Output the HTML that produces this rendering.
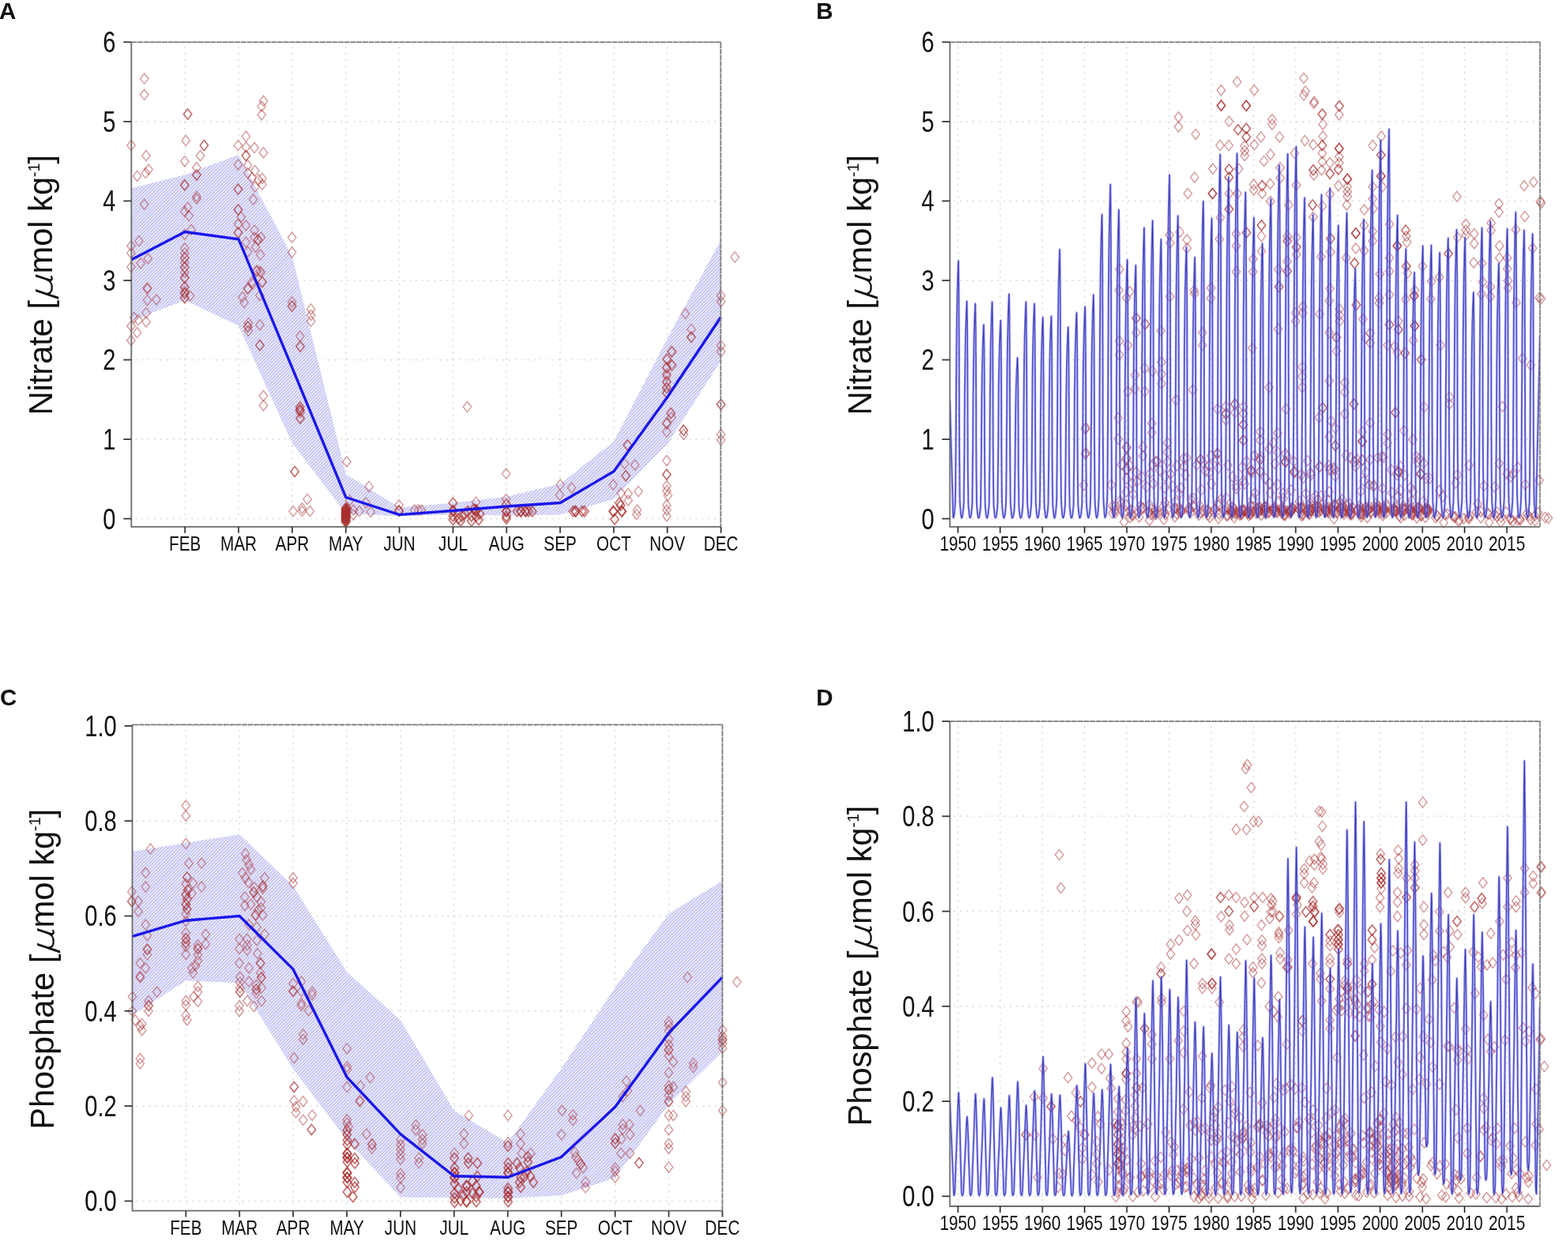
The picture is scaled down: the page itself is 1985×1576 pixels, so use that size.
<!DOCTYPE html>
<html lang="en"><head><meta charset="utf-8"><title>Nitrate and phosphate climatology and time series</title>
<style>
html,body{margin:0;padding:0;background:#fff}
svg{display:block}
text{font-family:"Liberation Sans", sans-serif;fill:#111}
.g{stroke:#dadada;stroke-width:2;stroke-linecap:round;stroke-dasharray:0.01 7.87;fill:none}
.t{stroke:#3a3a3a;stroke-width:1.8}
.th{fill:none;stroke:#7d7dff;stroke-width:3.1;stroke-linejoin:round;stroke-opacity:.55}
.ts{fill:none;stroke:#3a3ab4;stroke-width:1.25;stroke-linejoin:round;stroke-opacity:.95}
.d path{fill:none;stroke:#aa3030;stroke-opacity:.48;stroke-width:1.45}
</style></head><body>
<svg width="1985" height="1576" viewBox="0 0 1985 1576">
<defs>
<pattern id="hatch" width="3" height="3" patternUnits="userSpaceOnUse" patternTransform="rotate(-45)">
<rect width="3" height="3" fill="#ececfd"/><rect width="3" height="1.15" fill="#b6b6ee"/>
</pattern>
</defs>
<rect width="1985" height="1576" fill="#fff"/>

<line x1="234.2" y1="60.3" x2="234.2" y2="658.8" class="g"/>
<line x1="302.0" y1="60.3" x2="302.0" y2="658.8" class="g"/>
<line x1="369.9" y1="60.3" x2="369.9" y2="658.8" class="g"/>
<line x1="437.8" y1="60.3" x2="437.8" y2="658.8" class="g"/>
<line x1="505.6" y1="60.3" x2="505.6" y2="658.8" class="g"/>
<line x1="573.5" y1="60.3" x2="573.5" y2="658.8" class="g"/>
<line x1="641.3" y1="60.3" x2="641.3" y2="658.8" class="g"/>
<line x1="709.1" y1="60.3" x2="709.1" y2="658.8" class="g"/>
<line x1="777.0" y1="60.3" x2="777.0" y2="658.8" class="g"/>
<line x1="844.8" y1="60.3" x2="844.8" y2="658.8" class="g"/>
<line x1="172.3" y1="656.6" x2="910.4" y2="656.6" class="g"/>
<line x1="172.3" y1="556.1" x2="910.4" y2="556.1" class="g"/>
<line x1="172.3" y1="455.5" x2="910.4" y2="455.5" class="g"/>
<line x1="172.3" y1="355.0" x2="910.4" y2="355.0" class="g"/>
<line x1="172.3" y1="254.4" x2="910.4" y2="254.4" class="g"/>
<line x1="172.3" y1="153.9" x2="910.4" y2="153.9" class="g"/>
<line x1="172.3" y1="53.3" x2="910.4" y2="53.3" class="g"/>
<polygon points="166.3,238.3 234.2,221.2 302.0,196.1 369.9,324.8 437.8,600.3 505.6,642.5 573.5,636.5 641.3,628.8 709.1,612.4 777.0,559.1 844.8,428.4 912.7,303.7 912.7,456.5 844.8,562.1 777.0,632.0 709.1,651.6 641.3,652.6 573.5,651.6 505.6,653.6 437.8,650.1 369.9,561.1 302.0,412.3 234.2,380.1 166.3,406.2" fill="url(#hatch)"/>
<g class="d"><path d="M160.8 184.1l5.2 -6.6 5.2 6.6 -5.2 6.6z"/><path d="M160.8 311.2l5.2 -6.6 5.2 6.6 -5.2 6.6z"/><path d="M160.8 320.4l5.2 -6.6 5.2 6.6 -5.2 6.6z"/><path d="M160.8 337.9l5.2 -6.6 5.2 6.6 -5.2 6.6z"/><path d="M179.8 197.0l5.2 -6.6 5.2 6.6 -5.2 6.6z"/><path d="M168.4 222.9l5.2 -6.6 5.2 6.6 -5.2 6.6z"/><path d="M179.1 219.1l5.2 -6.6 5.2 6.6 -5.2 6.6z"/><path d="M182.9 214.5l5.2 -6.6 5.2 6.6 -5.2 6.6z"/><path d="M177.5 258.7l5.2 -6.6 5.2 6.6 -5.2 6.6z"/><path d="M170.7 305.1l5.2 -6.6 5.2 6.6 -5.2 6.6z"/><path d="M173.0 333.3l5.2 -6.6 5.2 6.6 -5.2 6.6z"/><path d="M182.1 327.2l5.2 -6.6 5.2 6.6 -5.2 6.6z"/><path d="M181.3 364.5l5.2 -6.6 5.2 6.6 -5.2 6.6z"/><path d="M230.1 178.0l5.2 -6.6 5.2 6.6 -5.2 6.6z"/><path d="M228.6 204.2l5.2 -6.6 5.2 6.6 -5.2 6.6z"/><path d="M228.6 234.3l5.2 -6.6 5.2 6.6 -5.2 6.6z"/><path d="M228.6 234.3l5.2 -6.6 5.2 6.6 -5.2 6.6z"/><path d="M243.8 212.2l5.2 -6.6 5.2 6.6 -5.2 6.6z"/><path d="M243.8 221.4l5.2 -6.6 5.2 6.6 -5.2 6.6z"/><path d="M243.8 221.4l5.2 -6.6 5.2 6.6 -5.2 6.6z"/><path d="M248.4 197.0l5.2 -6.6 5.2 6.6 -5.2 6.6z"/><path d="M253.2 184.1l5.2 -6.6 5.2 6.6 -5.2 6.6z"/><path d="M253.2 184.1l5.2 -6.6 5.2 6.6 -5.2 6.6z"/><path d="M243.8 248.8l5.2 -6.6 5.2 6.6 -5.2 6.6z"/><path d="M243.8 251.8l5.2 -6.6 5.2 6.6 -5.2 6.6z"/><path d="M232.4 262.5l5.2 -6.6 5.2 6.6 -5.2 6.6z"/><path d="M228.6 267.8l5.2 -6.6 5.2 6.6 -5.2 6.6z"/><path d="M233.9 273.1l5.2 -6.6 5.2 6.6 -5.2 6.6z"/><path d="M236.9 290.7l5.2 -6.6 5.2 6.6 -5.2 6.6z"/><path d="M228.6 296.8l5.2 -6.6 5.2 6.6 -5.2 6.6z"/><path d="M228.6 314.3l5.2 -6.6 5.2 6.6 -5.2 6.6z"/><path d="M228.6 320.4l5.2 -6.6 5.2 6.6 -5.2 6.6z"/><path d="M228.6 326.4l5.2 -6.6 5.2 6.6 -5.2 6.6z"/><path d="M228.6 326.4l5.2 -6.6 5.2 6.6 -5.2 6.6z"/><path d="M228.6 332.5l5.2 -6.6 5.2 6.6 -5.2 6.6z"/><path d="M228.6 338.6l5.2 -6.6 5.2 6.6 -5.2 6.6z"/><path d="M228.6 338.6l5.2 -6.6 5.2 6.6 -5.2 6.6z"/><path d="M228.6 344.7l5.2 -6.6 5.2 6.6 -5.2 6.6z"/><path d="M228.6 352.3l5.2 -6.6 5.2 6.6 -5.2 6.6z"/><path d="M228.6 363.0l5.2 -6.6 5.2 6.6 -5.2 6.6z"/><path d="M228.6 369.1l5.2 -6.6 5.2 6.6 -5.2 6.6z"/><path d="M296.3 184.1l5.2 -6.6 5.2 6.6 -5.2 6.6z"/><path d="M306.2 172.6l5.2 -6.6 5.2 6.6 -5.2 6.6z"/><path d="M306.2 186.3l5.2 -6.6 5.2 6.6 -5.2 6.6z"/><path d="M306.2 197.0l5.2 -6.6 5.2 6.6 -5.2 6.6z"/><path d="M306.2 197.0l5.2 -6.6 5.2 6.6 -5.2 6.6z"/><path d="M316.9 187.1l5.2 -6.6 5.2 6.6 -5.2 6.6z"/><path d="M328.3 193.2l5.2 -6.6 5.2 6.6 -5.2 6.6z"/><path d="M296.3 208.4l5.2 -6.6 5.2 6.6 -5.2 6.6z"/><path d="M308.5 209.2l5.2 -6.6 5.2 6.6 -5.2 6.6z"/><path d="M317.6 216.0l5.2 -6.6 5.2 6.6 -5.2 6.6z"/><path d="M308.5 219.1l5.2 -6.6 5.2 6.6 -5.2 6.6z"/><path d="M313.8 225.2l5.2 -6.6 5.2 6.6 -5.2 6.6z"/><path d="M317.6 236.6l5.2 -6.6 5.2 6.6 -5.2 6.6z"/><path d="M322.2 227.5l5.2 -6.6 5.2 6.6 -5.2 6.6z"/><path d="M326.8 225.9l5.2 -6.6 5.2 6.6 -5.2 6.6z"/><path d="M326.8 233.6l5.2 -6.6 5.2 6.6 -5.2 6.6z"/><path d="M296.3 239.6l5.2 -6.6 5.2 6.6 -5.2 6.6z"/><path d="M296.3 239.6l5.2 -6.6 5.2 6.6 -5.2 6.6z"/><path d="M315.4 252.6l5.2 -6.6 5.2 6.6 -5.2 6.6z"/><path d="M296.3 265.5l5.2 -6.6 5.2 6.6 -5.2 6.6z"/><path d="M296.3 265.5l5.2 -6.6 5.2 6.6 -5.2 6.6z"/><path d="M300.1 274.7l5.2 -6.6 5.2 6.6 -5.2 6.6z"/><path d="M296.3 283.8l5.2 -6.6 5.2 6.6 -5.2 6.6z"/><path d="M306.2 285.3l5.2 -6.6 5.2 6.6 -5.2 6.6z"/><path d="M296.3 294.5l5.2 -6.6 5.2 6.6 -5.2 6.6z"/><path d="M296.3 294.5l5.2 -6.6 5.2 6.6 -5.2 6.6z"/><path d="M316.9 291.4l5.2 -6.6 5.2 6.6 -5.2 6.6z"/><path d="M316.9 300.6l5.2 -6.6 5.2 6.6 -5.2 6.6z"/><path d="M321.4 303.6l5.2 -6.6 5.2 6.6 -5.2 6.6z"/><path d="M321.4 303.6l5.2 -6.6 5.2 6.6 -5.2 6.6z"/><path d="M325.3 300.6l5.2 -6.6 5.2 6.6 -5.2 6.6z"/><path d="M306.2 306.6l5.2 -6.6 5.2 6.6 -5.2 6.6z"/><path d="M318.4 312.7l5.2 -6.6 5.2 6.6 -5.2 6.6z"/><path d="M324.5 322.6l5.2 -6.6 5.2 6.6 -5.2 6.6z"/><path d="M308.5 318.8l5.2 -6.6 5.2 6.6 -5.2 6.6z"/><path d="M319.9 343.2l5.2 -6.6 5.2 6.6 -5.2 6.6z"/><path d="M325.3 344.7l5.2 -6.6 5.2 6.6 -5.2 6.6z"/><path d="M326.8 356.9l5.2 -6.6 5.2 6.6 -5.2 6.6z"/><path d="M308.5 365.3l5.2 -6.6 5.2 6.6 -5.2 6.6z"/><path d="M313.8 356.9l5.2 -6.6 5.2 6.6 -5.2 6.6z"/><path d="M364.4 300.6l5.2 -6.6 5.2 6.6 -5.2 6.6z"/><path d="M364.4 319.6l5.2 -6.6 5.2 6.6 -5.2 6.6z"/><path d="M177.5 99.6l5.2 -6.6 5.2 6.6 -5.2 6.6z"/><path d="M177.5 119.8l5.2 -6.6 5.2 6.6 -5.2 6.6z"/><path d="M328.3 127.8l5.2 -6.6 5.2 6.6 -5.2 6.6z"/><path d="M326.0 134.6l5.2 -6.6 5.2 6.6 -5.2 6.6z"/><path d="M326.0 145.3l5.2 -6.6 5.2 6.6 -5.2 6.6z"/><path d="M232.4 144.5l5.2 -6.6 5.2 6.6 -5.2 6.6z"/><path d="M232.4 144.5l5.2 -6.6 5.2 6.6 -5.2 6.6z"/><path d="M160.8 412.7l5.2 -6.6 5.2 6.6 -5.2 6.6z"/><path d="M164.6 402.0l5.2 -6.6 5.2 6.6 -5.2 6.6z"/><path d="M160.8 431.0l5.2 -6.6 5.2 6.6 -5.2 6.6z"/><path d="M181.3 365.5l5.2 -6.6 5.2 6.6 -5.2 6.6z"/><path d="M181.3 379.9l5.2 -6.6 5.2 6.6 -5.2 6.6z"/><path d="M192.8 379.2l5.2 -6.6 5.2 6.6 -5.2 6.6z"/><path d="M179.8 395.9l5.2 -6.6 5.2 6.6 -5.2 6.6z"/><path d="M169.9 405.1l5.2 -6.6 5.2 6.6 -5.2 6.6z"/><path d="M179.8 407.4l5.2 -6.6 5.2 6.6 -5.2 6.6z"/><path d="M168.4 421.1l5.2 -6.6 5.2 6.6 -5.2 6.6z"/><path d="M228.6 351.0l5.2 -6.6 5.2 6.6 -5.2 6.6z"/><path d="M228.6 364.0l5.2 -6.6 5.2 6.6 -5.2 6.6z"/><path d="M228.6 371.6l5.2 -6.6 5.2 6.6 -5.2 6.6z"/><path d="M228.6 371.6l5.2 -6.6 5.2 6.6 -5.2 6.6z"/><path d="M228.6 376.9l5.2 -6.6 5.2 6.6 -5.2 6.6z"/><path d="M228.6 376.9l5.2 -6.6 5.2 6.6 -5.2 6.6z"/><path d="M235.4 374.6l5.2 -6.6 5.2 6.6 -5.2 6.6z"/><path d="M308.5 365.5l5.2 -6.6 5.2 6.6 -5.2 6.6z"/><path d="M301.7 376.1l5.2 -6.6 5.2 6.6 -5.2 6.6z"/><path d="M303.9 383.0l5.2 -6.6 5.2 6.6 -5.2 6.6z"/><path d="M314.6 359.4l5.2 -6.6 5.2 6.6 -5.2 6.6z"/><path d="M309.3 408.9l5.2 -6.6 5.2 6.6 -5.2 6.6z"/><path d="M308.5 413.5l5.2 -6.6 5.2 6.6 -5.2 6.6z"/><path d="M308.5 413.5l5.2 -6.6 5.2 6.6 -5.2 6.6z"/><path d="M309.3 418.8l5.2 -6.6 5.2 6.6 -5.2 6.6z"/><path d="M323.7 411.2l5.2 -6.6 5.2 6.6 -5.2 6.6z"/><path d="M323.7 437.1l5.2 -6.6 5.2 6.6 -5.2 6.6z"/><path d="M323.7 437.1l5.2 -6.6 5.2 6.6 -5.2 6.6z"/><path d="M328.3 501.0l5.2 -6.6 5.2 6.6 -5.2 6.6z"/><path d="M328.3 513.2l5.2 -6.6 5.2 6.6 -5.2 6.6z"/><path d="M319.9 342.6l5.2 -6.6 5.2 6.6 -5.2 6.6z"/><path d="M323.7 343.4l5.2 -6.6 5.2 6.6 -5.2 6.6z"/><path d="M326.8 357.1l5.2 -6.6 5.2 6.6 -5.2 6.6z"/><path d="M323.7 373.9l5.2 -6.6 5.2 6.6 -5.2 6.6z"/><path d="M364.4 382.2l5.2 -6.6 5.2 6.6 -5.2 6.6z"/><path d="M364.4 387.6l5.2 -6.6 5.2 6.6 -5.2 6.6z"/><path d="M364.4 387.6l5.2 -6.6 5.2 6.6 -5.2 6.6z"/><path d="M374.7 425.6l5.2 -6.6 5.2 6.6 -5.2 6.6z"/><path d="M374.7 438.6l5.2 -6.6 5.2 6.6 -5.2 6.6z"/><path d="M388.5 391.4l5.2 -6.6 5.2 6.6 -5.2 6.6z"/><path d="M388.5 399.0l5.2 -6.6 5.2 6.6 -5.2 6.6z"/><path d="M388.5 406.6l5.2 -6.6 5.2 6.6 -5.2 6.6z"/><path d="M374.7 514.7l5.2 -6.6 5.2 6.6 -5.2 6.6z"/><path d="M374.7 519.3l5.2 -6.6 5.2 6.6 -5.2 6.6z"/><path d="M374.7 519.3l5.2 -6.6 5.2 6.6 -5.2 6.6z"/><path d="M374.7 529.2l5.2 -6.6 5.2 6.6 -5.2 6.6z"/><path d="M375.1 438.5l5.2 -6.6 5.2 6.6 -5.2 6.6z"/><path d="M374.3 516.1l5.2 -6.6 5.2 6.6 -5.2 6.6z"/><path d="M374.3 519.2l5.2 -6.6 5.2 6.6 -5.2 6.6z"/><path d="M375.1 522.2l5.2 -6.6 5.2 6.6 -5.2 6.6z"/><path d="M375.1 529.8l5.2 -6.6 5.2 6.6 -5.2 6.6z"/><path d="M367.9 596.9l5.2 -6.6 5.2 6.6 -5.2 6.6z"/><path d="M367.9 596.9l5.2 -6.6 5.2 6.6 -5.2 6.6z"/><path d="M365.9 647.1l5.2 -6.6 5.2 6.6 -5.2 6.6z"/><path d="M377.3 643.3l5.2 -6.6 5.2 6.6 -5.2 6.6z"/><path d="M377.3 647.1l5.2 -6.6 5.2 6.6 -5.2 6.6z"/><path d="M383.9 631.9l5.2 -6.6 5.2 6.6 -5.2 6.6z"/><path d="M387.2 647.1l5.2 -6.6 5.2 6.6 -5.2 6.6z"/><path d="M433.7 584.4l5.2 -6.6 5.2 6.6 -5.2 6.6z"/><path d="M432.6 642.5l5.2 -6.6 5.2 6.6 -5.2 6.6z"/><path d="M432.6 644.8l5.2 -6.6 5.2 6.6 -5.2 6.6z"/><path d="M432.6 644.8l5.2 -6.6 5.2 6.6 -5.2 6.6z"/><path d="M432.6 644.8l5.2 -6.6 5.2 6.6 -5.2 6.6z"/><path d="M432.6 644.8l5.2 -6.6 5.2 6.6 -5.2 6.6z"/><path d="M432.6 644.8l5.2 -6.6 5.2 6.6 -5.2 6.6z"/><path d="M432.6 647.1l5.2 -6.6 5.2 6.6 -5.2 6.6z"/><path d="M432.6 647.1l5.2 -6.6 5.2 6.6 -5.2 6.6z"/><path d="M432.6 647.1l5.2 -6.6 5.2 6.6 -5.2 6.6z"/><path d="M432.6 647.1l5.2 -6.6 5.2 6.6 -5.2 6.6z"/><path d="M432.6 647.1l5.2 -6.6 5.2 6.6 -5.2 6.6z"/><path d="M432.6 647.1l5.2 -6.6 5.2 6.6 -5.2 6.6z"/><path d="M432.6 649.4l5.2 -6.6 5.2 6.6 -5.2 6.6z"/><path d="M432.6 649.4l5.2 -6.6 5.2 6.6 -5.2 6.6z"/><path d="M432.6 649.4l5.2 -6.6 5.2 6.6 -5.2 6.6z"/><path d="M432.6 649.4l5.2 -6.6 5.2 6.6 -5.2 6.6z"/><path d="M432.6 649.4l5.2 -6.6 5.2 6.6 -5.2 6.6z"/><path d="M432.6 649.4l5.2 -6.6 5.2 6.6 -5.2 6.6z"/><path d="M432.6 651.7l5.2 -6.6 5.2 6.6 -5.2 6.6z"/><path d="M432.6 651.7l5.2 -6.6 5.2 6.6 -5.2 6.6z"/><path d="M432.6 651.7l5.2 -6.6 5.2 6.6 -5.2 6.6z"/><path d="M432.6 651.7l5.2 -6.6 5.2 6.6 -5.2 6.6z"/><path d="M432.6 651.7l5.2 -6.6 5.2 6.6 -5.2 6.6z"/><path d="M432.6 651.7l5.2 -6.6 5.2 6.6 -5.2 6.6z"/><path d="M432.6 654.0l5.2 -6.6 5.2 6.6 -5.2 6.6z"/><path d="M432.6 654.0l5.2 -6.6 5.2 6.6 -5.2 6.6z"/><path d="M432.6 654.0l5.2 -6.6 5.2 6.6 -5.2 6.6z"/><path d="M432.6 654.0l5.2 -6.6 5.2 6.6 -5.2 6.6z"/><path d="M432.6 654.0l5.2 -6.6 5.2 6.6 -5.2 6.6z"/><path d="M432.6 654.0l5.2 -6.6 5.2 6.6 -5.2 6.6z"/><path d="M432.6 656.2l5.2 -6.6 5.2 6.6 -5.2 6.6z"/><path d="M432.6 656.2l5.2 -6.6 5.2 6.6 -5.2 6.6z"/><path d="M432.6 656.2l5.2 -6.6 5.2 6.6 -5.2 6.6z"/><path d="M432.6 656.2l5.2 -6.6 5.2 6.6 -5.2 6.6z"/><path d="M432.6 656.2l5.2 -6.6 5.2 6.6 -5.2 6.6z"/><path d="M432.6 658.5l5.2 -6.6 5.2 6.6 -5.2 6.6z"/><path d="M432.6 658.5l5.2 -6.6 5.2 6.6 -5.2 6.6z"/><path d="M432.6 658.5l5.2 -6.6 5.2 6.6 -5.2 6.6z"/><path d="M432.6 658.5l5.2 -6.6 5.2 6.6 -5.2 6.6z"/><path d="M432.6 660.8l5.2 -6.6 5.2 6.6 -5.2 6.6z"/><path d="M432.6 660.8l5.2 -6.6 5.2 6.6 -5.2 6.6z"/><path d="M432.6 660.8l5.2 -6.6 5.2 6.6 -5.2 6.6z"/><path d="M434.4 644.1l5.2 -6.6 5.2 6.6 -5.2 6.6z"/><path d="M434.4 644.1l5.2 -6.6 5.2 6.6 -5.2 6.6z"/><path d="M437.5 633.4l5.2 -6.6 5.2 6.6 -5.2 6.6z"/><path d="M442.1 645.6l5.2 -6.6 5.2 6.6 -5.2 6.6z"/><path d="M442.1 651.7l5.2 -6.6 5.2 6.6 -5.2 6.6z"/><path d="M449.7 647.1l5.2 -6.6 5.2 6.6 -5.2 6.6z"/><path d="M458.0 636.4l5.2 -6.6 5.2 6.6 -5.2 6.6z"/><path d="M461.9 615.9l5.2 -6.6 5.2 6.6 -5.2 6.6z"/><path d="M464.1 647.9l5.2 -6.6 5.2 6.6 -5.2 6.6z"/><path d="M499.9 639.5l5.2 -6.6 5.2 6.6 -5.2 6.6z"/><path d="M499.9 646.3l5.2 -6.6 5.2 6.6 -5.2 6.6z"/><path d="M499.9 646.3l5.2 -6.6 5.2 6.6 -5.2 6.6z"/><path d="M499.9 647.1l5.2 -6.6 5.2 6.6 -5.2 6.6z"/><path d="M519.7 645.6l5.2 -6.6 5.2 6.6 -5.2 6.6z"/><path d="M524.3 645.6l5.2 -6.6 5.2 6.6 -5.2 6.6z"/><path d="M528.1 645.6l5.2 -6.6 5.2 6.6 -5.2 6.6z"/><path d="M586.3 515.1l5.2 -6.6 5.2 6.6 -5.2 6.6z"/><path d="M568.0 636.4l5.2 -6.6 5.2 6.6 -5.2 6.6z"/><path d="M568.0 646.3l5.2 -6.6 5.2 6.6 -5.2 6.6z"/><path d="M568.0 646.3l5.2 -6.6 5.2 6.6 -5.2 6.6z"/><path d="M568.0 653.2l5.2 -6.6 5.2 6.6 -5.2 6.6z"/><path d="M568.0 657.8l5.2 -6.6 5.2 6.6 -5.2 6.6z"/><path d="M574.6 656.2l5.2 -6.6 5.2 6.6 -5.2 6.6z"/><path d="M579.2 653.2l5.2 -6.6 5.2 6.6 -5.2 6.6z"/><path d="M583.0 650.2l5.2 -6.6 5.2 6.6 -5.2 6.6z"/><path d="M586.8 647.1l5.2 -6.6 5.2 6.6 -5.2 6.6z"/><path d="M591.3 653.2l5.2 -6.6 5.2 6.6 -5.2 6.6z"/><path d="M594.4 644.1l5.2 -6.6 5.2 6.6 -5.2 6.6z"/><path d="M597.4 635.7l5.2 -6.6 5.2 6.6 -5.2 6.6z"/><path d="M597.4 645.6l5.2 -6.6 5.2 6.6 -5.2 6.6z"/><path d="M597.4 645.6l5.2 -6.6 5.2 6.6 -5.2 6.6z"/><path d="M597.4 653.2l5.2 -6.6 5.2 6.6 -5.2 6.6z"/><path d="M600.5 657.8l5.2 -6.6 5.2 6.6 -5.2 6.6z"/><path d="M602.0 650.2l5.2 -6.6 5.2 6.6 -5.2 6.6z"/><path d="M591.3 659.3l5.2 -6.6 5.2 6.6 -5.2 6.6z"/><path d="M577.6 659.3l5.2 -6.6 5.2 6.6 -5.2 6.6z"/><path d="M635.5 599.6l5.2 -6.6 5.2 6.6 -5.2 6.6z"/><path d="M635.5 631.9l5.2 -6.6 5.2 6.6 -5.2 6.6z"/><path d="M635.5 638.0l5.2 -6.6 5.2 6.6 -5.2 6.6z"/><path d="M635.5 647.1l5.2 -6.6 5.2 6.6 -5.2 6.6z"/><path d="M635.5 647.1l5.2 -6.6 5.2 6.6 -5.2 6.6z"/><path d="M635.5 653.2l5.2 -6.6 5.2 6.6 -5.2 6.6z"/><path d="M635.5 656.2l5.2 -6.6 5.2 6.6 -5.2 6.6z"/><path d="M649.2 647.1l5.2 -6.6 5.2 6.6 -5.2 6.6z"/><path d="M653.8 647.1l5.2 -6.6 5.2 6.6 -5.2 6.6z"/><path d="M653.8 647.1l5.2 -6.6 5.2 6.6 -5.2 6.6z"/><path d="M659.9 647.1l5.2 -6.6 5.2 6.6 -5.2 6.6z"/><path d="M659.9 647.1l5.2 -6.6 5.2 6.6 -5.2 6.6z"/><path d="M663.7 647.1l5.2 -6.6 5.2 6.6 -5.2 6.6z"/><path d="M668.3 647.1l5.2 -6.6 5.2 6.6 -5.2 6.6z"/><path d="M704.0 613.6l5.2 -6.6 5.2 6.6 -5.2 6.6z"/><path d="M703.3 626.5l5.2 -6.6 5.2 6.6 -5.2 6.6z"/><path d="M718.5 617.4l5.2 -6.6 5.2 6.6 -5.2 6.6z"/><path d="M720.0 647.1l5.2 -6.6 5.2 6.6 -5.2 6.6z"/><path d="M723.1 647.1l5.2 -6.6 5.2 6.6 -5.2 6.6z"/><path d="M723.1 647.1l5.2 -6.6 5.2 6.6 -5.2 6.6z"/><path d="M731.4 647.1l5.2 -6.6 5.2 6.6 -5.2 6.6z"/><path d="M734.5 647.1l5.2 -6.6 5.2 6.6 -5.2 6.6z"/><path d="M771.0 613.6l5.2 -6.6 5.2 6.6 -5.2 6.6z"/><path d="M771.0 647.1l5.2 -6.6 5.2 6.6 -5.2 6.6z"/><path d="M771.0 647.1l5.2 -6.6 5.2 6.6 -5.2 6.6z"/><path d="M772.6 657.0l5.2 -6.6 5.2 6.6 -5.2 6.6z"/><path d="M778.7 636.4l5.2 -6.6 5.2 6.6 -5.2 6.6z"/><path d="M780.2 639.5l5.2 -6.6 5.2 6.6 -5.2 6.6z"/><path d="M781.7 647.1l5.2 -6.6 5.2 6.6 -5.2 6.6z"/><path d="M781.7 647.1l5.2 -6.6 5.2 6.6 -5.2 6.6z"/><path d="M780.9 624.3l5.2 -6.6 5.2 6.6 -5.2 6.6z"/><path d="M787.0 602.2l5.2 -6.6 5.2 6.6 -5.2 6.6z"/><path d="M787.0 602.2l5.2 -6.6 5.2 6.6 -5.2 6.6z"/><path d="M789.3 563.4l5.2 -6.6 5.2 6.6 -5.2 6.6z"/><path d="M789.3 563.4l5.2 -6.6 5.2 6.6 -5.2 6.6z"/><path d="M785.5 587.0l5.2 -6.6 5.2 6.6 -5.2 6.6z"/><path d="M790.1 625.0l5.2 -6.6 5.2 6.6 -5.2 6.6z"/><path d="M790.1 633.4l5.2 -6.6 5.2 6.6 -5.2 6.6z"/><path d="M798.5 588.5l5.2 -6.6 5.2 6.6 -5.2 6.6z"/><path d="M803.0 622.0l5.2 -6.6 5.2 6.6 -5.2 6.6z"/><path d="M801.5 645.6l5.2 -6.6 5.2 6.6 -5.2 6.6z"/><path d="M800.7 650.9l5.2 -6.6 5.2 6.6 -5.2 6.6z"/><path d="M838.8 454.5l5.2 -6.6 5.2 6.6 -5.2 6.6z"/><path d="M845.7 445.3l5.2 -6.6 5.2 6.6 -5.2 6.6z"/><path d="M845.7 462.8l5.2 -6.6 5.2 6.6 -5.2 6.6z"/><path d="M838.8 465.9l5.2 -6.6 5.2 6.6 -5.2 6.6z"/><path d="M838.8 475.8l5.2 -6.6 5.2 6.6 -5.2 6.6z"/><path d="M838.8 482.6l5.2 -6.6 5.2 6.6 -5.2 6.6z"/><path d="M838.8 490.3l5.2 -6.6 5.2 6.6 -5.2 6.6z"/><path d="M838.8 497.1l5.2 -6.6 5.2 6.6 -5.2 6.6z"/><path d="M844.1 523.0l5.2 -6.6 5.2 6.6 -5.2 6.6z"/><path d="M844.1 523.0l5.2 -6.6 5.2 6.6 -5.2 6.6z"/><path d="M844.9 528.3l5.2 -6.6 5.2 6.6 -5.2 6.6z"/><path d="M838.8 535.9l5.2 -6.6 5.2 6.6 -5.2 6.6z"/><path d="M838.8 535.9l5.2 -6.6 5.2 6.6 -5.2 6.6z"/><path d="M838.8 546.6l5.2 -6.6 5.2 6.6 -5.2 6.6z"/><path d="M838.8 583.1l5.2 -6.6 5.2 6.6 -5.2 6.6z"/><path d="M838.8 600.7l5.2 -6.6 5.2 6.6 -5.2 6.6z"/><path d="M838.8 600.7l5.2 -6.6 5.2 6.6 -5.2 6.6z"/><path d="M838.8 615.1l5.2 -6.6 5.2 6.6 -5.2 6.6z"/><path d="M838.8 621.2l5.2 -6.6 5.2 6.6 -5.2 6.6z"/><path d="M840.3 627.3l5.2 -6.6 5.2 6.6 -5.2 6.6z"/><path d="M838.8 639.5l5.2 -6.6 5.2 6.6 -5.2 6.6z"/><path d="M838.8 645.6l5.2 -6.6 5.2 6.6 -5.2 6.6z"/><path d="M838.8 653.2l5.2 -6.6 5.2 6.6 -5.2 6.6z"/><path d="M925.1 325.5l5.2 -6.6 5.2 6.6 -5.2 6.6z"/><path d="M907.5 374.2l5.2 -6.6 5.2 6.6 -5.2 6.6z"/><path d="M907.5 381.8l5.2 -6.6 5.2 6.6 -5.2 6.6z"/><path d="M907.5 437.4l5.2 -6.6 5.2 6.6 -5.2 6.6z"/><path d="M907.5 445.0l5.2 -6.6 5.2 6.6 -5.2 6.6z"/><path d="M862.3 397.1l5.2 -6.6 5.2 6.6 -5.2 6.6z"/><path d="M869.9 416.9l5.2 -6.6 5.2 6.6 -5.2 6.6z"/><path d="M869.9 426.8l5.2 -6.6 5.2 6.6 -5.2 6.6z"/><path d="M869.9 426.8l5.2 -6.6 5.2 6.6 -5.2 6.6z"/><path d="M844.8 445.0l5.2 -6.6 5.2 6.6 -5.2 6.6z"/><path d="M839.5 454.9l5.2 -6.6 5.2 6.6 -5.2 6.6z"/><path d="M844.8 461.8l5.2 -6.6 5.2 6.6 -5.2 6.6z"/><path d="M838.7 464.8l5.2 -6.6 5.2 6.6 -5.2 6.6z"/><path d="M838.7 473.2l5.2 -6.6 5.2 6.6 -5.2 6.6z"/><path d="M838.7 483.9l5.2 -6.6 5.2 6.6 -5.2 6.6z"/><path d="M838.7 491.5l5.2 -6.6 5.2 6.6 -5.2 6.6z"/><path d="M838.7 497.6l5.2 -6.6 5.2 6.6 -5.2 6.6z"/><path d="M907.5 512.0l5.2 -6.6 5.2 6.6 -5.2 6.6z"/><path d="M907.5 512.0l5.2 -6.6 5.2 6.6 -5.2 6.6z"/><path d="M907.5 550.1l5.2 -6.6 5.2 6.6 -5.2 6.6z"/><path d="M907.5 557.0l5.2 -6.6 5.2 6.6 -5.2 6.6z"/><path d="M860.2 544.8l5.2 -6.6 5.2 6.6 -5.2 6.6z"/><path d="M860.2 544.8l5.2 -6.6 5.2 6.6 -5.2 6.6z"/><path d="M860.2 550.1l5.2 -6.6 5.2 6.6 -5.2 6.6z"/><path d="M568.6 636.9l5.2 -6.6 5.2 6.6 -5.2 6.6z"/><path d="M568.6 646.8l5.2 -6.6 5.2 6.6 -5.2 6.6z"/><path d="M568.6 646.8l5.2 -6.6 5.2 6.6 -5.2 6.6z"/><path d="M568.6 653.7l5.2 -6.6 5.2 6.6 -5.2 6.6z"/><path d="M568.6 658.3l5.2 -6.6 5.2 6.6 -5.2 6.6z"/><path d="M575.2 656.7l5.2 -6.6 5.2 6.6 -5.2 6.6z"/><path d="M579.8 653.7l5.2 -6.6 5.2 6.6 -5.2 6.6z"/><path d="M583.6 650.7l5.2 -6.6 5.2 6.6 -5.2 6.6z"/><path d="M587.4 647.6l5.2 -6.6 5.2 6.6 -5.2 6.6z"/><path d="M591.9 653.7l5.2 -6.6 5.2 6.6 -5.2 6.6z"/><path d="M595.0 644.6l5.2 -6.6 5.2 6.6 -5.2 6.6z"/><path d="M598.0 646.1l5.2 -6.6 5.2 6.6 -5.2 6.6z"/><path d="M598.0 646.1l5.2 -6.6 5.2 6.6 -5.2 6.6z"/><path d="M598.0 653.7l5.2 -6.6 5.2 6.6 -5.2 6.6z"/><path d="M601.1 658.3l5.2 -6.6 5.2 6.6 -5.2 6.6z"/><path d="M602.6 650.7l5.2 -6.6 5.2 6.6 -5.2 6.6z"/><path d="M591.9 659.8l5.2 -6.6 5.2 6.6 -5.2 6.6z"/><path d="M578.2 659.8l5.2 -6.6 5.2 6.6 -5.2 6.6z"/><path d="M636.1 638.5l5.2 -6.6 5.2 6.6 -5.2 6.6z"/><path d="M636.1 647.6l5.2 -6.6 5.2 6.6 -5.2 6.6z"/><path d="M636.1 647.6l5.2 -6.6 5.2 6.6 -5.2 6.6z"/><path d="M636.1 653.7l5.2 -6.6 5.2 6.6 -5.2 6.6z"/><path d="M636.1 656.7l5.2 -6.6 5.2 6.6 -5.2 6.6z"/><path d="M649.8 647.6l5.2 -6.6 5.2 6.6 -5.2 6.6z"/><path d="M654.4 647.6l5.2 -6.6 5.2 6.6 -5.2 6.6z"/><path d="M654.4 647.6l5.2 -6.6 5.2 6.6 -5.2 6.6z"/><path d="M660.5 647.6l5.2 -6.6 5.2 6.6 -5.2 6.6z"/><path d="M660.5 647.6l5.2 -6.6 5.2 6.6 -5.2 6.6z"/><path d="M664.3 647.6l5.2 -6.6 5.2 6.6 -5.2 6.6z"/><path d="M668.9 647.6l5.2 -6.6 5.2 6.6 -5.2 6.6z"/><path d="M720.6 647.6l5.2 -6.6 5.2 6.6 -5.2 6.6z"/><path d="M723.7 647.6l5.2 -6.6 5.2 6.6 -5.2 6.6z"/><path d="M723.7 647.6l5.2 -6.6 5.2 6.6 -5.2 6.6z"/><path d="M732.0 647.6l5.2 -6.6 5.2 6.6 -5.2 6.6z"/><path d="M735.1 647.6l5.2 -6.6 5.2 6.6 -5.2 6.6z"/><path d="M771.6 647.6l5.2 -6.6 5.2 6.6 -5.2 6.6z"/><path d="M771.6 647.6l5.2 -6.6 5.2 6.6 -5.2 6.6z"/><path d="M773.2 657.5l5.2 -6.6 5.2 6.6 -5.2 6.6z"/><path d="M779.3 636.9l5.2 -6.6 5.2 6.6 -5.2 6.6z"/><path d="M780.8 640.0l5.2 -6.6 5.2 6.6 -5.2 6.6z"/><path d="M782.3 647.6l5.2 -6.6 5.2 6.6 -5.2 6.6z"/><path d="M782.3 647.6l5.2 -6.6 5.2 6.6 -5.2 6.6z"/></g>
<polyline points="166.3,328.8 234.2,293.6 302.0,302.7 369.9,465.6 437.8,629.5 505.6,651.6 573.5,646.5 641.3,641.0 709.1,636.5 777.0,596.8 844.8,502.8 912.7,401.2" fill="none" stroke="#1a16e8" stroke-width="3.4" stroke-linejoin="miter"/>
<path d="M166.3 53.3V666.8H912.4" fill="none" stroke="#6a6a6a" stroke-width="1.8"/>
<path d="M166.3 53.3H912.4V666.8" fill="none" stroke="#7a7a7a" stroke-width="1.8" stroke-dasharray="7 0.7"/>
<line x1="156.3" y1="656.6" x2="166.3" y2="656.6" class="t"/>
<text transform="translate(146.5,669.5) scale(0.78,1)" text-anchor="end" font-size="37.3">0</text>
<line x1="156.3" y1="556.1" x2="166.3" y2="556.1" class="t"/>
<text transform="translate(146.5,569.0) scale(0.78,1)" text-anchor="end" font-size="37.3">1</text>
<line x1="156.3" y1="455.5" x2="166.3" y2="455.5" class="t"/>
<text transform="translate(146.5,468.4) scale(0.78,1)" text-anchor="end" font-size="37.3">2</text>
<line x1="156.3" y1="355.0" x2="166.3" y2="355.0" class="t"/>
<text transform="translate(146.5,367.9) scale(0.78,1)" text-anchor="end" font-size="37.3">3</text>
<line x1="156.3" y1="254.4" x2="166.3" y2="254.4" class="t"/>
<text transform="translate(146.5,267.3) scale(0.78,1)" text-anchor="end" font-size="37.3">4</text>
<line x1="156.3" y1="153.9" x2="166.3" y2="153.9" class="t"/>
<text transform="translate(146.5,166.8) scale(0.78,1)" text-anchor="end" font-size="37.3">5</text>
<line x1="156.3" y1="53.3" x2="166.3" y2="53.3" class="t"/>
<text transform="translate(146.5,66.2) scale(0.78,1)" text-anchor="end" font-size="37.3">6</text>
<line x1="234.2" y1="666.8" x2="234.2" y2="674.8" class="t"/>
<text transform="translate(234.2,697.1) scale(0.83,1)" text-anchor="middle" font-size="25">FEB</text>
<line x1="302.0" y1="666.8" x2="302.0" y2="674.8" class="t"/>
<text transform="translate(302.0,697.1) scale(0.83,1)" text-anchor="middle" font-size="25">MAR</text>
<line x1="369.9" y1="666.8" x2="369.9" y2="674.8" class="t"/>
<text transform="translate(369.9,697.1) scale(0.83,1)" text-anchor="middle" font-size="25">APR</text>
<line x1="437.8" y1="666.8" x2="437.8" y2="674.8" class="t"/>
<text transform="translate(437.8,697.1) scale(0.83,1)" text-anchor="middle" font-size="25">MAY</text>
<line x1="505.6" y1="666.8" x2="505.6" y2="674.8" class="t"/>
<text transform="translate(505.6,697.1) scale(0.83,1)" text-anchor="middle" font-size="25">JUN</text>
<line x1="573.5" y1="666.8" x2="573.5" y2="674.8" class="t"/>
<text transform="translate(573.5,697.1) scale(0.83,1)" text-anchor="middle" font-size="25">JUL</text>
<line x1="641.3" y1="666.8" x2="641.3" y2="674.8" class="t"/>
<text transform="translate(641.3,697.1) scale(0.83,1)" text-anchor="middle" font-size="25">AUG</text>
<line x1="709.1" y1="666.8" x2="709.1" y2="674.8" class="t"/>
<text transform="translate(709.1,697.1) scale(0.83,1)" text-anchor="middle" font-size="25">SEP</text>
<line x1="777.0" y1="666.8" x2="777.0" y2="674.8" class="t"/>
<text transform="translate(777.0,697.1) scale(0.83,1)" text-anchor="middle" font-size="25">OCT</text>
<line x1="844.8" y1="666.8" x2="844.8" y2="674.8" class="t"/>
<text transform="translate(844.8,697.1) scale(0.83,1)" text-anchor="middle" font-size="25">NOV</text>
<line x1="912.7" y1="666.8" x2="912.7" y2="674.8" class="t"/>
<text transform="translate(912.7,697.1) scale(0.83,1)" text-anchor="middle" font-size="25">DEC</text>
<text transform="translate(66.2,525.5) rotate(-90)" font-size="41.6">Nitrate [<tspan dx="-1.3" textLength="32.6" lengthAdjust="spacingAndGlyphs" font-size="38" style="font-family:'DejaVu Sans Light','DejaVu Sans',sans-serif;font-style:italic;font-weight:200;stroke:#111;stroke-width:.55">μ</tspan><tspan dx="2.1">mol kg</tspan><tspan dy="-16.2" font-size="19.6">-1</tspan><tspan dy="16.2" dx="-1">]</tspan></text>
<text x="-1" y="24" font-size="29.5" font-weight="bold">A</text>
<line x1="235.3" y1="924.4" x2="235.3" y2="1524.6" class="g"/>
<line x1="303.2" y1="924.4" x2="303.2" y2="1524.6" class="g"/>
<line x1="371.1" y1="924.4" x2="371.1" y2="1524.6" class="g"/>
<line x1="439.1" y1="924.4" x2="439.1" y2="1524.6" class="g"/>
<line x1="507.0" y1="924.4" x2="507.0" y2="1524.6" class="g"/>
<line x1="574.9" y1="924.4" x2="574.9" y2="1524.6" class="g"/>
<line x1="642.8" y1="924.4" x2="642.8" y2="1524.6" class="g"/>
<line x1="710.7" y1="924.4" x2="710.7" y2="1524.6" class="g"/>
<line x1="778.7" y1="924.4" x2="778.7" y2="1524.6" class="g"/>
<line x1="846.6" y1="924.4" x2="846.6" y2="1524.6" class="g"/>
<line x1="173.5" y1="1520.4" x2="912.5" y2="1520.4" class="g"/>
<line x1="173.5" y1="1400.1" x2="912.5" y2="1400.1" class="g"/>
<line x1="173.5" y1="1279.8" x2="912.5" y2="1279.8" class="g"/>
<line x1="173.5" y1="1159.5" x2="912.5" y2="1159.5" class="g"/>
<line x1="173.5" y1="1039.2" x2="912.5" y2="1039.2" class="g"/>
<line x1="173.5" y1="918.9" x2="912.5" y2="918.9" class="g"/>
<polygon points="167.4,1077.7 235.3,1066.9 303.2,1056.3 371.1,1121.6 439.1,1230.5 507.0,1291.2 574.9,1406.1 642.8,1446.4 710.7,1352.6 778.7,1250.0 846.6,1156.5 914.5,1115.0 914.5,1330.9 846.6,1397.7 778.7,1491.1 710.7,1513.2 642.8,1517.0 574.9,1516.2 507.0,1515.6 439.1,1443.1 371.1,1353.2 303.2,1244.3 235.3,1241.3 167.4,1285.2" fill="url(#hatch)"/>
<g class="d"><path d="M185.2 1074.6l5.2 -6.6 5.2 6.6 -5.2 6.6z"/><path d="M230.1 1019.8l5.2 -6.6 5.2 6.6 -5.2 6.6z"/><path d="M230.1 1032.7l5.2 -6.6 5.2 6.6 -5.2 6.6z"/><path d="M230.1 1068.1l5.2 -6.6 5.2 6.6 -5.2 6.6z"/><path d="M233.9 1092.9l5.2 -6.6 5.2 6.6 -5.2 6.6z"/><path d="M249.9 1092.6l5.2 -6.6 5.2 6.6 -5.2 6.6z"/><path d="M179.1 1104.8l5.2 -6.6 5.2 6.6 -5.2 6.6z"/><path d="M179.1 1122.6l5.2 -6.6 5.2 6.6 -5.2 6.6z"/><path d="M249.9 1122.6l5.2 -6.6 5.2 6.6 -5.2 6.6z"/><path d="M239.2 1118.0l5.2 -6.6 5.2 6.6 -5.2 6.6z"/><path d="M161.6 1128.7l5.2 -6.6 5.2 6.6 -5.2 6.6z"/><path d="M161.6 1140.9l5.2 -6.6 5.2 6.6 -5.2 6.6z"/><path d="M161.6 1140.9l5.2 -6.6 5.2 6.6 -5.2 6.6z"/><path d="M169.9 1140.9l5.2 -6.6 5.2 6.6 -5.2 6.6z"/><path d="M169.9 1153.8l5.2 -6.6 5.2 6.6 -5.2 6.6z"/><path d="M179.1 1170.6l5.2 -6.6 5.2 6.6 -5.2 6.6z"/><path d="M181.3 1184.3l5.2 -6.6 5.2 6.6 -5.2 6.6z"/><path d="M181.3 1201.8l5.2 -6.6 5.2 6.6 -5.2 6.6z"/><path d="M181.3 1201.8l5.2 -6.6 5.2 6.6 -5.2 6.6z"/><path d="M181.3 1208.6l5.2 -6.6 5.2 6.6 -5.2 6.6z"/><path d="M172.2 1219.3l5.2 -6.6 5.2 6.6 -5.2 6.6z"/><path d="M179.1 1225.4l5.2 -6.6 5.2 6.6 -5.2 6.6z"/><path d="M172.2 1236.0l5.2 -6.6 5.2 6.6 -5.2 6.6z"/><path d="M231.6 1110.4l5.2 -6.6 5.2 6.6 -5.2 6.6z"/><path d="M231.6 1110.4l5.2 -6.6 5.2 6.6 -5.2 6.6z"/><path d="M230.1 1118.8l5.2 -6.6 5.2 6.6 -5.2 6.6z"/><path d="M232.4 1126.4l5.2 -6.6 5.2 6.6 -5.2 6.6z"/><path d="M232.4 1126.4l5.2 -6.6 5.2 6.6 -5.2 6.6z"/><path d="M230.1 1132.5l5.2 -6.6 5.2 6.6 -5.2 6.6z"/><path d="M230.1 1132.5l5.2 -6.6 5.2 6.6 -5.2 6.6z"/><path d="M231.6 1138.6l5.2 -6.6 5.2 6.6 -5.2 6.6z"/><path d="M231.6 1138.6l5.2 -6.6 5.2 6.6 -5.2 6.6z"/><path d="M230.1 1144.7l5.2 -6.6 5.2 6.6 -5.2 6.6z"/><path d="M230.1 1144.7l5.2 -6.6 5.2 6.6 -5.2 6.6z"/><path d="M231.6 1150.8l5.2 -6.6 5.2 6.6 -5.2 6.6z"/><path d="M231.6 1150.8l5.2 -6.6 5.2 6.6 -5.2 6.6z"/><path d="M230.1 1156.9l5.2 -6.6 5.2 6.6 -5.2 6.6z"/><path d="M230.1 1166.0l5.2 -6.6 5.2 6.6 -5.2 6.6z"/><path d="M230.1 1181.2l5.2 -6.6 5.2 6.6 -5.2 6.6z"/><path d="M230.1 1188.1l5.2 -6.6 5.2 6.6 -5.2 6.6z"/><path d="M230.1 1188.1l5.2 -6.6 5.2 6.6 -5.2 6.6z"/><path d="M230.1 1193.4l5.2 -6.6 5.2 6.6 -5.2 6.6z"/><path d="M230.1 1193.4l5.2 -6.6 5.2 6.6 -5.2 6.6z"/><path d="M230.1 1198.0l5.2 -6.6 5.2 6.6 -5.2 6.6z"/><path d="M230.1 1207.9l5.2 -6.6 5.2 6.6 -5.2 6.6z"/><path d="M237.7 1131.0l5.2 -6.6 5.2 6.6 -5.2 6.6z"/><path d="M245.3 1196.4l5.2 -6.6 5.2 6.6 -5.2 6.6z"/><path d="M245.3 1201.0l5.2 -6.6 5.2 6.6 -5.2 6.6z"/><path d="M245.3 1201.0l5.2 -6.6 5.2 6.6 -5.2 6.6z"/><path d="M245.3 1208.6l5.2 -6.6 5.2 6.6 -5.2 6.6z"/><path d="M245.3 1216.2l5.2 -6.6 5.2 6.6 -5.2 6.6z"/><path d="M242.3 1222.3l5.2 -6.6 5.2 6.6 -5.2 6.6z"/><path d="M237.7 1225.4l5.2 -6.6 5.2 6.6 -5.2 6.6z"/><path d="M239.2 1231.5l5.2 -6.6 5.2 6.6 -5.2 6.6z"/><path d="M255.2 1182.7l5.2 -6.6 5.2 6.6 -5.2 6.6z"/><path d="M255.2 1194.9l5.2 -6.6 5.2 6.6 -5.2 6.6z"/><path d="M305.5 1080.7l5.2 -6.6 5.2 6.6 -5.2 6.6z"/><path d="M307.0 1088.3l5.2 -6.6 5.2 6.6 -5.2 6.6z"/><path d="M310.0 1094.4l5.2 -6.6 5.2 6.6 -5.2 6.6z"/><path d="M312.3 1100.5l5.2 -6.6 5.2 6.6 -5.2 6.6z"/><path d="M301.7 1105.1l5.2 -6.6 5.2 6.6 -5.2 6.6z"/><path d="M305.5 1111.2l5.2 -6.6 5.2 6.6 -5.2 6.6z"/><path d="M309.3 1117.3l5.2 -6.6 5.2 6.6 -5.2 6.6z"/><path d="M316.9 1123.4l5.2 -6.6 5.2 6.6 -5.2 6.6z"/><path d="M316.1 1129.4l5.2 -6.6 5.2 6.6 -5.2 6.6z"/><path d="M316.1 1129.4l5.2 -6.6 5.2 6.6 -5.2 6.6z"/><path d="M319.9 1135.5l5.2 -6.6 5.2 6.6 -5.2 6.6z"/><path d="M329.8 1111.2l5.2 -6.6 5.2 6.6 -5.2 6.6z"/><path d="M327.5 1121.8l5.2 -6.6 5.2 6.6 -5.2 6.6z"/><path d="M327.5 1121.8l5.2 -6.6 5.2 6.6 -5.2 6.6z"/><path d="M327.5 1124.9l5.2 -6.6 5.2 6.6 -5.2 6.6z"/><path d="M304.7 1135.5l5.2 -6.6 5.2 6.6 -5.2 6.6z"/><path d="M304.7 1146.2l5.2 -6.6 5.2 6.6 -5.2 6.6z"/><path d="M312.3 1144.7l5.2 -6.6 5.2 6.6 -5.2 6.6z"/><path d="M325.3 1141.6l5.2 -6.6 5.2 6.6 -5.2 6.6z"/><path d="M325.3 1149.2l5.2 -6.6 5.2 6.6 -5.2 6.6z"/><path d="M318.4 1158.4l5.2 -6.6 5.2 6.6 -5.2 6.6z"/><path d="M318.4 1158.4l5.2 -6.6 5.2 6.6 -5.2 6.6z"/><path d="M327.5 1158.4l5.2 -6.6 5.2 6.6 -5.2 6.6z"/><path d="M321.4 1152.3l5.2 -6.6 5.2 6.6 -5.2 6.6z"/><path d="M310.0 1170.6l5.2 -6.6 5.2 6.6 -5.2 6.6z"/><path d="M319.9 1173.6l5.2 -6.6 5.2 6.6 -5.2 6.6z"/><path d="M329.8 1182.7l5.2 -6.6 5.2 6.6 -5.2 6.6z"/><path d="M297.8 1188.8l5.2 -6.6 5.2 6.6 -5.2 6.6z"/><path d="M307.7 1188.8l5.2 -6.6 5.2 6.6 -5.2 6.6z"/><path d="M307.7 1196.4l5.2 -6.6 5.2 6.6 -5.2 6.6z"/><path d="M297.8 1201.0l5.2 -6.6 5.2 6.6 -5.2 6.6z"/><path d="M307.7 1202.5l5.2 -6.6 5.2 6.6 -5.2 6.6z"/><path d="M319.9 1190.4l5.2 -6.6 5.2 6.6 -5.2 6.6z"/><path d="M320.7 1207.1l5.2 -6.6 5.2 6.6 -5.2 6.6z"/><path d="M297.8 1219.3l5.2 -6.6 5.2 6.6 -5.2 6.6z"/><path d="M324.5 1219.3l5.2 -6.6 5.2 6.6 -5.2 6.6z"/><path d="M324.5 1219.3l5.2 -6.6 5.2 6.6 -5.2 6.6z"/><path d="M310.0 1225.4l5.2 -6.6 5.2 6.6 -5.2 6.6z"/><path d="M324.5 1231.5l5.2 -6.6 5.2 6.6 -5.2 6.6z"/><path d="M298.6 1236.8l5.2 -6.6 5.2 6.6 -5.2 6.6z"/><path d="M326.0 1237.6l5.2 -6.6 5.2 6.6 -5.2 6.6z"/><path d="M365.9 1111.2l5.2 -6.6 5.2 6.6 -5.2 6.6z"/><path d="M365.9 1118.0l5.2 -6.6 5.2 6.6 -5.2 6.6z"/><path d="M172.2 1237.3l5.2 -6.6 5.2 6.6 -5.2 6.6z"/><path d="M193.5 1255.6l5.2 -6.6 5.2 6.6 -5.2 6.6z"/><path d="M162.3 1261.7l5.2 -6.6 5.2 6.6 -5.2 6.6z"/><path d="M182.9 1267.0l5.2 -6.6 5.2 6.6 -5.2 6.6z"/><path d="M182.9 1273.1l5.2 -6.6 5.2 6.6 -5.2 6.6z"/><path d="M182.9 1273.1l5.2 -6.6 5.2 6.6 -5.2 6.6z"/><path d="M182.9 1279.9l5.2 -6.6 5.2 6.6 -5.2 6.6z"/><path d="M162.3 1279.9l5.2 -6.6 5.2 6.6 -5.2 6.6z"/><path d="M166.1 1291.4l5.2 -6.6 5.2 6.6 -5.2 6.6z"/><path d="M174.5 1295.9l5.2 -6.6 5.2 6.6 -5.2 6.6z"/><path d="M172.2 1299.0l5.2 -6.6 5.2 6.6 -5.2 6.6z"/><path d="M174.5 1304.3l5.2 -6.6 5.2 6.6 -5.2 6.6z"/><path d="M172.2 1340.1l5.2 -6.6 5.2 6.6 -5.2 6.6z"/><path d="M172.2 1346.2l5.2 -6.6 5.2 6.6 -5.2 6.6z"/><path d="M245.3 1248.7l5.2 -6.6 5.2 6.6 -5.2 6.6z"/><path d="M245.3 1255.6l5.2 -6.6 5.2 6.6 -5.2 6.6z"/><path d="M240.0 1261.7l5.2 -6.6 5.2 6.6 -5.2 6.6z"/><path d="M230.1 1267.0l5.2 -6.6 5.2 6.6 -5.2 6.6z"/><path d="M230.1 1272.3l5.2 -6.6 5.2 6.6 -5.2 6.6z"/><path d="M245.3 1267.8l5.2 -6.6 5.2 6.6 -5.2 6.6z"/><path d="M230.1 1285.3l5.2 -6.6 5.2 6.6 -5.2 6.6z"/><path d="M231.6 1291.4l5.2 -6.6 5.2 6.6 -5.2 6.6z"/><path d="M325.3 1237.3l5.2 -6.6 5.2 6.6 -5.2 6.6z"/><path d="M298.6 1243.4l5.2 -6.6 5.2 6.6 -5.2 6.6z"/><path d="M298.6 1250.3l5.2 -6.6 5.2 6.6 -5.2 6.6z"/><path d="M298.6 1255.6l5.2 -6.6 5.2 6.6 -5.2 6.6z"/><path d="M298.6 1255.6l5.2 -6.6 5.2 6.6 -5.2 6.6z"/><path d="M310.0 1242.6l5.2 -6.6 5.2 6.6 -5.2 6.6z"/><path d="M319.2 1247.2l5.2 -6.6 5.2 6.6 -5.2 6.6z"/><path d="M319.2 1252.5l5.2 -6.6 5.2 6.6 -5.2 6.6z"/><path d="M319.2 1252.5l5.2 -6.6 5.2 6.6 -5.2 6.6z"/><path d="M319.2 1257.1l5.2 -6.6 5.2 6.6 -5.2 6.6z"/><path d="M326.0 1250.3l5.2 -6.6 5.2 6.6 -5.2 6.6z"/><path d="M326.0 1267.0l5.2 -6.6 5.2 6.6 -5.2 6.6z"/><path d="M307.7 1267.0l5.2 -6.6 5.2 6.6 -5.2 6.6z"/><path d="M297.8 1273.1l5.2 -6.6 5.2 6.6 -5.2 6.6z"/><path d="M297.8 1279.9l5.2 -6.6 5.2 6.6 -5.2 6.6z"/><path d="M316.1 1273.9l5.2 -6.6 5.2 6.6 -5.2 6.6z"/><path d="M365.9 1244.9l5.2 -6.6 5.2 6.6 -5.2 6.6z"/><path d="M365.9 1254.8l5.2 -6.6 5.2 6.6 -5.2 6.6z"/><path d="M365.9 1254.8l5.2 -6.6 5.2 6.6 -5.2 6.6z"/><path d="M376.3 1242.6l5.2 -6.6 5.2 6.6 -5.2 6.6z"/><path d="M376.3 1254.8l5.2 -6.6 5.2 6.6 -5.2 6.6z"/><path d="M390.0 1255.6l5.2 -6.6 5.2 6.6 -5.2 6.6z"/><path d="M390.0 1259.4l5.2 -6.6 5.2 6.6 -5.2 6.6z"/><path d="M376.3 1270.1l5.2 -6.6 5.2 6.6 -5.2 6.6z"/><path d="M376.3 1273.1l5.2 -6.6 5.2 6.6 -5.2 6.6z"/><path d="M385.4 1279.2l5.2 -6.6 5.2 6.6 -5.2 6.6z"/><path d="M378.6 1309.6l5.2 -6.6 5.2 6.6 -5.2 6.6z"/><path d="M378.6 1315.7l5.2 -6.6 5.2 6.6 -5.2 6.6z"/><path d="M367.1 1339.3l5.2 -6.6 5.2 6.6 -5.2 6.6z"/><path d="M367.1 1375.9l5.2 -6.6 5.2 6.6 -5.2 6.6z"/><path d="M367.1 1375.9l5.2 -6.6 5.2 6.6 -5.2 6.6z"/><path d="M367.1 1393.4l5.2 -6.6 5.2 6.6 -5.2 6.6z"/><path d="M378.6 1394.2l5.2 -6.6 5.2 6.6 -5.2 6.6z"/><path d="M369.4 1401.0l5.2 -6.6 5.2 6.6 -5.2 6.6z"/><path d="M369.4 1408.6l5.2 -6.6 5.2 6.6 -5.2 6.6z"/><path d="M390.0 1411.7l5.2 -6.6 5.2 6.6 -5.2 6.6z"/><path d="M378.6 1417.8l5.2 -6.6 5.2 6.6 -5.2 6.6z"/><path d="M389.2 1429.9l5.2 -6.6 5.2 6.6 -5.2 6.6z"/><path d="M389.2 1429.9l5.2 -6.6 5.2 6.6 -5.2 6.6z"/><path d="M434.1 1327.4l5.2 -6.6 5.2 6.6 -5.2 6.6z"/><path d="M434.1 1350.3l5.2 -6.6 5.2 6.6 -5.2 6.6z"/><path d="M434.1 1354.1l5.2 -6.6 5.2 6.6 -5.2 6.6z"/><path d="M434.1 1376.1l5.2 -6.6 5.2 6.6 -5.2 6.6z"/><path d="M451.2 1374.6l5.2 -6.6 5.2 6.6 -5.2 6.6z"/><path d="M463.4 1364.0l5.2 -6.6 5.2 6.6 -5.2 6.6z"/><path d="M450.4 1392.9l5.2 -6.6 5.2 6.6 -5.2 6.6z"/><path d="M450.4 1394.4l5.2 -6.6 5.2 6.6 -5.2 6.6z"/><path d="M434.1 1417.3l5.2 -6.6 5.2 6.6 -5.2 6.6z"/><path d="M434.1 1421.8l5.2 -6.6 5.2 6.6 -5.2 6.6z"/><path d="M436.0 1426.4l5.2 -6.6 5.2 6.6 -5.2 6.6z"/><path d="M434.1 1431.0l5.2 -6.6 5.2 6.6 -5.2 6.6z"/><path d="M434.1 1431.0l5.2 -6.6 5.2 6.6 -5.2 6.6z"/><path d="M434.1 1436.3l5.2 -6.6 5.2 6.6 -5.2 6.6z"/><path d="M434.1 1436.3l5.2 -6.6 5.2 6.6 -5.2 6.6z"/><path d="M434.1 1443.1l5.2 -6.6 5.2 6.6 -5.2 6.6z"/><path d="M434.1 1448.5l5.2 -6.6 5.2 6.6 -5.2 6.6z"/><path d="M443.6 1447.7l5.2 -6.6 5.2 6.6 -5.2 6.6z"/><path d="M434.1 1459.9l5.2 -6.6 5.2 6.6 -5.2 6.6z"/><path d="M434.1 1459.9l5.2 -6.6 5.2 6.6 -5.2 6.6z"/><path d="M434.1 1465.2l5.2 -6.6 5.2 6.6 -5.2 6.6z"/><path d="M434.1 1465.2l5.2 -6.6 5.2 6.6 -5.2 6.6z"/><path d="M434.1 1470.6l5.2 -6.6 5.2 6.6 -5.2 6.6z"/><path d="M443.6 1466.0l5.2 -6.6 5.2 6.6 -5.2 6.6z"/><path d="M443.6 1472.1l5.2 -6.6 5.2 6.6 -5.2 6.6z"/><path d="M434.1 1484.3l5.2 -6.6 5.2 6.6 -5.2 6.6z"/><path d="M434.1 1484.3l5.2 -6.6 5.2 6.6 -5.2 6.6z"/><path d="M434.1 1490.4l5.2 -6.6 5.2 6.6 -5.2 6.6z"/><path d="M434.1 1490.4l5.2 -6.6 5.2 6.6 -5.2 6.6z"/><path d="M434.1 1496.4l5.2 -6.6 5.2 6.6 -5.2 6.6z"/><path d="M443.6 1496.4l5.2 -6.6 5.2 6.6 -5.2 6.6z"/><path d="M443.6 1502.5l5.2 -6.6 5.2 6.6 -5.2 6.6z"/><path d="M434.1 1508.6l5.2 -6.6 5.2 6.6 -5.2 6.6z"/><path d="M441.3 1514.7l5.2 -6.6 5.2 6.6 -5.2 6.6z"/><path d="M458.8 1435.5l5.2 -6.6 5.2 6.6 -5.2 6.6z"/><path d="M465.7 1448.5l5.2 -6.6 5.2 6.6 -5.2 6.6z"/><path d="M465.7 1448.5l5.2 -6.6 5.2 6.6 -5.2 6.6z"/><path d="M465.7 1453.8l5.2 -6.6 5.2 6.6 -5.2 6.6z"/><path d="M501.9 1442.4l5.2 -6.6 5.2 6.6 -5.2 6.6z"/><path d="M501.9 1449.2l5.2 -6.6 5.2 6.6 -5.2 6.6z"/><path d="M501.9 1455.3l5.2 -6.6 5.2 6.6 -5.2 6.6z"/><path d="M501.9 1461.4l5.2 -6.6 5.2 6.6 -5.2 6.6z"/><path d="M501.9 1467.5l5.2 -6.6 5.2 6.6 -5.2 6.6z"/><path d="M501.9 1485.8l5.2 -6.6 5.2 6.6 -5.2 6.6z"/><path d="M501.9 1491.1l5.2 -6.6 5.2 6.6 -5.2 6.6z"/><path d="M501.9 1503.3l5.2 -6.6 5.2 6.6 -5.2 6.6z"/><path d="M521.2 1424.1l5.2 -6.6 5.2 6.6 -5.2 6.6z"/><path d="M521.2 1430.2l5.2 -6.6 5.2 6.6 -5.2 6.6z"/><path d="M529.6 1436.3l5.2 -6.6 5.2 6.6 -5.2 6.6z"/><path d="M529.6 1442.4l5.2 -6.6 5.2 6.6 -5.2 6.6z"/><path d="M529.6 1447.7l5.2 -6.6 5.2 6.6 -5.2 6.6z"/><path d="M525.1 1466.0l5.2 -6.6 5.2 6.6 -5.2 6.6z"/><path d="M525.1 1472.1l5.2 -6.6 5.2 6.6 -5.2 6.6z"/><path d="M588.3 1411.9l5.2 -6.6 5.2 6.6 -5.2 6.6z"/><path d="M582.2 1435.5l5.2 -6.6 5.2 6.6 -5.2 6.6z"/><path d="M582.2 1447.7l5.2 -6.6 5.2 6.6 -5.2 6.6z"/><path d="M570.0 1459.9l5.2 -6.6 5.2 6.6 -5.2 6.6z"/><path d="M570.0 1466.0l5.2 -6.6 5.2 6.6 -5.2 6.6z"/><path d="M570.0 1466.0l5.2 -6.6 5.2 6.6 -5.2 6.6z"/><path d="M570.0 1478.2l5.2 -6.6 5.2 6.6 -5.2 6.6z"/><path d="M570.0 1484.3l5.2 -6.6 5.2 6.6 -5.2 6.6z"/><path d="M570.0 1484.3l5.2 -6.6 5.2 6.6 -5.2 6.6z"/><path d="M570.0 1490.4l5.2 -6.6 5.2 6.6 -5.2 6.6z"/><path d="M570.0 1490.4l5.2 -6.6 5.2 6.6 -5.2 6.6z"/><path d="M587.5 1466.0l5.2 -6.6 5.2 6.6 -5.2 6.6z"/><path d="M587.5 1466.0l5.2 -6.6 5.2 6.6 -5.2 6.6z"/><path d="M587.5 1472.1l5.2 -6.6 5.2 6.6 -5.2 6.6z"/><path d="M598.9 1472.1l5.2 -6.6 5.2 6.6 -5.2 6.6z"/><path d="M598.9 1488.8l5.2 -6.6 5.2 6.6 -5.2 6.6z"/><path d="M570.0 1498.0l5.2 -6.6 5.2 6.6 -5.2 6.6z"/><path d="M574.5 1504.1l5.2 -6.6 5.2 6.6 -5.2 6.6z"/><path d="M570.0 1510.2l5.2 -6.6 5.2 6.6 -5.2 6.6z"/><path d="M570.0 1516.2l5.2 -6.6 5.2 6.6 -5.2 6.6z"/><path d="M570.0 1521.6l5.2 -6.6 5.2 6.6 -5.2 6.6z"/><path d="M585.2 1501.0l5.2 -6.6 5.2 6.6 -5.2 6.6z"/><path d="M585.2 1501.0l5.2 -6.6 5.2 6.6 -5.2 6.6z"/><path d="M585.2 1508.6l5.2 -6.6 5.2 6.6 -5.2 6.6z"/><path d="M585.2 1520.8l5.2 -6.6 5.2 6.6 -5.2 6.6z"/><path d="M585.2 1520.8l5.2 -6.6 5.2 6.6 -5.2 6.6z"/><path d="M580.6 1513.2l5.2 -6.6 5.2 6.6 -5.2 6.6z"/><path d="M592.8 1494.9l5.2 -6.6 5.2 6.6 -5.2 6.6z"/><path d="M597.4 1501.0l5.2 -6.6 5.2 6.6 -5.2 6.6z"/><path d="M601.2 1508.6l5.2 -6.6 5.2 6.6 -5.2 6.6z"/><path d="M601.2 1508.6l5.2 -6.6 5.2 6.6 -5.2 6.6z"/><path d="M597.4 1514.7l5.2 -6.6 5.2 6.6 -5.2 6.6z"/><path d="M597.4 1520.8l5.2 -6.6 5.2 6.6 -5.2 6.6z"/><path d="M592.8 1510.2l5.2 -6.6 5.2 6.6 -5.2 6.6z"/><path d="M577.6 1519.3l5.2 -6.6 5.2 6.6 -5.2 6.6z"/><path d="M637.8 1411.9l5.2 -6.6 5.2 6.6 -5.2 6.6z"/><path d="M637.8 1446.2l5.2 -6.6 5.2 6.6 -5.2 6.6z"/><path d="M637.8 1450.8l5.2 -6.6 5.2 6.6 -5.2 6.6z"/><path d="M637.8 1450.8l5.2 -6.6 5.2 6.6 -5.2 6.6z"/><path d="M637.8 1472.1l5.2 -6.6 5.2 6.6 -5.2 6.6z"/><path d="M637.8 1478.2l5.2 -6.6 5.2 6.6 -5.2 6.6z"/><path d="M637.8 1484.3l5.2 -6.6 5.2 6.6 -5.2 6.6z"/><path d="M637.8 1484.3l5.2 -6.6 5.2 6.6 -5.2 6.6z"/><path d="M637.8 1504.1l5.2 -6.6 5.2 6.6 -5.2 6.6z"/><path d="M637.8 1508.6l5.2 -6.6 5.2 6.6 -5.2 6.6z"/><path d="M637.8 1508.6l5.2 -6.6 5.2 6.6 -5.2 6.6z"/><path d="M637.8 1514.7l5.2 -6.6 5.2 6.6 -5.2 6.6z"/><path d="M637.8 1514.7l5.2 -6.6 5.2 6.6 -5.2 6.6z"/><path d="M637.8 1520.8l5.2 -6.6 5.2 6.6 -5.2 6.6z"/><path d="M653.8 1435.5l5.2 -6.6 5.2 6.6 -5.2 6.6z"/><path d="M653.8 1447.7l5.2 -6.6 5.2 6.6 -5.2 6.6z"/><path d="M655.3 1459.9l5.2 -6.6 5.2 6.6 -5.2 6.6z"/><path d="M649.2 1472.1l5.2 -6.6 5.2 6.6 -5.2 6.6z"/><path d="M652.3 1478.2l5.2 -6.6 5.2 6.6 -5.2 6.6z"/><path d="M653.8 1490.4l5.2 -6.6 5.2 6.6 -5.2 6.6z"/><path d="M653.8 1502.5l5.2 -6.6 5.2 6.6 -5.2 6.6z"/><path d="M662.9 1464.5l5.2 -6.6 5.2 6.6 -5.2 6.6z"/><path d="M662.9 1464.5l5.2 -6.6 5.2 6.6 -5.2 6.6z"/><path d="M662.9 1470.6l5.2 -6.6 5.2 6.6 -5.2 6.6z"/><path d="M666.7 1459.9l5.2 -6.6 5.2 6.6 -5.2 6.6z"/><path d="M661.4 1482.7l5.2 -6.6 5.2 6.6 -5.2 6.6z"/><path d="M658.4 1488.8l5.2 -6.6 5.2 6.6 -5.2 6.6z"/><path d="M666.0 1488.8l5.2 -6.6 5.2 6.6 -5.2 6.6z"/><path d="M669.8 1496.4l5.2 -6.6 5.2 6.6 -5.2 6.6z"/><path d="M652.3 1496.4l5.2 -6.6 5.2 6.6 -5.2 6.6z"/><path d="M706.3 1405.8l5.2 -6.6 5.2 6.6 -5.2 6.6z"/><path d="M720.0 1411.2l5.2 -6.6 5.2 6.6 -5.2 6.6z"/><path d="M720.0 1418.0l5.2 -6.6 5.2 6.6 -5.2 6.6z"/><path d="M705.6 1436.3l5.2 -6.6 5.2 6.6 -5.2 6.6z"/><path d="M722.3 1458.4l5.2 -6.6 5.2 6.6 -5.2 6.6z"/><path d="M723.8 1464.5l5.2 -6.6 5.2 6.6 -5.2 6.6z"/><path d="M726.9 1469.0l5.2 -6.6 5.2 6.6 -5.2 6.6z"/><path d="M729.9 1473.6l5.2 -6.6 5.2 6.6 -5.2 6.6z"/><path d="M729.9 1473.6l5.2 -6.6 5.2 6.6 -5.2 6.6z"/><path d="M733.0 1478.2l5.2 -6.6 5.2 6.6 -5.2 6.6z"/><path d="M724.6 1485.0l5.2 -6.6 5.2 6.6 -5.2 6.6z"/><path d="M736.0 1496.4l5.2 -6.6 5.2 6.6 -5.2 6.6z"/><path d="M736.0 1503.3l5.2 -6.6 5.2 6.6 -5.2 6.6z"/><path d="M787.8 1368.5l5.2 -6.6 5.2 6.6 -5.2 6.6z"/><path d="M789.3 1380.7l5.2 -6.6 5.2 6.6 -5.2 6.6z"/><path d="M783.2 1388.3l5.2 -6.6 5.2 6.6 -5.2 6.6z"/><path d="M805.3 1405.8l5.2 -6.6 5.2 6.6 -5.2 6.6z"/><path d="M783.2 1423.4l5.2 -6.6 5.2 6.6 -5.2 6.6z"/><path d="M791.6 1423.4l5.2 -6.6 5.2 6.6 -5.2 6.6z"/><path d="M783.2 1429.4l5.2 -6.6 5.2 6.6 -5.2 6.6z"/><path d="M792.4 1436.3l5.2 -6.6 5.2 6.6 -5.2 6.6z"/><path d="M773.6 1441.6l5.2 -6.6 5.2 6.6 -5.2 6.6z"/><path d="M773.6 1441.6l5.2 -6.6 5.2 6.6 -5.2 6.6z"/><path d="M773.6 1447.0l5.2 -6.6 5.2 6.6 -5.2 6.6z"/><path d="M773.6 1447.0l5.2 -6.6 5.2 6.6 -5.2 6.6z"/><path d="M781.7 1441.6l5.2 -6.6 5.2 6.6 -5.2 6.6z"/><path d="M780.9 1459.9l5.2 -6.6 5.2 6.6 -5.2 6.6z"/><path d="M792.4 1459.9l5.2 -6.6 5.2 6.6 -5.2 6.6z"/><path d="M773.6 1478.2l5.2 -6.6 5.2 6.6 -5.2 6.6z"/><path d="M773.6 1482.7l5.2 -6.6 5.2 6.6 -5.2 6.6z"/><path d="M773.6 1490.4l5.2 -6.6 5.2 6.6 -5.2 6.6z"/><path d="M803.8 1472.1l5.2 -6.6 5.2 6.6 -5.2 6.6z"/><path d="M803.8 1472.1l5.2 -6.6 5.2 6.6 -5.2 6.6z"/><path d="M841.4 1304.6l5.2 -6.6 5.2 6.6 -5.2 6.6z"/><path d="M841.4 1315.2l5.2 -6.6 5.2 6.6 -5.2 6.6z"/><path d="M841.4 1322.8l5.2 -6.6 5.2 6.6 -5.2 6.6z"/><path d="M841.4 1328.9l5.2 -6.6 5.2 6.6 -5.2 6.6z"/><path d="M841.4 1328.9l5.2 -6.6 5.2 6.6 -5.2 6.6z"/><path d="M841.4 1336.5l5.2 -6.6 5.2 6.6 -5.2 6.6z"/><path d="M847.2 1344.2l5.2 -6.6 5.2 6.6 -5.2 6.6z"/><path d="M841.4 1357.9l5.2 -6.6 5.2 6.6 -5.2 6.6z"/><path d="M841.4 1374.6l5.2 -6.6 5.2 6.6 -5.2 6.6z"/><path d="M841.4 1379.2l5.2 -6.6 5.2 6.6 -5.2 6.6z"/><path d="M841.4 1379.2l5.2 -6.6 5.2 6.6 -5.2 6.6z"/><path d="M847.2 1376.1l5.2 -6.6 5.2 6.6 -5.2 6.6z"/><path d="M841.4 1386.8l5.2 -6.6 5.2 6.6 -5.2 6.6z"/><path d="M841.4 1394.4l5.2 -6.6 5.2 6.6 -5.2 6.6z"/><path d="M841.4 1394.4l5.2 -6.6 5.2 6.6 -5.2 6.6z"/><path d="M841.4 1411.9l5.2 -6.6 5.2 6.6 -5.2 6.6z"/><path d="M847.2 1411.9l5.2 -6.6 5.2 6.6 -5.2 6.6z"/><path d="M841.4 1430.2l5.2 -6.6 5.2 6.6 -5.2 6.6z"/><path d="M841.4 1447.7l5.2 -6.6 5.2 6.6 -5.2 6.6z"/><path d="M841.4 1453.8l5.2 -6.6 5.2 6.6 -5.2 6.6z"/><path d="M841.4 1477.4l5.2 -6.6 5.2 6.6 -5.2 6.6z"/><path d="M865.1 1237.1l5.2 -6.6 5.2 6.6 -5.2 6.6z"/><path d="M927.8 1243.1l5.2 -6.6 5.2 6.6 -5.2 6.6z"/><path d="M841.4 1293.4l5.2 -6.6 5.2 6.6 -5.2 6.6z"/><path d="M841.4 1298.0l5.2 -6.6 5.2 6.6 -5.2 6.6z"/><path d="M909.5 1304.1l5.2 -6.6 5.2 6.6 -5.2 6.6z"/><path d="M909.5 1311.7l5.2 -6.6 5.2 6.6 -5.2 6.6z"/><path d="M909.5 1316.2l5.2 -6.6 5.2 6.6 -5.2 6.6z"/><path d="M909.5 1316.2l5.2 -6.6 5.2 6.6 -5.2 6.6z"/><path d="M909.5 1320.8l5.2 -6.6 5.2 6.6 -5.2 6.6z"/><path d="M909.5 1326.9l5.2 -6.6 5.2 6.6 -5.2 6.6z"/><path d="M909.5 1370.2l5.2 -6.6 5.2 6.6 -5.2 6.6z"/><path d="M909.5 1405.7l5.2 -6.6 5.2 6.6 -5.2 6.6z"/><path d="M872.5 1346.0l5.2 -6.6 5.2 6.6 -5.2 6.6z"/><path d="M872.5 1351.0l5.2 -6.6 5.2 6.6 -5.2 6.6z"/><path d="M863.1 1381.6l5.2 -6.6 5.2 6.6 -5.2 6.6z"/><path d="M863.1 1388.0l5.2 -6.6 5.2 6.6 -5.2 6.6z"/><path d="M863.1 1394.3l5.2 -6.6 5.2 6.6 -5.2 6.6z"/><path d="M434.6 1443.7l5.2 -6.6 5.2 6.6 -5.2 6.6z"/><path d="M434.6 1449.1l5.2 -6.6 5.2 6.6 -5.2 6.6z"/><path d="M444.1 1448.3l5.2 -6.6 5.2 6.6 -5.2 6.6z"/><path d="M434.6 1460.5l5.2 -6.6 5.2 6.6 -5.2 6.6z"/><path d="M434.6 1460.5l5.2 -6.6 5.2 6.6 -5.2 6.6z"/><path d="M434.6 1465.8l5.2 -6.6 5.2 6.6 -5.2 6.6z"/><path d="M434.6 1465.8l5.2 -6.6 5.2 6.6 -5.2 6.6z"/><path d="M434.6 1471.2l5.2 -6.6 5.2 6.6 -5.2 6.6z"/><path d="M444.1 1466.6l5.2 -6.6 5.2 6.6 -5.2 6.6z"/><path d="M444.1 1472.7l5.2 -6.6 5.2 6.6 -5.2 6.6z"/><path d="M434.6 1484.9l5.2 -6.6 5.2 6.6 -5.2 6.6z"/><path d="M434.6 1484.9l5.2 -6.6 5.2 6.6 -5.2 6.6z"/><path d="M434.6 1491.0l5.2 -6.6 5.2 6.6 -5.2 6.6z"/><path d="M434.6 1491.0l5.2 -6.6 5.2 6.6 -5.2 6.6z"/><path d="M434.6 1497.0l5.2 -6.6 5.2 6.6 -5.2 6.6z"/><path d="M444.1 1497.0l5.2 -6.6 5.2 6.6 -5.2 6.6z"/><path d="M444.1 1503.1l5.2 -6.6 5.2 6.6 -5.2 6.6z"/><path d="M434.6 1509.2l5.2 -6.6 5.2 6.6 -5.2 6.6z"/><path d="M441.8 1515.3l5.2 -6.6 5.2 6.6 -5.2 6.6z"/><path d="M570.5 1478.8l5.2 -6.6 5.2 6.6 -5.2 6.6z"/><path d="M570.5 1484.9l5.2 -6.6 5.2 6.6 -5.2 6.6z"/><path d="M570.5 1484.9l5.2 -6.6 5.2 6.6 -5.2 6.6z"/><path d="M570.5 1491.0l5.2 -6.6 5.2 6.6 -5.2 6.6z"/><path d="M570.5 1491.0l5.2 -6.6 5.2 6.6 -5.2 6.6z"/><path d="M588.0 1472.7l5.2 -6.6 5.2 6.6 -5.2 6.6z"/><path d="M599.4 1472.7l5.2 -6.6 5.2 6.6 -5.2 6.6z"/><path d="M599.4 1489.4l5.2 -6.6 5.2 6.6 -5.2 6.6z"/><path d="M570.5 1498.6l5.2 -6.6 5.2 6.6 -5.2 6.6z"/><path d="M575.0 1504.7l5.2 -6.6 5.2 6.6 -5.2 6.6z"/><path d="M570.5 1510.8l5.2 -6.6 5.2 6.6 -5.2 6.6z"/><path d="M570.5 1516.8l5.2 -6.6 5.2 6.6 -5.2 6.6z"/><path d="M570.5 1522.2l5.2 -6.6 5.2 6.6 -5.2 6.6z"/><path d="M585.7 1501.6l5.2 -6.6 5.2 6.6 -5.2 6.6z"/><path d="M585.7 1501.6l5.2 -6.6 5.2 6.6 -5.2 6.6z"/><path d="M585.7 1509.2l5.2 -6.6 5.2 6.6 -5.2 6.6z"/><path d="M585.7 1521.4l5.2 -6.6 5.2 6.6 -5.2 6.6z"/><path d="M585.7 1521.4l5.2 -6.6 5.2 6.6 -5.2 6.6z"/><path d="M581.1 1513.8l5.2 -6.6 5.2 6.6 -5.2 6.6z"/><path d="M593.3 1495.5l5.2 -6.6 5.2 6.6 -5.2 6.6z"/><path d="M597.9 1501.6l5.2 -6.6 5.2 6.6 -5.2 6.6z"/><path d="M601.7 1509.2l5.2 -6.6 5.2 6.6 -5.2 6.6z"/><path d="M601.7 1509.2l5.2 -6.6 5.2 6.6 -5.2 6.6z"/><path d="M597.9 1515.3l5.2 -6.6 5.2 6.6 -5.2 6.6z"/><path d="M597.9 1521.4l5.2 -6.6 5.2 6.6 -5.2 6.6z"/><path d="M593.3 1510.8l5.2 -6.6 5.2 6.6 -5.2 6.6z"/><path d="M578.1 1519.9l5.2 -6.6 5.2 6.6 -5.2 6.6z"/><path d="M638.3 1472.7l5.2 -6.6 5.2 6.6 -5.2 6.6z"/><path d="M638.3 1478.8l5.2 -6.6 5.2 6.6 -5.2 6.6z"/><path d="M638.3 1484.9l5.2 -6.6 5.2 6.6 -5.2 6.6z"/><path d="M638.3 1484.9l5.2 -6.6 5.2 6.6 -5.2 6.6z"/><path d="M638.3 1504.7l5.2 -6.6 5.2 6.6 -5.2 6.6z"/><path d="M638.3 1509.2l5.2 -6.6 5.2 6.6 -5.2 6.6z"/><path d="M638.3 1509.2l5.2 -6.6 5.2 6.6 -5.2 6.6z"/><path d="M638.3 1515.3l5.2 -6.6 5.2 6.6 -5.2 6.6z"/><path d="M638.3 1515.3l5.2 -6.6 5.2 6.6 -5.2 6.6z"/><path d="M638.3 1521.4l5.2 -6.6 5.2 6.6 -5.2 6.6z"/><path d="M649.7 1472.7l5.2 -6.6 5.2 6.6 -5.2 6.6z"/><path d="M652.8 1478.8l5.2 -6.6 5.2 6.6 -5.2 6.6z"/><path d="M654.3 1491.0l5.2 -6.6 5.2 6.6 -5.2 6.6z"/><path d="M654.3 1503.1l5.2 -6.6 5.2 6.6 -5.2 6.6z"/><path d="M663.4 1471.2l5.2 -6.6 5.2 6.6 -5.2 6.6z"/><path d="M661.9 1483.3l5.2 -6.6 5.2 6.6 -5.2 6.6z"/><path d="M658.9 1489.4l5.2 -6.6 5.2 6.6 -5.2 6.6z"/><path d="M666.5 1489.4l5.2 -6.6 5.2 6.6 -5.2 6.6z"/><path d="M670.3 1497.0l5.2 -6.6 5.2 6.6 -5.2 6.6z"/><path d="M652.8 1497.0l5.2 -6.6 5.2 6.6 -5.2 6.6z"/></g>
<polyline points="167.4,1185.4 235.3,1165.2 303.2,1159.6 371.1,1226.9 439.1,1363.4 507.0,1435.6 574.9,1488.8 642.8,1490.3 710.7,1464.5 778.7,1401.3 846.6,1307.5 914.5,1237.1" fill="none" stroke="#1a16e8" stroke-width="3.4" stroke-linejoin="miter"/>
<path d="M167.5 917.4V1532.6H914.5" fill="none" stroke="#6a6a6a" stroke-width="1.8"/>
<path d="M167.5 917.4H914.5V1532.6" fill="none" stroke="#7a7a7a" stroke-width="1.8" stroke-dasharray="7 0.7"/>
<line x1="157.5" y1="1520.4" x2="167.5" y2="1520.4" class="t"/>
<text transform="translate(147.7,1533.3) scale(0.78,1)" text-anchor="end" font-size="37.3">0.0</text>
<line x1="157.5" y1="1400.1" x2="167.5" y2="1400.1" class="t"/>
<text transform="translate(147.7,1413.0) scale(0.78,1)" text-anchor="end" font-size="37.3">0.2</text>
<line x1="157.5" y1="1279.8" x2="167.5" y2="1279.8" class="t"/>
<text transform="translate(147.7,1292.7) scale(0.78,1)" text-anchor="end" font-size="37.3">0.4</text>
<line x1="157.5" y1="1159.5" x2="167.5" y2="1159.5" class="t"/>
<text transform="translate(147.7,1172.4) scale(0.78,1)" text-anchor="end" font-size="37.3">0.6</text>
<line x1="157.5" y1="1039.2" x2="167.5" y2="1039.2" class="t"/>
<text transform="translate(147.7,1052.1) scale(0.78,1)" text-anchor="end" font-size="37.3">0.8</text>
<line x1="157.5" y1="918.9" x2="167.5" y2="918.9" class="t"/>
<text transform="translate(147.7,931.8) scale(0.78,1)" text-anchor="end" font-size="37.3">1.0</text>
<line x1="235.3" y1="1532.6" x2="235.3" y2="1540.6" class="t"/>
<text transform="translate(235.3,1562.9) scale(0.83,1)" text-anchor="middle" font-size="25">FEB</text>
<line x1="303.2" y1="1532.6" x2="303.2" y2="1540.6" class="t"/>
<text transform="translate(303.2,1562.9) scale(0.83,1)" text-anchor="middle" font-size="25">MAR</text>
<line x1="371.1" y1="1532.6" x2="371.1" y2="1540.6" class="t"/>
<text transform="translate(371.1,1562.9) scale(0.83,1)" text-anchor="middle" font-size="25">APR</text>
<line x1="439.1" y1="1532.6" x2="439.1" y2="1540.6" class="t"/>
<text transform="translate(439.1,1562.9) scale(0.83,1)" text-anchor="middle" font-size="25">MAY</text>
<line x1="507.0" y1="1532.6" x2="507.0" y2="1540.6" class="t"/>
<text transform="translate(507.0,1562.9) scale(0.83,1)" text-anchor="middle" font-size="25">JUN</text>
<line x1="574.9" y1="1532.6" x2="574.9" y2="1540.6" class="t"/>
<text transform="translate(574.9,1562.9) scale(0.83,1)" text-anchor="middle" font-size="25">JUL</text>
<line x1="642.8" y1="1532.6" x2="642.8" y2="1540.6" class="t"/>
<text transform="translate(642.8,1562.9) scale(0.83,1)" text-anchor="middle" font-size="25">AUG</text>
<line x1="710.7" y1="1532.6" x2="710.7" y2="1540.6" class="t"/>
<text transform="translate(710.7,1562.9) scale(0.83,1)" text-anchor="middle" font-size="25">SEP</text>
<line x1="778.7" y1="1532.6" x2="778.7" y2="1540.6" class="t"/>
<text transform="translate(778.7,1562.9) scale(0.83,1)" text-anchor="middle" font-size="25">OCT</text>
<line x1="846.6" y1="1532.6" x2="846.6" y2="1540.6" class="t"/>
<text transform="translate(846.6,1562.9) scale(0.83,1)" text-anchor="middle" font-size="25">NOV</text>
<line x1="914.5" y1="1532.6" x2="914.5" y2="1540.6" class="t"/>
<text transform="translate(914.5,1562.9) scale(0.83,1)" text-anchor="middle" font-size="25">DEC</text>
<text transform="translate(67.5,1429.8) rotate(-90)" font-size="41.6">Phosphate [<tspan dx="-1.3" textLength="32.6" lengthAdjust="spacingAndGlyphs" font-size="38" style="font-family:'DejaVu Sans Light','DejaVu Sans',sans-serif;font-style:italic;font-weight:200;stroke:#111;stroke-width:.55">μ</tspan><tspan dx="2.1">mol kg</tspan><tspan dy="-16.2" font-size="19.6">-1</tspan><tspan dy="16.2" dx="-1">]</tspan></text>
<text x="0" y="893" font-size="29.5" font-weight="bold">C</text>
<line x1="1212.7" y1="60.3" x2="1212.7" y2="658.8" class="g"/>
<line x1="1266.2" y1="60.3" x2="1266.2" y2="658.8" class="g"/>
<line x1="1319.6" y1="60.3" x2="1319.6" y2="658.8" class="g"/>
<line x1="1373.0" y1="60.3" x2="1373.0" y2="658.8" class="g"/>
<line x1="1426.5" y1="60.3" x2="1426.5" y2="658.8" class="g"/>
<line x1="1480.0" y1="60.3" x2="1480.0" y2="658.8" class="g"/>
<line x1="1533.4" y1="60.3" x2="1533.4" y2="658.8" class="g"/>
<line x1="1586.8" y1="60.3" x2="1586.8" y2="658.8" class="g"/>
<line x1="1640.3" y1="60.3" x2="1640.3" y2="658.8" class="g"/>
<line x1="1693.8" y1="60.3" x2="1693.8" y2="658.8" class="g"/>
<line x1="1747.2" y1="60.3" x2="1747.2" y2="658.8" class="g"/>
<line x1="1800.7" y1="60.3" x2="1800.7" y2="658.8" class="g"/>
<line x1="1854.1" y1="60.3" x2="1854.1" y2="658.8" class="g"/>
<line x1="1907.6" y1="60.3" x2="1907.6" y2="658.8" class="g"/>
<line x1="1208.5" y1="656.6" x2="1947.5" y2="656.6" class="g"/>
<line x1="1208.5" y1="556.1" x2="1947.5" y2="556.1" class="g"/>
<line x1="1208.5" y1="455.5" x2="1947.5" y2="455.5" class="g"/>
<line x1="1208.5" y1="355.0" x2="1947.5" y2="355.0" class="g"/>
<line x1="1208.5" y1="254.4" x2="1947.5" y2="254.4" class="g"/>
<line x1="1208.5" y1="153.9" x2="1947.5" y2="153.9" class="g"/>
<line x1="1208.5" y1="53.3" x2="1947.5" y2="53.3" class="g"/>
<clipPath id="cB"><rect x="1202.5" y="53.3" width="747.0" height="613.5"/></clipPath>
<g class="d"><path d="M1486.7 148.3l5.2 -6.6 5.2 6.6 -5.2 6.6z"/><path d="M1486.7 160.5l5.2 -6.6 5.2 6.6 -5.2 6.6z"/><path d="M1508.4 169.9l5.2 -6.6 5.2 6.6 -5.2 6.6z"/><path d="M1540.8 133.8l5.2 -6.6 5.2 6.6 -5.2 6.6z"/><path d="M1540.8 133.8l5.2 -6.6 5.2 6.6 -5.2 6.6z"/><path d="M1572.5 133.8l5.2 -6.6 5.2 6.6 -5.2 6.6z"/><path d="M1572.5 133.8l5.2 -6.6 5.2 6.6 -5.2 6.6z"/><path d="M1550.7 153.6l5.2 -6.6 5.2 6.6 -5.2 6.6z"/><path d="M1562.1 164.3l5.2 -6.6 5.2 6.6 -5.2 6.6z"/><path d="M1562.1 164.3l5.2 -6.6 5.2 6.6 -5.2 6.6z"/><path d="M1572.5 162.7l5.2 -6.6 5.2 6.6 -5.2 6.6z"/><path d="M1572.5 162.7l5.2 -6.6 5.2 6.6 -5.2 6.6z"/><path d="M1572.5 173.4l5.2 -6.6 5.2 6.6 -5.2 6.6z"/><path d="M1572.5 173.4l5.2 -6.6 5.2 6.6 -5.2 6.6z"/><path d="M1539.3 184.1l5.2 -6.6 5.2 6.6 -5.2 6.6z"/><path d="M1550.4 184.1l5.2 -6.6 5.2 6.6 -5.2 6.6z"/><path d="M1570.5 184.8l5.2 -6.6 5.2 6.6 -5.2 6.6z"/><path d="M1570.5 190.9l5.2 -6.6 5.2 6.6 -5.2 6.6z"/><path d="M1570.5 197.0l5.2 -6.6 5.2 6.6 -5.2 6.6z"/><path d="M1582.7 183.3l5.2 -6.6 5.2 6.6 -5.2 6.6z"/><path d="M1591.0 173.4l5.2 -6.6 5.2 6.6 -5.2 6.6z"/><path d="M1605.2 151.3l5.2 -6.6 5.2 6.6 -5.2 6.6z"/><path d="M1605.2 157.4l5.2 -6.6 5.2 6.6 -5.2 6.6z"/><path d="M1614.6 173.4l5.2 -6.6 5.2 6.6 -5.2 6.6z"/><path d="M1646.6 178.0l5.2 -6.6 5.2 6.6 -5.2 6.6z"/><path d="M1657.3 183.3l5.2 -6.6 5.2 6.6 -5.2 6.6z"/><path d="M1658.0 130.8l5.2 -6.6 5.2 6.6 -5.2 6.6z"/><path d="M1668.7 144.5l5.2 -6.6 5.2 6.6 -5.2 6.6z"/><path d="M1668.7 144.5l5.2 -6.6 5.2 6.6 -5.2 6.6z"/><path d="M1669.5 157.4l5.2 -6.6 5.2 6.6 -5.2 6.6z"/><path d="M1669.5 172.6l5.2 -6.6 5.2 6.6 -5.2 6.6z"/><path d="M1668.7 184.1l5.2 -6.6 5.2 6.6 -5.2 6.6z"/><path d="M1668.7 184.1l5.2 -6.6 5.2 6.6 -5.2 6.6z"/><path d="M1668.7 194.0l5.2 -6.6 5.2 6.6 -5.2 6.6z"/><path d="M1668.7 204.6l5.2 -6.6 5.2 6.6 -5.2 6.6z"/><path d="M1657.3 215.3l5.2 -6.6 5.2 6.6 -5.2 6.6z"/><path d="M1657.3 215.3l5.2 -6.6 5.2 6.6 -5.2 6.6z"/><path d="M1658.0 221.4l5.2 -6.6 5.2 6.6 -5.2 6.6z"/><path d="M1667.9 215.3l5.2 -6.6 5.2 6.6 -5.2 6.6z"/><path d="M1633.7 194.0l5.2 -6.6 5.2 6.6 -5.2 6.6z"/><path d="M1603.2 195.5l5.2 -6.6 5.2 6.6 -5.2 6.6z"/><path d="M1594.9 203.9l5.2 -6.6 5.2 6.6 -5.2 6.6z"/><path d="M1615.4 212.2l5.2 -6.6 5.2 6.6 -5.2 6.6z"/><path d="M1615.4 225.2l5.2 -6.6 5.2 6.6 -5.2 6.6z"/><path d="M1636.0 234.3l5.2 -6.6 5.2 6.6 -5.2 6.6z"/><path d="M1562.9 213.8l5.2 -6.6 5.2 6.6 -5.2 6.6z"/><path d="M1530.1 213.8l5.2 -6.6 5.2 6.6 -5.2 6.6z"/><path d="M1550.7 214.5l5.2 -6.6 5.2 6.6 -5.2 6.6z"/><path d="M1550.7 214.5l5.2 -6.6 5.2 6.6 -5.2 6.6z"/><path d="M1550.7 224.4l5.2 -6.6 5.2 6.6 -5.2 6.6z"/><path d="M1550.7 224.4l5.2 -6.6 5.2 6.6 -5.2 6.6z"/><path d="M1507.0 224.4l5.2 -6.6 5.2 6.6 -5.2 6.6z"/><path d="M1498.5 245.0l5.2 -6.6 5.2 6.6 -5.2 6.6z"/><path d="M1529.7 245.0l5.2 -6.6 5.2 6.6 -5.2 6.6z"/><path d="M1529.7 245.0l5.2 -6.6 5.2 6.6 -5.2 6.6z"/><path d="M1529.7 245.0l5.2 -6.6 5.2 6.6 -5.2 6.6z"/><path d="M1550.7 245.0l5.2 -6.6 5.2 6.6 -5.2 6.6z"/><path d="M1561.3 245.0l5.2 -6.6 5.2 6.6 -5.2 6.6z"/><path d="M1550.7 264.8l5.2 -6.6 5.2 6.6 -5.2 6.6z"/><path d="M1550.7 264.8l5.2 -6.6 5.2 6.6 -5.2 6.6z"/><path d="M1581.9 233.6l5.2 -6.6 5.2 6.6 -5.2 6.6z"/><path d="M1592.6 235.1l5.2 -6.6 5.2 6.6 -5.2 6.6z"/><path d="M1592.6 235.1l5.2 -6.6 5.2 6.6 -5.2 6.6z"/><path d="M1602.8 232.8l5.2 -6.6 5.2 6.6 -5.2 6.6z"/><path d="M1581.9 240.4l5.2 -6.6 5.2 6.6 -5.2 6.6z"/><path d="M1592.6 245.0l5.2 -6.6 5.2 6.6 -5.2 6.6z"/><path d="M1603.2 254.9l5.2 -6.6 5.2 6.6 -5.2 6.6z"/><path d="M1626.1 259.4l5.2 -6.6 5.2 6.6 -5.2 6.6z"/><path d="M1656.5 259.4l5.2 -6.6 5.2 6.6 -5.2 6.6z"/><path d="M1656.5 259.4l5.2 -6.6 5.2 6.6 -5.2 6.6z"/><path d="M1668.7 261.0l5.2 -6.6 5.2 6.6 -5.2 6.6z"/><path d="M1657.3 274.7l5.2 -6.6 5.2 6.6 -5.2 6.6z"/><path d="M1539.7 275.4l5.2 -6.6 5.2 6.6 -5.2 6.6z"/><path d="M1591.8 285.3l5.2 -6.6 5.2 6.6 -5.2 6.6z"/><path d="M1591.8 285.3l5.2 -6.6 5.2 6.6 -5.2 6.6z"/><path d="M1591.8 299.0l5.2 -6.6 5.2 6.6 -5.2 6.6z"/><path d="M1591.8 318.1l5.2 -6.6 5.2 6.6 -5.2 6.6z"/><path d="M1572.8 294.5l5.2 -6.6 5.2 6.6 -5.2 6.6z"/><path d="M1572.8 294.5l5.2 -6.6 5.2 6.6 -5.2 6.6z"/><path d="M1559.8 296.0l5.2 -6.6 5.2 6.6 -5.2 6.6z"/><path d="M1559.8 311.2l5.2 -6.6 5.2 6.6 -5.2 6.6z"/><path d="M1538.5 302.8l5.2 -6.6 5.2 6.6 -5.2 6.6z"/><path d="M1497.4 303.6l5.2 -6.6 5.2 6.6 -5.2 6.6z"/><path d="M1497.4 314.3l5.2 -6.6 5.2 6.6 -5.2 6.6z"/><path d="M1488.3 293.7l5.2 -6.6 5.2 6.6 -5.2 6.6z"/><path d="M1475.3 297.5l5.2 -6.6 5.2 6.6 -5.2 6.6z"/><path d="M1476.1 307.4l5.2 -6.6 5.2 6.6 -5.2 6.6z"/><path d="M1624.5 299.0l5.2 -6.6 5.2 6.6 -5.2 6.6z"/><path d="M1624.5 305.1l5.2 -6.6 5.2 6.6 -5.2 6.6z"/><path d="M1624.5 305.1l5.2 -6.6 5.2 6.6 -5.2 6.6z"/><path d="M1636.0 300.6l5.2 -6.6 5.2 6.6 -5.2 6.6z"/><path d="M1636.0 312.7l5.2 -6.6 5.2 6.6 -5.2 6.6z"/><path d="M1636.0 312.7l5.2 -6.6 5.2 6.6 -5.2 6.6z"/><path d="M1636.0 321.9l5.2 -6.6 5.2 6.6 -5.2 6.6z"/><path d="M1667.2 324.9l5.2 -6.6 5.2 6.6 -5.2 6.6z"/><path d="M1581.1 328.0l5.2 -6.6 5.2 6.6 -5.2 6.6z"/><path d="M1624.5 331.0l5.2 -6.6 5.2 6.6 -5.2 6.6z"/><path d="M1624.5 343.2l5.2 -6.6 5.2 6.6 -5.2 6.6z"/><path d="M1624.5 343.2l5.2 -6.6 5.2 6.6 -5.2 6.6z"/><path d="M1613.1 340.9l5.2 -6.6 5.2 6.6 -5.2 6.6z"/><path d="M1581.1 344.0l5.2 -6.6 5.2 6.6 -5.2 6.6z"/><path d="M1559.8 344.0l5.2 -6.6 5.2 6.6 -5.2 6.6z"/><path d="M1412.1 340.9l5.2 -6.6 5.2 6.6 -5.2 6.6z"/><path d="M1613.9 363.0l5.2 -6.6 5.2 6.6 -5.2 6.6z"/><path d="M1613.9 363.0l5.2 -6.6 5.2 6.6 -5.2 6.6z"/><path d="M1527.8 364.5l5.2 -6.6 5.2 6.6 -5.2 6.6z"/><path d="M1506.5 367.6l5.2 -6.6 5.2 6.6 -5.2 6.6z"/><path d="M1411.3 367.6l5.2 -6.6 5.2 6.6 -5.2 6.6z"/><path d="M1425.1 369.1l5.2 -6.6 5.2 6.6 -5.2 6.6z"/><path d="M1690.1 134.6l5.2 -6.6 5.2 6.6 -5.2 6.6z"/><path d="M1690.1 145.2l5.2 -6.6 5.2 6.6 -5.2 6.6z"/><path d="M1690.1 187.9l5.2 -6.6 5.2 6.6 -5.2 6.6z"/><path d="M1690.1 187.9l5.2 -6.6 5.2 6.6 -5.2 6.6z"/><path d="M1690.1 187.9l5.2 -6.6 5.2 6.6 -5.2 6.6z"/><path d="M1690.1 198.5l5.2 -6.6 5.2 6.6 -5.2 6.6z"/><path d="M1678.4 206.1l5.2 -6.6 5.2 6.6 -5.2 6.6z"/><path d="M1690.1 206.1l5.2 -6.6 5.2 6.6 -5.2 6.6z"/><path d="M1678.4 219.8l5.2 -6.6 5.2 6.6 -5.2 6.6z"/><path d="M1678.4 219.8l5.2 -6.6 5.2 6.6 -5.2 6.6z"/><path d="M1689.1 214.5l5.2 -6.6 5.2 6.6 -5.2 6.6z"/><path d="M1689.1 214.5l5.2 -6.6 5.2 6.6 -5.2 6.6z"/><path d="M1700.5 226.7l5.2 -6.6 5.2 6.6 -5.2 6.6z"/><path d="M1700.5 226.7l5.2 -6.6 5.2 6.6 -5.2 6.6z"/><path d="M1700.5 226.7l5.2 -6.6 5.2 6.6 -5.2 6.6z"/><path d="M1689.1 235.1l5.2 -6.6 5.2 6.6 -5.2 6.6z"/><path d="M1700.5 236.6l5.2 -6.6 5.2 6.6 -5.2 6.6z"/><path d="M1700.5 242.7l5.2 -6.6 5.2 6.6 -5.2 6.6z"/><path d="M1700.5 248.8l5.2 -6.6 5.2 6.6 -5.2 6.6z"/><path d="M1699.7 259.4l5.2 -6.6 5.2 6.6 -5.2 6.6z"/><path d="M1678.4 245.7l5.2 -6.6 5.2 6.6 -5.2 6.6z"/><path d="M1732.5 184.1l5.2 -6.6 5.2 6.6 -5.2 6.6z"/><path d="M1743.4 172.6l5.2 -6.6 5.2 6.6 -5.2 6.6z"/><path d="M1743.1 196.2l5.2 -6.6 5.2 6.6 -5.2 6.6z"/><path d="M1743.1 196.2l5.2 -6.6 5.2 6.6 -5.2 6.6z"/><path d="M1743.1 222.9l5.2 -6.6 5.2 6.6 -5.2 6.6z"/><path d="M1743.1 222.9l5.2 -6.6 5.2 6.6 -5.2 6.6z"/><path d="M1743.1 222.9l5.2 -6.6 5.2 6.6 -5.2 6.6z"/><path d="M1744.6 236.6l5.2 -6.6 5.2 6.6 -5.2 6.6z"/><path d="M1732.5 236.6l5.2 -6.6 5.2 6.6 -5.2 6.6z"/><path d="M1732.5 251.8l5.2 -6.6 5.2 6.6 -5.2 6.6z"/><path d="M1721.8 265.5l5.2 -6.6 5.2 6.6 -5.2 6.6z"/><path d="M1733.2 264.0l5.2 -6.6 5.2 6.6 -5.2 6.6z"/><path d="M1721.8 285.3l5.2 -6.6 5.2 6.6 -5.2 6.6z"/><path d="M1711.1 295.2l5.2 -6.6 5.2 6.6 -5.2 6.6z"/><path d="M1711.1 295.2l5.2 -6.6 5.2 6.6 -5.2 6.6z"/><path d="M1711.1 295.2l5.2 -6.6 5.2 6.6 -5.2 6.6z"/><path d="M1774.3 291.4l5.2 -6.6 5.2 6.6 -5.2 6.6z"/><path d="M1774.3 291.4l5.2 -6.6 5.2 6.6 -5.2 6.6z"/><path d="M1775.1 299.0l5.2 -6.6 5.2 6.6 -5.2 6.6z"/><path d="M1775.9 306.6l5.2 -6.6 5.2 6.6 -5.2 6.6z"/><path d="M1763.7 311.2l5.2 -6.6 5.2 6.6 -5.2 6.6z"/><path d="M1763.7 311.2l5.2 -6.6 5.2 6.6 -5.2 6.6z"/><path d="M1763.7 311.2l5.2 -6.6 5.2 6.6 -5.2 6.6z"/><path d="M1711.1 314.3l5.2 -6.6 5.2 6.6 -5.2 6.6z"/><path d="M1732.5 292.9l5.2 -6.6 5.2 6.6 -5.2 6.6z"/><path d="M1732.5 305.1l5.2 -6.6 5.2 6.6 -5.2 6.6z"/><path d="M1721.8 317.3l5.2 -6.6 5.2 6.6 -5.2 6.6z"/><path d="M1679.2 302.1l5.2 -6.6 5.2 6.6 -5.2 6.6z"/><path d="M1679.2 302.1l5.2 -6.6 5.2 6.6 -5.2 6.6z"/><path d="M1679.2 318.8l5.2 -6.6 5.2 6.6 -5.2 6.6z"/><path d="M1699.0 326.4l5.2 -6.6 5.2 6.6 -5.2 6.6z"/><path d="M1709.6 333.3l5.2 -6.6 5.2 6.6 -5.2 6.6z"/><path d="M1709.6 333.3l5.2 -6.6 5.2 6.6 -5.2 6.6z"/><path d="M1753.8 283.8l5.2 -6.6 5.2 6.6 -5.2 6.6z"/><path d="M1753.8 326.4l5.2 -6.6 5.2 6.6 -5.2 6.6z"/><path d="M1753.8 343.2l5.2 -6.6 5.2 6.6 -5.2 6.6z"/><path d="M1741.6 347.0l5.2 -6.6 5.2 6.6 -5.2 6.6z"/><path d="M1775.1 337.1l5.2 -6.6 5.2 6.6 -5.2 6.6z"/><path d="M1775.1 337.1l5.2 -6.6 5.2 6.6 -5.2 6.6z"/><path d="M1776.6 345.5l5.2 -6.6 5.2 6.6 -5.2 6.6z"/><path d="M1795.7 337.1l5.2 -6.6 5.2 6.6 -5.2 6.6z"/><path d="M1817.0 350.8l5.2 -6.6 5.2 6.6 -5.2 6.6z"/><path d="M1807.1 356.1l5.2 -6.6 5.2 6.6 -5.2 6.6z"/><path d="M1828.4 321.1l5.2 -6.6 5.2 6.6 -5.2 6.6z"/><path d="M1828.4 321.1l5.2 -6.6 5.2 6.6 -5.2 6.6z"/><path d="M1839.8 300.6l5.2 -6.6 5.2 6.6 -5.2 6.6z"/><path d="M1850.5 283.8l5.2 -6.6 5.2 6.6 -5.2 6.6z"/><path d="M1850.5 291.4l5.2 -6.6 5.2 6.6 -5.2 6.6z"/><path d="M1850.5 297.5l5.2 -6.6 5.2 6.6 -5.2 6.6z"/><path d="M1861.1 296.0l5.2 -6.6 5.2 6.6 -5.2 6.6z"/><path d="M1861.1 308.2l5.2 -6.6 5.2 6.6 -5.2 6.6z"/><path d="M1860.4 332.5l5.2 -6.6 5.2 6.6 -5.2 6.6z"/><path d="M1871.0 333.3l5.2 -6.6 5.2 6.6 -5.2 6.6z"/><path d="M1882.5 282.3l5.2 -6.6 5.2 6.6 -5.2 6.6z"/><path d="M1882.5 291.4l5.2 -6.6 5.2 6.6 -5.2 6.6z"/><path d="M1892.4 257.9l5.2 -6.6 5.2 6.6 -5.2 6.6z"/><path d="M1892.4 268.6l5.2 -6.6 5.2 6.6 -5.2 6.6z"/><path d="M1893.1 311.2l5.2 -6.6 5.2 6.6 -5.2 6.6z"/><path d="M1893.1 326.4l5.2 -6.6 5.2 6.6 -5.2 6.6z"/><path d="M1903.0 326.4l5.2 -6.6 5.2 6.6 -5.2 6.6z"/><path d="M1903.0 340.2l5.2 -6.6 5.2 6.6 -5.2 6.6z"/><path d="M1913.7 290.7l5.2 -6.6 5.2 6.6 -5.2 6.6z"/><path d="M1925.1 273.9l5.2 -6.6 5.2 6.6 -5.2 6.6z"/><path d="M1924.3 235.1l5.2 -6.6 5.2 6.6 -5.2 6.6z"/><path d="M1936.2 230.5l5.2 -6.6 5.2 6.6 -5.2 6.6z"/><path d="M1945.7 257.2l5.2 -6.6 5.2 6.6 -5.2 6.6z"/><path d="M1839.1 248.8l5.2 -6.6 5.2 6.6 -5.2 6.6z"/><path d="M1935.0 314.3l5.2 -6.6 5.2 6.6 -5.2 6.6z"/><path d="M1871.8 356.9l5.2 -6.6 5.2 6.6 -5.2 6.6z"/><path d="M1881.7 363.0l5.2 -6.6 5.2 6.6 -5.2 6.6z"/><path d="M1903.8 355.4l5.2 -6.6 5.2 6.6 -5.2 6.6z"/><path d="M1903.8 364.5l5.2 -6.6 5.2 6.6 -5.2 6.6z"/><path d="M1678.4 365.3l5.2 -6.6 5.2 6.6 -5.2 6.6z"/><path d="M1785.8 367.6l5.2 -6.6 5.2 6.6 -5.2 6.6z"/><path d="M1369.3 541.3l5.2 -6.6 5.2 6.6 -5.2 6.6z"/><path d="M1369.3 573.3l5.2 -6.6 5.2 6.6 -5.2 6.6z"/><path d="M1411.9 431.7l5.2 -6.6 5.2 6.6 -5.2 6.6z"/><path d="M1411.9 449.2l5.2 -6.6 5.2 6.6 -5.2 6.6z"/><path d="M1422.6 437.0l5.2 -6.6 5.2 6.6 -5.2 6.6z"/><path d="M1433.2 402.7l5.2 -6.6 5.2 6.6 -5.2 6.6z"/><path d="M1433.2 402.7l5.2 -6.6 5.2 6.6 -5.2 6.6z"/><path d="M1444.6 410.4l5.2 -6.6 5.2 6.6 -5.2 6.6z"/><path d="M1444.6 410.4l5.2 -6.6 5.2 6.6 -5.2 6.6z"/><path d="M1433.2 421.0l5.2 -6.6 5.2 6.6 -5.2 6.6z"/><path d="M1410.4 529.1l5.2 -6.6 5.2 6.6 -5.2 6.6z"/><path d="M1410.4 555.8l5.2 -6.6 5.2 6.6 -5.2 6.6z"/><path d="M1421.0 566.4l5.2 -6.6 5.2 6.6 -5.2 6.6z"/><path d="M1421.0 566.4l5.2 -6.6 5.2 6.6 -5.2 6.6z"/><path d="M1421.0 580.2l5.2 -6.6 5.2 6.6 -5.2 6.6z"/><path d="M1421.0 580.2l5.2 -6.6 5.2 6.6 -5.2 6.6z"/><path d="M1421.0 593.9l5.2 -6.6 5.2 6.6 -5.2 6.6z"/><path d="M1421.0 593.9l5.2 -6.6 5.2 6.6 -5.2 6.6z"/><path d="M1421.0 606.0l5.2 -6.6 5.2 6.6 -5.2 6.6z"/><path d="M1431.7 475.1l5.2 -6.6 5.2 6.6 -5.2 6.6z"/><path d="M1431.7 491.8l5.2 -6.6 5.2 6.6 -5.2 6.6z"/><path d="M1422.6 495.6l5.2 -6.6 5.2 6.6 -5.2 6.6z"/><path d="M1443.9 465.9l5.2 -6.6 5.2 6.6 -5.2 6.6z"/><path d="M1443.9 495.6l5.2 -6.6 5.2 6.6 -5.2 6.6z"/><path d="M1453.8 469.7l5.2 -6.6 5.2 6.6 -5.2 6.6z"/><path d="M1464.4 418.7l5.2 -6.6 5.2 6.6 -5.2 6.6z"/><path d="M1465.2 458.3l5.2 -6.6 5.2 6.6 -5.2 6.6z"/><path d="M1465.2 473.6l5.2 -6.6 5.2 6.6 -5.2 6.6z"/><path d="M1465.2 485.7l5.2 -6.6 5.2 6.6 -5.2 6.6z"/><path d="M1453.0 536.0l5.2 -6.6 5.2 6.6 -5.2 6.6z"/><path d="M1453.0 547.4l5.2 -6.6 5.2 6.6 -5.2 6.6z"/><path d="M1441.6 565.7l5.2 -6.6 5.2 6.6 -5.2 6.6z"/><path d="M1441.6 577.1l5.2 -6.6 5.2 6.6 -5.2 6.6z"/><path d="M1472.8 560.4l5.2 -6.6 5.2 6.6 -5.2 6.6z"/><path d="M1472.8 572.5l5.2 -6.6 5.2 6.6 -5.2 6.6z"/><path d="M1472.8 584.7l5.2 -6.6 5.2 6.6 -5.2 6.6z"/><path d="M1462.9 595.4l5.2 -6.6 5.2 6.6 -5.2 6.6z"/><path d="M1483.5 506.3l5.2 -6.6 5.2 6.6 -5.2 6.6z"/><path d="M1475.9 375.3l5.2 -6.6 5.2 6.6 -5.2 6.6z"/><path d="M1504.8 493.4l5.2 -6.6 5.2 6.6 -5.2 6.6z"/><path d="M1517.0 421.0l5.2 -6.6 5.2 6.6 -5.2 6.6z"/><path d="M1517.0 437.0l5.2 -6.6 5.2 6.6 -5.2 6.6z"/><path d="M1527.6 377.6l5.2 -6.6 5.2 6.6 -5.2 6.6z"/><path d="M1507.1 371.5l5.2 -6.6 5.2 6.6 -5.2 6.6z"/><path d="M1536.0 517.7l5.2 -6.6 5.2 6.6 -5.2 6.6z"/><path d="M1546.7 514.7l5.2 -6.6 5.2 6.6 -5.2 6.6z"/><path d="M1546.7 523.8l5.2 -6.6 5.2 6.6 -5.2 6.6z"/><path d="M1546.7 523.8l5.2 -6.6 5.2 6.6 -5.2 6.6z"/><path d="M1546.7 531.4l5.2 -6.6 5.2 6.6 -5.2 6.6z"/><path d="M1558.1 511.6l5.2 -6.6 5.2 6.6 -5.2 6.6z"/><path d="M1558.1 511.6l5.2 -6.6 5.2 6.6 -5.2 6.6z"/><path d="M1558.1 522.3l5.2 -6.6 5.2 6.6 -5.2 6.6z"/><path d="M1568.8 514.7l5.2 -6.6 5.2 6.6 -5.2 6.6z"/><path d="M1568.8 523.8l5.2 -6.6 5.2 6.6 -5.2 6.6z"/><path d="M1568.8 537.5l5.2 -6.6 5.2 6.6 -5.2 6.6z"/><path d="M1568.8 537.5l5.2 -6.6 5.2 6.6 -5.2 6.6z"/><path d="M1568.8 557.3l5.2 -6.6 5.2 6.6 -5.2 6.6z"/><path d="M1568.8 557.3l5.2 -6.6 5.2 6.6 -5.2 6.6z"/><path d="M1580.2 440.8l5.2 -6.6 5.2 6.6 -5.2 6.6z"/><path d="M1590.1 546.6l5.2 -6.6 5.2 6.6 -5.2 6.6z"/><path d="M1590.1 557.3l5.2 -6.6 5.2 6.6 -5.2 6.6z"/><path d="M1601.5 490.3l5.2 -6.6 5.2 6.6 -5.2 6.6z"/><path d="M1612.9 416.4l5.2 -6.6 5.2 6.6 -5.2 6.6z"/><path d="M1612.2 548.2l5.2 -6.6 5.2 6.6 -5.2 6.6z"/><path d="M1606.8 560.4l5.2 -6.6 5.2 6.6 -5.2 6.6z"/><path d="M1622.8 517.7l5.2 -6.6 5.2 6.6 -5.2 6.6z"/><path d="M1635.0 395.9l5.2 -6.6 5.2 6.6 -5.2 6.6z"/><path d="M1635.0 406.5l5.2 -6.6 5.2 6.6 -5.2 6.6z"/><path d="M1644.1 388.3l5.2 -6.6 5.2 6.6 -5.2 6.6z"/><path d="M1644.1 395.9l5.2 -6.6 5.2 6.6 -5.2 6.6z"/><path d="M1643.4 464.4l5.2 -6.6 5.2 6.6 -5.2 6.6z"/><path d="M1643.4 476.6l5.2 -6.6 5.2 6.6 -5.2 6.6z"/><path d="M1643.4 490.3l5.2 -6.6 5.2 6.6 -5.2 6.6z"/><path d="M1536.0 574.1l5.2 -6.6 5.2 6.6 -5.2 6.6z"/><path d="M1536.0 574.1l5.2 -6.6 5.2 6.6 -5.2 6.6z"/><path d="M1514.7 581.7l5.2 -6.6 5.2 6.6 -5.2 6.6z"/><path d="M1514.7 581.7l5.2 -6.6 5.2 6.6 -5.2 6.6z"/><path d="M1493.4 580.2l5.2 -6.6 5.2 6.6 -5.2 6.6z"/><path d="M1493.4 590.8l5.2 -6.6 5.2 6.6 -5.2 6.6z"/><path d="M1525.4 589.3l5.2 -6.6 5.2 6.6 -5.2 6.6z"/><path d="M1525.4 598.4l5.2 -6.6 5.2 6.6 -5.2 6.6z"/><path d="M1578.7 595.4l5.2 -6.6 5.2 6.6 -5.2 6.6z"/><path d="M1578.7 595.4l5.2 -6.6 5.2 6.6 -5.2 6.6z"/><path d="M1578.7 595.4l5.2 -6.6 5.2 6.6 -5.2 6.6z"/><path d="M1590.1 581.7l5.2 -6.6 5.2 6.6 -5.2 6.6z"/><path d="M1590.1 581.7l5.2 -6.6 5.2 6.6 -5.2 6.6z"/><path d="M1590.1 596.9l5.2 -6.6 5.2 6.6 -5.2 6.6z"/><path d="M1590.1 596.9l5.2 -6.6 5.2 6.6 -5.2 6.6z"/><path d="M1622.1 584.7l5.2 -6.6 5.2 6.6 -5.2 6.6z"/><path d="M1622.1 584.7l5.2 -6.6 5.2 6.6 -5.2 6.6z"/><path d="M1622.1 584.7l5.2 -6.6 5.2 6.6 -5.2 6.6z"/><path d="M1622.1 574.1l5.2 -6.6 5.2 6.6 -5.2 6.6z"/><path d="M1633.5 596.9l5.2 -6.6 5.2 6.6 -5.2 6.6z"/><path d="M1633.5 596.9l5.2 -6.6 5.2 6.6 -5.2 6.6z"/><path d="M1612.2 572.5l5.2 -6.6 5.2 6.6 -5.2 6.6z"/><path d="M1601.5 568.0l5.2 -6.6 5.2 6.6 -5.2 6.6z"/><path d="M1421.0 376.9l5.2 -6.6 5.2 6.6 -5.2 6.6z"/><path d="M1677.5 380.7l5.2 -6.6 5.2 6.6 -5.2 6.6z"/><path d="M1665.4 397.4l5.2 -6.6 5.2 6.6 -5.2 6.6z"/><path d="M1690.5 391.3l5.2 -6.6 5.2 6.6 -5.2 6.6z"/><path d="M1690.5 398.9l5.2 -6.6 5.2 6.6 -5.2 6.6z"/><path d="M1690.5 406.5l5.2 -6.6 5.2 6.6 -5.2 6.6z"/><path d="M1711.8 386.0l5.2 -6.6 5.2 6.6 -5.2 6.6z"/><path d="M1711.8 386.0l5.2 -6.6 5.2 6.6 -5.2 6.6z"/><path d="M1677.5 421.0l5.2 -6.6 5.2 6.6 -5.2 6.6z"/><path d="M1686.7 427.1l5.2 -6.6 5.2 6.6 -5.2 6.6z"/><path d="M1686.7 427.1l5.2 -6.6 5.2 6.6 -5.2 6.6z"/><path d="M1686.7 444.6l5.2 -6.6 5.2 6.6 -5.2 6.6z"/><path d="M1720.2 404.3l5.2 -6.6 5.2 6.6 -5.2 6.6z"/><path d="M1740.7 376.9l5.2 -6.6 5.2 6.6 -5.2 6.6z"/><path d="M1740.7 383.7l5.2 -6.6 5.2 6.6 -5.2 6.6z"/><path d="M1753.7 373.0l5.2 -6.6 5.2 6.6 -5.2 6.6z"/><path d="M1753.7 411.1l5.2 -6.6 5.2 6.6 -5.2 6.6z"/><path d="M1753.7 411.1l5.2 -6.6 5.2 6.6 -5.2 6.6z"/><path d="M1765.1 406.5l5.2 -6.6 5.2 6.6 -5.2 6.6z"/><path d="M1765.1 417.2l5.2 -6.6 5.2 6.6 -5.2 6.6z"/><path d="M1765.1 417.2l5.2 -6.6 5.2 6.6 -5.2 6.6z"/><path d="M1774.2 379.1l5.2 -6.6 5.2 6.6 -5.2 6.6z"/><path d="M1784.9 374.6l5.2 -6.6 5.2 6.6 -5.2 6.6z"/><path d="M1784.9 374.6l5.2 -6.6 5.2 6.6 -5.2 6.6z"/><path d="M1784.9 374.6l5.2 -6.6 5.2 6.6 -5.2 6.6z"/><path d="M1785.7 412.6l5.2 -6.6 5.2 6.6 -5.2 6.6z"/><path d="M1785.7 412.6l5.2 -6.6 5.2 6.6 -5.2 6.6z"/><path d="M1785.7 412.6l5.2 -6.6 5.2 6.6 -5.2 6.6z"/><path d="M1784.1 430.9l5.2 -6.6 5.2 6.6 -5.2 6.6z"/><path d="M1806.2 378.4l5.2 -6.6 5.2 6.6 -5.2 6.6z"/><path d="M1818.4 437.0l5.2 -6.6 5.2 6.6 -5.2 6.6z"/><path d="M1870.2 372.3l5.2 -6.6 5.2 6.6 -5.2 6.6z"/><path d="M1881.6 375.3l5.2 -6.6 5.2 6.6 -5.2 6.6z"/><path d="M1914.3 382.9l5.2 -6.6 5.2 6.6 -5.2 6.6z"/><path d="M1943.3 376.9l5.2 -6.6 5.2 6.6 -5.2 6.6z"/><path d="M1724.0 427.9l5.2 -6.6 5.2 6.6 -5.2 6.6z"/><path d="M1729.3 421.8l5.2 -6.6 5.2 6.6 -5.2 6.6z"/><path d="M1729.3 434.0l5.2 -6.6 5.2 6.6 -5.2 6.6z"/><path d="M1751.4 437.0l5.2 -6.6 5.2 6.6 -5.2 6.6z"/><path d="M1760.5 438.5l5.2 -6.6 5.2 6.6 -5.2 6.6z"/><path d="M1763.6 446.1l5.2 -6.6 5.2 6.6 -5.2 6.6z"/><path d="M1773.5 446.9l5.2 -6.6 5.2 6.6 -5.2 6.6z"/><path d="M1773.5 446.9l5.2 -6.6 5.2 6.6 -5.2 6.6z"/><path d="M1794.0 455.3l5.2 -6.6 5.2 6.6 -5.2 6.6z"/><path d="M1794.0 455.3l5.2 -6.6 5.2 6.6 -5.2 6.6z"/><path d="M1677.5 481.9l5.2 -6.6 5.2 6.6 -5.2 6.6z"/><path d="M1697.3 484.2l5.2 -6.6 5.2 6.6 -5.2 6.6z"/><path d="M1697.3 496.4l5.2 -6.6 5.2 6.6 -5.2 6.6z"/><path d="M1697.3 523.8l5.2 -6.6 5.2 6.6 -5.2 6.6z"/><path d="M1708.8 511.6l5.2 -6.6 5.2 6.6 -5.2 6.6z"/><path d="M1708.8 511.6l5.2 -6.6 5.2 6.6 -5.2 6.6z"/><path d="M1669.2 516.2l5.2 -6.6 5.2 6.6 -5.2 6.6z"/><path d="M1669.2 516.2l5.2 -6.6 5.2 6.6 -5.2 6.6z"/><path d="M1664.6 528.4l5.2 -6.6 5.2 6.6 -5.2 6.6z"/><path d="M1679.8 532.9l5.2 -6.6 5.2 6.6 -5.2 6.6z"/><path d="M1677.5 552.7l5.2 -6.6 5.2 6.6 -5.2 6.6z"/><path d="M1685.2 542.1l5.2 -6.6 5.2 6.6 -5.2 6.6z"/><path d="M1685.2 564.2l5.2 -6.6 5.2 6.6 -5.2 6.6z"/><path d="M1685.2 564.2l5.2 -6.6 5.2 6.6 -5.2 6.6z"/><path d="M1719.4 546.6l5.2 -6.6 5.2 6.6 -5.2 6.6z"/><path d="M1719.4 558.8l5.2 -6.6 5.2 6.6 -5.2 6.6z"/><path d="M1719.4 558.8l5.2 -6.6 5.2 6.6 -5.2 6.6z"/><path d="M1719.4 558.8l5.2 -6.6 5.2 6.6 -5.2 6.6z"/><path d="M1729.3 535.2l5.2 -6.6 5.2 6.6 -5.2 6.6z"/><path d="M1761.3 522.3l5.2 -6.6 5.2 6.6 -5.2 6.6z"/><path d="M1761.3 522.3l5.2 -6.6 5.2 6.6 -5.2 6.6z"/><path d="M1751.4 549.7l5.2 -6.6 5.2 6.6 -5.2 6.6z"/><path d="M1751.4 561.1l5.2 -6.6 5.2 6.6 -5.2 6.6z"/><path d="M1772.0 545.1l5.2 -6.6 5.2 6.6 -5.2 6.6z"/><path d="M1783.4 556.5l5.2 -6.6 5.2 6.6 -5.2 6.6z"/><path d="M1797.8 515.4l5.2 -6.6 5.2 6.6 -5.2 6.6z"/><path d="M1829.8 502.5l5.2 -6.6 5.2 6.6 -5.2 6.6z"/><path d="M1829.8 511.6l5.2 -6.6 5.2 6.6 -5.2 6.6z"/><path d="M1896.8 514.7l5.2 -6.6 5.2 6.6 -5.2 6.6z"/><path d="M1922.0 453.8l5.2 -6.6 5.2 6.6 -5.2 6.6z"/><path d="M1932.6 462.1l5.2 -6.6 5.2 6.6 -5.2 6.6z"/><path d="M1719.4 582.4l5.2 -6.6 5.2 6.6 -5.2 6.6z"/><path d="M1719.4 582.4l5.2 -6.6 5.2 6.6 -5.2 6.6z"/><path d="M1729.3 581.7l5.2 -6.6 5.2 6.6 -5.2 6.6z"/><path d="M1665.4 590.8l5.2 -6.6 5.2 6.6 -5.2 6.6z"/><path d="M1665.4 590.8l5.2 -6.6 5.2 6.6 -5.2 6.6z"/><path d="M1650.1 583.2l5.2 -6.6 5.2 6.6 -5.2 6.6z"/><path d="M1653.9 598.4l5.2 -6.6 5.2 6.6 -5.2 6.6z"/><path d="M1676.8 589.3l5.2 -6.6 5.2 6.6 -5.2 6.6z"/><path d="M1765.1 596.9l5.2 -6.6 5.2 6.6 -5.2 6.6z"/><path d="M1765.1 596.9l5.2 -6.6 5.2 6.6 -5.2 6.6z"/><path d="M1765.1 596.9l5.2 -6.6 5.2 6.6 -5.2 6.6z"/><path d="M1772.7 601.5l5.2 -6.6 5.2 6.6 -5.2 6.6z"/><path d="M1793.3 599.9l5.2 -6.6 5.2 6.6 -5.2 6.6z"/><path d="M1793.3 599.9l5.2 -6.6 5.2 6.6 -5.2 6.6z"/><path d="M1793.3 599.9l5.2 -6.6 5.2 6.6 -5.2 6.6z"/><path d="M1797.1 586.2l5.2 -6.6 5.2 6.6 -5.2 6.6z"/><path d="M1902.2 599.9l5.2 -6.6 5.2 6.6 -5.2 6.6z"/><path d="M1909.8 599.9l5.2 -6.6 5.2 6.6 -5.2 6.6z"/><path d="M1685.2 603.0l5.2 -6.6 5.2 6.6 -5.2 6.6z"/><path d="M1561.0 103.6l5.2 -6.6 5.2 6.6 -5.2 6.6z"/><path d="M1540.7 114.2l5.2 -6.6 5.2 6.6 -5.2 6.6z"/><path d="M1540.7 133.2l5.2 -6.6 5.2 6.6 -5.2 6.6z"/><path d="M1582.6 114.2l5.2 -6.6 5.2 6.6 -5.2 6.6z"/><path d="M1572.4 133.8l5.2 -6.6 5.2 6.6 -5.2 6.6z"/><path d="M1645.3 99.0l5.2 -6.6 5.2 6.6 -5.2 6.6z"/><path d="M1647.3 115.5l5.2 -6.6 5.2 6.6 -5.2 6.6z"/><path d="M1645.3 120.6l5.2 -6.6 5.2 6.6 -5.2 6.6z"/><path d="M1658.7 128.7l5.2 -6.6 5.2 6.6 -5.2 6.6z"/><path d="M1690.5 133.8l5.2 -6.6 5.2 6.6 -5.2 6.6z"/><path d="M1944.8 255.0l5.2 -6.6 5.2 6.6 -5.2 6.6z"/><path d="M1945.8 378.0l5.2 -6.6 5.2 6.6 -5.2 6.6z"/><path d="M1950.8 655.0l5.2 -6.6 5.2 6.6 -5.2 6.6z"/><path d="M1954.8 656.0l5.2 -6.6 5.2 6.6 -5.2 6.6z"/><path d="M1368.8 543.0l5.2 -6.6 5.2 6.6 -5.2 6.6z"/><path d="M1368.8 575.0l5.2 -6.6 5.2 6.6 -5.2 6.6z"/><path d="M1366.8 614.0l5.2 -6.6 5.2 6.6 -5.2 6.6z"/><path d="M1405.2 642.4l5.2 -6.6 5.2 6.6 -5.2 6.6z"/><path d="M1403.4 640.4l5.2 -6.6 5.2 6.6 -5.2 6.6z"/><path d="M1406.8 648.9l5.2 -6.6 5.2 6.6 -5.2 6.6z"/><path d="M1406.6 646.0l5.2 -6.6 5.2 6.6 -5.2 6.6z"/><path d="M1403.1 649.6l5.2 -6.6 5.2 6.6 -5.2 6.6z"/><path d="M1401.5 613.8l5.2 -6.6 5.2 6.6 -5.2 6.6z"/><path d="M1419.6 646.6l5.2 -6.6 5.2 6.6 -5.2 6.6z"/><path d="M1414.5 646.1l5.2 -6.6 5.2 6.6 -5.2 6.6z"/><path d="M1420.5 639.2l5.2 -6.6 5.2 6.6 -5.2 6.6z"/><path d="M1417.8 660.7l5.2 -6.6 5.2 6.6 -5.2 6.6z"/><path d="M1413.9 637.6l5.2 -6.6 5.2 6.6 -5.2 6.6z"/><path d="M1420.4 622.6l5.2 -6.6 5.2 6.6 -5.2 6.6z"/><path d="M1412.8 633.8l5.2 -6.6 5.2 6.6 -5.2 6.6z"/><path d="M1414.5 588.2l5.2 -6.6 5.2 6.6 -5.2 6.6z"/><path d="M1425.6 655.1l5.2 -6.6 5.2 6.6 -5.2 6.6z"/><path d="M1427.0 651.8l5.2 -6.6 5.2 6.6 -5.2 6.6z"/><path d="M1428.2 645.6l5.2 -6.6 5.2 6.6 -5.2 6.6z"/><path d="M1425.7 646.7l5.2 -6.6 5.2 6.6 -5.2 6.6z"/><path d="M1429.2 652.3l5.2 -6.6 5.2 6.6 -5.2 6.6z"/><path d="M1428.2 611.9l5.2 -6.6 5.2 6.6 -5.2 6.6z"/><path d="M1425.1 589.6l5.2 -6.6 5.2 6.6 -5.2 6.6z"/><path d="M1429.4 625.6l5.2 -6.6 5.2 6.6 -5.2 6.6z"/><path d="M1439.1 645.2l5.2 -6.6 5.2 6.6 -5.2 6.6z"/><path d="M1438.8 640.6l5.2 -6.6 5.2 6.6 -5.2 6.6z"/><path d="M1437.0 654.4l5.2 -6.6 5.2 6.6 -5.2 6.6z"/><path d="M1442.1 642.9l5.2 -6.6 5.2 6.6 -5.2 6.6z"/><path d="M1440.4 643.3l5.2 -6.6 5.2 6.6 -5.2 6.6z"/><path d="M1434.2 609.6l5.2 -6.6 5.2 6.6 -5.2 6.6z"/><path d="M1433.0 597.8l5.2 -6.6 5.2 6.6 -5.2 6.6z"/><path d="M1440.8 604.1l5.2 -6.6 5.2 6.6 -5.2 6.6z"/><path d="M1452.0 651.2l5.2 -6.6 5.2 6.6 -5.2 6.6z"/><path d="M1450.0 639.0l5.2 -6.6 5.2 6.6 -5.2 6.6z"/><path d="M1449.8 658.7l5.2 -6.6 5.2 6.6 -5.2 6.6z"/><path d="M1452.5 644.4l5.2 -6.6 5.2 6.6 -5.2 6.6z"/><path d="M1449.1 648.6l5.2 -6.6 5.2 6.6 -5.2 6.6z"/><path d="M1450.8 599.2l5.2 -6.6 5.2 6.6 -5.2 6.6z"/><path d="M1453.9 587.8l5.2 -6.6 5.2 6.6 -5.2 6.6z"/><path d="M1446.3 616.3l5.2 -6.6 5.2 6.6 -5.2 6.6z"/><path d="M1461.2 649.4l5.2 -6.6 5.2 6.6 -5.2 6.6z"/><path d="M1456.5 651.1l5.2 -6.6 5.2 6.6 -5.2 6.6z"/><path d="M1457.2 646.7l5.2 -6.6 5.2 6.6 -5.2 6.6z"/><path d="M1456.8 647.2l5.2 -6.6 5.2 6.6 -5.2 6.6z"/><path d="M1458.1 650.7l5.2 -6.6 5.2 6.6 -5.2 6.6z"/><path d="M1458.1 584.6l5.2 -6.6 5.2 6.6 -5.2 6.6z"/><path d="M1454.8 612.2l5.2 -6.6 5.2 6.6 -5.2 6.6z"/><path d="M1459.8 583.8l5.2 -6.6 5.2 6.6 -5.2 6.6z"/><path d="M1473.0 644.4l5.2 -6.6 5.2 6.6 -5.2 6.6z"/><path d="M1470.0 651.2l5.2 -6.6 5.2 6.6 -5.2 6.6z"/><path d="M1469.6 636.2l5.2 -6.6 5.2 6.6 -5.2 6.6z"/><path d="M1468.1 657.6l5.2 -6.6 5.2 6.6 -5.2 6.6z"/><path d="M1468.3 647.1l5.2 -6.6 5.2 6.6 -5.2 6.6z"/><path d="M1469.8 603.0l5.2 -6.6 5.2 6.6 -5.2 6.6z"/><path d="M1467.5 641.2l5.2 -6.6 5.2 6.6 -5.2 6.6z"/><path d="M1469.1 617.4l5.2 -6.6 5.2 6.6 -5.2 6.6z"/><path d="M1481.8 643.2l5.2 -6.6 5.2 6.6 -5.2 6.6z"/><path d="M1484.6 650.2l5.2 -6.6 5.2 6.6 -5.2 6.6z"/><path d="M1482.2 654.3l5.2 -6.6 5.2 6.6 -5.2 6.6z"/><path d="M1482.6 635.4l5.2 -6.6 5.2 6.6 -5.2 6.6z"/><path d="M1483.4 643.2l5.2 -6.6 5.2 6.6 -5.2 6.6z"/><path d="M1484.7 589.4l5.2 -6.6 5.2 6.6 -5.2 6.6z"/><path d="M1479.5 615.4l5.2 -6.6 5.2 6.6 -5.2 6.6z"/><path d="M1476.5 600.1l5.2 -6.6 5.2 6.6 -5.2 6.6z"/><path d="M1488.8 643.8l5.2 -6.6 5.2 6.6 -5.2 6.6z"/><path d="M1489.6 645.9l5.2 -6.6 5.2 6.6 -5.2 6.6z"/><path d="M1490.9 647.4l5.2 -6.6 5.2 6.6 -5.2 6.6z"/><path d="M1489.5 647.5l5.2 -6.6 5.2 6.6 -5.2 6.6z"/><path d="M1489.1 648.4l5.2 -6.6 5.2 6.6 -5.2 6.6z"/><path d="M1495.4 601.4l5.2 -6.6 5.2 6.6 -5.2 6.6z"/><path d="M1487.6 625.0l5.2 -6.6 5.2 6.6 -5.2 6.6z"/><path d="M1489.8 617.7l5.2 -6.6 5.2 6.6 -5.2 6.6z"/><path d="M1500.0 646.5l5.2 -6.6 5.2 6.6 -5.2 6.6z"/><path d="M1505.3 640.8l5.2 -6.6 5.2 6.6 -5.2 6.6z"/><path d="M1502.6 647.8l5.2 -6.6 5.2 6.6 -5.2 6.6z"/><path d="M1499.7 643.1l5.2 -6.6 5.2 6.6 -5.2 6.6z"/><path d="M1501.0 644.2l5.2 -6.6 5.2 6.6 -5.2 6.6z"/><path d="M1505.6 631.0l5.2 -6.6 5.2 6.6 -5.2 6.6z"/><path d="M1497.0 579.4l5.2 -6.6 5.2 6.6 -5.2 6.6z"/><path d="M1502.4 631.9l5.2 -6.6 5.2 6.6 -5.2 6.6z"/><path d="M1513.7 640.3l5.2 -6.6 5.2 6.6 -5.2 6.6z"/><path d="M1516.9 646.3l5.2 -6.6 5.2 6.6 -5.2 6.6z"/><path d="M1516.0 649.1l5.2 -6.6 5.2 6.6 -5.2 6.6z"/><path d="M1512.4 652.0l5.2 -6.6 5.2 6.6 -5.2 6.6z"/><path d="M1511.0 646.5l5.2 -6.6 5.2 6.6 -5.2 6.6z"/><path d="M1515.7 620.0l5.2 -6.6 5.2 6.6 -5.2 6.6z"/><path d="M1509.8 588.5l5.2 -6.6 5.2 6.6 -5.2 6.6z"/><path d="M1517.9 585.8l5.2 -6.6 5.2 6.6 -5.2 6.6z"/><path d="M1526.3 654.9l5.2 -6.6 5.2 6.6 -5.2 6.6z"/><path d="M1526.4 647.8l5.2 -6.6 5.2 6.6 -5.2 6.6z"/><path d="M1524.2 651.9l5.2 -6.6 5.2 6.6 -5.2 6.6z"/><path d="M1523.0 646.1l5.2 -6.6 5.2 6.6 -5.2 6.6z"/><path d="M1522.5 647.3l5.2 -6.6 5.2 6.6 -5.2 6.6z"/><path d="M1520.9 596.3l5.2 -6.6 5.2 6.6 -5.2 6.6z"/><path d="M1528.3 612.3l5.2 -6.6 5.2 6.6 -5.2 6.6z"/><path d="M1528.1 576.9l5.2 -6.6 5.2 6.6 -5.2 6.6z"/><path d="M1538.1 650.4l5.2 -6.6 5.2 6.6 -5.2 6.6z"/><path d="M1532.8 644.4l5.2 -6.6 5.2 6.6 -5.2 6.6z"/><path d="M1532.6 645.2l5.2 -6.6 5.2 6.6 -5.2 6.6z"/><path d="M1537.7 639.5l5.2 -6.6 5.2 6.6 -5.2 6.6z"/><path d="M1537.3 656.3l5.2 -6.6 5.2 6.6 -5.2 6.6z"/><path d="M1537.3 636.0l5.2 -6.6 5.2 6.6 -5.2 6.6z"/><path d="M1535.9 582.1l5.2 -6.6 5.2 6.6 -5.2 6.6z"/><path d="M1537.2 592.5l5.2 -6.6 5.2 6.6 -5.2 6.6z"/><path d="M1545.3 646.4l5.2 -6.6 5.2 6.6 -5.2 6.6z"/><path d="M1543.1 646.2l5.2 -6.6 5.2 6.6 -5.2 6.6z"/><path d="M1547.7 652.8l5.2 -6.6 5.2 6.6 -5.2 6.6z"/><path d="M1548.9 652.4l5.2 -6.6 5.2 6.6 -5.2 6.6z"/><path d="M1548.7 643.8l5.2 -6.6 5.2 6.6 -5.2 6.6z"/><path d="M1547.2 630.4l5.2 -6.6 5.2 6.6 -5.2 6.6z"/><path d="M1540.8 631.6l5.2 -6.6 5.2 6.6 -5.2 6.6z"/><path d="M1549.2 588.8l5.2 -6.6 5.2 6.6 -5.2 6.6z"/><path d="M1553.6 642.0l5.2 -6.6 5.2 6.6 -5.2 6.6z"/><path d="M1557.3 655.3l5.2 -6.6 5.2 6.6 -5.2 6.6z"/><path d="M1555.1 648.3l5.2 -6.6 5.2 6.6 -5.2 6.6z"/><path d="M1552.6 647.1l5.2 -6.6 5.2 6.6 -5.2 6.6z"/><path d="M1559.6 649.1l5.2 -6.6 5.2 6.6 -5.2 6.6z"/><path d="M1559.3 650.0l5.2 -6.6 5.2 6.6 -5.2 6.6z"/><path d="M1555.7 642.0l5.2 -6.6 5.2 6.6 -5.2 6.6z"/><path d="M1554.1 651.3l5.2 -6.6 5.2 6.6 -5.2 6.6z"/><path d="M1554.4 647.2l5.2 -6.6 5.2 6.6 -5.2 6.6z"/><path d="M1556.8 644.0l5.2 -6.6 5.2 6.6 -5.2 6.6z"/><path d="M1554.4 648.2l5.2 -6.6 5.2 6.6 -5.2 6.6z"/><path d="M1559.9 618.4l5.2 -6.6 5.2 6.6 -5.2 6.6z"/><path d="M1555.1 603.4l5.2 -6.6 5.2 6.6 -5.2 6.6z"/><path d="M1559.8 614.0l5.2 -6.6 5.2 6.6 -5.2 6.6z"/><path d="M1569.9 645.6l5.2 -6.6 5.2 6.6 -5.2 6.6z"/><path d="M1566.9 650.7l5.2 -6.6 5.2 6.6 -5.2 6.6z"/><path d="M1563.4 647.4l5.2 -6.6 5.2 6.6 -5.2 6.6z"/><path d="M1566.4 646.4l5.2 -6.6 5.2 6.6 -5.2 6.6z"/><path d="M1569.0 646.3l5.2 -6.6 5.2 6.6 -5.2 6.6z"/><path d="M1564.5 652.1l5.2 -6.6 5.2 6.6 -5.2 6.6z"/><path d="M1567.3 645.6l5.2 -6.6 5.2 6.6 -5.2 6.6z"/><path d="M1565.6 651.0l5.2 -6.6 5.2 6.6 -5.2 6.6z"/><path d="M1568.9 647.1l5.2 -6.6 5.2 6.6 -5.2 6.6z"/><path d="M1564.0 649.0l5.2 -6.6 5.2 6.6 -5.2 6.6z"/><path d="M1565.2 647.5l5.2 -6.6 5.2 6.6 -5.2 6.6z"/><path d="M1569.1 608.3l5.2 -6.6 5.2 6.6 -5.2 6.6z"/><path d="M1566.9 591.8l5.2 -6.6 5.2 6.6 -5.2 6.6z"/><path d="M1570.6 612.5l5.2 -6.6 5.2 6.6 -5.2 6.6z"/><path d="M1578.4 650.8l5.2 -6.6 5.2 6.6 -5.2 6.6z"/><path d="M1578.9 646.7l5.2 -6.6 5.2 6.6 -5.2 6.6z"/><path d="M1577.2 650.5l5.2 -6.6 5.2 6.6 -5.2 6.6z"/><path d="M1580.8 647.4l5.2 -6.6 5.2 6.6 -5.2 6.6z"/><path d="M1579.0 640.5l5.2 -6.6 5.2 6.6 -5.2 6.6z"/><path d="M1575.8 652.4l5.2 -6.6 5.2 6.6 -5.2 6.6z"/><path d="M1578.0 640.2l5.2 -6.6 5.2 6.6 -5.2 6.6z"/><path d="M1574.9 648.9l5.2 -6.6 5.2 6.6 -5.2 6.6z"/><path d="M1574.8 647.8l5.2 -6.6 5.2 6.6 -5.2 6.6z"/><path d="M1575.7 646.1l5.2 -6.6 5.2 6.6 -5.2 6.6z"/><path d="M1574.4 649.5l5.2 -6.6 5.2 6.6 -5.2 6.6z"/><path d="M1581.1 631.4l5.2 -6.6 5.2 6.6 -5.2 6.6z"/><path d="M1579.2 598.4l5.2 -6.6 5.2 6.6 -5.2 6.6z"/><path d="M1573.1 583.8l5.2 -6.6 5.2 6.6 -5.2 6.6z"/><path d="M1591.6 651.9l5.2 -6.6 5.2 6.6 -5.2 6.6z"/><path d="M1586.2 643.2l5.2 -6.6 5.2 6.6 -5.2 6.6z"/><path d="M1588.1 647.6l5.2 -6.6 5.2 6.6 -5.2 6.6z"/><path d="M1591.8 645.5l5.2 -6.6 5.2 6.6 -5.2 6.6z"/><path d="M1587.7 648.4l5.2 -6.6 5.2 6.6 -5.2 6.6z"/><path d="M1588.3 647.8l5.2 -6.6 5.2 6.6 -5.2 6.6z"/><path d="M1586.9 644.6l5.2 -6.6 5.2 6.6 -5.2 6.6z"/><path d="M1589.9 642.1l5.2 -6.6 5.2 6.6 -5.2 6.6z"/><path d="M1587.8 646.0l5.2 -6.6 5.2 6.6 -5.2 6.6z"/><path d="M1584.7 649.0l5.2 -6.6 5.2 6.6 -5.2 6.6z"/><path d="M1588.3 642.3l5.2 -6.6 5.2 6.6 -5.2 6.6z"/><path d="M1582.9 577.1l5.2 -6.6 5.2 6.6 -5.2 6.6z"/><path d="M1590.7 578.0l5.2 -6.6 5.2 6.6 -5.2 6.6z"/><path d="M1583.4 624.2l5.2 -6.6 5.2 6.6 -5.2 6.6z"/><path d="M1595.6 646.0l5.2 -6.6 5.2 6.6 -5.2 6.6z"/><path d="M1596.2 649.3l5.2 -6.6 5.2 6.6 -5.2 6.6z"/><path d="M1598.4 641.0l5.2 -6.6 5.2 6.6 -5.2 6.6z"/><path d="M1597.2 650.0l5.2 -6.6 5.2 6.6 -5.2 6.6z"/><path d="M1596.4 642.5l5.2 -6.6 5.2 6.6 -5.2 6.6z"/><path d="M1600.4 648.8l5.2 -6.6 5.2 6.6 -5.2 6.6z"/><path d="M1595.9 641.5l5.2 -6.6 5.2 6.6 -5.2 6.6z"/><path d="M1598.4 644.6l5.2 -6.6 5.2 6.6 -5.2 6.6z"/><path d="M1595.8 641.9l5.2 -6.6 5.2 6.6 -5.2 6.6z"/><path d="M1601.1 648.4l5.2 -6.6 5.2 6.6 -5.2 6.6z"/><path d="M1595.9 645.7l5.2 -6.6 5.2 6.6 -5.2 6.6z"/><path d="M1602.2 611.9l5.2 -6.6 5.2 6.6 -5.2 6.6z"/><path d="M1596.6 605.4l5.2 -6.6 5.2 6.6 -5.2 6.6z"/><path d="M1602.8 624.0l5.2 -6.6 5.2 6.6 -5.2 6.6z"/><path d="M1606.9 647.6l5.2 -6.6 5.2 6.6 -5.2 6.6z"/><path d="M1609.8 646.4l5.2 -6.6 5.2 6.6 -5.2 6.6z"/><path d="M1607.2 644.9l5.2 -6.6 5.2 6.6 -5.2 6.6z"/><path d="M1606.3 645.6l5.2 -6.6 5.2 6.6 -5.2 6.6z"/><path d="M1608.2 643.6l5.2 -6.6 5.2 6.6 -5.2 6.6z"/><path d="M1611.5 647.6l5.2 -6.6 5.2 6.6 -5.2 6.6z"/><path d="M1607.3 642.5l5.2 -6.6 5.2 6.6 -5.2 6.6z"/><path d="M1608.5 643.9l5.2 -6.6 5.2 6.6 -5.2 6.6z"/><path d="M1606.1 646.2l5.2 -6.6 5.2 6.6 -5.2 6.6z"/><path d="M1611.3 648.7l5.2 -6.6 5.2 6.6 -5.2 6.6z"/><path d="M1609.4 647.3l5.2 -6.6 5.2 6.6 -5.2 6.6z"/><path d="M1613.6 634.6l5.2 -6.6 5.2 6.6 -5.2 6.6z"/><path d="M1612.4 613.3l5.2 -6.6 5.2 6.6 -5.2 6.6z"/><path d="M1608.9 587.0l5.2 -6.6 5.2 6.6 -5.2 6.6z"/><path d="M1619.5 651.9l5.2 -6.6 5.2 6.6 -5.2 6.6z"/><path d="M1623.8 646.8l5.2 -6.6 5.2 6.6 -5.2 6.6z"/><path d="M1619.2 643.8l5.2 -6.6 5.2 6.6 -5.2 6.6z"/><path d="M1621.3 651.3l5.2 -6.6 5.2 6.6 -5.2 6.6z"/><path d="M1619.6 647.2l5.2 -6.6 5.2 6.6 -5.2 6.6z"/><path d="M1617.6 645.6l5.2 -6.6 5.2 6.6 -5.2 6.6z"/><path d="M1617.2 646.7l5.2 -6.6 5.2 6.6 -5.2 6.6z"/><path d="M1617.9 649.2l5.2 -6.6 5.2 6.6 -5.2 6.6z"/><path d="M1617.3 642.7l5.2 -6.6 5.2 6.6 -5.2 6.6z"/><path d="M1621.5 652.5l5.2 -6.6 5.2 6.6 -5.2 6.6z"/><path d="M1618.7 646.4l5.2 -6.6 5.2 6.6 -5.2 6.6z"/><path d="M1619.2 631.2l5.2 -6.6 5.2 6.6 -5.2 6.6z"/><path d="M1619.1 624.3l5.2 -6.6 5.2 6.6 -5.2 6.6z"/><path d="M1624.6 577.9l5.2 -6.6 5.2 6.6 -5.2 6.6z"/><path d="M1631.3 643.6l5.2 -6.6 5.2 6.6 -5.2 6.6z"/><path d="M1629.1 643.6l5.2 -6.6 5.2 6.6 -5.2 6.6z"/><path d="M1630.0 647.2l5.2 -6.6 5.2 6.6 -5.2 6.6z"/><path d="M1627.4 649.5l5.2 -6.6 5.2 6.6 -5.2 6.6z"/><path d="M1631.0 643.8l5.2 -6.6 5.2 6.6 -5.2 6.6z"/><path d="M1628.8 646.9l5.2 -6.6 5.2 6.6 -5.2 6.6z"/><path d="M1629.3 646.6l5.2 -6.6 5.2 6.6 -5.2 6.6z"/><path d="M1628.0 647.4l5.2 -6.6 5.2 6.6 -5.2 6.6z"/><path d="M1627.5 645.9l5.2 -6.6 5.2 6.6 -5.2 6.6z"/><path d="M1629.6 646.0l5.2 -6.6 5.2 6.6 -5.2 6.6z"/><path d="M1631.2 641.9l5.2 -6.6 5.2 6.6 -5.2 6.6z"/><path d="M1633.0 598.5l5.2 -6.6 5.2 6.6 -5.2 6.6z"/><path d="M1632.7 584.1l5.2 -6.6 5.2 6.6 -5.2 6.6z"/><path d="M1629.2 620.2l5.2 -6.6 5.2 6.6 -5.2 6.6z"/><path d="M1645.2 643.2l5.2 -6.6 5.2 6.6 -5.2 6.6z"/><path d="M1642.7 642.0l5.2 -6.6 5.2 6.6 -5.2 6.6z"/><path d="M1638.4 642.8l5.2 -6.6 5.2 6.6 -5.2 6.6z"/><path d="M1642.6 652.9l5.2 -6.6 5.2 6.6 -5.2 6.6z"/><path d="M1643.4 645.8l5.2 -6.6 5.2 6.6 -5.2 6.6z"/><path d="M1641.9 648.3l5.2 -6.6 5.2 6.6 -5.2 6.6z"/><path d="M1641.7 643.3l5.2 -6.6 5.2 6.6 -5.2 6.6z"/><path d="M1644.1 652.0l5.2 -6.6 5.2 6.6 -5.2 6.6z"/><path d="M1642.3 642.4l5.2 -6.6 5.2 6.6 -5.2 6.6z"/><path d="M1643.1 649.9l5.2 -6.6 5.2 6.6 -5.2 6.6z"/><path d="M1639.7 644.7l5.2 -6.6 5.2 6.6 -5.2 6.6z"/><path d="M1639.6 634.7l5.2 -6.6 5.2 6.6 -5.2 6.6z"/><path d="M1644.6 605.0l5.2 -6.6 5.2 6.6 -5.2 6.6z"/><path d="M1642.4 600.6l5.2 -6.6 5.2 6.6 -5.2 6.6z"/><path d="M1653.7 646.2l5.2 -6.6 5.2 6.6 -5.2 6.6z"/><path d="M1652.3 640.3l5.2 -6.6 5.2 6.6 -5.2 6.6z"/><path d="M1654.2 646.4l5.2 -6.6 5.2 6.6 -5.2 6.6z"/><path d="M1652.4 651.6l5.2 -6.6 5.2 6.6 -5.2 6.6z"/><path d="M1649.2 647.7l5.2 -6.6 5.2 6.6 -5.2 6.6z"/><path d="M1654.1 646.6l5.2 -6.6 5.2 6.6 -5.2 6.6z"/><path d="M1650.7 645.2l5.2 -6.6 5.2 6.6 -5.2 6.6z"/><path d="M1654.0 644.9l5.2 -6.6 5.2 6.6 -5.2 6.6z"/><path d="M1655.8 641.0l5.2 -6.6 5.2 6.6 -5.2 6.6z"/><path d="M1652.3 649.5l5.2 -6.6 5.2 6.6 -5.2 6.6z"/><path d="M1653.7 643.8l5.2 -6.6 5.2 6.6 -5.2 6.6z"/><path d="M1654.6 601.2l5.2 -6.6 5.2 6.6 -5.2 6.6z"/><path d="M1653.3 636.5l5.2 -6.6 5.2 6.6 -5.2 6.6z"/><path d="M1648.0 624.9l5.2 -6.6 5.2 6.6 -5.2 6.6z"/><path d="M1664.8 648.1l5.2 -6.6 5.2 6.6 -5.2 6.6z"/><path d="M1659.5 642.3l5.2 -6.6 5.2 6.6 -5.2 6.6z"/><path d="M1659.9 647.2l5.2 -6.6 5.2 6.6 -5.2 6.6z"/><path d="M1664.5 641.3l5.2 -6.6 5.2 6.6 -5.2 6.6z"/><path d="M1664.3 647.6l5.2 -6.6 5.2 6.6 -5.2 6.6z"/><path d="M1662.8 642.4l5.2 -6.6 5.2 6.6 -5.2 6.6z"/><path d="M1662.8 641.1l5.2 -6.6 5.2 6.6 -5.2 6.6z"/><path d="M1660.9 641.5l5.2 -6.6 5.2 6.6 -5.2 6.6z"/><path d="M1666.5 645.9l5.2 -6.6 5.2 6.6 -5.2 6.6z"/><path d="M1662.8 646.8l5.2 -6.6 5.2 6.6 -5.2 6.6z"/><path d="M1665.4 642.8l5.2 -6.6 5.2 6.6 -5.2 6.6z"/><path d="M1660.0 627.8l5.2 -6.6 5.2 6.6 -5.2 6.6z"/><path d="M1667.2 627.7l5.2 -6.6 5.2 6.6 -5.2 6.6z"/><path d="M1663.3 632.3l5.2 -6.6 5.2 6.6 -5.2 6.6z"/><path d="M1673.9 647.3l5.2 -6.6 5.2 6.6 -5.2 6.6z"/><path d="M1677.0 642.2l5.2 -6.6 5.2 6.6 -5.2 6.6z"/><path d="M1673.8 641.7l5.2 -6.6 5.2 6.6 -5.2 6.6z"/><path d="M1676.6 647.3l5.2 -6.6 5.2 6.6 -5.2 6.6z"/><path d="M1676.6 649.0l5.2 -6.6 5.2 6.6 -5.2 6.6z"/><path d="M1673.7 646.3l5.2 -6.6 5.2 6.6 -5.2 6.6z"/><path d="M1673.7 646.5l5.2 -6.6 5.2 6.6 -5.2 6.6z"/><path d="M1673.4 647.2l5.2 -6.6 5.2 6.6 -5.2 6.6z"/><path d="M1672.6 644.7l5.2 -6.6 5.2 6.6 -5.2 6.6z"/><path d="M1672.4 646.4l5.2 -6.6 5.2 6.6 -5.2 6.6z"/><path d="M1675.6 646.7l5.2 -6.6 5.2 6.6 -5.2 6.6z"/><path d="M1676.7 633.7l5.2 -6.6 5.2 6.6 -5.2 6.6z"/><path d="M1677.7 594.9l5.2 -6.6 5.2 6.6 -5.2 6.6z"/><path d="M1677.4 622.6l5.2 -6.6 5.2 6.6 -5.2 6.6z"/><path d="M1683.5 656.6l5.2 -6.6 5.2 6.6 -5.2 6.6z"/><path d="M1685.1 638.5l5.2 -6.6 5.2 6.6 -5.2 6.6z"/><path d="M1683.4 649.1l5.2 -6.6 5.2 6.6 -5.2 6.6z"/><path d="M1681.2 645.3l5.2 -6.6 5.2 6.6 -5.2 6.6z"/><path d="M1681.6 645.1l5.2 -6.6 5.2 6.6 -5.2 6.6z"/><path d="M1687.6 649.0l5.2 -6.6 5.2 6.6 -5.2 6.6z"/><path d="M1682.6 647.0l5.2 -6.6 5.2 6.6 -5.2 6.6z"/><path d="M1682.2 642.4l5.2 -6.6 5.2 6.6 -5.2 6.6z"/><path d="M1683.5 639.5l5.2 -6.6 5.2 6.6 -5.2 6.6z"/><path d="M1686.7 648.5l5.2 -6.6 5.2 6.6 -5.2 6.6z"/><path d="M1685.4 639.4l5.2 -6.6 5.2 6.6 -5.2 6.6z"/><path d="M1684.3 594.5l5.2 -6.6 5.2 6.6 -5.2 6.6z"/><path d="M1679.0 593.7l5.2 -6.6 5.2 6.6 -5.2 6.6z"/><path d="M1683.3 592.3l5.2 -6.6 5.2 6.6 -5.2 6.6z"/><path d="M1696.2 650.9l5.2 -6.6 5.2 6.6 -5.2 6.6z"/><path d="M1693.6 638.9l5.2 -6.6 5.2 6.6 -5.2 6.6z"/><path d="M1692.4 644.1l5.2 -6.6 5.2 6.6 -5.2 6.6z"/><path d="M1694.9 648.2l5.2 -6.6 5.2 6.6 -5.2 6.6z"/><path d="M1696.9 644.1l5.2 -6.6 5.2 6.6 -5.2 6.6z"/><path d="M1698.6 646.9l5.2 -6.6 5.2 6.6 -5.2 6.6z"/><path d="M1693.7 641.4l5.2 -6.6 5.2 6.6 -5.2 6.6z"/><path d="M1695.6 648.2l5.2 -6.6 5.2 6.6 -5.2 6.6z"/><path d="M1692.7 645.2l5.2 -6.6 5.2 6.6 -5.2 6.6z"/><path d="M1693.0 643.1l5.2 -6.6 5.2 6.6 -5.2 6.6z"/><path d="M1693.1 648.8l5.2 -6.6 5.2 6.6 -5.2 6.6z"/><path d="M1698.8 576.4l5.2 -6.6 5.2 6.6 -5.2 6.6z"/><path d="M1694.0 632.4l5.2 -6.6 5.2 6.6 -5.2 6.6z"/><path d="M1691.2 635.6l5.2 -6.6 5.2 6.6 -5.2 6.6z"/><path d="M1704.7 644.4l5.2 -6.6 5.2 6.6 -5.2 6.6z"/><path d="M1704.1 645.1l5.2 -6.6 5.2 6.6 -5.2 6.6z"/><path d="M1706.3 642.1l5.2 -6.6 5.2 6.6 -5.2 6.6z"/><path d="M1705.2 650.4l5.2 -6.6 5.2 6.6 -5.2 6.6z"/><path d="M1705.2 649.9l5.2 -6.6 5.2 6.6 -5.2 6.6z"/><path d="M1704.7 647.1l5.2 -6.6 5.2 6.6 -5.2 6.6z"/><path d="M1702.6 648.1l5.2 -6.6 5.2 6.6 -5.2 6.6z"/><path d="M1703.1 637.5l5.2 -6.6 5.2 6.6 -5.2 6.6z"/><path d="M1705.9 651.4l5.2 -6.6 5.2 6.6 -5.2 6.6z"/><path d="M1703.8 651.6l5.2 -6.6 5.2 6.6 -5.2 6.6z"/><path d="M1704.2 646.5l5.2 -6.6 5.2 6.6 -5.2 6.6z"/><path d="M1704.6 579.2l5.2 -6.6 5.2 6.6 -5.2 6.6z"/><path d="M1708.9 584.5l5.2 -6.6 5.2 6.6 -5.2 6.6z"/><path d="M1700.1 639.4l5.2 -6.6 5.2 6.6 -5.2 6.6z"/><path d="M1718.0 643.0l5.2 -6.6 5.2 6.6 -5.2 6.6z"/><path d="M1719.4 651.2l5.2 -6.6 5.2 6.6 -5.2 6.6z"/><path d="M1712.9 645.8l5.2 -6.6 5.2 6.6 -5.2 6.6z"/><path d="M1715.7 640.7l5.2 -6.6 5.2 6.6 -5.2 6.6z"/><path d="M1719.1 649.5l5.2 -6.6 5.2 6.6 -5.2 6.6z"/><path d="M1719.9 646.5l5.2 -6.6 5.2 6.6 -5.2 6.6z"/><path d="M1714.0 644.9l5.2 -6.6 5.2 6.6 -5.2 6.6z"/><path d="M1716.7 650.0l5.2 -6.6 5.2 6.6 -5.2 6.6z"/><path d="M1718.1 654.2l5.2 -6.6 5.2 6.6 -5.2 6.6z"/><path d="M1717.6 646.2l5.2 -6.6 5.2 6.6 -5.2 6.6z"/><path d="M1716.9 650.4l5.2 -6.6 5.2 6.6 -5.2 6.6z"/><path d="M1711.0 590.4l5.2 -6.6 5.2 6.6 -5.2 6.6z"/><path d="M1713.0 581.4l5.2 -6.6 5.2 6.6 -5.2 6.6z"/><path d="M1717.4 621.7l5.2 -6.6 5.2 6.6 -5.2 6.6z"/><path d="M1724.5 646.6l5.2 -6.6 5.2 6.6 -5.2 6.6z"/><path d="M1728.6 641.5l5.2 -6.6 5.2 6.6 -5.2 6.6z"/><path d="M1724.4 642.7l5.2 -6.6 5.2 6.6 -5.2 6.6z"/><path d="M1727.8 644.7l5.2 -6.6 5.2 6.6 -5.2 6.6z"/><path d="M1726.4 645.8l5.2 -6.6 5.2 6.6 -5.2 6.6z"/><path d="M1723.6 641.8l5.2 -6.6 5.2 6.6 -5.2 6.6z"/><path d="M1725.8 655.2l5.2 -6.6 5.2 6.6 -5.2 6.6z"/><path d="M1728.3 644.4l5.2 -6.6 5.2 6.6 -5.2 6.6z"/><path d="M1730.0 649.1l5.2 -6.6 5.2 6.6 -5.2 6.6z"/><path d="M1725.4 646.1l5.2 -6.6 5.2 6.6 -5.2 6.6z"/><path d="M1730.6 647.4l5.2 -6.6 5.2 6.6 -5.2 6.6z"/><path d="M1721.5 608.9l5.2 -6.6 5.2 6.6 -5.2 6.6z"/><path d="M1728.4 614.1l5.2 -6.6 5.2 6.6 -5.2 6.6z"/><path d="M1724.0 597.9l5.2 -6.6 5.2 6.6 -5.2 6.6z"/><path d="M1741.0 649.4l5.2 -6.6 5.2 6.6 -5.2 6.6z"/><path d="M1735.9 643.4l5.2 -6.6 5.2 6.6 -5.2 6.6z"/><path d="M1737.3 645.9l5.2 -6.6 5.2 6.6 -5.2 6.6z"/><path d="M1739.2 644.5l5.2 -6.6 5.2 6.6 -5.2 6.6z"/><path d="M1739.6 640.6l5.2 -6.6 5.2 6.6 -5.2 6.6z"/><path d="M1737.9 644.0l5.2 -6.6 5.2 6.6 -5.2 6.6z"/><path d="M1736.5 637.6l5.2 -6.6 5.2 6.6 -5.2 6.6z"/><path d="M1740.2 646.2l5.2 -6.6 5.2 6.6 -5.2 6.6z"/><path d="M1739.8 644.1l5.2 -6.6 5.2 6.6 -5.2 6.6z"/><path d="M1736.4 642.6l5.2 -6.6 5.2 6.6 -5.2 6.6z"/><path d="M1735.6 647.8l5.2 -6.6 5.2 6.6 -5.2 6.6z"/><path d="M1734.3 614.3l5.2 -6.6 5.2 6.6 -5.2 6.6z"/><path d="M1739.0 579.5l5.2 -6.6 5.2 6.6 -5.2 6.6z"/><path d="M1733.5 615.8l5.2 -6.6 5.2 6.6 -5.2 6.6z"/><path d="M1746.5 644.6l5.2 -6.6 5.2 6.6 -5.2 6.6z"/><path d="M1745.3 646.9l5.2 -6.6 5.2 6.6 -5.2 6.6z"/><path d="M1745.4 652.4l5.2 -6.6 5.2 6.6 -5.2 6.6z"/><path d="M1751.4 641.9l5.2 -6.6 5.2 6.6 -5.2 6.6z"/><path d="M1750.3 638.4l5.2 -6.6 5.2 6.6 -5.2 6.6z"/><path d="M1747.3 646.7l5.2 -6.6 5.2 6.6 -5.2 6.6z"/><path d="M1746.3 641.2l5.2 -6.6 5.2 6.6 -5.2 6.6z"/><path d="M1745.2 648.8l5.2 -6.6 5.2 6.6 -5.2 6.6z"/><path d="M1749.8 649.0l5.2 -6.6 5.2 6.6 -5.2 6.6z"/><path d="M1747.4 644.2l5.2 -6.6 5.2 6.6 -5.2 6.6z"/><path d="M1746.2 643.7l5.2 -6.6 5.2 6.6 -5.2 6.6z"/><path d="M1746.4 579.1l5.2 -6.6 5.2 6.6 -5.2 6.6z"/><path d="M1743.9 578.5l5.2 -6.6 5.2 6.6 -5.2 6.6z"/><path d="M1744.8 618.2l5.2 -6.6 5.2 6.6 -5.2 6.6z"/><path d="M1761.6 646.5l5.2 -6.6 5.2 6.6 -5.2 6.6z"/><path d="M1761.6 647.6l5.2 -6.6 5.2 6.6 -5.2 6.6z"/><path d="M1759.1 646.1l5.2 -6.6 5.2 6.6 -5.2 6.6z"/><path d="M1758.4 644.5l5.2 -6.6 5.2 6.6 -5.2 6.6z"/><path d="M1758.3 647.7l5.2 -6.6 5.2 6.6 -5.2 6.6z"/><path d="M1762.2 643.0l5.2 -6.6 5.2 6.6 -5.2 6.6z"/><path d="M1761.5 645.9l5.2 -6.6 5.2 6.6 -5.2 6.6z"/><path d="M1761.2 645.6l5.2 -6.6 5.2 6.6 -5.2 6.6z"/><path d="M1756.1 646.3l5.2 -6.6 5.2 6.6 -5.2 6.6z"/><path d="M1762.3 646.8l5.2 -6.6 5.2 6.6 -5.2 6.6z"/><path d="M1762.2 640.7l5.2 -6.6 5.2 6.6 -5.2 6.6z"/><path d="M1756.9 623.7l5.2 -6.6 5.2 6.6 -5.2 6.6z"/><path d="M1763.5 601.2l5.2 -6.6 5.2 6.6 -5.2 6.6z"/><path d="M1756.1 594.7l5.2 -6.6 5.2 6.6 -5.2 6.6z"/><path d="M1768.6 646.6l5.2 -6.6 5.2 6.6 -5.2 6.6z"/><path d="M1771.8 646.2l5.2 -6.6 5.2 6.6 -5.2 6.6z"/><path d="M1773.0 652.2l5.2 -6.6 5.2 6.6 -5.2 6.6z"/><path d="M1766.5 652.8l5.2 -6.6 5.2 6.6 -5.2 6.6z"/><path d="M1768.0 655.3l5.2 -6.6 5.2 6.6 -5.2 6.6z"/><path d="M1773.3 645.2l5.2 -6.6 5.2 6.6 -5.2 6.6z"/><path d="M1769.1 646.6l5.2 -6.6 5.2 6.6 -5.2 6.6z"/><path d="M1769.9 642.8l5.2 -6.6 5.2 6.6 -5.2 6.6z"/><path d="M1773.1 644.0l5.2 -6.6 5.2 6.6 -5.2 6.6z"/><path d="M1771.7 640.8l5.2 -6.6 5.2 6.6 -5.2 6.6z"/><path d="M1772.3 645.9l5.2 -6.6 5.2 6.6 -5.2 6.6z"/><path d="M1767.5 620.6l5.2 -6.6 5.2 6.6 -5.2 6.6z"/><path d="M1767.8 590.4l5.2 -6.6 5.2 6.6 -5.2 6.6z"/><path d="M1764.8 628.6l5.2 -6.6 5.2 6.6 -5.2 6.6z"/><path d="M1782.5 651.3l5.2 -6.6 5.2 6.6 -5.2 6.6z"/><path d="M1778.8 645.7l5.2 -6.6 5.2 6.6 -5.2 6.6z"/><path d="M1781.0 646.2l5.2 -6.6 5.2 6.6 -5.2 6.6z"/><path d="M1779.4 639.3l5.2 -6.6 5.2 6.6 -5.2 6.6z"/><path d="M1784.2 647.4l5.2 -6.6 5.2 6.6 -5.2 6.6z"/><path d="M1778.9 645.2l5.2 -6.6 5.2 6.6 -5.2 6.6z"/><path d="M1780.6 645.7l5.2 -6.6 5.2 6.6 -5.2 6.6z"/><path d="M1782.2 649.0l5.2 -6.6 5.2 6.6 -5.2 6.6z"/><path d="M1780.1 645.7l5.2 -6.6 5.2 6.6 -5.2 6.6z"/><path d="M1781.5 649.2l5.2 -6.6 5.2 6.6 -5.2 6.6z"/><path d="M1783.2 651.7l5.2 -6.6 5.2 6.6 -5.2 6.6z"/><path d="M1781.8 633.6l5.2 -6.6 5.2 6.6 -5.2 6.6z"/><path d="M1783.7 622.3l5.2 -6.6 5.2 6.6 -5.2 6.6z"/><path d="M1780.7 617.1l5.2 -6.6 5.2 6.6 -5.2 6.6z"/><path d="M1793.1 645.7l5.2 -6.6 5.2 6.6 -5.2 6.6z"/><path d="M1789.5 644.0l5.2 -6.6 5.2 6.6 -5.2 6.6z"/><path d="M1788.8 643.1l5.2 -6.6 5.2 6.6 -5.2 6.6z"/><path d="M1790.1 649.6l5.2 -6.6 5.2 6.6 -5.2 6.6z"/><path d="M1790.6 642.4l5.2 -6.6 5.2 6.6 -5.2 6.6z"/><path d="M1789.4 646.7l5.2 -6.6 5.2 6.6 -5.2 6.6z"/><path d="M1793.6 652.7l5.2 -6.6 5.2 6.6 -5.2 6.6z"/><path d="M1788.5 655.4l5.2 -6.6 5.2 6.6 -5.2 6.6z"/><path d="M1791.2 643.7l5.2 -6.6 5.2 6.6 -5.2 6.6z"/><path d="M1794.4 652.7l5.2 -6.6 5.2 6.6 -5.2 6.6z"/><path d="M1788.0 647.0l5.2 -6.6 5.2 6.6 -5.2 6.6z"/><path d="M1787.4 577.9l5.2 -6.6 5.2 6.6 -5.2 6.6z"/><path d="M1791.6 580.7l5.2 -6.6 5.2 6.6 -5.2 6.6z"/><path d="M1789.3 584.9l5.2 -6.6 5.2 6.6 -5.2 6.6z"/><path d="M1801.7 644.8l5.2 -6.6 5.2 6.6 -5.2 6.6z"/><path d="M1800.3 645.1l5.2 -6.6 5.2 6.6 -5.2 6.6z"/><path d="M1799.2 654.9l5.2 -6.6 5.2 6.6 -5.2 6.6z"/><path d="M1802.7 648.3l5.2 -6.6 5.2 6.6 -5.2 6.6z"/><path d="M1801.1 648.2l5.2 -6.6 5.2 6.6 -5.2 6.6z"/><path d="M1799.4 645.8l5.2 -6.6 5.2 6.6 -5.2 6.6z"/><path d="M1802.8 644.0l5.2 -6.6 5.2 6.6 -5.2 6.6z"/><path d="M1803.1 646.4l5.2 -6.6 5.2 6.6 -5.2 6.6z"/><path d="M1800.8 646.0l5.2 -6.6 5.2 6.6 -5.2 6.6z"/><path d="M1803.3 645.3l5.2 -6.6 5.2 6.6 -5.2 6.6z"/><path d="M1799.9 643.7l5.2 -6.6 5.2 6.6 -5.2 6.6z"/><path d="M1804.6 605.7l5.2 -6.6 5.2 6.6 -5.2 6.6z"/><path d="M1796.7 634.9l5.2 -6.6 5.2 6.6 -5.2 6.6z"/><path d="M1800.3 605.6l5.2 -6.6 5.2 6.6 -5.2 6.6z"/><path d="M1813.7 652.6l5.2 -6.6 5.2 6.6 -5.2 6.6z"/><path d="M1814.1 653.3l5.2 -6.6 5.2 6.6 -5.2 6.6z"/><path d="M1812.1 655.3l5.2 -6.6 5.2 6.6 -5.2 6.6z"/><path d="M1816.9 621.1l5.2 -6.6 5.2 6.6 -5.2 6.6z"/><path d="M1823.9 651.2l5.2 -6.6 5.2 6.6 -5.2 6.6z"/><path d="M1822.4 661.5l5.2 -6.6 5.2 6.6 -5.2 6.6z"/><path d="M1827.0 650.6l5.2 -6.6 5.2 6.6 -5.2 6.6z"/><path d="M1821.3 628.6l5.2 -6.6 5.2 6.6 -5.2 6.6z"/><path d="M1835.8 654.5l5.2 -6.6 5.2 6.6 -5.2 6.6z"/><path d="M1837.0 654.2l5.2 -6.6 5.2 6.6 -5.2 6.6z"/><path d="M1833.6 652.8l5.2 -6.6 5.2 6.6 -5.2 6.6z"/><path d="M1837.6 611.4l5.2 -6.6 5.2 6.6 -5.2 6.6z"/><path d="M1842.3 658.3l5.2 -6.6 5.2 6.6 -5.2 6.6z"/><path d="M1841.3 660.0l5.2 -6.6 5.2 6.6 -5.2 6.6z"/><path d="M1847.8 656.4l5.2 -6.6 5.2 6.6 -5.2 6.6z"/><path d="M1839.8 600.9l5.2 -6.6 5.2 6.6 -5.2 6.6z"/><path d="M1854.5 656.8l5.2 -6.6 5.2 6.6 -5.2 6.6z"/><path d="M1853.9 654.7l5.2 -6.6 5.2 6.6 -5.2 6.6z"/><path d="M1855.6 652.9l5.2 -6.6 5.2 6.6 -5.2 6.6z"/><path d="M1854.7 588.9l5.2 -6.6 5.2 6.6 -5.2 6.6z"/><path d="M1869.6 655.5l5.2 -6.6 5.2 6.6 -5.2 6.6z"/><path d="M1864.0 647.9l5.2 -6.6 5.2 6.6 -5.2 6.6z"/><path d="M1869.6 647.7l5.2 -6.6 5.2 6.6 -5.2 6.6z"/><path d="M1865.4 638.0l5.2 -6.6 5.2 6.6 -5.2 6.6z"/><path d="M1880.0 661.2l5.2 -6.6 5.2 6.6 -5.2 6.6z"/><path d="M1877.7 648.9l5.2 -6.6 5.2 6.6 -5.2 6.6z"/><path d="M1879.2 650.8l5.2 -6.6 5.2 6.6 -5.2 6.6z"/><path d="M1873.3 615.1l5.2 -6.6 5.2 6.6 -5.2 6.6z"/><path d="M1890.1 648.6l5.2 -6.6 5.2 6.6 -5.2 6.6z"/><path d="M1889.9 653.4l5.2 -6.6 5.2 6.6 -5.2 6.6z"/><path d="M1886.8 652.0l5.2 -6.6 5.2 6.6 -5.2 6.6z"/><path d="M1887.1 616.4l5.2 -6.6 5.2 6.6 -5.2 6.6z"/><path d="M1895.5 654.5l5.2 -6.6 5.2 6.6 -5.2 6.6z"/><path d="M1901.1 648.1l5.2 -6.6 5.2 6.6 -5.2 6.6z"/><path d="M1894.9 660.8l5.2 -6.6 5.2 6.6 -5.2 6.6z"/><path d="M1892.7 586.7l5.2 -6.6 5.2 6.6 -5.2 6.6z"/><path d="M1906.2 657.2l5.2 -6.6 5.2 6.6 -5.2 6.6z"/><path d="M1909.7 660.0l5.2 -6.6 5.2 6.6 -5.2 6.6z"/><path d="M1907.5 656.3l5.2 -6.6 5.2 6.6 -5.2 6.6z"/><path d="M1907.4 603.4l5.2 -6.6 5.2 6.6 -5.2 6.6z"/><path d="M1919.1 657.0l5.2 -6.6 5.2 6.6 -5.2 6.6z"/><path d="M1919.2 658.3l5.2 -6.6 5.2 6.6 -5.2 6.6z"/><path d="M1916.2 658.0l5.2 -6.6 5.2 6.6 -5.2 6.6z"/><path d="M1916.2 591.6l5.2 -6.6 5.2 6.6 -5.2 6.6z"/><path d="M1932.4 657.8l5.2 -6.6 5.2 6.6 -5.2 6.6z"/><path d="M1930.0 652.6l5.2 -6.6 5.2 6.6 -5.2 6.6z"/><path d="M1927.5 650.5l5.2 -6.6 5.2 6.6 -5.2 6.6z"/><path d="M1925.7 613.4l5.2 -6.6 5.2 6.6 -5.2 6.6z"/><path d="M1938.0 659.1l5.2 -6.6 5.2 6.6 -5.2 6.6z"/><path d="M1937.7 652.9l5.2 -6.6 5.2 6.6 -5.2 6.6z"/><path d="M1942.0 648.9l5.2 -6.6 5.2 6.6 -5.2 6.6z"/><path d="M1943.3 608.1l5.2 -6.6 5.2 6.6 -5.2 6.6z"/></g>
<defs><polyline id="sB" points="1202.5,505.8 1206.7,655.3 1207.1,654.9 1207.4,654.0 1207.7,652.7 1208.0,650.8 1208.3,647.9 1208.6,644.5 1208.9,641.8 1209.2,638.4 1209.4,632.6 1209.5,624.5 1209.7,610.7 1209.8,596.6 1209.9,582.4 1210.1,567.8 1210.2,550.6 1210.3,533.1 1210.4,512.5 1210.5,493.5 1210.6,474.1 1210.8,456.2 1210.9,441.3 1211.1,423.2 1211.3,408.2 1211.5,395.7 1211.7,383.1 1211.9,372.4 1212.2,363.0 1212.4,354.5 1212.6,346.9 1212.9,340.2 1213.0,336.0 1213.2,332.1 1213.3,330.4 1213.4,332.1 1213.4,336.0 1213.5,340.2 1213.5,346.7 1213.6,354.1 1213.7,363.0 1213.8,372.2 1213.9,383.3 1213.9,395.7 1214.0,408.6 1214.1,423.2 1214.2,441.3 1214.2,456.3 1214.2,474.6 1214.3,493.5 1214.3,514.2 1214.4,535.6 1214.4,550.6 1214.5,571.0 1214.6,584.6 1214.8,596.6 1214.9,611.3 1215.0,624.7 1215.1,632.6 1215.4,638.3 1215.6,641.7 1215.9,644.5 1216.1,647.8 1216.4,650.7 1216.6,652.7 1216.9,654.0 1217.1,654.9 1217.4,655.3 1217.4,655.5 1217.8,655.2 1218.1,654.4 1218.4,653.3 1218.7,651.7 1219.0,649.3 1219.3,646.4 1219.6,644.1 1219.8,641.2 1220.1,636.4 1220.2,629.5 1220.3,617.9 1220.5,606.0 1220.6,594.0 1220.7,581.7 1220.9,567.2 1221.0,552.4 1221.1,535.1 1221.2,519.0 1221.3,502.6 1221.5,487.5 1221.6,475.0 1221.8,459.6 1222.0,447.0 1222.2,436.4 1222.4,425.9 1222.6,416.8 1222.9,408.9 1223.1,401.7 1223.3,395.3 1223.6,389.7 1223.7,386.1 1223.8,382.8 1224.0,381.4 1224.0,382.8 1224.1,386.1 1224.2,389.7 1224.2,395.1 1224.3,401.4 1224.4,408.9 1224.5,416.6 1224.6,426.0 1224.6,436.4 1224.7,447.3 1224.8,459.7 1224.8,475.0 1224.9,487.6 1224.9,503.1 1225.0,519.0 1225.0,536.5 1225.1,554.5 1225.1,567.2 1225.2,584.4 1225.3,595.8 1225.4,606.0 1225.6,618.4 1225.7,629.7 1225.8,636.4 1226.1,641.2 1226.3,644.0 1226.6,646.4 1226.8,649.2 1227.1,651.6 1227.3,653.3 1227.6,654.4 1227.8,655.2 1228.1,655.5 1228.1,655.5 1228.4,655.2 1228.8,654.4 1229.1,653.3 1229.4,651.8 1229.7,649.3 1230.0,646.5 1230.3,644.3 1230.5,641.4 1230.8,636.6 1230.9,629.8 1231.0,618.3 1231.2,606.5 1231.3,594.7 1231.4,582.5 1231.6,568.1 1231.7,553.5 1231.8,536.4 1231.9,520.5 1232.0,504.3 1232.2,489.3 1232.3,477.0 1232.5,461.8 1232.7,449.3 1232.9,438.8 1233.1,428.4 1233.3,419.5 1233.6,411.6 1233.8,404.5 1234.0,398.1 1234.3,392.6 1234.4,389.1 1234.5,385.8 1234.7,384.4 1234.7,385.8 1234.8,389.1 1234.8,392.6 1234.9,398.0 1235.0,404.2 1235.1,411.6 1235.2,419.3 1235.3,428.6 1235.3,438.8 1235.4,449.6 1235.5,461.8 1235.5,477.0 1235.6,489.4 1235.6,504.8 1235.7,520.5 1235.7,537.8 1235.7,555.6 1235.8,568.1 1235.9,585.2 1236.0,596.5 1236.1,606.5 1236.3,618.8 1236.4,630.0 1236.5,636.6 1236.7,641.3 1237.0,644.1 1237.2,646.5 1237.5,649.3 1237.7,651.7 1238.0,653.3 1238.3,654.4 1238.5,655.2 1238.8,655.5 1238.8,655.6 1239.1,655.3 1239.5,654.6 1239.8,653.7 1240.1,652.2 1240.4,650.1 1240.7,647.5 1241.0,645.5 1241.2,642.9 1241.5,638.6 1241.6,632.4 1241.7,622.0 1241.8,611.4 1242.0,600.8 1242.1,589.8 1242.3,576.8 1242.4,563.6 1242.5,548.2 1242.6,533.8 1242.7,519.2 1242.8,505.7 1243.0,494.5 1243.2,480.9 1243.4,469.6 1243.6,460.2 1243.8,450.7 1244.0,442.7 1244.2,435.6 1244.5,429.2 1244.7,423.4 1244.9,418.4 1245.1,415.2 1245.2,412.3 1245.4,411.1 1245.4,412.3 1245.5,415.3 1245.5,418.4 1245.6,423.3 1245.7,428.9 1245.8,435.6 1245.9,442.5 1245.9,450.9 1246.0,460.2 1246.1,469.9 1246.2,480.9 1246.2,494.5 1246.3,505.8 1246.3,519.6 1246.4,533.8 1246.4,549.4 1246.4,565.5 1246.5,576.8 1246.6,592.2 1246.7,602.4 1246.8,611.4 1246.9,622.5 1247.1,632.6 1247.2,638.6 1247.4,642.8 1247.7,645.4 1247.9,647.5 1248.2,650.0 1248.4,652.2 1248.7,653.7 1249.0,654.6 1249.2,655.3 1249.5,655.6 1249.5,655.5 1249.8,655.2 1250.2,654.4 1250.5,653.3 1250.8,651.7 1251.1,649.3 1251.4,646.4 1251.7,644.1 1251.9,641.3 1252.2,636.4 1252.3,629.6 1252.4,618.0 1252.5,606.1 1252.7,594.2 1252.8,581.9 1253.0,567.4 1253.1,552.6 1253.2,535.4 1253.3,519.3 1253.4,503.0 1253.5,487.9 1253.7,475.4 1253.9,460.2 1254.0,447.5 1254.2,437.0 1254.5,426.5 1254.7,417.5 1254.9,409.5 1255.2,402.4 1255.4,395.9 1255.6,390.3 1255.8,386.8 1255.9,383.5 1256.1,382.1 1256.1,383.5 1256.2,386.8 1256.2,390.3 1256.3,395.8 1256.4,402.0 1256.5,409.5 1256.6,417.2 1256.6,426.6 1256.7,437.0 1256.8,447.9 1256.8,460.2 1256.9,475.4 1257.0,488.0 1257.0,503.5 1257.0,519.3 1257.1,536.8 1257.1,554.7 1257.2,567.4 1257.3,584.6 1257.4,596.0 1257.5,606.1 1257.6,618.5 1257.8,629.8 1257.9,636.4 1258.1,641.2 1258.4,644.0 1258.6,646.4 1258.9,649.2 1259.1,651.7 1259.4,653.3 1259.6,654.4 1259.9,655.2 1260.2,655.5 1260.2,655.6 1260.5,655.3 1260.9,654.6 1261.2,653.6 1261.5,652.1 1261.8,649.9 1262.1,647.3 1262.3,645.2 1262.6,642.6 1262.9,638.2 1263.0,631.9 1263.1,621.3 1263.2,610.4 1263.4,599.6 1263.5,588.3 1263.6,575.1 1263.8,561.6 1263.9,545.8 1264.0,531.2 1264.1,516.2 1264.2,502.4 1264.3,491.0 1264.5,477.1 1264.7,465.5 1264.9,455.9 1265.2,446.3 1265.4,438.0 1265.6,430.8 1265.9,424.3 1266.1,418.4 1266.3,413.3 1266.5,410.0 1266.6,407.0 1266.8,405.7 1266.8,407.0 1266.9,410.0 1266.9,413.3 1267.0,418.3 1267.1,424.0 1267.2,430.8 1267.2,437.8 1267.3,446.4 1267.4,455.9 1267.5,465.8 1267.5,477.1 1267.6,491.0 1267.6,502.5 1267.7,516.6 1267.7,531.2 1267.8,547.1 1267.8,563.5 1267.9,575.1 1268.0,590.8 1268.1,601.2 1268.2,610.4 1268.3,621.7 1268.4,632.1 1268.6,638.2 1268.8,642.5 1269.1,645.1 1269.3,647.3 1269.6,649.8 1269.8,652.1 1270.1,653.6 1270.3,654.6 1270.6,655.3 1270.9,655.6 1270.9,655.5 1271.2,655.1 1271.5,654.3 1271.9,653.2 1272.2,651.5 1272.5,649.0 1272.8,646.1 1273.0,643.7 1273.3,640.7 1273.5,635.7 1273.7,628.6 1273.8,616.6 1273.9,604.3 1274.1,591.9 1274.2,579.2 1274.3,564.2 1274.4,548.9 1274.6,531.0 1274.7,514.4 1274.8,497.5 1274.9,481.9 1275.0,468.9 1275.2,453.1 1275.4,440.0 1275.6,429.1 1275.9,418.2 1276.1,408.9 1276.3,400.7 1276.5,393.2 1276.8,386.6 1277.0,380.8 1277.2,377.1 1277.3,373.7 1277.4,372.2 1277.5,373.7 1277.5,377.1 1277.6,380.8 1277.7,386.4 1277.8,392.9 1277.9,400.7 1277.9,408.7 1278.0,418.4 1278.1,429.1 1278.2,440.4 1278.2,453.1 1278.3,468.9 1278.3,482.0 1278.4,498.0 1278.4,514.4 1278.5,532.5 1278.5,551.1 1278.6,564.2 1278.7,582.0 1278.8,593.8 1278.9,604.3 1279.0,617.1 1279.1,628.8 1279.3,635.7 1279.5,640.7 1279.8,643.6 1280.0,646.1 1280.3,648.9 1280.5,651.5 1280.8,653.2 1281.0,654.3 1281.3,655.1 1281.6,655.5 1281.6,655.8 1281.9,655.6 1282.2,655.0 1282.6,654.2 1282.9,653.0 1283.2,651.2 1283.5,649.1 1283.7,647.4 1284.0,645.2 1284.2,641.6 1284.4,636.5 1284.5,627.9 1284.6,619.1 1284.7,610.3 1284.9,601.2 1285.0,590.4 1285.1,579.5 1285.2,566.6 1285.4,554.7 1285.5,542.6 1285.6,531.4 1285.7,522.1 1285.9,510.8 1286.1,501.5 1286.3,493.6 1286.5,485.8 1286.8,479.1 1287.0,473.3 1287.2,467.9 1287.5,463.2 1287.7,459.0 1287.8,456.4 1288.0,453.9 1288.1,452.9 1288.2,453.9 1288.2,456.4 1288.3,459.0 1288.4,463.1 1288.5,467.7 1288.6,473.3 1288.6,479.0 1288.7,485.9 1288.8,493.6 1288.8,501.7 1288.9,510.8 1289.0,522.1 1289.0,531.5 1289.1,543.0 1289.1,554.7 1289.2,567.7 1289.2,581.0 1289.2,590.4 1289.4,603.1 1289.5,611.6 1289.6,619.1 1289.7,628.3 1289.8,636.7 1289.9,641.6 1290.2,645.2 1290.4,647.3 1290.7,649.1 1290.9,651.1 1291.2,652.9 1291.4,654.2 1291.7,655.0 1292.0,655.5 1292.2,655.8 1292.2,655.5 1292.6,655.2 1292.9,654.4 1293.3,653.3 1293.6,651.7 1293.9,649.3 1294.2,646.4 1294.4,644.1 1294.7,641.3 1294.9,636.4 1295.0,629.6 1295.2,618.0 1295.3,606.1 1295.4,594.2 1295.6,581.9 1295.7,567.4 1295.8,552.6 1295.9,535.4 1296.0,519.3 1296.2,503.0 1296.3,487.9 1296.4,475.4 1296.6,460.2 1296.8,447.5 1297.0,437.0 1297.2,426.5 1297.5,417.5 1297.7,409.5 1297.9,402.4 1298.2,395.9 1298.4,390.3 1298.5,386.8 1298.7,383.5 1298.8,382.1 1298.9,383.5 1298.9,386.8 1299.0,390.3 1299.1,395.8 1299.2,402.0 1299.2,409.5 1299.3,417.2 1299.4,426.6 1299.5,437.0 1299.5,447.9 1299.6,460.2 1299.7,475.4 1299.7,488.0 1299.8,503.5 1299.8,519.3 1299.8,536.8 1299.9,554.7 1299.9,567.4 1300.0,584.6 1300.2,596.0 1300.3,606.1 1300.4,618.5 1300.5,629.8 1300.6,636.4 1300.9,641.2 1301.1,644.0 1301.4,646.4 1301.6,649.2 1301.9,651.7 1302.1,653.3 1302.4,654.4 1302.7,655.2 1302.9,655.5 1302.9,655.5 1303.3,655.2 1303.6,654.4 1304.0,653.3 1304.3,651.8 1304.5,649.3 1304.8,646.5 1305.1,644.3 1305.4,641.4 1305.6,636.6 1305.7,629.8 1305.9,618.3 1306.0,606.5 1306.1,594.7 1306.3,582.5 1306.4,568.1 1306.5,553.5 1306.6,536.4 1306.7,520.5 1306.9,504.3 1307.0,489.3 1307.1,477.0 1307.3,461.8 1307.5,449.3 1307.7,438.8 1307.9,428.4 1308.2,419.5 1308.4,411.6 1308.6,404.5 1308.9,398.1 1309.1,392.6 1309.2,389.1 1309.4,385.8 1309.5,384.4 1309.6,385.8 1309.6,389.1 1309.7,392.6 1309.8,398.0 1309.8,404.2 1309.9,411.6 1310.0,419.3 1310.1,428.6 1310.2,438.8 1310.2,449.6 1310.3,461.8 1310.4,477.0 1310.4,489.4 1310.5,504.8 1310.5,520.5 1310.5,537.8 1310.6,555.6 1310.6,568.1 1310.7,585.2 1310.8,596.5 1311.0,606.5 1311.1,618.8 1311.2,630.0 1311.3,636.6 1311.6,641.3 1311.8,644.1 1312.1,646.5 1312.3,649.3 1312.6,651.7 1312.8,653.3 1313.1,654.4 1313.4,655.2 1313.6,655.5 1313.6,655.6 1314.0,655.3 1314.3,654.5 1314.6,653.5 1314.9,652.1 1315.2,649.8 1315.5,647.2 1315.8,645.0 1316.1,642.4 1316.3,637.9 1316.4,631.5 1316.6,620.8 1316.7,609.7 1316.8,598.7 1317.0,587.3 1317.1,573.8 1317.2,560.1 1317.3,544.1 1317.4,529.3 1317.5,514.1 1317.7,500.1 1317.8,488.5 1318.0,474.3 1318.2,462.6 1318.4,452.8 1318.6,443.1 1318.8,434.7 1319.1,427.4 1319.3,420.7 1319.5,414.8 1319.8,409.5 1319.9,406.3 1320.1,403.2 1320.2,401.9 1320.3,403.2 1320.3,406.3 1320.4,409.5 1320.4,414.6 1320.5,420.4 1320.6,427.4 1320.7,434.5 1320.8,443.2 1320.8,452.8 1320.9,462.9 1321.0,474.3 1321.1,488.5 1321.1,500.2 1321.1,514.5 1321.2,529.3 1321.2,545.4 1321.3,562.1 1321.3,573.8 1321.4,589.8 1321.5,600.3 1321.7,609.7 1321.8,621.2 1321.9,631.7 1322.0,637.9 1322.3,642.3 1322.5,644.9 1322.8,647.2 1323.0,649.7 1323.3,652.0 1323.5,653.5 1323.8,654.5 1324.0,655.3 1324.3,655.6 1324.3,655.6 1324.7,655.3 1325.0,654.5 1325.3,653.5 1325.6,652.0 1325.9,649.8 1326.2,647.1 1326.5,645.0 1326.7,642.3 1327.0,637.8 1327.1,631.4 1327.2,620.5 1327.4,609.5 1327.5,598.3 1327.6,586.9 1327.8,573.3 1327.9,559.6 1328.0,543.4 1328.1,528.5 1328.2,513.3 1328.4,499.2 1328.5,487.5 1328.7,473.2 1328.9,461.5 1329.1,451.6 1329.3,441.8 1329.5,433.4 1329.8,426.0 1330.0,419.3 1330.2,413.3 1330.5,408.1 1330.6,404.8 1330.7,401.7 1330.9,400.4 1330.9,401.7 1331.0,404.8 1331.1,408.1 1331.1,413.2 1331.2,419.0 1331.3,426.0 1331.4,433.2 1331.5,441.9 1331.5,451.6 1331.6,461.8 1331.7,473.3 1331.7,487.5 1331.8,499.3 1331.8,513.7 1331.9,528.5 1331.9,544.8 1332.0,561.5 1332.0,573.3 1332.1,589.4 1332.2,600.0 1332.3,609.5 1332.5,621.0 1332.6,631.6 1332.7,637.8 1333.0,642.2 1333.2,644.9 1333.5,647.1 1333.7,649.7 1334.0,652.0 1334.2,653.5 1334.5,654.5 1334.7,655.3 1335.0,655.6 1335.0,655.2 1335.3,654.8 1335.7,653.9 1336.0,652.5 1336.3,650.5 1336.6,647.5 1336.9,644.0 1337.2,641.1 1337.4,637.6 1337.7,631.6 1337.8,623.0 1337.9,608.6 1338.1,593.9 1338.2,579.1 1338.3,563.9 1338.5,545.9 1338.6,527.6 1338.7,506.1 1338.8,486.2 1338.9,465.9 1339.1,447.2 1339.2,431.7 1339.4,412.7 1339.6,397.1 1339.8,384.0 1340.0,370.9 1340.2,359.7 1340.5,349.9 1340.7,341.0 1340.9,333.0 1341.2,326.1 1341.3,321.6 1341.4,317.6 1341.6,315.8 1341.6,317.6 1341.7,321.7 1341.7,326.1 1341.8,332.9 1341.9,340.6 1342.0,349.9 1342.1,359.5 1342.2,371.1 1342.2,384.0 1342.3,397.5 1342.4,412.8 1342.4,431.7 1342.5,447.3 1342.5,466.5 1342.6,486.2 1342.6,507.9 1342.6,530.1 1342.7,545.9 1342.8,567.2 1342.9,581.3 1343.0,593.9 1343.2,609.3 1343.3,623.3 1343.4,631.6 1343.6,637.5 1343.9,641.0 1344.1,644.0 1344.4,647.4 1344.6,650.5 1344.9,652.5 1345.2,653.8 1345.4,654.8 1345.7,655.2 1345.7,655.6 1346.0,655.4 1346.4,654.6 1346.7,653.7 1347.0,652.3 1347.3,650.1 1347.6,647.6 1347.9,645.6 1348.1,643.1 1348.4,638.8 1348.5,632.7 1348.6,622.5 1348.7,612.0 1348.9,601.4 1349.0,590.6 1349.2,577.8 1349.3,564.8 1349.4,549.5 1349.5,535.3 1349.6,520.9 1349.7,507.6 1349.9,496.5 1350.1,483.0 1350.3,471.9 1350.5,462.6 1350.7,453.3 1350.9,445.3 1351.1,438.3 1351.4,432.0 1351.6,426.3 1351.8,421.3 1352.0,418.2 1352.1,415.3 1352.3,414.1 1352.3,415.3 1352.4,418.2 1352.4,421.3 1352.5,426.2 1352.6,431.7 1352.7,438.3 1352.8,445.1 1352.8,453.4 1352.9,462.6 1353.0,472.2 1353.1,483.1 1353.1,496.5 1353.2,507.7 1353.2,521.3 1353.3,535.3 1353.3,550.8 1353.3,566.6 1353.4,577.8 1353.5,593.0 1353.6,603.0 1353.7,612.0 1353.8,622.9 1354.0,632.9 1354.1,638.8 1354.3,643.0 1354.6,645.5 1354.8,647.6 1355.1,650.1 1355.3,652.2 1355.6,653.7 1355.9,654.6 1356.1,655.3 1356.4,655.6 1356.4,655.6 1356.7,655.3 1357.1,654.5 1357.4,653.5 1357.7,652.0 1358.0,649.6 1358.3,646.9 1358.6,644.8 1358.8,642.0 1359.1,637.4 1359.2,630.9 1359.3,619.9 1359.4,608.6 1359.6,597.3 1359.7,585.6 1359.9,571.8 1360.0,557.8 1360.1,541.4 1360.2,526.2 1360.3,510.7 1360.4,496.3 1360.6,484.5 1360.8,469.9 1360.9,458.0 1361.1,447.9 1361.4,437.9 1361.6,429.4 1361.8,421.9 1362.1,415.0 1362.3,408.9 1362.5,403.6 1362.7,400.2 1362.8,397.1 1363.0,395.8 1363.0,397.1 1363.1,400.2 1363.1,403.6 1363.2,408.8 1363.3,414.7 1363.4,421.9 1363.5,429.2 1363.5,438.1 1363.6,447.9 1363.7,458.3 1363.7,470.0 1363.8,484.5 1363.9,496.4 1363.9,511.1 1363.9,526.2 1364.0,542.8 1364.0,559.8 1364.1,571.8 1364.2,588.2 1364.3,599.0 1364.4,608.6 1364.5,620.4 1364.7,631.1 1364.8,637.4 1365.0,642.0 1365.3,644.7 1365.5,646.9 1365.8,649.6 1366.0,651.9 1366.3,653.5 1366.5,654.5 1366.8,655.3 1367.1,655.6 1367.1,655.5 1367.4,655.2 1367.8,654.4 1368.1,653.4 1368.4,651.8 1368.7,649.4 1369.0,646.7 1369.2,644.4 1369.5,641.6 1369.8,636.9 1369.9,630.2 1370.0,618.8 1370.1,607.2 1370.3,595.6 1370.4,583.6 1370.5,569.4 1370.7,555.0 1370.8,538.1 1370.9,522.4 1371.0,506.5 1371.1,491.7 1371.2,479.5 1371.4,464.5 1371.6,452.2 1371.8,441.9 1372.1,431.6 1372.3,422.8 1372.5,415.1 1372.8,408.1 1373.0,401.8 1373.2,396.3 1373.4,392.8 1373.5,389.6 1373.6,388.2 1373.7,389.6 1373.8,392.8 1373.8,396.3 1373.9,401.6 1374.0,407.7 1374.1,415.1 1374.1,422.6 1374.2,431.8 1374.3,441.9 1374.4,452.5 1374.4,464.6 1374.5,479.5 1374.5,491.8 1374.6,506.9 1374.6,522.4 1374.7,539.5 1374.7,557.0 1374.8,569.4 1374.9,586.2 1375.0,597.3 1375.1,607.2 1375.2,619.3 1375.3,630.4 1375.5,636.9 1375.7,641.6 1376.0,644.3 1376.2,646.7 1376.5,649.4 1376.7,651.8 1377.0,653.4 1377.2,654.4 1377.5,655.2 1377.8,655.5 1377.8,655.5 1378.1,655.1 1378.4,654.3 1378.8,653.2 1379.1,651.6 1379.4,649.0 1379.7,646.1 1379.9,643.7 1380.2,640.8 1380.4,635.8 1380.6,628.7 1380.7,616.7 1380.8,604.4 1381.0,592.1 1381.1,579.4 1381.2,564.4 1381.3,549.2 1381.5,531.4 1381.6,514.8 1381.7,498.0 1381.8,482.3 1381.9,469.5 1382.1,453.7 1382.3,440.7 1382.5,429.8 1382.8,418.9 1383.0,409.6 1383.2,401.4 1383.4,394.0 1383.7,387.4 1383.9,381.6 1384.1,377.9 1384.2,374.5 1384.3,373.0 1384.4,374.5 1384.4,377.9 1384.5,381.6 1384.6,387.2 1384.7,393.7 1384.8,401.4 1384.8,409.4 1384.9,419.0 1385.0,429.8 1385.1,441.0 1385.1,453.7 1385.2,469.5 1385.2,482.5 1385.3,498.4 1385.3,514.8 1385.4,532.9 1385.4,551.4 1385.5,564.4 1385.6,582.2 1385.7,594.0 1385.8,604.4 1385.9,617.2 1386.0,628.9 1386.2,635.8 1386.4,640.7 1386.7,643.6 1386.9,646.1 1387.2,648.9 1387.4,651.5 1387.7,653.2 1387.9,654.3 1388.2,655.1 1388.5,655.5 1388.5,655.1 1388.8,654.6 1389.1,653.5 1389.5,652.0 1389.8,649.8 1390.1,646.3 1390.4,642.4 1390.6,639.1 1390.9,635.1 1391.1,628.3 1391.3,618.7 1391.4,602.4 1391.5,585.8 1391.6,569.0 1391.8,551.8 1391.9,531.5 1392.0,510.8 1392.1,486.6 1392.3,464.1 1392.4,441.2 1392.5,420.0 1392.6,402.5 1392.8,381.1 1393.0,363.4 1393.2,348.6 1393.4,333.8 1393.7,321.2 1393.9,310.1 1394.1,300.0 1394.4,291.0 1394.6,283.1 1394.7,278.2 1394.9,273.6 1395.0,271.6 1395.1,273.6 1395.1,278.2 1395.2,283.1 1395.3,290.8 1395.4,299.6 1395.5,310.1 1395.5,320.9 1395.6,334.0 1395.7,348.6 1395.7,363.8 1395.8,381.1 1395.9,402.5 1395.9,420.2 1396.0,441.8 1396.0,464.1 1396.1,488.6 1396.1,513.7 1396.1,531.5 1396.3,555.6 1396.4,571.6 1396.5,585.8 1396.6,603.1 1396.7,619.0 1396.8,628.3 1397.1,635.0 1397.3,639.0 1397.6,642.4 1397.8,646.2 1398.1,649.7 1398.3,652.0 1398.6,653.5 1398.9,654.6 1399.1,655.1 1399.1,654.9 1399.5,654.4 1399.8,653.2 1400.2,651.5 1400.5,649.1 1400.8,645.3 1401.1,640.9 1401.3,637.4 1401.6,633.0 1401.8,625.5 1401.9,614.9 1402.1,597.0 1402.2,578.7 1402.3,560.4 1402.5,541.5 1402.6,519.1 1402.7,496.4 1402.8,469.7 1402.9,445.0 1403.1,419.9 1403.2,396.6 1403.3,377.3 1403.5,353.8 1403.7,334.4 1403.9,318.1 1404.1,301.9 1404.4,288.0 1404.6,275.8 1404.8,264.7 1405.1,254.8 1405.3,246.2 1405.4,240.7 1405.6,235.7 1405.7,233.5 1405.8,235.7 1405.8,240.7 1405.9,246.2 1406.0,254.6 1406.1,264.2 1406.1,275.8 1406.2,287.7 1406.3,302.1 1406.4,318.1 1406.4,334.9 1406.5,353.8 1406.6,377.3 1406.6,396.7 1406.7,420.6 1406.7,445.0 1406.7,471.9 1406.8,499.6 1406.8,519.1 1406.9,545.6 1407.1,563.2 1407.2,578.7 1407.3,597.8 1407.4,615.3 1407.5,625.5 1407.8,632.9 1408.0,637.2 1408.3,640.9 1408.5,645.2 1408.8,649.0 1409.0,651.5 1409.3,653.2 1409.6,654.4 1409.8,654.9 1409.8,655.0 1410.2,654.6 1410.5,653.4 1410.9,651.9 1411.2,649.6 1411.4,646.2 1411.7,642.1 1412.0,638.9 1412.3,634.8 1412.5,627.9 1412.6,618.1 1412.8,601.5 1412.9,584.6 1413.0,567.7 1413.2,550.2 1413.3,529.5 1413.4,508.5 1413.5,483.8 1413.6,461.0 1413.8,437.8 1413.9,416.2 1414.0,398.4 1414.2,376.7 1414.4,358.7 1414.6,343.7 1414.8,328.7 1415.1,315.9 1415.3,304.6 1415.5,294.3 1415.8,285.2 1416.0,277.2 1416.1,272.1 1416.3,267.5 1416.4,265.5 1416.5,267.5 1416.5,272.2 1416.6,277.2 1416.7,285.0 1416.7,293.9 1416.8,304.6 1416.9,315.5 1417.0,328.9 1417.1,343.7 1417.1,359.2 1417.2,376.7 1417.3,398.4 1417.3,416.4 1417.4,438.4 1417.4,461.0 1417.4,485.9 1417.5,511.5 1417.5,529.5 1417.6,554.0 1417.7,570.2 1417.9,584.6 1418.0,602.3 1418.1,618.4 1418.2,627.9 1418.5,634.7 1418.7,638.7 1419.0,642.1 1419.2,646.0 1419.5,649.6 1419.7,651.9 1420.0,653.4 1420.3,654.6 1420.5,655.0 1420.5,655.3 1420.9,654.9 1421.2,654.0 1421.5,652.7 1421.8,650.8 1422.1,647.9 1422.4,644.5 1422.7,641.7 1423.0,638.3 1423.2,632.5 1423.3,624.3 1423.5,610.5 1423.6,596.3 1423.7,582.1 1423.9,567.4 1424.0,550.1 1424.1,532.5 1424.2,511.8 1424.3,492.7 1424.4,473.2 1424.6,455.2 1424.7,440.3 1424.9,422.0 1425.1,407.0 1425.3,394.4 1425.5,381.8 1425.7,371.0 1426.0,361.6 1426.2,353.0 1426.4,345.3 1426.7,338.6 1426.8,334.4 1427.0,330.5 1427.1,328.8 1427.2,330.5 1427.2,334.4 1427.3,338.6 1427.3,345.2 1427.4,352.6 1427.5,361.6 1427.6,370.8 1427.7,382.0 1427.7,394.4 1427.8,407.4 1427.9,422.0 1428.0,440.3 1428.0,455.3 1428.0,473.7 1428.1,492.7 1428.1,513.5 1428.2,535.0 1428.2,550.1 1428.3,570.6 1428.4,584.2 1428.6,596.3 1428.7,611.1 1428.8,624.6 1428.9,632.5 1429.2,638.2 1429.4,641.6 1429.7,644.5 1429.9,647.8 1430.2,650.7 1430.4,652.7 1430.7,653.9 1430.9,654.9 1431.2,655.3 1431.2,655.3 1431.6,655.0 1431.9,654.0 1432.2,652.8 1432.5,650.9 1432.8,648.1 1433.1,644.7 1433.4,642.0 1433.6,638.7 1433.9,633.0 1434.0,625.0 1434.1,611.5 1434.3,597.6 1434.4,583.7 1434.5,569.3 1434.7,552.4 1434.8,535.1 1434.9,514.9 1435.0,496.2 1435.1,477.1 1435.3,459.5 1435.4,444.9 1435.6,427.1 1435.8,412.3 1436.0,400.0 1436.2,387.7 1436.4,377.2 1436.7,367.9 1436.9,359.5 1437.1,352.0 1437.4,345.5 1437.5,341.3 1437.6,337.5 1437.8,335.8 1437.8,337.5 1437.9,341.3 1438.0,345.5 1438.0,351.9 1438.1,359.2 1438.2,367.9 1438.3,376.9 1438.4,387.9 1438.4,400.0 1438.5,412.7 1438.6,427.1 1438.6,444.9 1438.7,459.6 1438.7,477.7 1438.8,496.2 1438.8,516.6 1438.9,537.6 1438.9,552.4 1439.0,572.4 1439.1,585.8 1439.2,597.6 1439.4,612.0 1439.5,625.3 1439.6,633.0 1439.9,638.6 1440.1,641.9 1440.4,644.7 1440.6,647.9 1440.9,650.8 1441.1,652.8 1441.4,654.0 1441.6,654.9 1441.9,655.3 1441.9,655.1 1442.2,654.7 1442.6,653.6 1442.9,652.2 1443.2,650.1 1443.5,646.8 1443.8,643.0 1444.1,639.9 1444.3,636.1 1444.6,629.5 1444.7,620.3 1444.8,604.8 1445.0,588.8 1445.1,572.9 1445.2,556.4 1445.4,536.9 1445.5,517.2 1445.6,494.0 1445.7,472.5 1445.8,450.6 1446.0,430.3 1446.1,413.6 1446.3,393.1 1446.5,376.2 1446.7,362.0 1446.9,347.9 1447.1,335.8 1447.4,325.2 1447.6,315.6 1447.8,307.0 1448.1,299.4 1448.2,294.7 1448.3,290.3 1448.5,288.4 1448.5,290.3 1448.6,294.7 1448.6,299.4 1448.7,306.8 1448.8,315.1 1448.9,325.2 1449.0,335.5 1449.1,348.1 1449.1,362.0 1449.2,376.6 1449.3,393.1 1449.3,413.6 1449.4,430.5 1449.4,451.2 1449.5,472.5 1449.5,495.9 1449.5,520.0 1449.6,536.9 1449.7,560.0 1449.8,575.3 1449.9,588.8 1450.1,605.4 1450.2,620.6 1450.3,629.5 1450.5,636.0 1450.8,639.7 1451.0,643.0 1451.3,646.7 1451.5,650.0 1451.8,652.2 1452.1,653.6 1452.3,654.7 1452.6,655.1 1452.6,655.1 1452.9,654.7 1453.3,653.6 1453.6,652.1 1453.9,649.9 1454.2,646.5 1454.5,642.6 1454.8,639.5 1455.0,635.5 1455.3,628.9 1455.4,619.4 1455.5,603.5 1455.6,587.2 1455.8,570.8 1455.9,553.9 1456.1,534.0 1456.2,513.7 1456.3,489.9 1456.4,467.9 1456.5,445.5 1456.6,424.7 1456.8,407.5 1457.0,386.5 1457.2,369.2 1457.4,354.7 1457.6,340.2 1457.8,327.9 1458.0,317.0 1458.3,307.1 1458.5,298.3 1458.7,290.6 1458.9,285.7 1459.0,281.2 1459.2,279.2 1459.2,281.2 1459.3,285.7 1459.3,290.6 1459.4,298.1 1459.5,306.7 1459.6,317.0 1459.7,327.6 1459.7,340.4 1459.8,354.7 1459.9,369.7 1460.0,386.6 1460.0,407.5 1460.1,424.8 1460.1,446.1 1460.2,467.9 1460.2,491.9 1460.2,516.6 1460.3,534.0 1460.4,557.6 1460.5,573.3 1460.6,587.2 1460.7,604.2 1460.9,619.7 1461.0,628.9 1461.2,635.4 1461.5,639.3 1461.7,642.6 1462.0,646.4 1462.2,649.8 1462.5,652.1 1462.8,653.5 1463.0,654.7 1463.3,655.1 1463.3,655.2 1463.6,654.8 1464.0,653.7 1464.3,652.4 1464.6,650.3 1464.9,647.2 1465.2,643.5 1465.5,640.6 1465.7,636.9 1466.0,630.6 1466.1,621.8 1466.2,606.8 1466.3,591.5 1466.5,576.2 1466.6,560.3 1466.8,541.6 1466.9,522.6 1467.0,500.4 1467.1,479.7 1467.2,458.7 1467.3,439.2 1467.5,423.1 1467.7,403.5 1467.8,387.2 1468.0,373.6 1468.3,360.0 1468.5,348.4 1468.7,338.2 1469.0,329.0 1469.2,320.7 1469.4,313.5 1469.6,308.9 1469.7,304.7 1469.9,302.9 1469.9,304.7 1470.0,308.9 1470.0,313.5 1470.1,320.5 1470.2,328.6 1470.3,338.2 1470.4,348.2 1470.4,360.2 1470.5,373.6 1470.6,387.6 1470.6,403.5 1470.7,423.1 1470.8,439.4 1470.8,459.3 1470.8,479.7 1470.9,502.2 1470.9,525.3 1471.0,541.6 1471.1,563.8 1471.2,578.5 1471.3,591.5 1471.4,607.4 1471.6,622.1 1471.7,630.6 1471.9,636.8 1472.2,640.4 1472.4,643.5 1472.7,647.1 1472.9,650.2 1473.2,652.4 1473.4,653.7 1473.7,654.8 1474.0,655.2 1474.0,654.9 1474.3,654.4 1474.7,653.1 1475.0,651.4 1475.3,648.9 1475.6,645.0 1475.9,640.5 1476.1,636.9 1476.4,632.3 1476.7,624.6 1476.8,613.7 1476.9,595.3 1477.0,576.5 1477.2,557.6 1477.3,538.2 1477.4,515.1 1477.6,491.8 1477.7,464.4 1477.8,439.0 1477.9,413.1 1478.0,389.1 1478.1,369.3 1478.3,345.1 1478.5,325.1 1478.7,308.4 1479.0,291.7 1479.2,277.4 1479.4,264.8 1479.7,253.5 1479.9,243.3 1480.1,234.4 1480.3,228.7 1480.4,223.6 1480.5,221.3 1480.6,223.6 1480.7,228.8 1480.7,234.4 1480.8,243.1 1480.9,253.0 1481.0,264.8 1481.0,277.0 1481.1,291.9 1481.2,308.4 1481.3,325.6 1481.3,345.1 1481.4,369.3 1481.4,389.3 1481.5,413.8 1481.5,439.0 1481.6,466.6 1481.6,495.1 1481.7,515.1 1481.8,542.4 1481.9,560.5 1482.0,576.5 1482.1,596.1 1482.2,614.1 1482.4,624.6 1482.6,632.2 1482.9,636.7 1483.1,640.5 1483.4,644.9 1483.6,648.8 1483.9,651.4 1484.1,653.1 1484.4,654.4 1484.7,654.9 1484.7,655.1 1485.0,654.6 1485.3,653.5 1485.7,652.0 1486.0,649.8 1486.3,646.4 1486.6,642.4 1486.8,639.2 1487.1,635.2 1487.3,628.4 1487.5,618.8 1487.6,602.6 1487.7,586.0 1487.9,569.4 1488.0,552.2 1488.1,532.0 1488.2,511.4 1488.4,487.2 1488.5,464.9 1488.6,442.0 1488.7,420.9 1488.8,403.5 1489.0,382.2 1489.2,364.5 1489.4,349.8 1489.7,335.1 1489.9,322.5 1490.1,311.5 1490.3,301.4 1490.6,292.4 1490.8,284.6 1491.0,279.6 1491.1,275.1 1491.2,273.1 1491.3,275.1 1491.3,279.7 1491.4,284.6 1491.5,292.3 1491.6,301.0 1491.7,311.5 1491.7,322.2 1491.8,335.3 1491.9,349.8 1492.0,365.0 1492.0,382.2 1492.1,403.5 1492.1,421.1 1492.2,442.7 1492.2,464.9 1492.3,489.2 1492.3,514.3 1492.4,532.0 1492.5,556.0 1492.6,571.9 1492.7,586.0 1492.8,603.3 1492.9,619.2 1493.1,628.4 1493.3,635.1 1493.6,639.0 1493.8,642.4 1494.1,646.3 1494.3,649.7 1494.6,652.0 1494.8,653.5 1495.1,654.6 1495.4,655.1 1495.4,655.2 1495.7,654.8 1496.0,653.8 1496.4,652.5 1496.7,650.5 1497.0,647.4 1497.3,643.9 1497.5,641.0 1497.8,637.4 1498.0,631.3 1498.2,622.7 1498.3,608.2 1498.4,593.3 1498.5,578.4 1498.7,563.0 1498.8,544.8 1498.9,526.4 1499.0,504.7 1499.2,484.7 1499.3,464.2 1499.4,445.3 1499.5,429.6 1499.7,410.5 1499.9,394.7 1500.1,381.5 1500.3,368.3 1500.6,357.0 1500.8,347.1 1501.0,338.1 1501.3,330.1 1501.5,323.0 1501.6,318.6 1501.8,314.5 1501.9,312.7 1502.0,314.5 1502.0,318.6 1502.1,323.0 1502.2,329.9 1502.3,337.7 1502.4,347.1 1502.4,356.7 1502.5,368.5 1502.6,381.5 1502.6,395.1 1502.7,410.5 1502.8,429.6 1502.8,445.4 1502.9,464.8 1502.9,484.7 1503.0,506.5 1503.0,529.0 1503.0,544.8 1503.2,566.4 1503.3,580.7 1503.4,593.3 1503.5,608.8 1503.6,623.0 1503.7,631.3 1504.0,637.3 1504.2,640.9 1504.5,643.9 1504.7,647.3 1505.0,650.4 1505.2,652.5 1505.5,653.8 1505.8,654.8 1506.0,655.2 1506.0,655.3 1506.4,654.9 1506.7,653.9 1507.1,652.6 1507.4,650.7 1507.7,647.8 1508.0,644.4 1508.2,641.6 1508.5,638.1 1508.7,632.3 1508.8,624.0 1509.0,610.0 1509.1,595.7 1509.2,581.4 1509.4,566.6 1509.5,549.1 1509.6,531.3 1509.7,510.5 1509.8,491.1 1510.0,471.5 1510.1,453.2 1510.2,438.2 1510.4,419.8 1510.6,404.6 1510.8,391.9 1511.0,379.2 1511.3,368.3 1511.5,358.8 1511.7,350.1 1512.0,342.4 1512.2,335.6 1512.3,331.3 1512.5,327.4 1512.6,325.7 1512.7,327.4 1512.7,331.4 1512.8,335.6 1512.9,342.2 1513.0,349.7 1513.0,358.8 1513.1,368.1 1513.2,379.4 1513.3,391.9 1513.3,405.0 1513.4,419.8 1513.5,438.2 1513.5,453.4 1513.6,472.0 1513.6,491.1 1513.6,512.2 1513.7,533.8 1513.7,549.1 1513.8,569.8 1514.0,583.5 1514.1,595.7 1514.2,610.6 1514.3,624.3 1514.4,632.3 1514.7,638.0 1514.9,641.5 1515.2,644.4 1515.4,647.7 1515.7,650.6 1515.9,652.6 1516.2,653.9 1516.5,654.9 1516.7,655.3 1516.7,655.0 1517.1,654.5 1517.4,653.4 1517.8,651.8 1518.1,649.5 1518.3,645.9 1518.6,641.7 1518.9,638.4 1519.2,634.2 1519.4,627.1 1519.5,617.0 1519.7,600.1 1519.8,582.7 1519.9,565.3 1520.1,547.3 1520.2,526.0 1520.3,504.5 1520.4,479.2 1520.5,455.8 1520.7,431.9 1520.8,409.7 1520.9,391.5 1521.1,369.1 1521.3,350.7 1521.5,335.2 1521.7,319.8 1522.0,306.7 1522.2,295.1 1522.4,284.6 1522.7,275.2 1522.9,267.0 1523.0,261.8 1523.2,257.0 1523.3,254.9 1523.4,257.0 1523.4,261.8 1523.5,267.0 1523.6,275.0 1523.6,284.1 1523.7,295.1 1523.8,306.3 1523.9,320.0 1524.0,335.2 1524.0,351.2 1524.1,369.2 1524.2,391.5 1524.2,409.9 1524.3,432.5 1524.3,455.8 1524.3,481.3 1524.4,507.5 1524.4,526.0 1524.5,551.2 1524.6,567.9 1524.8,582.7 1524.9,600.8 1525.0,617.4 1525.1,627.1 1525.4,634.1 1525.6,638.2 1525.9,641.7 1526.1,645.8 1526.4,649.4 1526.6,651.8 1526.9,653.4 1527.2,654.5 1527.4,655.0 1527.4,655.1 1527.8,654.6 1528.1,653.5 1528.4,652.0 1528.7,649.8 1529.0,646.5 1529.3,642.5 1529.6,639.3 1529.9,635.4 1530.1,628.6 1530.2,619.1 1530.4,603.1 1530.5,586.6 1530.6,570.1 1530.8,553.1 1530.9,533.0 1531.0,512.5 1531.1,488.6 1531.2,466.4 1531.3,443.8 1531.5,422.8 1531.6,405.5 1531.8,384.4 1532.0,366.9 1532.2,352.3 1532.4,337.7 1532.6,325.2 1532.9,314.3 1533.1,304.3 1533.3,295.4 1533.6,287.6 1533.7,282.7 1533.9,278.2 1534.0,276.2 1534.1,278.2 1534.1,282.7 1534.2,287.6 1534.2,295.2 1534.3,303.9 1534.4,314.3 1534.5,324.9 1534.6,337.9 1534.6,352.3 1534.7,367.4 1534.8,384.4 1534.9,405.5 1534.9,423.0 1534.9,444.4 1535.0,466.4 1535.0,490.6 1535.1,515.4 1535.1,533.0 1535.2,556.8 1535.3,572.6 1535.5,586.6 1535.6,603.7 1535.7,619.5 1535.8,628.6 1536.1,635.3 1536.3,639.2 1536.6,642.5 1536.8,646.3 1537.1,649.8 1537.3,652.0 1537.6,653.5 1537.8,654.6 1538.1,655.1 1538.1,654.8 1538.5,654.2 1538.8,652.9 1539.1,651.1 1539.4,648.4 1539.7,644.3 1540.0,639.5 1540.3,635.7 1540.5,630.9 1540.8,622.7 1540.9,611.2 1541.0,591.7 1541.2,571.8 1541.3,551.7 1541.4,531.1 1541.6,506.7 1541.7,482.0 1541.8,452.9 1541.9,426.0 1542.0,398.6 1542.2,373.2 1542.3,352.3 1542.5,326.6 1542.7,305.4 1542.9,287.7 1543.1,270.0 1543.3,254.9 1543.6,241.6 1543.8,229.5 1544.0,218.7 1544.3,209.3 1544.4,203.3 1544.5,197.9 1544.7,195.5 1544.7,197.9 1544.8,203.4 1544.9,209.3 1544.9,218.5 1545.0,229.0 1545.1,241.6 1545.2,254.5 1545.3,270.3 1545.3,287.7 1545.4,306.0 1545.5,326.6 1545.5,352.3 1545.6,373.4 1545.6,399.4 1545.7,426.0 1545.7,455.4 1545.8,485.5 1545.8,506.7 1545.9,535.6 1546.0,554.8 1546.1,571.8 1546.3,592.5 1546.4,611.6 1546.5,622.7 1546.8,630.7 1547.0,635.5 1547.3,639.5 1547.5,644.2 1547.8,648.3 1548.0,651.1 1548.3,652.9 1548.5,654.2 1548.8,654.8 1548.8,654.9 1549.1,654.4 1549.5,653.1 1549.8,651.4 1550.1,648.9 1550.4,645.1 1550.7,640.6 1551.0,637.0 1551.2,632.5 1551.5,624.8 1551.6,614.0 1551.7,595.7 1551.9,577.0 1552.0,558.3 1552.1,539.0 1552.3,516.1 1552.4,492.9 1552.5,465.6 1552.6,440.4 1552.7,414.7 1552.9,390.9 1553.0,371.2 1553.2,347.2 1553.4,327.3 1553.6,310.7 1553.8,294.1 1554.0,279.9 1554.3,267.5 1554.5,256.2 1554.7,246.0 1555.0,237.2 1555.1,231.6 1555.2,226.5 1555.4,224.2 1555.4,226.5 1555.5,231.6 1555.5,237.2 1555.6,245.8 1555.7,255.7 1555.8,267.5 1555.9,279.6 1556.0,294.3 1556.0,310.7 1556.1,327.8 1556.2,347.2 1556.2,371.2 1556.3,391.1 1556.3,415.4 1556.4,440.4 1556.4,467.9 1556.4,496.2 1556.5,516.1 1556.6,543.1 1556.7,561.1 1556.8,577.0 1557.0,596.5 1557.1,614.4 1557.2,624.8 1557.4,632.4 1557.7,636.8 1557.9,640.6 1558.2,644.9 1558.4,648.8 1558.7,651.4 1559.0,653.1 1559.2,654.4 1559.5,654.9 1559.5,654.7 1559.8,654.2 1560.2,652.9 1560.5,651.0 1560.8,648.4 1561.1,644.3 1561.4,639.5 1561.7,635.6 1561.9,630.8 1562.2,622.6 1562.3,611.0 1562.4,591.5 1562.5,571.5 1562.7,551.4 1562.8,530.7 1563.0,506.3 1563.1,481.4 1563.2,452.3 1563.3,425.3 1563.4,397.8 1563.5,372.4 1563.7,351.3 1563.9,325.6 1564.1,304.3 1564.3,286.6 1564.5,268.8 1564.7,253.7 1564.9,240.3 1565.2,228.2 1565.4,217.4 1565.6,207.9 1565.8,202.0 1565.9,196.5 1566.1,194.1 1566.1,196.5 1566.2,202.0 1566.2,207.9 1566.3,217.2 1566.4,227.7 1566.5,240.3 1566.6,253.3 1566.6,269.1 1566.7,286.6 1566.8,304.9 1566.9,325.6 1566.9,351.3 1567.0,372.5 1567.0,398.6 1567.1,425.3 1567.1,454.7 1567.1,485.0 1567.2,506.3 1567.3,535.2 1567.4,554.4 1567.5,571.5 1567.6,592.3 1567.8,611.4 1567.9,622.6 1568.1,630.7 1568.4,635.4 1568.6,639.5 1568.9,644.1 1569.1,648.3 1569.4,651.0 1569.7,652.9 1569.9,654.2 1570.2,654.7 1570.2,654.9 1570.5,654.5 1570.9,653.3 1571.2,651.6 1571.5,649.3 1571.8,645.6 1572.1,641.3 1572.4,637.9 1572.6,633.5 1572.9,626.2 1573.0,615.9 1573.1,598.4 1573.2,580.6 1573.4,562.6 1573.5,544.2 1573.7,522.3 1573.8,500.1 1573.9,474.1 1574.0,450.0 1574.1,425.4 1574.2,402.7 1574.4,383.9 1574.6,360.9 1574.7,341.9 1574.9,326.1 1575.2,310.2 1575.4,296.7 1575.6,284.8 1575.9,274.0 1576.1,264.3 1576.3,255.8 1576.5,250.5 1576.6,245.6 1576.8,243.4 1576.8,245.6 1576.9,250.5 1576.9,255.8 1577.0,264.1 1577.1,273.5 1577.2,284.8 1577.3,296.3 1577.3,310.4 1577.4,326.1 1577.5,342.4 1577.5,361.0 1577.6,383.9 1577.7,402.9 1577.7,426.1 1577.7,450.0 1577.8,476.3 1577.8,503.3 1577.9,522.3 1578.0,548.2 1578.1,565.4 1578.2,580.6 1578.3,599.2 1578.5,616.3 1578.6,626.2 1578.8,633.4 1579.1,637.7 1579.3,641.3 1579.6,645.5 1579.8,649.2 1580.1,651.6 1580.3,653.3 1580.6,654.5 1580.9,654.9 1580.9,655.1 1581.2,654.6 1581.6,653.5 1581.9,652.0 1582.2,649.8 1582.5,646.4 1582.8,642.5 1583.0,639.3 1583.3,635.3 1583.6,628.6 1583.7,619.1 1583.8,603.0 1583.9,586.5 1584.1,569.9 1584.2,552.9 1584.3,532.7 1584.5,512.3 1584.6,488.3 1584.7,466.1 1584.8,443.4 1584.9,422.4 1585.0,405.1 1585.2,383.9 1585.4,366.4 1585.6,351.7 1585.9,337.1 1586.1,324.6 1586.3,313.6 1586.6,303.7 1586.8,294.7 1587.0,286.9 1587.2,282.0 1587.3,277.5 1587.4,275.5 1587.5,277.5 1587.6,282.0 1587.6,286.9 1587.7,294.6 1587.8,303.2 1587.9,313.6 1587.9,324.3 1588.0,337.3 1588.1,351.7 1588.2,366.8 1588.2,383.9 1588.3,405.1 1588.3,422.6 1588.4,444.0 1588.4,466.1 1588.5,490.3 1588.5,515.2 1588.6,532.7 1588.7,556.6 1588.8,572.4 1588.9,586.5 1589.0,603.6 1589.1,619.4 1589.3,628.6 1589.5,635.2 1589.8,639.2 1590.0,642.5 1590.3,646.3 1590.5,649.7 1590.8,652.0 1591.0,653.5 1591.3,654.6 1591.6,655.1 1591.6,655.2 1591.9,654.8 1592.2,653.8 1592.6,652.4 1592.9,650.4 1593.2,647.3 1593.5,643.7 1593.7,640.8 1594.0,637.2 1594.2,631.0 1594.4,622.3 1594.5,607.6 1594.6,592.5 1594.8,577.4 1594.9,561.8 1595.0,543.4 1595.1,524.7 1595.3,502.7 1595.4,482.4 1595.5,461.7 1595.6,442.5 1595.7,426.7 1595.9,407.3 1596.1,391.3 1596.3,377.9 1596.6,364.5 1596.8,353.1 1597.0,343.0 1597.2,333.9 1597.5,325.8 1597.7,318.6 1597.9,314.1 1598.0,310.0 1598.1,308.2 1598.2,310.0 1598.2,314.2 1598.3,318.6 1598.4,325.6 1598.5,333.5 1598.6,343.0 1598.6,352.8 1598.7,364.7 1598.8,377.9 1598.9,391.7 1598.9,407.3 1599.0,426.7 1599.0,442.6 1599.1,462.2 1599.1,482.4 1599.2,504.6 1599.2,527.3 1599.3,543.4 1599.4,565.2 1599.5,579.7 1599.6,592.5 1599.7,608.2 1599.8,622.6 1600.0,631.0 1600.2,637.1 1600.5,640.7 1600.7,643.7 1601.0,647.2 1601.2,650.3 1601.5,652.4 1601.7,653.8 1602.0,654.8 1602.3,655.2 1602.3,655.0 1602.6,654.5 1602.9,653.3 1603.3,651.7 1603.6,649.4 1603.9,645.8 1604.2,641.6 1604.4,638.2 1604.7,634.0 1604.9,626.8 1605.1,616.7 1605.2,599.6 1605.3,582.1 1605.4,564.5 1605.6,546.4 1605.7,525.0 1605.8,503.3 1605.9,477.8 1606.1,454.2 1606.2,430.1 1606.3,407.8 1606.4,389.4 1606.6,366.9 1606.8,348.3 1607.0,332.7 1607.2,317.2 1607.5,303.9 1607.7,292.3 1607.9,281.7 1608.2,272.2 1608.4,263.9 1608.5,258.7 1608.7,253.9 1608.8,251.8 1608.9,253.9 1608.9,258.7 1609.0,263.9 1609.1,272.0 1609.2,281.2 1609.3,292.3 1609.3,303.6 1609.4,317.4 1609.5,332.7 1609.5,348.8 1609.6,366.9 1609.7,389.4 1609.7,408.0 1609.8,430.8 1609.8,454.2 1609.9,479.9 1609.9,506.4 1609.9,525.0 1610.1,550.4 1610.2,567.2 1610.3,582.1 1610.4,600.4 1610.5,617.1 1610.6,626.8 1610.9,633.9 1611.1,638.1 1611.4,641.6 1611.6,645.7 1611.9,649.3 1612.1,651.7 1612.4,653.3 1612.7,654.5 1612.9,655.0 1612.9,654.8 1613.3,654.3 1613.6,653.0 1614.0,651.2 1614.3,648.6 1614.6,644.7 1614.9,640.0 1615.1,636.3 1615.4,631.6 1615.6,623.7 1615.7,612.5 1615.9,593.6 1616.0,574.3 1616.1,554.9 1616.3,534.8 1616.4,511.2 1616.5,487.1 1616.6,459.0 1616.7,432.9 1616.9,406.3 1617.0,381.6 1617.1,361.3 1617.3,336.4 1617.5,315.8 1617.7,298.6 1617.9,281.5 1618.2,266.8 1618.4,253.9 1618.6,242.2 1618.9,231.7 1619.1,222.6 1619.2,216.8 1619.4,211.5 1619.5,209.2 1619.6,211.5 1619.6,216.8 1619.7,222.6 1619.8,231.5 1619.9,241.7 1619.9,253.9 1620.0,266.4 1620.1,281.7 1620.2,298.6 1620.2,316.4 1620.3,336.4 1620.4,361.3 1620.4,381.8 1620.5,407.0 1620.5,432.9 1620.5,461.3 1620.6,490.6 1620.6,511.2 1620.7,539.2 1620.9,557.8 1621.0,574.3 1621.1,594.4 1621.2,612.9 1621.3,623.7 1621.6,631.5 1621.8,636.1 1622.1,640.0 1622.3,644.5 1622.6,648.5 1622.8,651.2 1623.1,653.0 1623.4,654.3 1623.6,654.8 1623.6,654.8 1624.0,654.2 1624.3,652.9 1624.7,651.1 1625.0,648.4 1625.2,644.3 1625.5,639.5 1625.8,635.6 1626.1,630.8 1626.3,622.6 1626.4,611.1 1626.6,591.6 1626.7,571.6 1626.8,551.6 1627.0,530.9 1627.1,506.5 1627.2,481.7 1627.3,452.6 1627.4,425.6 1627.6,398.2 1627.7,372.7 1627.8,351.7 1628.0,326.0 1628.2,304.8 1628.4,287.1 1628.6,269.3 1628.9,254.2 1629.1,240.9 1629.3,228.8 1629.6,218.0 1629.8,208.5 1629.9,202.6 1630.1,197.1 1630.2,194.7 1630.3,197.1 1630.3,202.6 1630.4,208.5 1630.5,217.7 1630.5,228.2 1630.6,240.9 1630.7,253.8 1630.8,269.6 1630.9,287.1 1630.9,305.4 1631.0,326.1 1631.1,351.7 1631.1,372.9 1631.2,398.9 1631.2,425.6 1631.2,455.0 1631.3,485.2 1631.3,506.5 1631.4,535.4 1631.5,554.6 1631.7,571.6 1631.8,592.4 1631.9,611.5 1632.0,622.6 1632.3,630.7 1632.5,635.5 1632.8,639.5 1633.0,644.1 1633.3,648.3 1633.5,651.1 1633.8,652.9 1634.1,654.2 1634.3,654.8 1634.3,654.7 1634.7,654.2 1635.0,652.8 1635.3,650.9 1635.6,648.2 1635.9,644.0 1636.2,639.2 1636.5,635.2 1636.8,630.3 1637.0,622.0 1637.1,610.2 1637.3,590.3 1637.4,569.9 1637.5,549.5 1637.7,528.4 1637.8,503.5 1637.9,478.2 1638.0,448.5 1638.1,421.1 1638.2,393.0 1638.4,367.1 1638.5,345.7 1638.7,319.5 1638.9,297.8 1639.1,279.7 1639.3,261.6 1639.5,246.2 1639.8,232.6 1640.0,220.3 1640.2,209.3 1640.5,199.7 1640.6,193.6 1640.8,188.0 1640.9,185.5 1641.0,188.0 1641.0,193.6 1641.1,199.7 1641.1,209.1 1641.2,219.8 1641.3,232.6 1641.4,245.8 1641.5,261.9 1641.5,279.7 1641.6,298.4 1641.7,319.5 1641.8,345.7 1641.8,367.3 1641.8,393.8 1641.9,421.1 1641.9,451.0 1642.0,481.8 1642.0,503.5 1642.1,533.0 1642.2,552.6 1642.4,569.9 1642.5,591.1 1642.6,610.6 1642.7,622.0 1643.0,630.2 1643.2,635.0 1643.5,639.2 1643.7,643.9 1644.0,648.1 1644.2,650.9 1644.5,652.8 1644.7,654.2 1645.0,654.7 1645.0,655.0 1645.4,654.5 1645.7,653.3 1646.0,651.7 1646.3,649.4 1646.6,645.8 1646.9,641.6 1647.2,638.2 1647.4,633.9 1647.7,626.7 1647.8,616.6 1647.9,599.4 1648.1,581.9 1648.2,564.2 1648.3,546.1 1648.5,524.6 1648.6,502.8 1648.7,477.2 1648.8,453.5 1648.9,429.3 1649.1,407.0 1649.2,388.5 1649.4,365.9 1649.6,347.2 1649.8,331.6 1650.0,316.0 1650.2,302.7 1650.5,291.0 1650.7,280.4 1650.9,270.9 1651.2,262.6 1651.3,257.3 1651.4,252.5 1651.6,250.4 1651.6,252.5 1651.7,257.3 1651.8,262.6 1651.8,270.7 1651.9,279.9 1652.0,291.0 1652.1,302.4 1652.2,316.3 1652.2,331.6 1652.3,347.7 1652.4,365.9 1652.4,388.5 1652.5,407.1 1652.5,430.0 1652.6,453.5 1652.6,479.3 1652.7,505.9 1652.7,524.6 1652.8,550.0 1652.9,566.9 1653.0,581.9 1653.2,600.2 1653.3,616.9 1653.4,626.7 1653.7,633.8 1653.9,638.0 1654.2,641.6 1654.4,645.6 1654.7,649.3 1654.9,651.7 1655.2,653.3 1655.4,654.5 1655.7,655.0 1655.7,655.1 1656.0,654.6 1656.4,653.5 1656.7,652.0 1657.0,649.8 1657.3,646.3 1657.6,642.4 1657.9,639.1 1658.1,635.1 1658.4,628.3 1658.5,618.7 1658.6,602.4 1658.8,585.8 1658.9,569.0 1659.0,551.8 1659.2,531.5 1659.3,510.8 1659.4,486.6 1659.5,464.1 1659.6,441.2 1659.8,420.0 1659.9,402.5 1660.1,381.1 1660.3,363.4 1660.5,348.6 1660.7,333.8 1660.9,321.2 1661.2,310.1 1661.4,300.0 1661.6,291.0 1661.9,283.1 1662.0,278.2 1662.1,273.6 1662.3,271.6 1662.3,273.6 1662.4,278.2 1662.4,283.1 1662.5,290.8 1662.6,299.6 1662.7,310.1 1662.8,320.9 1662.9,334.0 1662.9,348.6 1663.0,363.8 1663.1,381.1 1663.1,402.5 1663.2,420.2 1663.2,441.8 1663.3,464.1 1663.3,488.6 1663.3,513.7 1663.4,531.5 1663.5,555.6 1663.6,571.6 1663.7,585.8 1663.9,603.1 1664.0,619.0 1664.1,628.3 1664.3,635.0 1664.6,639.0 1664.8,642.4 1665.1,646.2 1665.3,649.7 1665.6,652.0 1665.9,653.5 1666.1,654.6 1666.4,655.1 1666.4,655.0 1666.7,654.5 1667.1,653.3 1667.4,651.7 1667.7,649.3 1668.0,645.7 1668.3,641.4 1668.6,638.0 1668.8,633.7 1669.1,626.4 1669.2,616.2 1669.3,598.9 1669.4,581.1 1669.6,563.3 1669.7,545.0 1669.9,523.3 1670.0,501.2 1670.1,475.4 1670.2,451.5 1670.3,427.1 1670.4,404.5 1670.6,385.8 1670.8,363.0 1671.0,344.2 1671.2,328.4 1671.4,312.6 1671.6,299.2 1671.8,287.4 1672.1,276.7 1672.3,267.1 1672.5,258.7 1672.7,253.4 1672.8,248.5 1673.0,246.4 1673.0,248.5 1673.1,253.4 1673.1,258.7 1673.2,266.8 1673.3,276.2 1673.4,287.4 1673.5,298.9 1673.5,312.9 1673.6,328.4 1673.7,344.7 1673.8,363.0 1673.8,385.8 1673.9,404.7 1673.9,427.7 1674.0,451.5 1674.0,477.6 1674.0,504.4 1674.1,523.3 1674.2,548.9 1674.3,566.0 1674.4,581.1 1674.5,599.6 1674.7,616.5 1674.8,626.4 1675.0,633.6 1675.3,637.8 1675.5,641.4 1675.8,645.5 1676.0,649.2 1676.3,651.7 1676.6,653.3 1676.8,654.5 1677.1,655.0 1677.1,654.9 1677.4,654.4 1677.8,653.2 1678.1,651.6 1678.4,649.2 1678.7,645.4 1679.0,641.1 1679.3,637.6 1679.5,633.2 1679.8,625.8 1679.9,615.4 1680.0,597.7 1680.1,579.6 1680.3,561.4 1680.4,542.7 1680.6,520.6 1680.7,498.1 1680.8,471.8 1680.9,447.4 1681.0,422.5 1681.1,399.4 1681.3,380.4 1681.5,357.1 1681.6,337.9 1681.8,321.8 1682.1,305.7 1682.3,292.0 1682.5,280.0 1682.8,269.0 1683.0,259.2 1683.2,250.7 1683.4,245.2 1683.5,240.3 1683.7,238.1 1683.7,240.3 1683.8,245.3 1683.8,250.7 1683.9,259.0 1684.0,268.5 1684.1,280.0 1684.2,291.7 1684.2,306.0 1684.3,321.8 1684.4,338.4 1684.4,357.1 1684.5,380.4 1684.6,399.6 1684.6,423.1 1684.6,447.4 1684.7,474.0 1684.7,501.3 1684.8,520.6 1684.9,546.8 1685.0,564.2 1685.1,579.6 1685.2,598.5 1685.4,615.7 1685.5,625.8 1685.7,633.1 1686.0,637.4 1686.2,641.1 1686.5,645.3 1686.7,649.1 1687.0,651.6 1687.2,653.2 1687.5,654.4 1687.8,654.9 1687.8,655.1 1688.1,654.7 1688.5,653.6 1688.8,652.1 1689.1,650.0 1689.4,646.7 1689.7,642.9 1689.9,639.8 1690.2,635.9 1690.5,629.3 1690.6,620.0 1690.7,604.3 1690.8,588.3 1691.0,572.2 1691.1,555.6 1691.2,536.0 1691.4,516.0 1691.5,492.6 1691.6,471.0 1691.7,448.9 1691.8,428.5 1691.9,411.6 1692.1,390.9 1692.3,373.9 1692.5,359.6 1692.8,345.4 1693.0,333.2 1693.2,322.5 1693.5,312.8 1693.7,304.1 1693.9,296.5 1694.1,291.7 1694.2,287.3 1694.3,285.4 1694.4,287.3 1694.5,291.7 1694.5,296.5 1694.6,303.9 1694.7,312.3 1694.8,322.5 1694.8,332.9 1694.9,345.6 1695.0,359.6 1695.1,374.3 1695.1,391.0 1695.2,411.6 1695.2,428.6 1695.3,449.5 1695.3,471.0 1695.4,494.6 1695.4,518.8 1695.5,536.0 1695.6,559.2 1695.7,574.6 1695.8,588.3 1695.9,605.0 1696.0,620.3 1696.2,629.3 1696.4,635.8 1696.7,639.6 1696.9,642.9 1697.2,646.6 1697.4,649.9 1697.7,652.1 1697.9,653.6 1698.2,654.7 1698.5,655.1 1698.5,655.1 1698.8,654.6 1699.1,653.5 1699.5,652.0 1699.8,649.7 1700.1,646.3 1700.4,642.3 1700.6,639.0 1700.9,635.0 1701.1,628.1 1701.3,618.5 1701.4,602.1 1701.5,585.3 1701.7,568.5 1701.8,551.2 1701.9,530.7 1702.0,509.9 1702.2,485.5 1702.3,462.9 1702.4,439.9 1702.5,418.6 1702.6,401.0 1702.8,379.4 1703.0,361.6 1703.2,346.7 1703.5,331.9 1703.7,319.2 1703.9,308.0 1704.1,297.9 1704.4,288.8 1704.6,280.9 1704.8,275.9 1704.9,271.3 1705.0,269.3 1705.1,271.3 1705.1,275.9 1705.2,280.9 1705.3,288.6 1705.4,297.4 1705.5,308.0 1705.5,318.9 1705.6,332.1 1705.7,346.7 1705.8,362.1 1705.8,379.4 1705.9,401.0 1705.9,418.7 1706.0,440.5 1706.0,462.9 1706.1,487.6 1706.1,512.9 1706.2,530.7 1706.3,555.0 1706.4,571.1 1706.5,585.3 1706.6,602.8 1706.7,618.8 1706.9,628.1 1707.1,634.9 1707.4,638.9 1707.6,642.3 1707.9,646.2 1708.1,649.6 1708.4,652.0 1708.6,653.5 1708.9,654.6 1709.2,655.1 1709.2,655.3 1709.5,655.0 1709.8,654.1 1710.2,652.8 1710.5,651.0 1710.8,648.2 1711.1,644.9 1711.3,642.2 1711.6,638.9 1711.8,633.3 1712.0,625.4 1712.1,612.1 1712.2,598.4 1712.3,584.6 1712.5,570.5 1712.6,553.8 1712.7,536.8 1712.8,516.8 1713.0,498.4 1713.1,479.6 1713.2,462.1 1713.3,447.8 1713.5,430.1 1713.7,415.6 1713.9,403.5 1714.1,391.3 1714.4,380.9 1714.6,371.8 1714.8,363.5 1715.1,356.1 1715.3,349.7 1715.4,345.6 1715.6,341.8 1715.7,340.2 1715.8,341.8 1715.8,345.6 1715.9,349.7 1716.0,356.0 1716.1,363.2 1716.2,371.8 1716.2,380.7 1716.3,391.5 1716.4,403.5 1716.4,416.0 1716.5,430.2 1716.6,447.8 1716.6,462.3 1716.7,480.1 1716.7,498.4 1716.8,518.5 1716.8,539.2 1716.8,553.8 1717.0,573.6 1717.1,586.7 1717.2,598.4 1717.3,612.6 1717.4,625.7 1717.5,633.3 1717.8,638.9 1718.0,642.1 1718.3,644.9 1718.5,648.1 1718.8,650.9 1719.0,652.8 1719.3,654.0 1719.6,655.0 1719.8,655.3 1719.8,655.1 1720.2,654.7 1720.5,653.5 1720.9,652.1 1721.2,649.9 1721.5,646.5 1721.8,642.6 1722.0,639.4 1722.3,635.5 1722.5,628.8 1722.6,619.3 1722.8,603.3 1722.9,586.9 1723.0,570.4 1723.2,553.5 1723.3,533.5 1723.4,513.1 1723.5,489.3 1723.6,467.2 1723.8,444.6 1723.9,423.8 1724.0,406.5 1724.2,385.5 1724.4,368.1 1724.6,353.5 1724.8,338.9 1725.1,326.5 1725.3,315.6 1725.5,305.7 1725.8,296.8 1726.0,289.1 1726.1,284.2 1726.3,279.7 1726.4,277.7 1726.5,279.7 1726.5,284.2 1726.6,289.1 1726.7,296.7 1726.8,305.3 1726.8,315.6 1726.9,326.2 1727.0,339.2 1727.1,353.5 1727.1,368.5 1727.2,385.5 1727.3,406.5 1727.3,423.9 1727.4,445.2 1727.4,467.2 1727.4,491.3 1727.5,516.0 1727.5,533.5 1727.6,557.2 1727.8,572.9 1727.9,586.9 1728.0,604.0 1728.1,619.6 1728.2,628.8 1728.5,635.4 1728.7,639.3 1729.0,642.6 1729.2,646.4 1729.5,649.8 1729.7,652.1 1730.0,653.5 1730.3,654.6 1730.5,655.1 1730.5,654.8 1730.9,654.3 1731.2,653.0 1731.6,651.3 1731.9,648.8 1732.1,644.8 1732.4,640.3 1732.7,636.6 1733.0,632.0 1733.2,624.2 1733.3,613.1 1733.5,594.5 1733.6,575.4 1733.7,556.2 1733.9,536.5 1734.0,513.2 1734.1,489.5 1734.2,461.7 1734.3,435.9 1734.5,409.7 1734.6,385.4 1734.7,365.3 1734.9,340.8 1735.1,320.5 1735.3,303.5 1735.5,286.6 1735.8,272.1 1736.0,259.4 1736.2,247.9 1736.5,237.5 1736.7,228.5 1736.8,222.8 1737.0,217.6 1737.1,215.3 1737.2,217.6 1737.2,222.8 1737.3,228.5 1737.4,237.3 1737.4,247.4 1737.5,259.4 1737.6,271.8 1737.7,286.9 1737.8,303.5 1737.8,321.0 1737.9,340.8 1738.0,365.3 1738.0,385.6 1738.1,410.4 1738.1,435.9 1738.1,464.0 1738.2,492.8 1738.2,513.2 1738.3,540.8 1738.4,559.1 1738.6,575.4 1738.7,595.3 1738.8,613.5 1738.9,624.2 1739.2,631.9 1739.4,636.4 1739.7,640.3 1739.9,644.7 1740.2,648.7 1740.4,651.3 1740.7,653.0 1741.0,654.3 1741.2,654.8 1741.2,654.7 1741.6,654.1 1741.9,652.7 1742.2,650.8 1742.5,648.1 1742.8,643.8 1743.1,638.9 1743.4,634.9 1743.7,629.8 1743.9,621.4 1744.0,609.4 1744.2,589.1 1744.3,568.4 1744.4,547.6 1744.6,526.1 1744.7,500.8 1744.8,475.0 1744.9,444.9 1745.0,416.9 1745.1,388.4 1745.3,362.0 1745.4,340.2 1745.6,313.5 1745.8,291.5 1746.0,273.1 1746.2,254.6 1746.4,238.9 1746.7,225.1 1746.9,212.6 1747.1,201.4 1747.4,191.6 1747.5,185.4 1747.7,179.7 1747.8,177.2 1747.9,179.7 1747.9,185.4 1748.0,191.6 1748.0,201.1 1748.1,212.0 1748.2,225.1 1748.3,238.6 1748.4,254.9 1748.4,273.1 1748.5,292.1 1748.6,313.5 1748.7,340.2 1748.7,362.2 1748.7,389.1 1748.8,416.9 1748.8,447.4 1748.9,478.7 1748.9,500.8 1749.0,530.8 1749.1,550.7 1749.3,568.4 1749.4,590.0 1749.5,609.8 1749.6,621.4 1749.9,629.7 1750.1,634.7 1750.4,638.9 1750.6,643.7 1750.9,648.0 1751.1,650.8 1751.4,652.7 1751.6,654.1 1751.9,654.7 1751.9,654.6 1752.3,654.1 1752.6,652.6 1752.9,650.7 1753.2,647.8 1753.5,643.5 1753.8,638.4 1754.1,634.2 1754.3,629.1 1754.6,620.4 1754.7,608.0 1754.8,587.2 1755.0,565.9 1755.1,544.5 1755.2,522.4 1755.4,496.3 1755.5,469.9 1755.6,438.8 1755.7,410.1 1755.8,380.7 1756.0,353.6 1756.1,331.2 1756.3,303.7 1756.5,281.1 1756.7,262.1 1756.9,243.2 1757.1,227.0 1757.4,212.8 1757.6,199.9 1757.8,188.4 1758.1,178.3 1758.2,171.9 1758.3,166.1 1758.5,163.5 1758.5,166.1 1758.6,171.9 1758.7,178.3 1758.7,188.1 1758.8,199.3 1758.9,212.8 1759.0,226.6 1759.1,243.5 1759.1,262.1 1759.2,281.7 1759.3,303.7 1759.3,331.2 1759.4,353.8 1759.4,381.5 1759.5,410.1 1759.5,441.4 1759.6,473.6 1759.6,496.3 1759.7,527.2 1759.8,547.7 1759.9,565.9 1760.1,588.1 1760.2,608.4 1760.3,620.4 1760.6,629.0 1760.8,634.0 1761.1,638.4 1761.3,643.3 1761.6,647.7 1761.8,650.7 1762.1,652.6 1762.3,654.1 1762.6,654.6 1762.6,655.1 1762.9,654.6 1763.3,653.5 1763.6,652.0 1763.9,649.8 1764.2,646.4 1764.5,642.4 1764.8,639.2 1765.0,635.2 1765.3,628.4 1765.4,618.8 1765.5,602.5 1765.7,585.9 1765.8,569.2 1765.9,552.1 1766.1,531.7 1766.2,511.1 1766.3,486.9 1766.4,464.5 1766.5,441.6 1766.7,420.5 1766.8,403.0 1767.0,381.6 1767.2,364.0 1767.4,349.2 1767.6,334.5 1767.8,321.9 1768.1,310.8 1768.3,300.8 1768.5,291.8 1768.8,283.9 1768.9,279.0 1769.0,274.4 1769.2,272.4 1769.2,274.4 1769.3,279.0 1769.3,283.9 1769.4,291.6 1769.5,300.3 1769.6,310.8 1769.7,321.6 1769.8,334.7 1769.8,349.2 1769.9,364.5 1770.0,381.7 1770.0,403.0 1770.1,420.6 1770.1,442.3 1770.2,464.5 1770.2,488.9 1770.2,514.0 1770.3,531.7 1770.4,555.8 1770.5,571.7 1770.6,585.9 1770.8,603.2 1770.9,619.1 1771.0,628.4 1771.2,635.1 1771.5,639.0 1771.7,642.4 1772.0,646.2 1772.2,649.7 1772.5,652.0 1772.8,653.5 1773.0,654.6 1773.3,655.1 1773.3,655.2 1773.6,654.8 1774.0,653.8 1774.3,652.5 1774.6,650.5 1774.9,647.5 1775.2,644.0 1775.5,641.1 1775.7,637.5 1776.0,631.5 1776.1,623.0 1776.2,608.5 1776.3,593.8 1776.5,578.9 1776.6,563.7 1776.8,545.6 1776.9,527.2 1777.0,505.7 1777.1,485.8 1777.2,465.5 1777.3,446.7 1777.5,431.2 1777.7,412.2 1777.9,396.5 1778.1,383.3 1778.3,370.2 1778.5,359.0 1778.7,349.2 1779.0,340.3 1779.2,332.3 1779.4,325.3 1779.6,320.9 1779.7,316.8 1779.9,315.0 1779.9,316.8 1780.0,320.9 1780.0,325.3 1780.1,332.1 1780.2,339.9 1780.3,349.2 1780.4,358.8 1780.4,370.4 1780.5,383.3 1780.6,396.9 1780.7,412.2 1780.7,431.2 1780.8,446.8 1780.8,466.0 1780.9,485.8 1780.9,507.5 1780.9,529.8 1781.0,545.6 1781.1,567.0 1781.2,581.2 1781.3,593.8 1781.4,609.1 1781.6,623.2 1781.7,631.5 1781.9,637.4 1782.2,641.0 1782.4,644.0 1782.7,647.4 1782.9,650.5 1783.2,652.5 1783.5,653.8 1783.7,654.8 1784.0,655.2 1784.0,655.4 1784.3,655.0 1784.7,654.1 1785.0,652.9 1785.3,651.1 1785.6,648.3 1785.9,645.1 1786.2,642.5 1786.4,639.2 1786.7,633.7 1786.8,625.9 1786.9,612.7 1787.0,599.2 1787.2,585.7 1787.3,571.7 1787.5,555.2 1787.6,538.5 1787.7,518.8 1787.8,500.6 1787.9,482.1 1788.0,464.9 1788.2,450.7 1788.4,433.4 1788.5,419.1 1788.7,407.1 1789.0,395.1 1789.2,384.9 1789.4,375.9 1789.7,367.7 1789.9,360.4 1790.1,354.1 1790.3,350.0 1790.4,346.3 1790.6,344.7 1790.6,346.3 1790.7,350.0 1790.7,354.1 1790.8,360.3 1790.9,367.4 1791.0,375.9 1791.1,384.6 1791.1,395.3 1791.2,407.1 1791.3,419.4 1791.3,433.4 1791.4,450.7 1791.5,465.0 1791.5,482.6 1791.5,500.6 1791.6,520.5 1791.6,540.9 1791.7,555.2 1791.8,574.8 1791.9,587.7 1792.0,599.2 1792.1,613.3 1792.3,626.1 1792.4,633.7 1792.6,639.1 1792.9,642.3 1793.1,645.1 1793.4,648.2 1793.6,651.0 1793.9,652.9 1794.1,654.1 1794.4,655.0 1794.7,655.4 1794.7,655.2 1795.0,654.8 1795.4,653.8 1795.7,652.5 1796.0,650.5 1796.3,647.4 1796.6,643.8 1796.8,640.9 1797.1,637.3 1797.4,631.2 1797.5,622.6 1797.6,608.0 1797.7,593.0 1797.9,578.1 1798.0,562.6 1798.1,544.3 1798.3,525.8 1798.4,504.1 1798.5,483.9 1798.6,463.4 1798.7,444.3 1798.8,428.6 1799.0,409.4 1799.2,393.6 1799.4,380.3 1799.7,367.0 1799.9,355.7 1800.1,345.7 1800.4,336.7 1800.6,328.6 1800.8,321.6 1801.0,317.1 1801.1,313.0 1801.2,311.2 1801.3,313.0 1801.4,317.1 1801.4,321.6 1801.5,328.5 1801.6,336.3 1801.7,345.7 1801.7,355.4 1801.8,367.2 1801.9,380.3 1802.0,394.0 1802.0,409.4 1802.1,428.6 1802.1,444.5 1802.2,463.9 1802.2,483.9 1802.3,505.9 1802.3,528.4 1802.4,544.3 1802.5,566.0 1802.6,580.3 1802.7,593.0 1802.8,608.6 1802.9,622.9 1803.1,631.2 1803.3,637.2 1803.6,640.8 1803.8,643.8 1804.1,647.3 1804.3,650.4 1804.6,652.5 1804.8,653.8 1805.1,654.8 1805.4,655.2 1805.4,655.2 1805.7,654.8 1806.0,653.8 1806.4,652.4 1806.7,650.4 1807.0,647.4 1807.3,643.8 1807.5,640.9 1807.8,637.3 1808.0,631.2 1808.2,622.5 1808.3,607.9 1808.4,592.9 1808.6,577.9 1808.7,562.4 1808.8,544.1 1808.9,525.5 1809.1,503.7 1809.2,483.5 1809.3,462.9 1809.4,443.9 1809.5,428.1 1809.7,408.8 1809.9,392.9 1810.1,379.6 1810.4,366.3 1810.6,355.0 1810.8,345.0 1811.0,336.0 1811.3,327.9 1811.5,320.8 1811.7,316.3 1811.8,312.2 1811.9,310.4 1812.0,312.2 1812.0,316.3 1812.1,320.8 1812.2,327.7 1812.3,335.6 1812.4,345.0 1812.4,354.7 1812.5,366.5 1812.6,379.6 1812.7,393.4 1812.7,408.9 1812.8,428.1 1812.8,444.0 1812.9,463.5 1812.9,483.5 1813.0,505.5 1813.0,528.1 1813.1,544.1 1813.2,565.8 1813.3,580.1 1813.4,592.9 1813.5,608.5 1813.6,622.8 1813.8,631.2 1814.0,637.2 1814.3,640.8 1814.5,643.8 1814.8,647.3 1815.0,650.4 1815.3,652.4 1815.5,653.8 1815.8,654.8 1816.1,655.2 1816.1,655.3 1816.4,654.9 1816.7,653.9 1817.1,652.6 1817.4,650.6 1817.7,647.6 1818.0,644.1 1818.2,641.3 1818.5,637.8 1818.7,631.8 1818.9,623.4 1819.0,609.2 1819.1,594.6 1819.2,580.0 1819.4,564.9 1819.5,547.1 1819.6,529.0 1819.7,507.7 1819.9,488.1 1820.0,468.0 1820.1,449.5 1820.2,434.2 1820.4,415.4 1820.6,399.9 1820.8,387.0 1821.0,374.0 1821.3,363.0 1821.5,353.3 1821.7,344.4 1822.0,336.6 1822.2,329.7 1822.3,325.3 1822.5,321.3 1822.6,319.6 1822.7,321.3 1822.7,325.3 1822.8,329.7 1822.9,336.4 1823.0,344.1 1823.1,353.3 1823.1,362.7 1823.2,374.2 1823.3,387.0 1823.3,400.3 1823.4,415.4 1823.5,434.2 1823.5,449.6 1823.6,468.6 1823.6,488.1 1823.7,509.5 1823.7,531.5 1823.7,547.1 1823.9,568.2 1824.0,582.2 1824.1,594.6 1824.2,609.8 1824.3,623.7 1824.4,631.8 1824.7,637.7 1824.9,641.2 1825.2,644.1 1825.4,647.5 1825.7,650.5 1825.9,652.6 1826.2,653.9 1826.5,654.9 1826.7,655.3 1826.7,655.2 1827.1,654.8 1827.4,653.7 1827.8,652.3 1828.1,650.3 1828.4,647.1 1828.7,643.5 1828.9,640.5 1829.2,636.8 1829.4,630.5 1829.5,621.6 1829.7,606.6 1829.8,591.2 1829.9,575.8 1830.1,559.9 1830.2,541.1 1830.3,522.1 1830.4,499.7 1830.5,479.0 1830.7,457.8 1830.8,438.3 1830.9,422.1 1831.1,402.4 1831.3,386.1 1831.5,372.4 1831.7,358.8 1832.0,347.1 1832.2,336.9 1832.4,327.6 1832.7,319.3 1832.9,312.0 1833.0,307.4 1833.2,303.2 1833.3,301.4 1833.4,303.2 1833.4,307.4 1833.5,312.0 1833.6,319.1 1833.7,327.2 1833.7,336.9 1833.8,346.8 1833.9,359.0 1834.0,372.4 1834.0,386.5 1834.1,402.4 1834.2,422.1 1834.2,438.4 1834.3,458.4 1834.3,479.0 1834.3,501.6 1834.4,524.8 1834.4,541.1 1834.5,563.4 1834.7,578.1 1834.8,591.2 1834.9,607.2 1835.0,621.9 1835.1,630.5 1835.4,636.7 1835.6,640.3 1835.9,643.5 1836.1,647.0 1836.4,650.2 1836.6,652.3 1836.9,653.7 1837.2,654.8 1837.4,655.2 1837.4,655.1 1837.8,654.7 1838.1,653.7 1838.5,652.2 1838.8,650.1 1839.0,646.8 1839.3,643.1 1839.6,640.0 1839.9,636.2 1840.1,629.7 1840.2,620.6 1840.4,605.1 1840.5,589.3 1840.6,573.4 1840.8,557.0 1840.9,537.6 1841.0,518.0 1841.1,495.0 1841.2,473.6 1841.4,451.8 1841.5,431.7 1841.6,415.0 1841.8,394.7 1842.0,377.9 1842.2,363.8 1842.4,349.7 1842.7,337.7 1842.9,327.2 1843.1,317.6 1843.4,309.1 1843.6,301.6 1843.7,296.8 1843.9,292.5 1844.0,290.6 1844.1,292.5 1844.1,296.9 1844.2,301.6 1844.3,308.9 1844.3,317.2 1844.4,327.2 1844.5,337.5 1844.6,350.0 1844.7,363.8 1844.7,378.3 1844.8,394.7 1844.9,415.0 1844.9,431.8 1845.0,452.4 1845.0,473.6 1845.0,496.9 1845.1,520.8 1845.1,537.6 1845.2,560.6 1845.3,575.8 1845.5,589.3 1845.6,605.7 1845.7,620.9 1845.8,629.7 1846.1,636.1 1846.3,639.8 1846.6,643.1 1846.8,646.7 1847.1,650.0 1847.3,652.2 1847.6,653.6 1847.9,654.7 1848.1,655.1 1848.1,655.2 1848.5,654.8 1848.8,653.7 1849.1,652.3 1849.4,650.3 1849.7,647.1 1850.0,643.4 1850.3,640.4 1850.6,636.7 1850.8,630.4 1850.9,621.5 1851.1,606.5 1851.2,591.1 1851.3,575.6 1851.5,559.7 1851.6,540.9 1851.7,521.8 1851.8,499.3 1851.9,478.6 1852.0,457.4 1852.2,437.8 1852.3,421.6 1852.5,401.8 1852.7,385.4 1852.9,371.8 1853.1,358.1 1853.3,346.4 1853.6,336.2 1853.8,326.8 1854.0,318.5 1854.3,311.2 1854.4,306.6 1854.6,302.4 1854.7,300.6 1854.8,302.4 1854.8,306.6 1854.9,311.2 1854.9,318.3 1855.0,326.4 1855.1,336.2 1855.2,346.1 1855.3,358.3 1855.3,371.8 1855.4,385.9 1855.5,401.8 1855.6,421.6 1855.6,437.9 1855.6,458.0 1855.7,478.6 1855.7,501.2 1855.8,524.5 1855.8,540.9 1855.9,563.2 1856.0,578.0 1856.2,591.1 1856.3,607.1 1856.4,621.8 1856.5,630.4 1856.8,636.6 1857.0,640.3 1857.3,643.4 1857.5,647.0 1857.8,650.2 1858.0,652.3 1858.3,653.7 1858.5,654.8 1858.8,655.2 1858.8,655.5 1859.2,655.1 1859.5,654.3 1859.8,653.2 1860.1,651.5 1860.4,649.0 1860.7,646.0 1861.0,643.6 1861.2,640.6 1861.5,635.5 1861.6,628.4 1861.7,616.3 1861.9,603.9 1862.0,591.4 1862.1,578.6 1862.3,563.5 1862.4,548.1 1862.5,530.0 1862.6,513.3 1862.7,496.3 1862.9,480.5 1863.0,467.5 1863.2,451.5 1863.4,438.4 1863.6,427.3 1863.8,416.3 1864.0,407.0 1864.3,398.7 1864.5,391.2 1864.7,384.5 1865.0,378.6 1865.1,374.9 1865.2,371.5 1865.4,370.0 1865.4,371.5 1865.5,374.9 1865.6,378.6 1865.6,384.3 1865.7,390.9 1865.8,398.7 1865.9,406.7 1866.0,416.5 1866.0,427.3 1866.1,438.7 1866.2,451.5 1866.2,467.5 1866.3,480.6 1866.3,496.7 1866.4,513.3 1866.4,531.5 1866.5,550.3 1866.5,563.5 1866.6,581.4 1866.7,593.3 1866.8,603.9 1867.0,616.8 1867.1,628.6 1867.2,635.5 1867.5,640.5 1867.7,643.5 1868.0,646.0 1868.2,648.9 1868.5,651.4 1868.7,653.2 1869.0,654.3 1869.2,655.1 1869.5,655.5 1869.5,655.1 1869.8,654.7 1870.2,653.6 1870.5,652.2 1870.8,650.1 1871.1,646.8 1871.4,643.0 1871.7,639.9 1871.9,636.1 1872.2,629.5 1872.3,620.3 1872.4,604.8 1872.6,588.8 1872.7,572.9 1872.8,556.4 1873.0,536.9 1873.1,517.2 1873.2,494.0 1873.3,472.5 1873.4,450.6 1873.6,430.3 1873.7,413.6 1873.9,393.1 1874.1,376.2 1874.3,362.0 1874.5,347.9 1874.7,335.8 1875.0,325.2 1875.2,315.6 1875.4,307.0 1875.7,299.4 1875.8,294.7 1875.9,290.3 1876.1,288.4 1876.1,290.3 1876.2,294.7 1876.2,299.4 1876.3,306.8 1876.4,315.1 1876.5,325.2 1876.6,335.5 1876.7,348.1 1876.7,362.0 1876.8,376.6 1876.9,393.1 1876.9,413.6 1877.0,430.5 1877.0,451.2 1877.1,472.5 1877.1,495.9 1877.1,520.0 1877.2,536.9 1877.3,560.0 1877.4,575.3 1877.5,588.8 1877.7,605.4 1877.8,620.6 1877.9,629.5 1878.1,636.0 1878.4,639.7 1878.6,643.0 1878.9,646.7 1879.1,650.0 1879.4,652.2 1879.7,653.6 1879.9,654.7 1880.2,655.1 1880.2,655.1 1880.5,654.7 1880.9,653.6 1881.2,652.1 1881.5,649.9 1881.8,646.6 1882.1,642.7 1882.4,639.5 1882.6,635.6 1882.9,628.9 1883.0,619.5 1883.1,603.6 1883.2,587.3 1883.4,570.9 1883.5,554.1 1883.7,534.2 1883.8,514.0 1883.9,490.2 1884.0,468.3 1884.1,445.9 1884.2,425.1 1884.4,408.0 1884.6,387.0 1884.8,369.7 1885.0,355.3 1885.2,340.8 1885.4,328.5 1885.6,317.6 1885.9,307.8 1886.1,298.9 1886.3,291.2 1886.5,286.4 1886.6,281.9 1886.8,279.9 1886.8,281.9 1886.9,286.4 1886.9,291.2 1887.0,298.8 1887.1,307.3 1887.2,317.6 1887.3,328.2 1887.3,341.0 1887.4,355.3 1887.5,370.2 1887.6,387.1 1887.6,408.0 1887.7,425.3 1887.7,446.5 1887.8,468.3 1887.8,492.2 1887.8,516.8 1887.9,534.2 1888.0,557.8 1888.1,573.4 1888.2,587.3 1888.3,604.3 1888.5,619.8 1888.6,628.9 1888.8,635.5 1889.1,639.4 1889.3,642.7 1889.6,646.4 1889.8,649.8 1890.1,652.1 1890.4,653.6 1890.6,654.7 1890.9,655.1 1890.9,655.3 1891.2,654.9 1891.6,654.0 1891.9,652.7 1892.2,650.9 1892.5,648.0 1892.8,644.6 1893.1,641.9 1893.3,638.6 1893.6,632.8 1893.7,624.8 1893.8,611.1 1893.9,597.1 1894.1,583.1 1894.2,568.6 1894.4,551.5 1894.5,534.2 1894.6,513.8 1894.7,495.0 1894.8,475.7 1894.9,457.9 1895.1,443.2 1895.3,425.3 1895.4,410.4 1895.6,398.0 1895.9,385.6 1896.1,375.0 1896.3,365.7 1896.6,357.2 1896.8,349.6 1897.0,343.0 1897.2,338.8 1897.3,335.0 1897.5,333.3 1897.5,335.0 1897.6,338.9 1897.6,343.0 1897.7,349.5 1897.8,356.8 1897.9,365.7 1898.0,374.7 1898.0,385.8 1898.1,398.0 1898.2,410.8 1898.2,425.3 1898.3,443.2 1898.4,458.1 1898.4,476.3 1898.4,495.0 1898.5,515.5 1898.5,536.6 1898.6,551.5 1898.7,571.8 1898.8,585.2 1898.9,597.1 1899.0,611.7 1899.2,625.0 1899.3,632.8 1899.5,638.5 1899.8,641.8 1900.0,644.6 1900.3,647.9 1900.5,650.8 1900.8,652.7 1901.0,654.0 1901.3,654.9 1901.6,655.3 1901.6,655.1 1901.9,654.7 1902.3,653.6 1902.6,652.2 1902.9,650.1 1903.2,646.8 1903.5,643.0 1903.7,640.0 1904.0,636.1 1904.3,629.6 1904.4,620.5 1904.5,605.0 1904.6,589.1 1904.8,573.2 1904.9,556.8 1905.0,537.4 1905.2,517.7 1905.3,494.6 1905.4,473.2 1905.5,451.4 1905.6,431.2 1905.7,414.6 1905.9,394.2 1906.1,377.3 1906.3,363.2 1906.6,349.1 1906.8,337.1 1907.0,326.6 1907.3,317.0 1907.5,308.4 1907.7,300.9 1907.9,296.1 1908.0,291.8 1908.2,289.9 1908.2,291.8 1908.3,296.2 1908.3,300.9 1908.4,308.2 1908.5,316.5 1908.6,326.6 1908.6,336.8 1908.7,349.4 1908.8,363.2 1908.9,377.8 1908.9,394.2 1909.0,414.6 1909.0,431.4 1909.1,452.0 1909.1,473.2 1909.2,496.6 1909.2,520.5 1909.3,537.4 1909.4,560.4 1909.5,575.6 1909.6,589.1 1909.7,605.6 1909.8,620.8 1910.0,629.6 1910.2,636.0 1910.5,639.8 1910.7,643.0 1911.0,646.7 1911.2,650.0 1911.5,652.2 1911.7,653.6 1912.0,654.7 1912.3,655.1 1912.3,655.0 1912.6,654.6 1912.9,653.5 1913.3,651.9 1913.6,649.7 1913.9,646.3 1914.2,642.2 1914.4,639.0 1914.7,634.9 1914.9,628.1 1915.1,618.4 1915.2,602.0 1915.3,585.2 1915.5,568.4 1915.6,551.0 1915.7,530.5 1915.8,509.7 1916.0,485.2 1916.1,462.6 1916.2,439.5 1916.3,418.1 1916.4,400.5 1916.6,378.9 1916.8,361.1 1917.0,346.2 1917.3,331.3 1917.5,318.6 1917.7,307.4 1917.9,297.2 1918.2,288.2 1918.4,280.2 1918.6,275.2 1918.7,270.6 1918.8,268.6 1918.9,270.6 1918.9,275.2 1919.0,280.2 1919.1,288.0 1919.2,296.8 1919.3,307.4 1919.3,318.3 1919.4,331.5 1919.5,346.2 1919.6,361.6 1919.6,378.9 1919.7,400.5 1919.7,418.3 1919.8,440.1 1919.8,462.6 1919.9,487.3 1919.9,512.6 1920.0,530.5 1920.1,554.8 1920.2,570.9 1920.3,585.2 1920.4,602.7 1920.5,618.7 1920.7,628.1 1920.9,634.8 1921.2,638.8 1921.4,642.2 1921.7,646.1 1921.9,649.6 1922.2,651.9 1922.4,653.5 1922.7,654.6 1923.0,655.0 1923.0,655.1 1923.3,654.7 1923.6,653.7 1924.0,652.2 1924.3,650.1 1924.6,646.9 1924.9,643.1 1925.1,640.0 1925.4,636.2 1925.6,629.8 1925.8,620.6 1925.9,605.2 1926.0,589.4 1926.1,573.6 1926.3,557.2 1926.4,537.9 1926.5,518.3 1926.6,495.3 1926.8,474.0 1926.9,452.3 1927.0,432.2 1927.1,415.6 1927.3,395.2 1927.5,378.5 1927.7,364.4 1927.9,350.4 1928.2,338.5 1928.4,327.9 1928.6,318.4 1928.9,309.8 1929.1,302.4 1929.2,297.6 1929.4,293.3 1929.5,291.4 1929.6,293.3 1929.6,297.7 1929.7,302.4 1929.8,309.6 1929.9,317.9 1930.0,327.9 1930.0,338.2 1930.1,350.6 1930.2,364.4 1930.2,378.9 1930.3,395.3 1930.4,415.6 1930.4,432.3 1930.5,452.9 1930.5,474.0 1930.6,497.2 1930.6,521.1 1930.6,537.9 1930.8,560.8 1930.9,575.9 1931.0,589.4 1931.1,605.9 1931.2,620.9 1931.3,629.8 1931.6,636.1 1931.8,639.9 1932.1,643.1 1932.3,646.7 1932.6,650.0 1932.8,652.2 1933.1,653.6 1933.4,654.7 1933.6,655.1 1933.6,655.2 1934.0,654.7 1934.3,653.7 1934.7,652.3 1935.0,650.2 1935.3,647.0 1935.6,643.3 1935.8,640.2 1936.1,636.5 1936.3,630.1 1936.4,621.1 1936.6,605.8 1936.7,590.3 1936.8,574.6 1937.0,558.5 1937.1,539.4 1937.2,520.0 1937.3,497.4 1937.4,476.3 1937.6,454.9 1937.7,435.0 1937.8,418.6 1938.0,398.6 1938.2,382.0 1938.4,368.1 1938.6,354.3 1938.9,342.5 1939.1,332.1 1939.3,322.7 1939.6,314.2 1939.8,306.8 1939.9,302.2 1940.1,297.9 1940.2,296.0 1940.3,297.9 1940.3,302.2 1940.4,306.8 1940.5,314.0 1940.6,322.2 1940.6,332.1 1940.7,342.2 1940.8,354.5 1940.9,368.1 1940.9,382.4 1941.0,398.6 1941.1,418.6 1941.1,435.2 1941.2,455.4 1941.2,476.3 1941.2,499.2 1941.3,522.8 1941.3,539.4 1941.4,562.0 1941.6,577.0 1941.7,590.3 1941.8,606.5 1941.9,621.4 1942.0,630.1 1942.3,636.4 1942.5,640.1 1942.8,643.3 1943.0,646.9 1943.3,650.1 1943.5,652.3 1943.8,653.7 1944.1,654.7 1944.3,655.2 1949.5,425.3"/></defs>
<g clip-path="url(#cB)"><use href="#sB" class="th"/><use href="#sB" class="ts"/></g>
<path d="M1202.5 53.3V666.8H1949.5" fill="none" stroke="#6a6a6a" stroke-width="1.8"/>
<path d="M1202.5 53.3H1949.5V666.8" fill="none" stroke="#7a7a7a" stroke-width="1.8" stroke-dasharray="7 0.7"/>
<line x1="1192.5" y1="656.6" x2="1202.5" y2="656.6" class="t"/>
<text transform="translate(1182.7,669.5) scale(0.78,1)" text-anchor="end" font-size="37.3">0</text>
<line x1="1192.5" y1="556.1" x2="1202.5" y2="556.1" class="t"/>
<text transform="translate(1182.7,569.0) scale(0.78,1)" text-anchor="end" font-size="37.3">1</text>
<line x1="1192.5" y1="455.5" x2="1202.5" y2="455.5" class="t"/>
<text transform="translate(1182.7,468.4) scale(0.78,1)" text-anchor="end" font-size="37.3">2</text>
<line x1="1192.5" y1="355.0" x2="1202.5" y2="355.0" class="t"/>
<text transform="translate(1182.7,367.9) scale(0.78,1)" text-anchor="end" font-size="37.3">3</text>
<line x1="1192.5" y1="254.4" x2="1202.5" y2="254.4" class="t"/>
<text transform="translate(1182.7,267.3) scale(0.78,1)" text-anchor="end" font-size="37.3">4</text>
<line x1="1192.5" y1="153.9" x2="1202.5" y2="153.9" class="t"/>
<text transform="translate(1182.7,166.8) scale(0.78,1)" text-anchor="end" font-size="37.3">5</text>
<line x1="1192.5" y1="53.3" x2="1202.5" y2="53.3" class="t"/>
<text transform="translate(1182.7,66.2) scale(0.78,1)" text-anchor="end" font-size="37.3">6</text>
<line x1="1212.7" y1="666.8" x2="1212.7" y2="674.8" class="t"/>
<text transform="translate(1212.7,697.1) scale(0.83,1)" text-anchor="middle" font-size="25">1950</text>
<line x1="1266.2" y1="666.8" x2="1266.2" y2="674.8" class="t"/>
<text transform="translate(1266.2,697.1) scale(0.83,1)" text-anchor="middle" font-size="25">1955</text>
<line x1="1319.6" y1="666.8" x2="1319.6" y2="674.8" class="t"/>
<text transform="translate(1319.6,697.1) scale(0.83,1)" text-anchor="middle" font-size="25">1960</text>
<line x1="1373.0" y1="666.8" x2="1373.0" y2="674.8" class="t"/>
<text transform="translate(1373.0,697.1) scale(0.83,1)" text-anchor="middle" font-size="25">1965</text>
<line x1="1426.5" y1="666.8" x2="1426.5" y2="674.8" class="t"/>
<text transform="translate(1426.5,697.1) scale(0.83,1)" text-anchor="middle" font-size="25">1970</text>
<line x1="1480.0" y1="666.8" x2="1480.0" y2="674.8" class="t"/>
<text transform="translate(1480.0,697.1) scale(0.83,1)" text-anchor="middle" font-size="25">1975</text>
<line x1="1533.4" y1="666.8" x2="1533.4" y2="674.8" class="t"/>
<text transform="translate(1533.4,697.1) scale(0.83,1)" text-anchor="middle" font-size="25">1980</text>
<line x1="1586.8" y1="666.8" x2="1586.8" y2="674.8" class="t"/>
<text transform="translate(1586.8,697.1) scale(0.83,1)" text-anchor="middle" font-size="25">1985</text>
<line x1="1640.3" y1="666.8" x2="1640.3" y2="674.8" class="t"/>
<text transform="translate(1640.3,697.1) scale(0.83,1)" text-anchor="middle" font-size="25">1990</text>
<line x1="1693.8" y1="666.8" x2="1693.8" y2="674.8" class="t"/>
<text transform="translate(1693.8,697.1) scale(0.83,1)" text-anchor="middle" font-size="25">1995</text>
<line x1="1747.2" y1="666.8" x2="1747.2" y2="674.8" class="t"/>
<text transform="translate(1747.2,697.1) scale(0.83,1)" text-anchor="middle" font-size="25">2000</text>
<line x1="1800.7" y1="666.8" x2="1800.7" y2="674.8" class="t"/>
<text transform="translate(1800.7,697.1) scale(0.83,1)" text-anchor="middle" font-size="25">2005</text>
<line x1="1854.1" y1="666.8" x2="1854.1" y2="674.8" class="t"/>
<text transform="translate(1854.1,697.1) scale(0.83,1)" text-anchor="middle" font-size="25">2010</text>
<line x1="1907.6" y1="666.8" x2="1907.6" y2="674.8" class="t"/>
<text transform="translate(1907.6,697.1) scale(0.83,1)" text-anchor="middle" font-size="25">2015</text>
<text transform="translate(1102.8,525.5) rotate(-90)" font-size="41.6">Nitrate [<tspan dx="-1.3" textLength="32.6" lengthAdjust="spacingAndGlyphs" font-size="38" style="font-family:'DejaVu Sans Light','DejaVu Sans',sans-serif;font-style:italic;font-weight:200;stroke:#111;stroke-width:.55">μ</tspan><tspan dx="2.1">mol kg</tspan><tspan dy="-16.2" font-size="19.6">-1</tspan><tspan dy="16.2" dx="-1">]</tspan></text>
<text x="1033.3" y="24" font-size="29.5" font-weight="bold">B</text>
<line x1="1212.7" y1="920.1" x2="1212.7" y2="1519.0" class="g"/>
<line x1="1266.2" y1="920.1" x2="1266.2" y2="1519.0" class="g"/>
<line x1="1319.6" y1="920.1" x2="1319.6" y2="1519.0" class="g"/>
<line x1="1373.0" y1="920.1" x2="1373.0" y2="1519.0" class="g"/>
<line x1="1426.5" y1="920.1" x2="1426.5" y2="1519.0" class="g"/>
<line x1="1480.0" y1="920.1" x2="1480.0" y2="1519.0" class="g"/>
<line x1="1533.4" y1="920.1" x2="1533.4" y2="1519.0" class="g"/>
<line x1="1586.8" y1="920.1" x2="1586.8" y2="1519.0" class="g"/>
<line x1="1640.3" y1="920.1" x2="1640.3" y2="1519.0" class="g"/>
<line x1="1693.8" y1="920.1" x2="1693.8" y2="1519.0" class="g"/>
<line x1="1747.2" y1="920.1" x2="1747.2" y2="1519.0" class="g"/>
<line x1="1800.7" y1="920.1" x2="1800.7" y2="1519.0" class="g"/>
<line x1="1854.1" y1="920.1" x2="1854.1" y2="1519.0" class="g"/>
<line x1="1907.6" y1="920.1" x2="1907.6" y2="1519.0" class="g"/>
<line x1="1208.5" y1="1514.3" x2="1947.5" y2="1514.3" class="g"/>
<line x1="1208.5" y1="1394.1" x2="1947.5" y2="1394.1" class="g"/>
<line x1="1208.5" y1="1273.8" x2="1947.5" y2="1273.8" class="g"/>
<line x1="1208.5" y1="1153.6" x2="1947.5" y2="1153.6" class="g"/>
<line x1="1208.5" y1="1033.3" x2="1947.5" y2="1033.3" class="g"/>
<line x1="1208.5" y1="913.1" x2="1947.5" y2="913.1" class="g"/>
<clipPath id="cD"><rect x="1202.5" y="913.1" width="747.0" height="613.9"/></clipPath>
<g class="d"><path d="M1315.4 1352.7l5.2 -6.6 5.2 6.6 -5.2 6.6z"/><path d="M1346.7 1364.1l5.2 -6.6 5.2 6.6 -5.2 6.6z"/><path d="M1377.1 1345.8l5.2 -6.6 5.2 6.6 -5.2 6.6z"/><path d="M1389.3 1334.4l5.2 -6.6 5.2 6.6 -5.2 6.6z"/><path d="M1398.4 1334.4l5.2 -6.6 5.2 6.6 -5.2 6.6z"/><path d="M1389.3 1352.7l5.2 -6.6 5.2 6.6 -5.2 6.6z"/><path d="M1377.1 1376.3l5.2 -6.6 5.2 6.6 -5.2 6.6z"/><path d="M1400.0 1364.9l5.2 -6.6 5.2 6.6 -5.2 6.6z"/><path d="M1356.6 1383.1l5.2 -6.6 5.2 6.6 -5.2 6.6z"/><path d="M1362.6 1394.6l5.2 -6.6 5.2 6.6 -5.2 6.6z"/><path d="M1362.6 1394.6l5.2 -6.6 5.2 6.6 -5.2 6.6z"/><path d="M1304.0 1388.5l5.2 -6.6 5.2 6.6 -5.2 6.6z"/><path d="M1315.4 1390.0l5.2 -6.6 5.2 6.6 -5.2 6.6z"/><path d="M1325.3 1400.7l5.2 -6.6 5.2 6.6 -5.2 6.6z"/><path d="M1325.3 1400.7l5.2 -6.6 5.2 6.6 -5.2 6.6z"/><path d="M1351.2 1412.8l5.2 -6.6 5.2 6.6 -5.2 6.6z"/><path d="M1357.3 1418.2l5.2 -6.6 5.2 6.6 -5.2 6.6z"/><path d="M1384.7 1413.6l5.2 -6.6 5.2 6.6 -5.2 6.6z"/><path d="M1387.8 1422.7l5.2 -6.6 5.2 6.6 -5.2 6.6z"/><path d="M1361.9 1427.3l5.2 -6.6 5.2 6.6 -5.2 6.6z"/><path d="M1368.0 1436.4l5.2 -6.6 5.2 6.6 -5.2 6.6z"/><path d="M1368.0 1436.4l5.2 -6.6 5.2 6.6 -5.2 6.6z"/><path d="M1293.4 1436.4l5.2 -6.6 5.2 6.6 -5.2 6.6z"/><path d="M1293.4 1436.4l5.2 -6.6 5.2 6.6 -5.2 6.6z"/><path d="M1304.8 1436.4l5.2 -6.6 5.2 6.6 -5.2 6.6z"/><path d="M1327.6 1441.8l5.2 -6.6 5.2 6.6 -5.2 6.6z"/><path d="M1342.8 1442.5l5.2 -6.6 5.2 6.6 -5.2 6.6z"/><path d="M1342.8 1456.2l5.2 -6.6 5.2 6.6 -5.2 6.6z"/><path d="M1364.9 1453.2l5.2 -6.6 5.2 6.6 -5.2 6.6z"/><path d="M1364.9 1466.9l5.2 -6.6 5.2 6.6 -5.2 6.6z"/><path d="M1383.2 1445.6l5.2 -6.6 5.2 6.6 -5.2 6.6z"/><path d="M1383.2 1460.8l5.2 -6.6 5.2 6.6 -5.2 6.6z"/><path d="M1383.2 1473.0l5.2 -6.6 5.2 6.6 -5.2 6.6z"/><path d="M1420.5 1280.4l5.2 -6.6 5.2 6.6 -5.2 6.6z"/><path d="M1420.5 1292.5l5.2 -6.6 5.2 6.6 -5.2 6.6z"/><path d="M1422.8 1299.4l5.2 -6.6 5.2 6.6 -5.2 6.6z"/><path d="M1433.5 1268.2l5.2 -6.6 5.2 6.6 -5.2 6.6z"/><path d="M1420.5 1320.7l5.2 -6.6 5.2 6.6 -5.2 6.6z"/><path d="M1420.5 1331.4l5.2 -6.6 5.2 6.6 -5.2 6.6z"/><path d="M1420.5 1340.5l5.2 -6.6 5.2 6.6 -5.2 6.6z"/><path d="M1420.5 1358.8l5.2 -6.6 5.2 6.6 -5.2 6.6z"/><path d="M1420.5 1358.8l5.2 -6.6 5.2 6.6 -5.2 6.6z"/><path d="M1420.5 1358.8l5.2 -6.6 5.2 6.6 -5.2 6.6z"/><path d="M1420.5 1366.4l5.2 -6.6 5.2 6.6 -5.2 6.6z"/><path d="M1433.5 1340.5l5.2 -6.6 5.2 6.6 -5.2 6.6z"/><path d="M1433.5 1358.8l5.2 -6.6 5.2 6.6 -5.2 6.6z"/><path d="M1433.5 1377.1l5.2 -6.6 5.2 6.6 -5.2 6.6z"/><path d="M1433.5 1377.1l5.2 -6.6 5.2 6.6 -5.2 6.6z"/><path d="M1441.1 1377.1l5.2 -6.6 5.2 6.6 -5.2 6.6z"/><path d="M1409.9 1390.8l5.2 -6.6 5.2 6.6 -5.2 6.6z"/><path d="M1409.9 1407.5l5.2 -6.6 5.2 6.6 -5.2 6.6z"/><path d="M1409.9 1424.3l5.2 -6.6 5.2 6.6 -5.2 6.6z"/><path d="M1409.9 1424.3l5.2 -6.6 5.2 6.6 -5.2 6.6z"/><path d="M1409.9 1424.3l5.2 -6.6 5.2 6.6 -5.2 6.6z"/><path d="M1409.9 1436.4l5.2 -6.6 5.2 6.6 -5.2 6.6z"/><path d="M1409.9 1436.4l5.2 -6.6 5.2 6.6 -5.2 6.6z"/><path d="M1409.9 1448.6l5.2 -6.6 5.2 6.6 -5.2 6.6z"/><path d="M1409.9 1448.6l5.2 -6.6 5.2 6.6 -5.2 6.6z"/><path d="M1409.9 1448.6l5.2 -6.6 5.2 6.6 -5.2 6.6z"/><path d="M1409.9 1460.8l5.2 -6.6 5.2 6.6 -5.2 6.6z"/><path d="M1409.9 1460.8l5.2 -6.6 5.2 6.6 -5.2 6.6z"/><path d="M1409.9 1460.8l5.2 -6.6 5.2 6.6 -5.2 6.6z"/><path d="M1409.9 1473.0l5.2 -6.6 5.2 6.6 -5.2 6.6z"/><path d="M1409.9 1473.0l5.2 -6.6 5.2 6.6 -5.2 6.6z"/><path d="M1409.9 1473.0l5.2 -6.6 5.2 6.6 -5.2 6.6z"/><path d="M1419.7 1406.0l5.2 -6.6 5.2 6.6 -5.2 6.6z"/><path d="M1419.7 1392.3l5.2 -6.6 5.2 6.6 -5.2 6.6z"/><path d="M1401.5 1377.8l5.2 -6.6 5.2 6.6 -5.2 6.6z"/><path d="M1431.9 1386.2l5.2 -6.6 5.2 6.6 -5.2 6.6z"/><path d="M1431.9 1399.9l5.2 -6.6 5.2 6.6 -5.2 6.6z"/><path d="M1431.9 1415.1l5.2 -6.6 5.2 6.6 -5.2 6.6z"/><path d="M1421.3 1468.4l5.2 -6.6 5.2 6.6 -5.2 6.6z"/><path d="M1439.5 1473.0l5.2 -6.6 5.2 6.6 -5.2 6.6z"/><path d="M1487.3 1136.9l5.2 -6.6 5.2 6.6 -5.2 6.6z"/><path d="M1498.0 1133.0l5.2 -6.6 5.2 6.6 -5.2 6.6z"/><path d="M1497.2 1153.6l5.2 -6.6 5.2 6.6 -5.2 6.6z"/><path d="M1507.9 1165.8l5.2 -6.6 5.2 6.6 -5.2 6.6z"/><path d="M1507.9 1170.4l5.2 -6.6 5.2 6.6 -5.2 6.6z"/><path d="M1498.0 1178.0l5.2 -6.6 5.2 6.6 -5.2 6.6z"/><path d="M1508.7 1183.3l5.2 -6.6 5.2 6.6 -5.2 6.6z"/><path d="M1487.3 1190.2l5.2 -6.6 5.2 6.6 -5.2 6.6z"/><path d="M1476.7 1195.5l5.2 -6.6 5.2 6.6 -5.2 6.6z"/><path d="M1476.7 1207.7l5.2 -6.6 5.2 6.6 -5.2 6.6z"/><path d="M1464.5 1224.4l5.2 -6.6 5.2 6.6 -5.2 6.6z"/><path d="M1464.5 1232.8l5.2 -6.6 5.2 6.6 -5.2 6.6z"/><path d="M1464.5 1232.8l5.2 -6.6 5.2 6.6 -5.2 6.6z"/><path d="M1506.4 1219.8l5.2 -6.6 5.2 6.6 -5.2 6.6z"/><path d="M1528.5 1207.7l5.2 -6.6 5.2 6.6 -5.2 6.6z"/><path d="M1528.5 1207.7l5.2 -6.6 5.2 6.6 -5.2 6.6z"/><path d="M1528.5 1207.7l5.2 -6.6 5.2 6.6 -5.2 6.6z"/><path d="M1517.0 1245.0l5.2 -6.6 5.2 6.6 -5.2 6.6z"/><path d="M1517.0 1251.1l5.2 -6.6 5.2 6.6 -5.2 6.6z"/><path d="M1529.2 1245.0l5.2 -6.6 5.2 6.6 -5.2 6.6z"/><path d="M1529.2 1245.0l5.2 -6.6 5.2 6.6 -5.2 6.6z"/><path d="M1529.2 1245.0l5.2 -6.6 5.2 6.6 -5.2 6.6z"/><path d="M1529.2 1251.1l5.2 -6.6 5.2 6.6 -5.2 6.6z"/><path d="M1435.6 1268.6l5.2 -6.6 5.2 6.6 -5.2 6.6z"/><path d="M1465.3 1264.0l5.2 -6.6 5.2 6.6 -5.2 6.6z"/><path d="M1465.3 1268.6l5.2 -6.6 5.2 6.6 -5.2 6.6z"/><path d="M1493.4 1280.0l5.2 -6.6 5.2 6.6 -5.2 6.6z"/><path d="M1443.9 1302.1l5.2 -6.6 5.2 6.6 -5.2 6.6z"/><path d="M1443.9 1302.1l5.2 -6.6 5.2 6.6 -5.2 6.6z"/><path d="M1453.1 1309.7l5.2 -6.6 5.2 6.6 -5.2 6.6z"/><path d="M1453.1 1321.9l5.2 -6.6 5.2 6.6 -5.2 6.6z"/><path d="M1453.1 1340.2l5.2 -6.6 5.2 6.6 -5.2 6.6z"/><path d="M1475.9 1340.2l5.2 -6.6 5.2 6.6 -5.2 6.6z"/><path d="M1486.6 1317.3l5.2 -6.6 5.2 6.6 -5.2 6.6z"/><path d="M1493.4 1305.1l5.2 -6.6 5.2 6.6 -5.2 6.6z"/><path d="M1493.4 1332.5l5.2 -6.6 5.2 6.6 -5.2 6.6z"/><path d="M1517.0 1337.1l5.2 -6.6 5.2 6.6 -5.2 6.6z"/><path d="M1539.9 1136.1l5.2 -6.6 5.2 6.6 -5.2 6.6z"/><path d="M1539.9 1136.1l5.2 -6.6 5.2 6.6 -5.2 6.6z"/><path d="M1550.5 1133.0l5.2 -6.6 5.2 6.6 -5.2 6.6z"/><path d="M1559.7 1136.1l5.2 -6.6 5.2 6.6 -5.2 6.6z"/><path d="M1550.5 1153.6l5.2 -6.6 5.2 6.6 -5.2 6.6z"/><path d="M1550.5 1153.6l5.2 -6.6 5.2 6.6 -5.2 6.6z"/><path d="M1540.6 1160.5l5.2 -6.6 5.2 6.6 -5.2 6.6z"/><path d="M1570.3 1142.2l5.2 -6.6 5.2 6.6 -5.2 6.6z"/><path d="M1570.3 1159.7l5.2 -6.6 5.2 6.6 -5.2 6.6z"/><path d="M1582.5 1136.1l5.2 -6.6 5.2 6.6 -5.2 6.6z"/><path d="M1582.5 1147.5l5.2 -6.6 5.2 6.6 -5.2 6.6z"/><path d="M1582.5 1147.5l5.2 -6.6 5.2 6.6 -5.2 6.6z"/><path d="M1593.2 1136.1l5.2 -6.6 5.2 6.6 -5.2 6.6z"/><path d="M1603.8 1137.6l5.2 -6.6 5.2 6.6 -5.2 6.6z"/><path d="M1604.6 1145.2l5.2 -6.6 5.2 6.6 -5.2 6.6z"/><path d="M1603.8 1154.4l5.2 -6.6 5.2 6.6 -5.2 6.6z"/><path d="M1602.3 1162.7l5.2 -6.6 5.2 6.6 -5.2 6.6z"/><path d="M1614.5 1159.7l5.2 -6.6 5.2 6.6 -5.2 6.6z"/><path d="M1591.7 1171.1l5.2 -6.6 5.2 6.6 -5.2 6.6z"/><path d="M1551.3 1171.1l5.2 -6.6 5.2 6.6 -5.2 6.6z"/><path d="M1551.3 1177.2l5.2 -6.6 5.2 6.6 -5.2 6.6z"/><path d="M1573.4 1189.4l5.2 -6.6 5.2 6.6 -5.2 6.6z"/><path d="M1592.4 1190.2l5.2 -6.6 5.2 6.6 -5.2 6.6z"/><path d="M1592.4 1197.0l5.2 -6.6 5.2 6.6 -5.2 6.6z"/><path d="M1559.7 1201.6l5.2 -6.6 5.2 6.6 -5.2 6.6z"/><path d="M1550.5 1213.8l5.2 -6.6 5.2 6.6 -5.2 6.6z"/><path d="M1559.7 1219.8l5.2 -6.6 5.2 6.6 -5.2 6.6z"/><path d="M1581.0 1224.4l5.2 -6.6 5.2 6.6 -5.2 6.6z"/><path d="M1581.0 1231.3l5.2 -6.6 5.2 6.6 -5.2 6.6z"/><path d="M1592.4 1213.8l5.2 -6.6 5.2 6.6 -5.2 6.6z"/><path d="M1592.4 1219.8l5.2 -6.6 5.2 6.6 -5.2 6.6z"/><path d="M1591.7 1244.2l5.2 -6.6 5.2 6.6 -5.2 6.6z"/><path d="M1613.7 1180.3l5.2 -6.6 5.2 6.6 -5.2 6.6z"/><path d="M1613.7 1187.1l5.2 -6.6 5.2 6.6 -5.2 6.6z"/><path d="M1615.3 1206.1l5.2 -6.6 5.2 6.6 -5.2 6.6z"/><path d="M1615.3 1213.8l5.2 -6.6 5.2 6.6 -5.2 6.6z"/><path d="M1625.2 1215.3l5.2 -6.6 5.2 6.6 -5.2 6.6z"/><path d="M1625.2 1224.4l5.2 -6.6 5.2 6.6 -5.2 6.6z"/><path d="M1625.2 1224.4l5.2 -6.6 5.2 6.6 -5.2 6.6z"/><path d="M1613.0 1261.7l5.2 -6.6 5.2 6.6 -5.2 6.6z"/><path d="M1601.6 1273.9l5.2 -6.6 5.2 6.6 -5.2 6.6z"/><path d="M1607.6 1280.8l5.2 -6.6 5.2 6.6 -5.2 6.6z"/><path d="M1612.2 1286.9l5.2 -6.6 5.2 6.6 -5.2 6.6z"/><path d="M1538.4 1268.6l5.2 -6.6 5.2 6.6 -5.2 6.6z"/><path d="M1568.8 1303.6l5.2 -6.6 5.2 6.6 -5.2 6.6z"/><path d="M1568.8 1312.7l5.2 -6.6 5.2 6.6 -5.2 6.6z"/><path d="M1568.8 1324.9l5.2 -6.6 5.2 6.6 -5.2 6.6z"/><path d="M1587.1 1323.4l5.2 -6.6 5.2 6.6 -5.2 6.6z"/><path d="M1623.6 1321.9l5.2 -6.6 5.2 6.6 -5.2 6.6z"/><path d="M1635.8 1137.6l5.2 -6.6 5.2 6.6 -5.2 6.6z"/><path d="M1635.8 1137.6l5.2 -6.6 5.2 6.6 -5.2 6.6z"/><path d="M1637.3 1145.2l5.2 -6.6 5.2 6.6 -5.2 6.6z"/><path d="M1648.0 1154.4l5.2 -6.6 5.2 6.6 -5.2 6.6z"/><path d="M1657.1 1140.7l5.2 -6.6 5.2 6.6 -5.2 6.6z"/><path d="M1657.1 1146.8l5.2 -6.6 5.2 6.6 -5.2 6.6z"/><path d="M1658.7 1154.4l5.2 -6.6 5.2 6.6 -5.2 6.6z"/><path d="M1658.7 1154.4l5.2 -6.6 5.2 6.6 -5.2 6.6z"/><path d="M1657.1 1166.5l5.2 -6.6 5.2 6.6 -5.2 6.6z"/><path d="M1657.1 1166.5l5.2 -6.6 5.2 6.6 -5.2 6.6z"/><path d="M1690.6 1149.8l5.2 -6.6 5.2 6.6 -5.2 6.6z"/><path d="M1690.6 1155.1l5.2 -6.6 5.2 6.6 -5.2 6.6z"/><path d="M1678.5 1183.3l5.2 -6.6 5.2 6.6 -5.2 6.6z"/><path d="M1678.5 1190.9l5.2 -6.6 5.2 6.6 -5.2 6.6z"/><path d="M1678.5 1197.0l5.2 -6.6 5.2 6.6 -5.2 6.6z"/><path d="M1689.1 1177.2l5.2 -6.6 5.2 6.6 -5.2 6.6z"/><path d="M1689.1 1183.3l5.2 -6.6 5.2 6.6 -5.2 6.6z"/><path d="M1689.1 1183.3l5.2 -6.6 5.2 6.6 -5.2 6.6z"/><path d="M1689.1 1189.4l5.2 -6.6 5.2 6.6 -5.2 6.6z"/><path d="M1689.1 1189.4l5.2 -6.6 5.2 6.6 -5.2 6.6z"/><path d="M1689.1 1189.4l5.2 -6.6 5.2 6.6 -5.2 6.6z"/><path d="M1689.1 1195.5l5.2 -6.6 5.2 6.6 -5.2 6.6z"/><path d="M1689.1 1195.5l5.2 -6.6 5.2 6.6 -5.2 6.6z"/><path d="M1689.1 1195.5l5.2 -6.6 5.2 6.6 -5.2 6.6z"/><path d="M1689.1 1201.6l5.2 -6.6 5.2 6.6 -5.2 6.6z"/><path d="M1689.1 1201.6l5.2 -6.6 5.2 6.6 -5.2 6.6z"/><path d="M1678.5 1213.8l5.2 -6.6 5.2 6.6 -5.2 6.6z"/><path d="M1678.5 1219.8l5.2 -6.6 5.2 6.6 -5.2 6.6z"/><path d="M1656.4 1219.8l5.2 -6.6 5.2 6.6 -5.2 6.6z"/><path d="M1666.3 1232.0l5.2 -6.6 5.2 6.6 -5.2 6.6z"/><path d="M1666.3 1239.6l5.2 -6.6 5.2 6.6 -5.2 6.6z"/><path d="M1678.5 1239.6l5.2 -6.6 5.2 6.6 -5.2 6.6z"/><path d="M1678.5 1239.6l5.2 -6.6 5.2 6.6 -5.2 6.6z"/><path d="M1678.5 1251.8l5.2 -6.6 5.2 6.6 -5.2 6.6z"/><path d="M1700.5 1215.3l5.2 -6.6 5.2 6.6 -5.2 6.6z"/><path d="M1700.5 1219.8l5.2 -6.6 5.2 6.6 -5.2 6.6z"/><path d="M1700.5 1219.8l5.2 -6.6 5.2 6.6 -5.2 6.6z"/><path d="M1700.5 1251.8l5.2 -6.6 5.2 6.6 -5.2 6.6z"/><path d="M1700.5 1251.8l5.2 -6.6 5.2 6.6 -5.2 6.6z"/><path d="M1700.5 1259.4l5.2 -6.6 5.2 6.6 -5.2 6.6z"/><path d="M1721.9 1219.8l5.2 -6.6 5.2 6.6 -5.2 6.6z"/><path d="M1721.9 1229.0l5.2 -6.6 5.2 6.6 -5.2 6.6z"/><path d="M1731.8 1177.2l5.2 -6.6 5.2 6.6 -5.2 6.6z"/><path d="M1731.8 1189.4l5.2 -6.6 5.2 6.6 -5.2 6.6z"/><path d="M1731.8 1189.4l5.2 -6.6 5.2 6.6 -5.2 6.6z"/><path d="M1731.8 1215.3l5.2 -6.6 5.2 6.6 -5.2 6.6z"/><path d="M1731.8 1245.7l5.2 -6.6 5.2 6.6 -5.2 6.6z"/><path d="M1731.8 1245.7l5.2 -6.6 5.2 6.6 -5.2 6.6z"/><path d="M1710.4 1267.1l5.2 -6.6 5.2 6.6 -5.2 6.6z"/><path d="M1710.4 1282.3l5.2 -6.6 5.2 6.6 -5.2 6.6z"/><path d="M1710.4 1311.2l5.2 -6.6 5.2 6.6 -5.2 6.6z"/><path d="M1710.4 1311.2l5.2 -6.6 5.2 6.6 -5.2 6.6z"/><path d="M1643.4 1292.2l5.2 -6.6 5.2 6.6 -5.2 6.6z"/><path d="M1643.4 1292.2l5.2 -6.6 5.2 6.6 -5.2 6.6z"/><path d="M1643.4 1305.1l5.2 -6.6 5.2 6.6 -5.2 6.6z"/><path d="M1678.5 1291.4l5.2 -6.6 5.2 6.6 -5.2 6.6z"/><path d="M1678.5 1302.1l5.2 -6.6 5.2 6.6 -5.2 6.6z"/><path d="M1667.8 1267.1l5.2 -6.6 5.2 6.6 -5.2 6.6z"/><path d="M1623.6 1224.4l5.2 -6.6 5.2 6.6 -5.2 6.6z"/><path d="M1687.6 1338.6l5.2 -6.6 5.2 6.6 -5.2 6.6z"/><path d="M1721.1 1335.6l5.2 -6.6 5.2 6.6 -5.2 6.6z"/><path d="M1668.0 1027.7l5.2 -6.6 5.2 6.6 -5.2 6.6z"/><path d="M1668.8 1045.9l5.2 -6.6 5.2 6.6 -5.2 6.6z"/><path d="M1667.2 1069.5l5.2 -6.6 5.2 6.6 -5.2 6.6z"/><path d="M1658.9 1087.8l5.2 -6.6 5.2 6.6 -5.2 6.6z"/><path d="M1668.0 1087.1l5.2 -6.6 5.2 6.6 -5.2 6.6z"/><path d="M1669.5 1093.9l5.2 -6.6 5.2 6.6 -5.2 6.6z"/><path d="M1669.5 1100.0l5.2 -6.6 5.2 6.6 -5.2 6.6z"/><path d="M1645.9 1100.0l5.2 -6.6 5.2 6.6 -5.2 6.6z"/><path d="M1645.9 1106.1l5.2 -6.6 5.2 6.6 -5.2 6.6z"/><path d="M1645.9 1117.5l5.2 -6.6 5.2 6.6 -5.2 6.6z"/><path d="M1658.1 1117.5l5.2 -6.6 5.2 6.6 -5.2 6.6z"/><path d="M1655.8 1123.6l5.2 -6.6 5.2 6.6 -5.2 6.6z"/><path d="M1656.6 1141.9l5.2 -6.6 5.2 6.6 -5.2 6.6z"/><path d="M1656.6 1148.0l5.2 -6.6 5.2 6.6 -5.2 6.6z"/><path d="M1659.6 1154.1l5.2 -6.6 5.2 6.6 -5.2 6.6z"/><path d="M1648.2 1154.1l5.2 -6.6 5.2 6.6 -5.2 6.6z"/><path d="M1657.3 1166.2l5.2 -6.6 5.2 6.6 -5.2 6.6z"/><path d="M1657.3 1166.2l5.2 -6.6 5.2 6.6 -5.2 6.6z"/><path d="M1636.0 1135.8l5.2 -6.6 5.2 6.6 -5.2 6.6z"/><path d="M1636.0 1135.8l5.2 -6.6 5.2 6.6 -5.2 6.6z"/><path d="M1636.0 1157.1l5.2 -6.6 5.2 6.6 -5.2 6.6z"/><path d="M1614.7 1160.2l5.2 -6.6 5.2 6.6 -5.2 6.6z"/><path d="M1606.3 1140.4l5.2 -6.6 5.2 6.6 -5.2 6.6z"/><path d="M1606.3 1154.1l5.2 -6.6 5.2 6.6 -5.2 6.6z"/><path d="M1690.1 1151.0l5.2 -6.6 5.2 6.6 -5.2 6.6z"/><path d="M1690.1 1151.0l5.2 -6.6 5.2 6.6 -5.2 6.6z"/><path d="M1688.6 1176.9l5.2 -6.6 5.2 6.6 -5.2 6.6z"/><path d="M1688.6 1176.9l5.2 -6.6 5.2 6.6 -5.2 6.6z"/><path d="M1678.7 1183.0l5.2 -6.6 5.2 6.6 -5.2 6.6z"/><path d="M1613.9 1183.0l5.2 -6.6 5.2 6.6 -5.2 6.6z"/><path d="M1626.1 1177.7l5.2 -6.6 5.2 6.6 -5.2 6.6z"/><path d="M1742.6 1081.0l5.2 -6.6 5.2 6.6 -5.2 6.6z"/><path d="M1742.6 1087.8l5.2 -6.6 5.2 6.6 -5.2 6.6z"/><path d="M1742.6 1087.8l5.2 -6.6 5.2 6.6 -5.2 6.6z"/><path d="M1743.4 1105.3l5.2 -6.6 5.2 6.6 -5.2 6.6z"/><path d="M1743.4 1105.3l5.2 -6.6 5.2 6.6 -5.2 6.6z"/><path d="M1743.4 1111.4l5.2 -6.6 5.2 6.6 -5.2 6.6z"/><path d="M1743.4 1111.4l5.2 -6.6 5.2 6.6 -5.2 6.6z"/><path d="M1743.4 1111.4l5.2 -6.6 5.2 6.6 -5.2 6.6z"/><path d="M1743.4 1117.5l5.2 -6.6 5.2 6.6 -5.2 6.6z"/><path d="M1743.4 1117.5l5.2 -6.6 5.2 6.6 -5.2 6.6z"/><path d="M1743.4 1117.5l5.2 -6.6 5.2 6.6 -5.2 6.6z"/><path d="M1743.4 1125.1l5.2 -6.6 5.2 6.6 -5.2 6.6z"/><path d="M1741.9 1136.5l5.2 -6.6 5.2 6.6 -5.2 6.6z"/><path d="M1741.9 1148.0l5.2 -6.6 5.2 6.6 -5.2 6.6z"/><path d="M1732.0 1177.7l5.2 -6.6 5.2 6.6 -5.2 6.6z"/><path d="M1764.7 1076.4l5.2 -6.6 5.2 6.6 -5.2 6.6z"/><path d="M1765.5 1087.1l5.2 -6.6 5.2 6.6 -5.2 6.6z"/><path d="M1765.5 1099.2l5.2 -6.6 5.2 6.6 -5.2 6.6z"/><path d="M1764.7 1105.3l5.2 -6.6 5.2 6.6 -5.2 6.6z"/><path d="M1763.9 1129.7l5.2 -6.6 5.2 6.6 -5.2 6.6z"/><path d="M1763.9 1141.9l5.2 -6.6 5.2 6.6 -5.2 6.6z"/><path d="M1763.9 1160.2l5.2 -6.6 5.2 6.6 -5.2 6.6z"/><path d="M1775.4 1111.4l5.2 -6.6 5.2 6.6 -5.2 6.6z"/><path d="M1775.4 1135.8l5.2 -6.6 5.2 6.6 -5.2 6.6z"/><path d="M1775.4 1135.8l5.2 -6.6 5.2 6.6 -5.2 6.6z"/><path d="M1786.0 1094.7l5.2 -6.6 5.2 6.6 -5.2 6.6z"/><path d="M1786.0 1102.3l5.2 -6.6 5.2 6.6 -5.2 6.6z"/><path d="M1786.0 1111.4l5.2 -6.6 5.2 6.6 -5.2 6.6z"/><path d="M1786.0 1123.6l5.2 -6.6 5.2 6.6 -5.2 6.6z"/><path d="M1786.0 1123.6l5.2 -6.6 5.2 6.6 -5.2 6.6z"/><path d="M1795.9 1015.5l5.2 -6.6 5.2 6.6 -5.2 6.6z"/><path d="M1795.9 1063.5l5.2 -6.6 5.2 6.6 -5.2 6.6z"/><path d="M1797.4 1148.0l5.2 -6.6 5.2 6.6 -5.2 6.6z"/><path d="M1797.4 1170.8l5.2 -6.6 5.2 6.6 -5.2 6.6z"/><path d="M1797.4 1183.0l5.2 -6.6 5.2 6.6 -5.2 6.6z"/><path d="M1817.2 1154.1l5.2 -6.6 5.2 6.6 -5.2 6.6z"/><path d="M1817.2 1178.4l5.2 -6.6 5.2 6.6 -5.2 6.6z"/><path d="M1827.9 1129.7l5.2 -6.6 5.2 6.6 -5.2 6.6z"/><path d="M1830.2 1178.4l5.2 -6.6 5.2 6.6 -5.2 6.6z"/><path d="M1839.3 1166.2l5.2 -6.6 5.2 6.6 -5.2 6.6z"/><path d="M1839.3 1166.2l5.2 -6.6 5.2 6.6 -5.2 6.6z"/><path d="M1840.1 1183.0l5.2 -6.6 5.2 6.6 -5.2 6.6z"/><path d="M1850.0 1129.7l5.2 -6.6 5.2 6.6 -5.2 6.6z"/><path d="M1850.0 1136.5l5.2 -6.6 5.2 6.6 -5.2 6.6z"/><path d="M1861.4 1148.0l5.2 -6.6 5.2 6.6 -5.2 6.6z"/><path d="M1861.4 1148.0l5.2 -6.6 5.2 6.6 -5.2 6.6z"/><path d="M1870.5 1137.3l5.2 -6.6 5.2 6.6 -5.2 6.6z"/><path d="M1870.5 1137.3l5.2 -6.6 5.2 6.6 -5.2 6.6z"/><path d="M1872.1 1117.5l5.2 -6.6 5.2 6.6 -5.2 6.6z"/><path d="M1871.3 1143.4l5.2 -6.6 5.2 6.6 -5.2 6.6z"/><path d="M1882.0 1181.5l5.2 -6.6 5.2 6.6 -5.2 6.6z"/><path d="M1893.4 1166.2l5.2 -6.6 5.2 6.6 -5.2 6.6z"/><path d="M1903.3 1111.4l5.2 -6.6 5.2 6.6 -5.2 6.6z"/><path d="M1903.3 1148.0l5.2 -6.6 5.2 6.6 -5.2 6.6z"/><path d="M1945.6 1096.7l5.2 -6.6 5.2 6.6 -5.2 6.6z"/><path d="M1935.7 1109.1l5.2 -6.6 5.2 6.6 -5.2 6.6z"/><path d="M1935.7 1118.2l5.2 -6.6 5.2 6.6 -5.2 6.6z"/><path d="M1946.4 1129.7l5.2 -6.6 5.2 6.6 -5.2 6.6z"/><path d="M1924.9 1099.2l5.2 -6.6 5.2 6.6 -5.2 6.6z"/><path d="M1924.9 1129.7l5.2 -6.6 5.2 6.6 -5.2 6.6z"/><path d="M1914.2 1140.4l5.2 -6.6 5.2 6.6 -5.2 6.6z"/><path d="M1914.2 1147.9l5.2 -6.6 5.2 6.6 -5.2 6.6z"/><path d="M1335.8 1082.0l5.2 -6.6 5.2 6.6 -5.2 6.6z"/><path d="M1337.8 1124.0l5.2 -6.6 5.2 6.6 -5.2 6.6z"/><path d="M1573.8 968.0l5.2 -6.6 5.2 6.6 -5.2 6.6z"/><path d="M1571.8 973.0l5.2 -6.6 5.2 6.6 -5.2 6.6z"/><path d="M1578.8 997.0l5.2 -6.6 5.2 6.6 -5.2 6.6z"/><path d="M1569.8 1021.0l5.2 -6.6 5.2 6.6 -5.2 6.6z"/><path d="M1559.8 1050.0l5.2 -6.6 5.2 6.6 -5.2 6.6z"/><path d="M1572.8 1050.0l5.2 -6.6 5.2 6.6 -5.2 6.6z"/><path d="M1581.8 1040.0l5.2 -6.6 5.2 6.6 -5.2 6.6z"/><path d="M1587.8 1040.0l5.2 -6.6 5.2 6.6 -5.2 6.6z"/><path d="M1664.8 1027.0l5.2 -6.6 5.2 6.6 -5.2 6.6z"/><path d="M1664.8 1065.0l5.2 -6.6 5.2 6.6 -5.2 6.6z"/><path d="M1666.8 1085.0l5.2 -6.6 5.2 6.6 -5.2 6.6z"/><path d="M1652.8 1090.0l5.2 -6.6 5.2 6.6 -5.2 6.6z"/><path d="M1658.8 1095.0l5.2 -6.6 5.2 6.6 -5.2 6.6z"/><path d="M1949.8 1350.0l5.2 -6.6 5.2 6.6 -5.2 6.6z"/><path d="M1952.8 1475.0l5.2 -6.6 5.2 6.6 -5.2 6.6z"/><path d="M1945.8 1098.0l5.2 -6.6 5.2 6.6 -5.2 6.6z"/><path d="M1945.8 1130.0l5.2 -6.6 5.2 6.6 -5.2 6.6z"/><path d="M1308.3 1490.6l5.2 -6.6 5.2 6.6 -5.2 6.6z"/><path d="M1335.9 1485.5l5.2 -6.6 5.2 6.6 -5.2 6.6z"/><path d="M1334.1 1502.9l5.2 -6.6 5.2 6.6 -5.2 6.6z"/><path d="M1340.1 1486.6l5.2 -6.6 5.2 6.6 -5.2 6.6z"/><path d="M1376.8 1486.9l5.2 -6.6 5.2 6.6 -5.2 6.6z"/><path d="M1385.3 1496.1l5.2 -6.6 5.2 6.6 -5.2 6.6z"/><path d="M1398.4 1481.0l5.2 -6.6 5.2 6.6 -5.2 6.6z"/><path d="M1411.1 1503.6l5.2 -6.6 5.2 6.6 -5.2 6.6z"/><path d="M1418.3 1503.7l5.2 -6.6 5.2 6.6 -5.2 6.6z"/><path d="M1425.7 1490.2l5.2 -6.6 5.2 6.6 -5.2 6.6z"/><path d="M1423.5 1491.6l5.2 -6.6 5.2 6.6 -5.2 6.6z"/><path d="M1435.4 1508.9l5.2 -6.6 5.2 6.6 -5.2 6.6z"/><path d="M1442.2 1507.4l5.2 -6.6 5.2 6.6 -5.2 6.6z"/><path d="M1449.2 1489.5l5.2 -6.6 5.2 6.6 -5.2 6.6z"/><path d="M1450.1 1483.9l5.2 -6.6 5.2 6.6 -5.2 6.6z"/><path d="M1458.8 1488.2l5.2 -6.6 5.2 6.6 -5.2 6.6z"/><path d="M1464.8 1498.4l5.2 -6.6 5.2 6.6 -5.2 6.6z"/><path d="M1483.1 1499.2l5.2 -6.6 5.2 6.6 -5.2 6.6z"/><path d="M1478.6 1481.8l5.2 -6.6 5.2 6.6 -5.2 6.6z"/><path d="M1485.1 1481.4l5.2 -6.6 5.2 6.6 -5.2 6.6z"/><path d="M1476.9 1487.7l5.2 -6.6 5.2 6.6 -5.2 6.6z"/><path d="M1486.7 1497.1l5.2 -6.6 5.2 6.6 -5.2 6.6z"/><path d="M1494.8 1502.8l5.2 -6.6 5.2 6.6 -5.2 6.6z"/><path d="M1492.8 1404.2l5.2 -6.6 5.2 6.6 -5.2 6.6z"/><path d="M1497.8 1478.6l5.2 -6.6 5.2 6.6 -5.2 6.6z"/><path d="M1500.1 1481.5l5.2 -6.6 5.2 6.6 -5.2 6.6z"/><path d="M1497.0 1483.7l5.2 -6.6 5.2 6.6 -5.2 6.6z"/><path d="M1500.7 1382.2l5.2 -6.6 5.2 6.6 -5.2 6.6z"/><path d="M1507.0 1421.5l5.2 -6.6 5.2 6.6 -5.2 6.6z"/><path d="M1497.1 1502.0l5.2 -6.6 5.2 6.6 -5.2 6.6z"/><path d="M1501.4 1424.6l5.2 -6.6 5.2 6.6 -5.2 6.6z"/><path d="M1511.1 1420.5l5.2 -6.6 5.2 6.6 -5.2 6.6z"/><path d="M1509.7 1498.5l5.2 -6.6 5.2 6.6 -5.2 6.6z"/><path d="M1516.2 1429.9l5.2 -6.6 5.2 6.6 -5.2 6.6z"/><path d="M1515.6 1513.5l5.2 -6.6 5.2 6.6 -5.2 6.6z"/><path d="M1512.7 1465.9l5.2 -6.6 5.2 6.6 -5.2 6.6z"/><path d="M1515.9 1512.5l5.2 -6.6 5.2 6.6 -5.2 6.6z"/><path d="M1516.3 1389.7l5.2 -6.6 5.2 6.6 -5.2 6.6z"/><path d="M1528.2 1464.5l5.2 -6.6 5.2 6.6 -5.2 6.6z"/><path d="M1520.4 1427.4l5.2 -6.6 5.2 6.6 -5.2 6.6z"/><path d="M1519.3 1500.2l5.2 -6.6 5.2 6.6 -5.2 6.6z"/><path d="M1526.5 1377.1l5.2 -6.6 5.2 6.6 -5.2 6.6z"/><path d="M1524.8 1510.3l5.2 -6.6 5.2 6.6 -5.2 6.6z"/><path d="M1527.6 1434.7l5.2 -6.6 5.2 6.6 -5.2 6.6z"/><path d="M1527.6 1373.7l5.2 -6.6 5.2 6.6 -5.2 6.6z"/><path d="M1531.0 1414.3l5.2 -6.6 5.2 6.6 -5.2 6.6z"/><path d="M1532.9 1473.6l5.2 -6.6 5.2 6.6 -5.2 6.6z"/><path d="M1533.7 1503.3l5.2 -6.6 5.2 6.6 -5.2 6.6z"/><path d="M1536.9 1401.6l5.2 -6.6 5.2 6.6 -5.2 6.6z"/><path d="M1532.5 1407.8l5.2 -6.6 5.2 6.6 -5.2 6.6z"/><path d="M1535.9 1484.7l5.2 -6.6 5.2 6.6 -5.2 6.6z"/><path d="M1533.5 1424.6l5.2 -6.6 5.2 6.6 -5.2 6.6z"/><path d="M1545.7 1380.0l5.2 -6.6 5.2 6.6 -5.2 6.6z"/><path d="M1544.4 1472.8l5.2 -6.6 5.2 6.6 -5.2 6.6z"/><path d="M1541.5 1496.4l5.2 -6.6 5.2 6.6 -5.2 6.6z"/><path d="M1541.1 1462.6l5.2 -6.6 5.2 6.6 -5.2 6.6z"/><path d="M1542.1 1497.9l5.2 -6.6 5.2 6.6 -5.2 6.6z"/><path d="M1543.0 1470.7l5.2 -6.6 5.2 6.6 -5.2 6.6z"/><path d="M1549.9 1421.6l5.2 -6.6 5.2 6.6 -5.2 6.6z"/><path d="M1551.3 1496.6l5.2 -6.6 5.2 6.6 -5.2 6.6z"/><path d="M1554.3 1375.7l5.2 -6.6 5.2 6.6 -5.2 6.6z"/><path d="M1558.0 1440.6l5.2 -6.6 5.2 6.6 -5.2 6.6z"/><path d="M1551.3 1393.4l5.2 -6.6 5.2 6.6 -5.2 6.6z"/><path d="M1554.3 1485.3l5.2 -6.6 5.2 6.6 -5.2 6.6z"/><path d="M1557.6 1409.5l5.2 -6.6 5.2 6.6 -5.2 6.6z"/><path d="M1556.9 1403.5l5.2 -6.6 5.2 6.6 -5.2 6.6z"/><path d="M1562.4 1443.7l5.2 -6.6 5.2 6.6 -5.2 6.6z"/><path d="M1568.8 1439.3l5.2 -6.6 5.2 6.6 -5.2 6.6z"/><path d="M1567.0 1440.9l5.2 -6.6 5.2 6.6 -5.2 6.6z"/><path d="M1568.1 1435.2l5.2 -6.6 5.2 6.6 -5.2 6.6z"/><path d="M1564.2 1414.7l5.2 -6.6 5.2 6.6 -5.2 6.6z"/><path d="M1572.6 1448.9l5.2 -6.6 5.2 6.6 -5.2 6.6z"/><path d="M1578.3 1478.6l5.2 -6.6 5.2 6.6 -5.2 6.6z"/><path d="M1576.1 1506.3l5.2 -6.6 5.2 6.6 -5.2 6.6z"/><path d="M1578.8 1482.4l5.2 -6.6 5.2 6.6 -5.2 6.6z"/><path d="M1578.6 1446.5l5.2 -6.6 5.2 6.6 -5.2 6.6z"/><path d="M1576.8 1507.6l5.2 -6.6 5.2 6.6 -5.2 6.6z"/><path d="M1577.4 1382.9l5.2 -6.6 5.2 6.6 -5.2 6.6z"/><path d="M1590.6 1423.8l5.2 -6.6 5.2 6.6 -5.2 6.6z"/><path d="M1583.3 1504.6l5.2 -6.6 5.2 6.6 -5.2 6.6z"/><path d="M1588.0 1425.0l5.2 -6.6 5.2 6.6 -5.2 6.6z"/><path d="M1589.1 1423.3l5.2 -6.6 5.2 6.6 -5.2 6.6z"/><path d="M1586.6 1477.7l5.2 -6.6 5.2 6.6 -5.2 6.6z"/><path d="M1589.6 1464.0l5.2 -6.6 5.2 6.6 -5.2 6.6z"/><path d="M1592.8 1396.2l5.2 -6.6 5.2 6.6 -5.2 6.6z"/><path d="M1593.5 1493.8l5.2 -6.6 5.2 6.6 -5.2 6.6z"/><path d="M1597.2 1513.1l5.2 -6.6 5.2 6.6 -5.2 6.6z"/><path d="M1600.4 1438.5l5.2 -6.6 5.2 6.6 -5.2 6.6z"/><path d="M1595.8 1473.1l5.2 -6.6 5.2 6.6 -5.2 6.6z"/><path d="M1598.6 1434.3l5.2 -6.6 5.2 6.6 -5.2 6.6z"/><path d="M1601.5 1459.5l5.2 -6.6 5.2 6.6 -5.2 6.6z"/><path d="M1601.2 1427.1l5.2 -6.6 5.2 6.6 -5.2 6.6z"/><path d="M1610.4 1438.5l5.2 -6.6 5.2 6.6 -5.2 6.6z"/><path d="M1609.6 1417.0l5.2 -6.6 5.2 6.6 -5.2 6.6z"/><path d="M1610.5 1372.0l5.2 -6.6 5.2 6.6 -5.2 6.6z"/><path d="M1608.6 1477.6l5.2 -6.6 5.2 6.6 -5.2 6.6z"/><path d="M1609.5 1440.8l5.2 -6.6 5.2 6.6 -5.2 6.6z"/><path d="M1612.7 1510.0l5.2 -6.6 5.2 6.6 -5.2 6.6z"/><path d="M1607.7 1389.2l5.2 -6.6 5.2 6.6 -5.2 6.6z"/><path d="M1618.9 1379.7l5.2 -6.6 5.2 6.6 -5.2 6.6z"/><path d="M1617.3 1464.7l5.2 -6.6 5.2 6.6 -5.2 6.6z"/><path d="M1617.5 1493.0l5.2 -6.6 5.2 6.6 -5.2 6.6z"/><path d="M1621.4 1432.7l5.2 -6.6 5.2 6.6 -5.2 6.6z"/><path d="M1624.2 1504.4l5.2 -6.6 5.2 6.6 -5.2 6.6z"/><path d="M1623.2 1377.6l5.2 -6.6 5.2 6.6 -5.2 6.6z"/><path d="M1615.8 1428.5l5.2 -6.6 5.2 6.6 -5.2 6.6z"/><path d="M1632.0 1456.6l5.2 -6.6 5.2 6.6 -5.2 6.6z"/><path d="M1626.1 1456.6l5.2 -6.6 5.2 6.6 -5.2 6.6z"/><path d="M1628.7 1373.1l5.2 -6.6 5.2 6.6 -5.2 6.6z"/><path d="M1634.7 1485.0l5.2 -6.6 5.2 6.6 -5.2 6.6z"/><path d="M1634.5 1378.1l5.2 -6.6 5.2 6.6 -5.2 6.6z"/><path d="M1642.8 1376.9l5.2 -6.6 5.2 6.6 -5.2 6.6z"/><path d="M1644.7 1489.6l5.2 -6.6 5.2 6.6 -5.2 6.6z"/><path d="M1643.6 1500.1l5.2 -6.6 5.2 6.6 -5.2 6.6z"/><path d="M1645.1 1469.8l5.2 -6.6 5.2 6.6 -5.2 6.6z"/><path d="M1637.2 1426.8l5.2 -6.6 5.2 6.6 -5.2 6.6z"/><path d="M1636.3 1427.5l5.2 -6.6 5.2 6.6 -5.2 6.6z"/><path d="M1651.7 1416.6l5.2 -6.6 5.2 6.6 -5.2 6.6z"/><path d="M1655.6 1433.4l5.2 -6.6 5.2 6.6 -5.2 6.6z"/><path d="M1650.4 1511.2l5.2 -6.6 5.2 6.6 -5.2 6.6z"/><path d="M1656.7 1512.3l5.2 -6.6 5.2 6.6 -5.2 6.6z"/><path d="M1646.7 1395.3l5.2 -6.6 5.2 6.6 -5.2 6.6z"/><path d="M1667.0 1504.0l5.2 -6.6 5.2 6.6 -5.2 6.6z"/><path d="M1667.6 1447.4l5.2 -6.6 5.2 6.6 -5.2 6.6z"/><path d="M1657.4 1405.3l5.2 -6.6 5.2 6.6 -5.2 6.6z"/><path d="M1660.7 1450.5l5.2 -6.6 5.2 6.6 -5.2 6.6z"/><path d="M1662.2 1455.1l5.2 -6.6 5.2 6.6 -5.2 6.6z"/><path d="M1665.3 1510.3l5.2 -6.6 5.2 6.6 -5.2 6.6z"/><path d="M1673.7 1463.2l5.2 -6.6 5.2 6.6 -5.2 6.6z"/><path d="M1676.6 1443.8l5.2 -6.6 5.2 6.6 -5.2 6.6z"/><path d="M1673.2 1415.6l5.2 -6.6 5.2 6.6 -5.2 6.6z"/><path d="M1674.8 1456.6l5.2 -6.6 5.2 6.6 -5.2 6.6z"/><path d="M1671.2 1472.1l5.2 -6.6 5.2 6.6 -5.2 6.6z"/><path d="M1674.0 1377.6l5.2 -6.6 5.2 6.6 -5.2 6.6z"/><path d="M1684.3 1468.1l5.2 -6.6 5.2 6.6 -5.2 6.6z"/><path d="M1680.5 1408.2l5.2 -6.6 5.2 6.6 -5.2 6.6z"/><path d="M1685.0 1405.0l5.2 -6.6 5.2 6.6 -5.2 6.6z"/><path d="M1685.9 1460.5l5.2 -6.6 5.2 6.6 -5.2 6.6z"/><path d="M1696.4 1496.0l5.2 -6.6 5.2 6.6 -5.2 6.6z"/><path d="M1697.3 1510.5l5.2 -6.6 5.2 6.6 -5.2 6.6z"/><path d="M1691.1 1447.8l5.2 -6.6 5.2 6.6 -5.2 6.6z"/><path d="M1696.2 1443.9l5.2 -6.6 5.2 6.6 -5.2 6.6z"/><path d="M1697.9 1416.3l5.2 -6.6 5.2 6.6 -5.2 6.6z"/><path d="M1691.9 1508.0l5.2 -6.6 5.2 6.6 -5.2 6.6z"/><path d="M1700.4 1443.8l5.2 -6.6 5.2 6.6 -5.2 6.6z"/><path d="M1700.3 1440.0l5.2 -6.6 5.2 6.6 -5.2 6.6z"/><path d="M1709.7 1496.6l5.2 -6.6 5.2 6.6 -5.2 6.6z"/><path d="M1700.0 1455.6l5.2 -6.6 5.2 6.6 -5.2 6.6z"/><path d="M1710.3 1492.8l5.2 -6.6 5.2 6.6 -5.2 6.6z"/><path d="M1714.9 1489.2l5.2 -6.6 5.2 6.6 -5.2 6.6z"/><path d="M1712.2 1495.7l5.2 -6.6 5.2 6.6 -5.2 6.6z"/><path d="M1710.6 1493.1l5.2 -6.6 5.2 6.6 -5.2 6.6z"/><path d="M1720.9 1446.8l5.2 -6.6 5.2 6.6 -5.2 6.6z"/><path d="M1710.7 1472.1l5.2 -6.6 5.2 6.6 -5.2 6.6z"/><path d="M1718.4 1487.0l5.2 -6.6 5.2 6.6 -5.2 6.6z"/><path d="M1721.8 1389.9l5.2 -6.6 5.2 6.6 -5.2 6.6z"/><path d="M1730.4 1499.6l5.2 -6.6 5.2 6.6 -5.2 6.6z"/><path d="M1727.9 1434.0l5.2 -6.6 5.2 6.6 -5.2 6.6z"/><path d="M1731.2 1382.4l5.2 -6.6 5.2 6.6 -5.2 6.6z"/><path d="M1721.3 1485.3l5.2 -6.6 5.2 6.6 -5.2 6.6z"/><path d="M1728.2 1500.4l5.2 -6.6 5.2 6.6 -5.2 6.6z"/><path d="M1735.2 1485.4l5.2 -6.6 5.2 6.6 -5.2 6.6z"/><path d="M1741.1 1418.0l5.2 -6.6 5.2 6.6 -5.2 6.6z"/><path d="M1738.1 1447.2l5.2 -6.6 5.2 6.6 -5.2 6.6z"/><path d="M1739.1 1451.1l5.2 -6.6 5.2 6.6 -5.2 6.6z"/><path d="M1738.8 1441.4l5.2 -6.6 5.2 6.6 -5.2 6.6z"/><path d="M1736.0 1349.6l5.2 -6.6 5.2 6.6 -5.2 6.6z"/><path d="M1740.3 1277.9l5.2 -6.6 5.2 6.6 -5.2 6.6z"/><path d="M1735.0 1199.4l5.2 -6.6 5.2 6.6 -5.2 6.6z"/><path d="M1742.3 1299.0l5.2 -6.6 5.2 6.6 -5.2 6.6z"/><path d="M1751.4 1513.2l5.2 -6.6 5.2 6.6 -5.2 6.6z"/><path d="M1749.1 1369.4l5.2 -6.6 5.2 6.6 -5.2 6.6z"/><path d="M1749.0 1460.4l5.2 -6.6 5.2 6.6 -5.2 6.6z"/><path d="M1746.6 1409.4l5.2 -6.6 5.2 6.6 -5.2 6.6z"/><path d="M1752.2 1464.9l5.2 -6.6 5.2 6.6 -5.2 6.6z"/><path d="M1742.6 1417.1l5.2 -6.6 5.2 6.6 -5.2 6.6z"/><path d="M1747.1 1280.9l5.2 -6.6 5.2 6.6 -5.2 6.6z"/><path d="M1751.3 1327.6l5.2 -6.6 5.2 6.6 -5.2 6.6z"/><path d="M1743.1 1319.2l5.2 -6.6 5.2 6.6 -5.2 6.6z"/><path d="M1762.0 1414.6l5.2 -6.6 5.2 6.6 -5.2 6.6z"/><path d="M1756.2 1373.6l5.2 -6.6 5.2 6.6 -5.2 6.6z"/><path d="M1760.6 1453.8l5.2 -6.6 5.2 6.6 -5.2 6.6z"/><path d="M1754.2 1455.6l5.2 -6.6 5.2 6.6 -5.2 6.6z"/><path d="M1761.3 1473.5l5.2 -6.6 5.2 6.6 -5.2 6.6z"/><path d="M1759.8 1433.2l5.2 -6.6 5.2 6.6 -5.2 6.6z"/><path d="M1755.5 1229.5l5.2 -6.6 5.2 6.6 -5.2 6.6z"/><path d="M1761.3 1312.7l5.2 -6.6 5.2 6.6 -5.2 6.6z"/><path d="M1758.2 1203.6l5.2 -6.6 5.2 6.6 -5.2 6.6z"/><path d="M1772.6 1473.7l5.2 -6.6 5.2 6.6 -5.2 6.6z"/><path d="M1770.2 1360.0l5.2 -6.6 5.2 6.6 -5.2 6.6z"/><path d="M1769.6 1500.8l5.2 -6.6 5.2 6.6 -5.2 6.6z"/><path d="M1770.3 1454.1l5.2 -6.6 5.2 6.6 -5.2 6.6z"/><path d="M1771.5 1434.3l5.2 -6.6 5.2 6.6 -5.2 6.6z"/><path d="M1770.0 1496.8l5.2 -6.6 5.2 6.6 -5.2 6.6z"/><path d="M1764.5 1344.6l5.2 -6.6 5.2 6.6 -5.2 6.6z"/><path d="M1768.0 1206.4l5.2 -6.6 5.2 6.6 -5.2 6.6z"/><path d="M1770.7 1312.0l5.2 -6.6 5.2 6.6 -5.2 6.6z"/><path d="M1776.3 1469.5l5.2 -6.6 5.2 6.6 -5.2 6.6z"/><path d="M1778.4 1452.2l5.2 -6.6 5.2 6.6 -5.2 6.6z"/><path d="M1785.3 1429.5l5.2 -6.6 5.2 6.6 -5.2 6.6z"/><path d="M1780.7 1464.4l5.2 -6.6 5.2 6.6 -5.2 6.6z"/><path d="M1783.0 1379.0l5.2 -6.6 5.2 6.6 -5.2 6.6z"/><path d="M1783.4 1470.0l5.2 -6.6 5.2 6.6 -5.2 6.6z"/><path d="M1775.1 1221.2l5.2 -6.6 5.2 6.6 -5.2 6.6z"/><path d="M1776.6 1203.0l5.2 -6.6 5.2 6.6 -5.2 6.6z"/><path d="M1775.2 1276.4l5.2 -6.6 5.2 6.6 -5.2 6.6z"/><path d="M1794.7 1496.7l5.2 -6.6 5.2 6.6 -5.2 6.6z"/><path d="M1795.5 1503.1l5.2 -6.6 5.2 6.6 -5.2 6.6z"/><path d="M1791.8 1366.3l5.2 -6.6 5.2 6.6 -5.2 6.6z"/><path d="M1788.1 1277.5l5.2 -6.6 5.2 6.6 -5.2 6.6z"/><path d="M1792.2 1338.2l5.2 -6.6 5.2 6.6 -5.2 6.6z"/><path d="M1792.5 1250.9l5.2 -6.6 5.2 6.6 -5.2 6.6z"/><path d="M1800.8 1372.5l5.2 -6.6 5.2 6.6 -5.2 6.6z"/><path d="M1806.4 1475.6l5.2 -6.6 5.2 6.6 -5.2 6.6z"/><path d="M1796.5 1492.5l5.2 -6.6 5.2 6.6 -5.2 6.6z"/><path d="M1805.7 1319.8l5.2 -6.6 5.2 6.6 -5.2 6.6z"/><path d="M1796.6 1311.9l5.2 -6.6 5.2 6.6 -5.2 6.6z"/><path d="M1803.6 1290.2l5.2 -6.6 5.2 6.6 -5.2 6.6z"/><path d="M1817.3 1372.6l5.2 -6.6 5.2 6.6 -5.2 6.6z"/><path d="M1808.3 1350.5l5.2 -6.6 5.2 6.6 -5.2 6.6z"/><path d="M1814.0 1485.9l5.2 -6.6 5.2 6.6 -5.2 6.6z"/><path d="M1807.9 1240.2l5.2 -6.6 5.2 6.6 -5.2 6.6z"/><path d="M1809.5 1209.2l5.2 -6.6 5.2 6.6 -5.2 6.6z"/><path d="M1811.9 1216.1l5.2 -6.6 5.2 6.6 -5.2 6.6z"/><path d="M1820.0 1512.9l5.2 -6.6 5.2 6.6 -5.2 6.6z"/><path d="M1824.7 1473.5l5.2 -6.6 5.2 6.6 -5.2 6.6z"/><path d="M1817.8 1475.8l5.2 -6.6 5.2 6.6 -5.2 6.6z"/><path d="M1827.4 1324.3l5.2 -6.6 5.2 6.6 -5.2 6.6z"/><path d="M1826.9 1211.7l5.2 -6.6 5.2 6.6 -5.2 6.6z"/><path d="M1822.2 1205.0l5.2 -6.6 5.2 6.6 -5.2 6.6z"/><path d="M1838.0 1404.7l5.2 -6.6 5.2 6.6 -5.2 6.6z"/><path d="M1833.0 1501.1l5.2 -6.6 5.2 6.6 -5.2 6.6z"/><path d="M1836.9 1487.0l5.2 -6.6 5.2 6.6 -5.2 6.6z"/><path d="M1830.5 1198.8l5.2 -6.6 5.2 6.6 -5.2 6.6z"/><path d="M1835.7 1275.8l5.2 -6.6 5.2 6.6 -5.2 6.6z"/><path d="M1829.7 1325.0l5.2 -6.6 5.2 6.6 -5.2 6.6z"/><path d="M1841.7 1487.9l5.2 -6.6 5.2 6.6 -5.2 6.6z"/><path d="M1840.5 1440.2l5.2 -6.6 5.2 6.6 -5.2 6.6z"/><path d="M1840.6 1507.5l5.2 -6.6 5.2 6.6 -5.2 6.6z"/><path d="M1842.2 1330.0l5.2 -6.6 5.2 6.6 -5.2 6.6z"/><path d="M1840.0 1341.7l5.2 -6.6 5.2 6.6 -5.2 6.6z"/><path d="M1839.4 1328.7l5.2 -6.6 5.2 6.6 -5.2 6.6z"/><path d="M1856.6 1510.2l5.2 -6.6 5.2 6.6 -5.2 6.6z"/><path d="M1852.3 1459.9l5.2 -6.6 5.2 6.6 -5.2 6.6z"/><path d="M1853.4 1340.3l5.2 -6.6 5.2 6.6 -5.2 6.6z"/><path d="M1859.4 1205.1l5.2 -6.6 5.2 6.6 -5.2 6.6z"/><path d="M1852.6 1328.9l5.2 -6.6 5.2 6.6 -5.2 6.6z"/><path d="M1850.1 1302.6l5.2 -6.6 5.2 6.6 -5.2 6.6z"/><path d="M1863.3 1511.5l5.2 -6.6 5.2 6.6 -5.2 6.6z"/><path d="M1868.8 1464.1l5.2 -6.6 5.2 6.6 -5.2 6.6z"/><path d="M1869.1 1463.6l5.2 -6.6 5.2 6.6 -5.2 6.6z"/><path d="M1862.2 1257.5l5.2 -6.6 5.2 6.6 -5.2 6.6z"/><path d="M1869.9 1223.8l5.2 -6.6 5.2 6.6 -5.2 6.6z"/><path d="M1866.3 1211.4l5.2 -6.6 5.2 6.6 -5.2 6.6z"/><path d="M1872.8 1390.2l5.2 -6.6 5.2 6.6 -5.2 6.6z"/><path d="M1873.0 1403.0l5.2 -6.6 5.2 6.6 -5.2 6.6z"/><path d="M1876.2 1427.5l5.2 -6.6 5.2 6.6 -5.2 6.6z"/><path d="M1873.1 1284.9l5.2 -6.6 5.2 6.6 -5.2 6.6z"/><path d="M1878.4 1315.8l5.2 -6.6 5.2 6.6 -5.2 6.6z"/><path d="M1877.1 1221.4l5.2 -6.6 5.2 6.6 -5.2 6.6z"/><path d="M1882.3 1443.1l5.2 -6.6 5.2 6.6 -5.2 6.6z"/><path d="M1889.3 1448.0l5.2 -6.6 5.2 6.6 -5.2 6.6z"/><path d="M1890.6 1428.3l5.2 -6.6 5.2 6.6 -5.2 6.6z"/><path d="M1881.7 1331.1l5.2 -6.6 5.2 6.6 -5.2 6.6z"/><path d="M1886.7 1325.2l5.2 -6.6 5.2 6.6 -5.2 6.6z"/><path d="M1884.4 1218.8l5.2 -6.6 5.2 6.6 -5.2 6.6z"/><path d="M1901.2 1511.6l5.2 -6.6 5.2 6.6 -5.2 6.6z"/><path d="M1894.0 1470.5l5.2 -6.6 5.2 6.6 -5.2 6.6z"/><path d="M1897.8 1469.1l5.2 -6.6 5.2 6.6 -5.2 6.6z"/><path d="M1897.8 1208.7l5.2 -6.6 5.2 6.6 -5.2 6.6z"/><path d="M1899.9 1316.6l5.2 -6.6 5.2 6.6 -5.2 6.6z"/><path d="M1901.5 1239.8l5.2 -6.6 5.2 6.6 -5.2 6.6z"/><path d="M1910.6 1466.0l5.2 -6.6 5.2 6.6 -5.2 6.6z"/><path d="M1912.3 1428.0l5.2 -6.6 5.2 6.6 -5.2 6.6z"/><path d="M1908.4 1485.4l5.2 -6.6 5.2 6.6 -5.2 6.6z"/><path d="M1908.7 1193.2l5.2 -6.6 5.2 6.6 -5.2 6.6z"/><path d="M1913.3 1224.7l5.2 -6.6 5.2 6.6 -5.2 6.6z"/><path d="M1904.9 1205.9l5.2 -6.6 5.2 6.6 -5.2 6.6z"/><path d="M1916.3 1509.1l5.2 -6.6 5.2 6.6 -5.2 6.6z"/><path d="M1914.7 1480.3l5.2 -6.6 5.2 6.6 -5.2 6.6z"/><path d="M1913.8 1504.0l5.2 -6.6 5.2 6.6 -5.2 6.6z"/><path d="M1921.2 1205.9l5.2 -6.6 5.2 6.6 -5.2 6.6z"/><path d="M1922.9 1301.2l5.2 -6.6 5.2 6.6 -5.2 6.6z"/><path d="M1914.1 1209.1l5.2 -6.6 5.2 6.6 -5.2 6.6z"/><path d="M1929.6 1496.6l5.2 -6.6 5.2 6.6 -5.2 6.6z"/><path d="M1927.3 1490.6l5.2 -6.6 5.2 6.6 -5.2 6.6z"/><path d="M1930.7 1488.6l5.2 -6.6 5.2 6.6 -5.2 6.6z"/><path d="M1930.5 1305.7l5.2 -6.6 5.2 6.6 -5.2 6.6z"/><path d="M1926.1 1318.0l5.2 -6.6 5.2 6.6 -5.2 6.6z"/><path d="M1934.4 1250.3l5.2 -6.6 5.2 6.6 -5.2 6.6z"/><path d="M1939.5 1422.7l5.2 -6.6 5.2 6.6 -5.2 6.6z"/><path d="M1939.2 1378.8l5.2 -6.6 5.2 6.6 -5.2 6.6z"/><path d="M1938.6 1449.8l5.2 -6.6 5.2 6.6 -5.2 6.6z"/><path d="M1938.6 1257.5l5.2 -6.6 5.2 6.6 -5.2 6.6z"/><path d="M1945.5 1314.7l5.2 -6.6 5.2 6.6 -5.2 6.6z"/><path d="M1944.8 1316.3l5.2 -6.6 5.2 6.6 -5.2 6.6z"/><path d="M1409.6 1509.1l5.2 -6.6 5.2 6.6 -5.2 6.6z"/><path d="M1406.1 1422.2l5.2 -6.6 5.2 6.6 -5.2 6.6z"/><path d="M1410.5 1490.3l5.2 -6.6 5.2 6.6 -5.2 6.6z"/><path d="M1407.4 1515.1l5.2 -6.6 5.2 6.6 -5.2 6.6z"/><path d="M1416.9 1507.6l5.2 -6.6 5.2 6.6 -5.2 6.6z"/><path d="M1415.8 1465.7l5.2 -6.6 5.2 6.6 -5.2 6.6z"/><path d="M1411.4 1500.9l5.2 -6.6 5.2 6.6 -5.2 6.6z"/><path d="M1430.2 1424.2l5.2 -6.6 5.2 6.6 -5.2 6.6z"/><path d="M1428.7 1436.5l5.2 -6.6 5.2 6.6 -5.2 6.6z"/><path d="M1431.4 1429.2l5.2 -6.6 5.2 6.6 -5.2 6.6z"/><path d="M1428.8 1514.6l5.2 -6.6 5.2 6.6 -5.2 6.6z"/><path d="M1439.8 1488.0l5.2 -6.6 5.2 6.6 -5.2 6.6z"/><path d="M1438.4 1425.4l5.2 -6.6 5.2 6.6 -5.2 6.6z"/><path d="M1439.2 1490.2l5.2 -6.6 5.2 6.6 -5.2 6.6z"/><path d="M1447.9 1422.8l5.2 -6.6 5.2 6.6 -5.2 6.6z"/><path d="M1446.4 1484.9l5.2 -6.6 5.2 6.6 -5.2 6.6z"/><path d="M1450.2 1502.7l5.2 -6.6 5.2 6.6 -5.2 6.6z"/><path d="M1464.2 1464.9l5.2 -6.6 5.2 6.6 -5.2 6.6z"/><path d="M1456.8 1469.4l5.2 -6.6 5.2 6.6 -5.2 6.6z"/><path d="M1459.7 1500.0l5.2 -6.6 5.2 6.6 -5.2 6.6z"/><path d="M1457.1 1514.8l5.2 -6.6 5.2 6.6 -5.2 6.6z"/><path d="M1469.0 1486.6l5.2 -6.6 5.2 6.6 -5.2 6.6z"/><path d="M1467.3 1505.8l5.2 -6.6 5.2 6.6 -5.2 6.6z"/><path d="M1470.5 1433.5l5.2 -6.6 5.2 6.6 -5.2 6.6z"/><path d="M1481.4 1451.7l5.2 -6.6 5.2 6.6 -5.2 6.6z"/><path d="M1477.5 1446.0l5.2 -6.6 5.2 6.6 -5.2 6.6z"/><path d="M1480.3 1461.6l5.2 -6.6 5.2 6.6 -5.2 6.6z"/><path d="M1491.1 1484.4l5.2 -6.6 5.2 6.6 -5.2 6.6z"/><path d="M1488.6 1493.0l5.2 -6.6 5.2 6.6 -5.2 6.6z"/><path d="M1491.5 1477.4l5.2 -6.6 5.2 6.6 -5.2 6.6z"/><path d="M1496.9 1480.4l5.2 -6.6 5.2 6.6 -5.2 6.6z"/><path d="M1505.9 1491.4l5.2 -6.6 5.2 6.6 -5.2 6.6z"/><path d="M1502.7 1467.0l5.2 -6.6 5.2 6.6 -5.2 6.6z"/><path d="M1506.3 1514.8l5.2 -6.6 5.2 6.6 -5.2 6.6z"/><path d="M1515.7 1499.0l5.2 -6.6 5.2 6.6 -5.2 6.6z"/><path d="M1508.1 1430.5l5.2 -6.6 5.2 6.6 -5.2 6.6z"/><path d="M1512.1 1508.3l5.2 -6.6 5.2 6.6 -5.2 6.6z"/><path d="M1512.8 1517.0l5.2 -6.6 5.2 6.6 -5.2 6.6z"/><path d="M1519.3 1492.6l5.2 -6.6 5.2 6.6 -5.2 6.6z"/><path d="M1528.4 1443.2l5.2 -6.6 5.2 6.6 -5.2 6.6z"/><path d="M1519.8 1481.9l5.2 -6.6 5.2 6.6 -5.2 6.6z"/><path d="M1525.3 1516.4l5.2 -6.6 5.2 6.6 -5.2 6.6z"/><path d="M1537.9 1435.3l5.2 -6.6 5.2 6.6 -5.2 6.6z"/><path d="M1534.3 1443.2l5.2 -6.6 5.2 6.6 -5.2 6.6z"/><path d="M1536.7 1441.2l5.2 -6.6 5.2 6.6 -5.2 6.6z"/><path d="M1536.8 1516.8l5.2 -6.6 5.2 6.6 -5.2 6.6z"/><path d="M1549.3 1502.1l5.2 -6.6 5.2 6.6 -5.2 6.6z"/><path d="M1548.8 1513.9l5.2 -6.6 5.2 6.6 -5.2 6.6z"/><path d="M1547.7 1457.9l5.2 -6.6 5.2 6.6 -5.2 6.6z"/><path d="M1548.8 1516.2l5.2 -6.6 5.2 6.6 -5.2 6.6z"/><path d="M1554.6 1438.9l5.2 -6.6 5.2 6.6 -5.2 6.6z"/><path d="M1559.5 1455.9l5.2 -6.6 5.2 6.6 -5.2 6.6z"/><path d="M1554.2 1470.8l5.2 -6.6 5.2 6.6 -5.2 6.6z"/><path d="M1557.7 1514.8l5.2 -6.6 5.2 6.6 -5.2 6.6z"/><path d="M1565.0 1460.9l5.2 -6.6 5.2 6.6 -5.2 6.6z"/><path d="M1565.0 1483.3l5.2 -6.6 5.2 6.6 -5.2 6.6z"/><path d="M1569.3 1432.6l5.2 -6.6 5.2 6.6 -5.2 6.6z"/><path d="M1566.3 1514.2l5.2 -6.6 5.2 6.6 -5.2 6.6z"/><path d="M1574.8 1500.4l5.2 -6.6 5.2 6.6 -5.2 6.6z"/><path d="M1577.7 1458.4l5.2 -6.6 5.2 6.6 -5.2 6.6z"/><path d="M1572.5 1425.8l5.2 -6.6 5.2 6.6 -5.2 6.6z"/><path d="M1580.0 1517.5l5.2 -6.6 5.2 6.6 -5.2 6.6z"/><path d="M1592.5 1494.6l5.2 -6.6 5.2 6.6 -5.2 6.6z"/><path d="M1586.8 1426.7l5.2 -6.6 5.2 6.6 -5.2 6.6z"/><path d="M1582.4 1509.7l5.2 -6.6 5.2 6.6 -5.2 6.6z"/><path d="M1598.3 1425.8l5.2 -6.6 5.2 6.6 -5.2 6.6z"/><path d="M1601.2 1462.5l5.2 -6.6 5.2 6.6 -5.2 6.6z"/><path d="M1603.6 1464.5l5.2 -6.6 5.2 6.6 -5.2 6.6z"/><path d="M1611.0 1476.8l5.2 -6.6 5.2 6.6 -5.2 6.6z"/><path d="M1607.5 1457.1l5.2 -6.6 5.2 6.6 -5.2 6.6z"/><path d="M1607.4 1423.1l5.2 -6.6 5.2 6.6 -5.2 6.6z"/><path d="M1619.9 1504.8l5.2 -6.6 5.2 6.6 -5.2 6.6z"/><path d="M1618.3 1475.7l5.2 -6.6 5.2 6.6 -5.2 6.6z"/><path d="M1620.3 1459.1l5.2 -6.6 5.2 6.6 -5.2 6.6z"/><path d="M1635.3 1467.5l5.2 -6.6 5.2 6.6 -5.2 6.6z"/><path d="M1629.7 1454.2l5.2 -6.6 5.2 6.6 -5.2 6.6z"/><path d="M1635.7 1481.3l5.2 -6.6 5.2 6.6 -5.2 6.6z"/><path d="M1644.4 1497.9l5.2 -6.6 5.2 6.6 -5.2 6.6z"/><path d="M1639.1 1420.2l5.2 -6.6 5.2 6.6 -5.2 6.6z"/><path d="M1644.5 1465.0l5.2 -6.6 5.2 6.6 -5.2 6.6z"/><path d="M1644.5 1516.7l5.2 -6.6 5.2 6.6 -5.2 6.6z"/><path d="M1655.2 1419.0l5.2 -6.6 5.2 6.6 -5.2 6.6z"/><path d="M1655.9 1473.8l5.2 -6.6 5.2 6.6 -5.2 6.6z"/><path d="M1648.1 1486.4l5.2 -6.6 5.2 6.6 -5.2 6.6z"/><path d="M1662.5 1496.2l5.2 -6.6 5.2 6.6 -5.2 6.6z"/><path d="M1659.0 1453.7l5.2 -6.6 5.2 6.6 -5.2 6.6z"/><path d="M1663.5 1480.3l5.2 -6.6 5.2 6.6 -5.2 6.6z"/><path d="M1674.6 1510.2l5.2 -6.6 5.2 6.6 -5.2 6.6z"/><path d="M1672.2 1438.5l5.2 -6.6 5.2 6.6 -5.2 6.6z"/><path d="M1671.0 1447.9l5.2 -6.6 5.2 6.6 -5.2 6.6z"/><path d="M1672.2 1517.5l5.2 -6.6 5.2 6.6 -5.2 6.6z"/><path d="M1684.7 1450.0l5.2 -6.6 5.2 6.6 -5.2 6.6z"/><path d="M1680.6 1466.4l5.2 -6.6 5.2 6.6 -5.2 6.6z"/><path d="M1684.4 1488.7l5.2 -6.6 5.2 6.6 -5.2 6.6z"/><path d="M1694.8 1418.4l5.2 -6.6 5.2 6.6 -5.2 6.6z"/><path d="M1695.3 1474.8l5.2 -6.6 5.2 6.6 -5.2 6.6z"/><path d="M1690.4 1499.2l5.2 -6.6 5.2 6.6 -5.2 6.6z"/><path d="M1701.0 1504.7l5.2 -6.6 5.2 6.6 -5.2 6.6z"/><path d="M1701.7 1464.0l5.2 -6.6 5.2 6.6 -5.2 6.6z"/><path d="M1708.6 1455.3l5.2 -6.6 5.2 6.6 -5.2 6.6z"/><path d="M1711.2 1513.1l5.2 -6.6 5.2 6.6 -5.2 6.6z"/><path d="M1718.8 1483.2l5.2 -6.6 5.2 6.6 -5.2 6.6z"/><path d="M1718.2 1480.3l5.2 -6.6 5.2 6.6 -5.2 6.6z"/><path d="M1714.7 1513.8l5.2 -6.6 5.2 6.6 -5.2 6.6z"/><path d="M1730.9 1458.3l5.2 -6.6 5.2 6.6 -5.2 6.6z"/><path d="M1724.9 1471.0l5.2 -6.6 5.2 6.6 -5.2 6.6z"/><path d="M1725.3 1509.0l5.2 -6.6 5.2 6.6 -5.2 6.6z"/><path d="M1738.1 1422.0l5.2 -6.6 5.2 6.6 -5.2 6.6z"/><path d="M1736.6 1454.6l5.2 -6.6 5.2 6.6 -5.2 6.6z"/><path d="M1734.6 1510.1l5.2 -6.6 5.2 6.6 -5.2 6.6z"/><path d="M1751.7 1484.0l5.2 -6.6 5.2 6.6 -5.2 6.6z"/><path d="M1752.2 1435.8l5.2 -6.6 5.2 6.6 -5.2 6.6z"/><path d="M1745.8 1456.3l5.2 -6.6 5.2 6.6 -5.2 6.6z"/><path d="M1758.6 1422.9l5.2 -6.6 5.2 6.6 -5.2 6.6z"/><path d="M1755.9 1476.8l5.2 -6.6 5.2 6.6 -5.2 6.6z"/><path d="M1761.0 1493.0l5.2 -6.6 5.2 6.6 -5.2 6.6z"/><path d="M1762.0 1515.7l5.2 -6.6 5.2 6.6 -5.2 6.6z"/><path d="M1772.5 1490.9l5.2 -6.6 5.2 6.6 -5.2 6.6z"/><path d="M1765.8 1479.8l5.2 -6.6 5.2 6.6 -5.2 6.6z"/><path d="M1766.0 1420.8l5.2 -6.6 5.2 6.6 -5.2 6.6z"/><path d="M1770.3 1513.9l5.2 -6.6 5.2 6.6 -5.2 6.6z"/><path d="M1780.4 1477.2l5.2 -6.6 5.2 6.6 -5.2 6.6z"/><path d="M1779.0 1508.0l5.2 -6.6 5.2 6.6 -5.2 6.6z"/><path d="M1776.0 1434.9l5.2 -6.6 5.2 6.6 -5.2 6.6z"/><path d="M1778.6 1514.3l5.2 -6.6 5.2 6.6 -5.2 6.6z"/><path d="M1788.4 1491.5l5.2 -6.6 5.2 6.6 -5.2 6.6z"/><path d="M1792.5 1515.0l5.2 -6.6 5.2 6.6 -5.2 6.6z"/><path d="M1797.7 1446.4l5.2 -6.6 5.2 6.6 -5.2 6.6z"/><path d="M1800.2 1517.5l5.2 -6.6 5.2 6.6 -5.2 6.6z"/><path d="M1808.1 1471.7l5.2 -6.6 5.2 6.6 -5.2 6.6z"/><path d="M1826.0 1499.0l5.2 -6.6 5.2 6.6 -5.2 6.6z"/><path d="M1825.0 1515.2l5.2 -6.6 5.2 6.6 -5.2 6.6z"/><path d="M1838.4 1494.3l5.2 -6.6 5.2 6.6 -5.2 6.6z"/><path d="M1844.2 1492.4l5.2 -6.6 5.2 6.6 -5.2 6.6z"/><path d="M1841.9 1516.8l5.2 -6.6 5.2 6.6 -5.2 6.6z"/><path d="M1852.3 1427.8l5.2 -6.6 5.2 6.6 -5.2 6.6z"/><path d="M1864.1 1490.6l5.2 -6.6 5.2 6.6 -5.2 6.6z"/><path d="M1873.2 1430.4l5.2 -6.6 5.2 6.6 -5.2 6.6z"/><path d="M1876.9 1516.0l5.2 -6.6 5.2 6.6 -5.2 6.6z"/><path d="M1884.5 1440.1l5.2 -6.6 5.2 6.6 -5.2 6.6z"/><path d="M1888.6 1516.1l5.2 -6.6 5.2 6.6 -5.2 6.6z"/><path d="M1895.6 1476.8l5.2 -6.6 5.2 6.6 -5.2 6.6z"/><path d="M1895.7 1517.6l5.2 -6.6 5.2 6.6 -5.2 6.6z"/><path d="M1906.4 1450.5l5.2 -6.6 5.2 6.6 -5.2 6.6z"/><path d="M1909.3 1515.1l5.2 -6.6 5.2 6.6 -5.2 6.6z"/><path d="M1919.0 1485.7l5.2 -6.6 5.2 6.6 -5.2 6.6z"/><path d="M1918.1 1514.4l5.2 -6.6 5.2 6.6 -5.2 6.6z"/><path d="M1925.7 1445.4l5.2 -6.6 5.2 6.6 -5.2 6.6z"/><path d="M1929.5 1517.8l5.2 -6.6 5.2 6.6 -5.2 6.6z"/><path d="M1943.3 1429.4l5.2 -6.6 5.2 6.6 -5.2 6.6z"/><path d="M1674.3 1439.4l5.2 -6.6 5.2 6.6 -5.2 6.6z"/><path d="M1663.1 1464.8l5.2 -6.6 5.2 6.6 -5.2 6.6z"/><path d="M1732.8 1444.1l5.2 -6.6 5.2 6.6 -5.2 6.6z"/><path d="M1705.2 1463.5l5.2 -6.6 5.2 6.6 -5.2 6.6z"/><path d="M1736.7 1437.7l5.2 -6.6 5.2 6.6 -5.2 6.6z"/><path d="M1752.9 1444.2l5.2 -6.6 5.2 6.6 -5.2 6.6z"/><path d="M1729.0 1433.4l5.2 -6.6 5.2 6.6 -5.2 6.6z"/><path d="M1672.5 1479.5l5.2 -6.6 5.2 6.6 -5.2 6.6z"/><path d="M1740.5 1466.9l5.2 -6.6 5.2 6.6 -5.2 6.6z"/><path d="M1664.2 1424.5l5.2 -6.6 5.2 6.6 -5.2 6.6z"/><path d="M1677.6 1434.5l5.2 -6.6 5.2 6.6 -5.2 6.6z"/><path d="M1693.1 1446.0l5.2 -6.6 5.2 6.6 -5.2 6.6z"/><path d="M1664.1 1441.6l5.2 -6.6 5.2 6.6 -5.2 6.6z"/><path d="M1730.0 1433.3l5.2 -6.6 5.2 6.6 -5.2 6.6z"/><path d="M1752.1 1457.9l5.2 -6.6 5.2 6.6 -5.2 6.6z"/><path d="M1738.6 1438.0l5.2 -6.6 5.2 6.6 -5.2 6.6z"/><path d="M1707.6 1465.1l5.2 -6.6 5.2 6.6 -5.2 6.6z"/><path d="M1698.2 1422.1l5.2 -6.6 5.2 6.6 -5.2 6.6z"/><path d="M1751.6 1470.9l5.2 -6.6 5.2 6.6 -5.2 6.6z"/><path d="M1691.3 1424.7l5.2 -6.6 5.2 6.6 -5.2 6.6z"/><path d="M1753.8 1460.3l5.2 -6.6 5.2 6.6 -5.2 6.6z"/><path d="M1665.0 1437.4l5.2 -6.6 5.2 6.6 -5.2 6.6z"/><path d="M1672.0 1471.9l5.2 -6.6 5.2 6.6 -5.2 6.6z"/><path d="M1682.9 1479.6l5.2 -6.6 5.2 6.6 -5.2 6.6z"/><path d="M1742.2 1427.4l5.2 -6.6 5.2 6.6 -5.2 6.6z"/><path d="M1736.2 1446.8l5.2 -6.6 5.2 6.6 -5.2 6.6z"/><path d="M1742.0 1474.2l5.2 -6.6 5.2 6.6 -5.2 6.6z"/><path d="M1690.7 1427.7l5.2 -6.6 5.2 6.6 -5.2 6.6z"/><path d="M1763.9 1448.7l5.2 -6.6 5.2 6.6 -5.2 6.6z"/><path d="M1762.1 1465.6l5.2 -6.6 5.2 6.6 -5.2 6.6z"/><path d="M1741.0 1474.3l5.2 -6.6 5.2 6.6 -5.2 6.6z"/><path d="M1728.9 1450.5l5.2 -6.6 5.2 6.6 -5.2 6.6z"/><path d="M1665.8 1466.0l5.2 -6.6 5.2 6.6 -5.2 6.6z"/><path d="M1706.9 1454.2l5.2 -6.6 5.2 6.6 -5.2 6.6z"/><path d="M1761.9 1430.0l5.2 -6.6 5.2 6.6 -5.2 6.6z"/><path d="M1743.6 1424.8l5.2 -6.6 5.2 6.6 -5.2 6.6z"/><path d="M1737.1 1472.8l5.2 -6.6 5.2 6.6 -5.2 6.6z"/><path d="M1688.5 1456.4l5.2 -6.6 5.2 6.6 -5.2 6.6z"/><path d="M1766.4 1462.2l5.2 -6.6 5.2 6.6 -5.2 6.6z"/><path d="M1719.6 1437.7l5.2 -6.6 5.2 6.6 -5.2 6.6z"/><path d="M1666.3 1444.5l5.2 -6.6 5.2 6.6 -5.2 6.6z"/><path d="M1705.1 1434.7l5.2 -6.6 5.2 6.6 -5.2 6.6z"/><path d="M1694.0 1430.6l5.2 -6.6 5.2 6.6 -5.2 6.6z"/><path d="M1737.6 1464.2l5.2 -6.6 5.2 6.6 -5.2 6.6z"/><path d="M1686.0 1437.2l5.2 -6.6 5.2 6.6 -5.2 6.6z"/><path d="M1752.4 1487.1l5.2 -6.6 5.2 6.6 -5.2 6.6z"/><path d="M1762.1 1484.7l5.2 -6.6 5.2 6.6 -5.2 6.6z"/><path d="M1754.6 1505.8l5.2 -6.6 5.2 6.6 -5.2 6.6z"/><path d="M1761.8 1497.0l5.2 -6.6 5.2 6.6 -5.2 6.6z"/><path d="M1753.2 1502.3l5.2 -6.6 5.2 6.6 -5.2 6.6z"/><path d="M1749.7 1483.5l5.2 -6.6 5.2 6.6 -5.2 6.6z"/><path d="M1761.4 1499.7l5.2 -6.6 5.2 6.6 -5.2 6.6z"/><path d="M1753.3 1482.2l5.2 -6.6 5.2 6.6 -5.2 6.6z"/><path d="M1758.8 1471.1l5.2 -6.6 5.2 6.6 -5.2 6.6z"/><path d="M1760.9 1492.9l5.2 -6.6 5.2 6.6 -5.2 6.6z"/><path d="M1755.6 1492.7l5.2 -6.6 5.2 6.6 -5.2 6.6z"/><path d="M1761.6 1490.7l5.2 -6.6 5.2 6.6 -5.2 6.6z"/><path d="M1760.3 1501.2l5.2 -6.6 5.2 6.6 -5.2 6.6z"/><path d="M1755.5 1489.4l5.2 -6.6 5.2 6.6 -5.2 6.6z"/><path d="M1755.3 1497.0l5.2 -6.6 5.2 6.6 -5.2 6.6z"/><path d="M1755.8 1492.1l5.2 -6.6 5.2 6.6 -5.2 6.6z"/><path d="M1758.5 1488.6l5.2 -6.6 5.2 6.6 -5.2 6.6z"/><path d="M1766.1 1487.3l5.2 -6.6 5.2 6.6 -5.2 6.6z"/><path d="M1689.0 1275.9l5.2 -6.6 5.2 6.6 -5.2 6.6z"/><path d="M1733.8 1268.2l5.2 -6.6 5.2 6.6 -5.2 6.6z"/><path d="M1690.2 1264.4l5.2 -6.6 5.2 6.6 -5.2 6.6z"/><path d="M1706.5 1249.5l5.2 -6.6 5.2 6.6 -5.2 6.6z"/><path d="M1712.0 1240.4l5.2 -6.6 5.2 6.6 -5.2 6.6z"/><path d="M1730.8 1272.2l5.2 -6.6 5.2 6.6 -5.2 6.6z"/><path d="M1716.2 1286.8l5.2 -6.6 5.2 6.6 -5.2 6.6z"/><path d="M1717.4 1252.6l5.2 -6.6 5.2 6.6 -5.2 6.6z"/><path d="M1697.1 1246.9l5.2 -6.6 5.2 6.6 -5.2 6.6z"/><path d="M1686.2 1278.7l5.2 -6.6 5.2 6.6 -5.2 6.6z"/><path d="M1726.8 1254.8l5.2 -6.6 5.2 6.6 -5.2 6.6z"/><path d="M1694.1 1271.9l5.2 -6.6 5.2 6.6 -5.2 6.6z"/><path d="M1727.1 1286.3l5.2 -6.6 5.2 6.6 -5.2 6.6z"/><path d="M1693.2 1279.2l5.2 -6.6 5.2 6.6 -5.2 6.6z"/><path d="M1726.3 1277.1l5.2 -6.6 5.2 6.6 -5.2 6.6z"/><path d="M1701.1 1249.2l5.2 -6.6 5.2 6.6 -5.2 6.6z"/><path d="M1726.1 1256.0l5.2 -6.6 5.2 6.6 -5.2 6.6z"/><path d="M1703.2 1267.6l5.2 -6.6 5.2 6.6 -5.2 6.6z"/><path d="M1703.3 1281.6l5.2 -6.6 5.2 6.6 -5.2 6.6z"/><path d="M1696.8 1242.1l5.2 -6.6 5.2 6.6 -5.2 6.6z"/><path d="M1713.1 1271.4l5.2 -6.6 5.2 6.6 -5.2 6.6z"/><path d="M1725.8 1275.3l5.2 -6.6 5.2 6.6 -5.2 6.6z"/><path d="M1730.1 1287.2l5.2 -6.6 5.2 6.6 -5.2 6.6z"/><path d="M1709.5 1265.0l5.2 -6.6 5.2 6.6 -5.2 6.6z"/><path d="M1692.7 1255.0l5.2 -6.6 5.2 6.6 -5.2 6.6z"/><path d="M1413.1 1475.0l5.2 -6.6 5.2 6.6 -5.2 6.6z"/><path d="M1413.4 1433.1l5.2 -6.6 5.2 6.6 -5.2 6.6z"/><path d="M1408.8 1427.2l5.2 -6.6 5.2 6.6 -5.2 6.6z"/><path d="M1415.6 1423.2l5.2 -6.6 5.2 6.6 -5.2 6.6z"/><path d="M1412.6 1477.8l5.2 -6.6 5.2 6.6 -5.2 6.6z"/><path d="M1414.3 1420.2l5.2 -6.6 5.2 6.6 -5.2 6.6z"/><path d="M1415.9 1483.0l5.2 -6.6 5.2 6.6 -5.2 6.6z"/><path d="M1410.5 1454.0l5.2 -6.6 5.2 6.6 -5.2 6.6z"/><path d="M1413.2 1461.2l5.2 -6.6 5.2 6.6 -5.2 6.6z"/><path d="M1416.7 1453.7l5.2 -6.6 5.2 6.6 -5.2 6.6z"/><path d="M1412.7 1473.3l5.2 -6.6 5.2 6.6 -5.2 6.6z"/><path d="M1415.6 1486.1l5.2 -6.6 5.2 6.6 -5.2 6.6z"/><path d="M1414.8 1443.7l5.2 -6.6 5.2 6.6 -5.2 6.6z"/><path d="M1413.1 1455.5l5.2 -6.6 5.2 6.6 -5.2 6.6z"/></g>
<defs><polyline id="sD" points="1202.5,1394.1 1207.5,1513.0 1207.8,1512.8 1208.0,1512.3 1208.3,1511.7 1208.4,1510.9 1208.6,1509.5 1208.8,1507.7 1209.0,1502.9 1209.3,1495.6 1209.5,1488.1 1209.8,1481.1 1210.0,1474.0 1210.3,1467.1 1210.5,1461.0 1210.8,1455.1 1211.0,1448.8 1211.3,1440.4 1211.6,1431.3 1211.9,1422.6 1212.2,1414.3 1212.5,1406.3 1212.7,1399.0 1212.9,1394.6 1213.1,1390.5 1213.3,1387.2 1213.4,1385.4 1213.5,1383.9 1213.6,1383.2 1213.7,1384.1 1213.8,1386.2 1213.9,1388.5 1214.1,1392.6 1214.3,1397.6 1214.5,1402.9 1214.7,1409.7 1214.9,1417.1 1215.1,1425.2 1215.3,1432.7 1215.5,1440.8 1215.6,1448.8 1215.8,1456.5 1216.0,1464.1 1216.2,1471.0 1216.3,1476.8 1216.5,1482.1 1216.7,1488.1 1216.8,1495.1 1217.0,1502.9 1217.1,1507.7 1217.3,1509.6 1217.4,1510.9 1217.6,1511.7 1217.8,1512.4 1218.0,1512.8 1218.2,1513.0 1218.2,1513.3 1218.4,1513.2 1218.7,1512.8 1218.9,1512.3 1219.1,1511.7 1219.3,1510.6 1219.5,1509.3 1219.7,1505.6 1220.0,1499.9 1220.2,1494.2 1220.5,1488.8 1220.7,1483.3 1221.0,1478.0 1221.2,1473.3 1221.5,1468.8 1221.7,1463.9 1222.0,1457.5 1222.3,1450.5 1222.6,1443.8 1222.9,1437.5 1223.1,1431.3 1223.4,1425.7 1223.6,1422.3 1223.8,1419.2 1224.0,1416.6 1224.1,1415.3 1224.2,1414.1 1224.3,1413.6 1224.4,1414.3 1224.5,1415.9 1224.6,1417.6 1224.8,1420.8 1225.0,1424.6 1225.1,1428.7 1225.4,1433.9 1225.6,1439.6 1225.8,1445.8 1226.0,1451.6 1226.1,1457.8 1226.3,1463.9 1226.5,1469.9 1226.7,1475.7 1226.9,1481.1 1227.0,1485.5 1227.2,1489.6 1227.4,1494.2 1227.5,1499.5 1227.7,1505.5 1227.8,1509.3 1228.0,1510.7 1228.1,1511.7 1228.2,1512.3 1228.5,1512.8 1228.7,1513.2 1228.9,1513.3 1228.9,1513.0 1229.1,1512.8 1229.4,1512.4 1229.6,1511.7 1229.8,1510.9 1230.0,1509.6 1230.2,1507.8 1230.4,1503.0 1230.7,1495.8 1230.9,1488.4 1231.2,1481.5 1231.4,1474.4 1231.7,1467.6 1231.9,1461.6 1232.2,1455.7 1232.4,1449.5 1232.7,1441.2 1233.0,1432.2 1233.3,1423.6 1233.6,1415.4 1233.8,1407.5 1234.1,1400.2 1234.3,1395.9 1234.5,1391.8 1234.7,1388.6 1234.8,1386.8 1234.9,1385.3 1235.0,1384.7 1235.1,1385.6 1235.2,1387.6 1235.3,1389.9 1235.5,1393.9 1235.7,1398.8 1235.8,1404.1 1236.0,1410.8 1236.3,1418.2 1236.5,1426.2 1236.7,1433.6 1236.8,1441.6 1237.0,1449.5 1237.2,1457.1 1237.4,1464.7 1237.5,1471.5 1237.7,1477.2 1237.9,1482.5 1238.1,1488.4 1238.2,1495.3 1238.4,1503.0 1238.5,1507.8 1238.7,1509.7 1238.8,1511.0 1238.9,1511.7 1239.1,1512.4 1239.4,1512.8 1239.6,1513.0 1239.6,1513.1 1239.8,1512.9 1240.1,1512.5 1240.3,1511.8 1240.5,1511.1 1240.7,1509.8 1240.9,1508.1 1241.1,1503.6 1241.4,1496.7 1241.6,1489.6 1241.9,1483.0 1242.1,1476.3 1242.4,1469.8 1242.6,1464.1 1242.9,1458.5 1243.1,1452.6 1243.4,1444.6 1243.7,1436.1 1244.0,1427.9 1244.2,1420.1 1244.5,1412.6 1244.8,1405.6 1245.0,1401.5 1245.2,1397.6 1245.3,1394.5 1245.5,1392.9 1245.6,1391.4 1245.7,1390.8 1245.8,1391.6 1245.9,1393.6 1246.0,1395.8 1246.2,1399.6 1246.3,1404.3 1246.5,1409.3 1246.7,1415.7 1247.0,1422.7 1247.2,1430.3 1247.3,1437.4 1247.5,1445.1 1247.7,1452.6 1247.9,1459.9 1248.1,1467.0 1248.2,1473.5 1248.4,1479.0 1248.6,1484.0 1248.8,1489.6 1248.9,1496.2 1249.1,1503.5 1249.2,1508.1 1249.3,1509.9 1249.5,1511.1 1249.6,1511.8 1249.8,1512.5 1250.1,1512.9 1250.3,1513.1 1250.3,1512.8 1250.5,1512.6 1250.8,1512.1 1251.0,1511.3 1251.2,1510.4 1251.4,1508.8 1251.5,1506.8 1251.8,1501.3 1252.0,1492.8 1252.3,1484.3 1252.5,1476.3 1252.8,1468.1 1253.0,1460.2 1253.3,1453.2 1253.5,1446.5 1253.8,1439.2 1254.1,1429.6 1254.4,1419.2 1254.6,1409.2 1254.9,1399.7 1255.2,1390.6 1255.5,1382.1 1255.7,1377.1 1255.9,1372.4 1256.0,1368.6 1256.1,1366.6 1256.3,1364.9 1256.4,1364.1 1256.5,1365.1 1256.6,1367.5 1256.7,1370.1 1256.9,1374.8 1257.0,1380.5 1257.2,1386.6 1257.4,1394.4 1257.6,1403.0 1257.9,1412.2 1258.0,1420.8 1258.2,1430.1 1258.4,1439.2 1258.6,1448.1 1258.7,1456.8 1258.9,1464.7 1259.1,1471.4 1259.3,1477.4 1259.5,1484.3 1259.6,1492.3 1259.7,1501.2 1259.9,1506.8 1260.0,1508.9 1260.2,1510.4 1260.3,1511.3 1260.5,1512.1 1260.7,1512.6 1261.0,1512.8 1261.0,1513.2 1261.2,1513.0 1261.5,1512.6 1261.7,1512.1 1261.9,1511.4 1262.1,1510.2 1262.2,1508.7 1262.5,1504.6 1262.7,1498.3 1263.0,1491.9 1263.2,1485.9 1263.5,1479.8 1263.7,1473.9 1264.0,1468.7 1264.2,1463.6 1264.5,1458.2 1264.8,1451.1 1265.1,1443.3 1265.3,1435.8 1265.6,1428.8 1265.9,1421.9 1266.2,1415.6 1266.4,1411.9 1266.6,1408.4 1266.7,1405.5 1266.8,1404.0 1266.9,1402.7 1267.0,1402.2 1267.2,1402.9 1267.3,1404.7 1267.4,1406.7 1267.5,1410.2 1267.7,1414.4 1267.9,1419.0 1268.1,1424.8 1268.3,1431.2 1268.5,1438.1 1268.7,1444.5 1268.9,1451.4 1269.1,1458.2 1269.3,1464.9 1269.4,1471.4 1269.6,1477.3 1269.8,1482.2 1270.0,1486.8 1270.2,1491.9 1270.3,1497.9 1270.4,1504.5 1270.6,1508.7 1270.7,1510.3 1270.9,1511.4 1271.0,1512.1 1271.2,1512.6 1271.4,1513.0 1271.6,1513.2 1271.6,1513.0 1271.9,1512.9 1272.1,1512.4 1272.4,1511.8 1272.6,1511.0 1272.8,1509.7 1272.9,1507.9 1273.2,1503.2 1273.4,1496.1 1273.7,1488.8 1273.9,1482.0 1274.2,1475.1 1274.4,1468.4 1274.7,1462.5 1274.9,1456.7 1275.2,1450.6 1275.5,1442.4 1275.7,1433.6 1276.0,1425.1 1276.3,1417.1 1276.6,1409.3 1276.9,1402.2 1277.1,1397.9 1277.2,1393.9 1277.4,1390.7 1277.5,1389.0 1277.6,1387.5 1277.7,1386.9 1277.8,1387.8 1278.0,1389.8 1278.1,1392.0 1278.2,1396.0 1278.4,1400.8 1278.6,1406.0 1278.8,1412.6 1279.0,1419.9 1279.2,1427.7 1279.4,1435.0 1279.6,1442.9 1279.8,1450.6 1279.9,1458.1 1280.1,1465.5 1280.3,1472.3 1280.5,1477.9 1280.7,1483.0 1280.8,1488.8 1281.0,1495.6 1281.1,1503.2 1281.3,1507.9 1281.4,1509.8 1281.6,1511.0 1281.7,1511.8 1281.9,1512.4 1282.1,1512.9 1282.3,1513.0 1282.3,1512.9 1282.6,1512.7 1282.8,1512.1 1283.1,1511.4 1283.3,1510.5 1283.4,1509.0 1283.6,1507.1 1283.9,1501.7 1284.1,1493.6 1284.4,1485.3 1284.6,1477.6 1284.9,1469.7 1285.1,1462.1 1285.4,1455.3 1285.6,1448.8 1285.9,1441.9 1286.1,1432.6 1286.4,1422.6 1286.7,1412.9 1287.0,1403.8 1287.3,1394.9 1287.6,1386.8 1287.8,1382.0 1287.9,1377.4 1288.1,1373.8 1288.2,1371.8 1288.3,1370.1 1288.4,1369.4 1288.5,1370.4 1288.6,1372.7 1288.8,1375.2 1288.9,1379.8 1289.1,1385.2 1289.3,1391.1 1289.5,1398.7 1289.7,1406.9 1289.9,1415.8 1290.1,1424.1 1290.3,1433.0 1290.5,1441.9 1290.6,1450.4 1290.8,1458.8 1291.0,1466.5 1291.2,1472.9 1291.4,1478.7 1291.5,1485.3 1291.7,1493.1 1291.8,1501.7 1292.0,1507.1 1292.1,1509.1 1292.2,1510.6 1292.4,1511.4 1292.6,1512.1 1292.8,1512.7 1293.0,1512.9 1293.0,1513.1 1293.3,1513.0 1293.5,1512.6 1293.8,1512.0 1294.0,1511.3 1294.1,1510.1 1294.3,1508.5 1294.6,1504.3 1294.8,1497.8 1295.1,1491.3 1295.3,1485.1 1295.6,1478.8 1295.8,1472.8 1296.1,1467.4 1296.3,1462.3 1296.6,1456.7 1296.8,1449.3 1297.1,1441.4 1297.4,1433.7 1297.7,1426.4 1298.0,1419.4 1298.3,1412.9 1298.4,1409.1 1298.6,1405.5 1298.8,1402.6 1298.9,1401.0 1299.0,1399.7 1299.1,1399.1 1299.2,1399.9 1299.3,1401.7 1299.4,1403.7 1299.6,1407.3 1299.8,1411.7 1300.0,1416.4 1300.2,1422.4 1300.4,1428.9 1300.6,1436.0 1300.8,1442.6 1301.0,1449.7 1301.2,1456.7 1301.3,1463.5 1301.5,1470.2 1301.7,1476.3 1301.9,1481.4 1302.0,1486.0 1302.2,1491.3 1302.4,1497.4 1302.5,1504.3 1302.6,1508.5 1302.8,1510.2 1302.9,1511.3 1303.1,1512.0 1303.3,1512.6 1303.5,1513.0 1303.7,1513.1 1303.7,1513.0 1304.0,1512.8 1304.2,1512.3 1304.5,1511.6 1304.6,1510.8 1304.8,1509.4 1305.0,1507.6 1305.2,1502.7 1305.5,1495.2 1305.7,1487.6 1306.0,1480.5 1306.2,1473.2 1306.5,1466.3 1306.7,1460.0 1307.0,1454.0 1307.2,1447.6 1307.5,1439.0 1307.8,1429.8 1308.1,1420.9 1308.4,1412.5 1308.7,1404.3 1309.0,1396.8 1309.1,1392.4 1309.3,1388.2 1309.5,1384.8 1309.6,1383.1 1309.7,1381.5 1309.8,1380.8 1309.9,1381.7 1310.0,1383.8 1310.1,1386.2 1310.3,1390.4 1310.5,1395.4 1310.7,1400.9 1310.9,1407.8 1311.1,1415.3 1311.3,1423.5 1311.5,1431.2 1311.7,1439.5 1311.8,1447.6 1312.0,1455.5 1312.2,1463.2 1312.4,1470.3 1312.6,1476.1 1312.7,1481.5 1312.9,1487.6 1313.1,1494.7 1313.2,1502.7 1313.3,1507.6 1313.5,1509.5 1313.6,1510.9 1313.8,1511.6 1314.0,1512.3 1314.2,1512.8 1314.4,1513.0 1314.4,1512.5 1314.7,1512.3 1314.9,1511.7 1315.2,1510.8 1315.3,1509.7 1315.5,1507.9 1315.7,1505.5 1315.9,1498.9 1316.2,1489.0 1316.4,1478.9 1316.7,1469.5 1316.9,1459.9 1317.2,1450.7 1317.4,1442.4 1317.7,1434.4 1317.9,1425.9 1318.2,1414.6 1318.5,1402.4 1318.8,1390.6 1319.1,1379.4 1319.4,1368.7 1319.6,1358.8 1319.8,1352.9 1320.0,1347.3 1320.2,1342.8 1320.3,1340.5 1320.4,1338.4 1320.5,1337.5 1320.6,1338.7 1320.7,1341.5 1320.8,1344.6 1321.0,1350.2 1321.2,1356.9 1321.4,1364.1 1321.6,1373.2 1321.8,1383.3 1322.0,1394.1 1322.2,1404.2 1322.4,1415.2 1322.5,1425.9 1322.7,1436.4 1322.9,1446.6 1323.1,1456.0 1323.2,1463.8 1323.4,1470.9 1323.6,1478.9 1323.7,1488.4 1323.9,1498.9 1324.0,1505.5 1324.2,1508.0 1324.3,1509.7 1324.5,1510.8 1324.7,1511.7 1324.9,1512.3 1325.1,1512.5 1325.1,1513.0 1325.3,1512.8 1325.6,1512.4 1325.8,1511.7 1326.0,1510.9 1326.2,1509.6 1326.4,1507.8 1326.6,1503.0 1326.9,1495.8 1327.1,1488.4 1327.4,1481.5 1327.6,1474.4 1327.9,1467.6 1328.1,1461.6 1328.4,1455.7 1328.6,1449.5 1328.9,1441.2 1329.2,1432.2 1329.5,1423.6 1329.8,1415.4 1330.0,1407.5 1330.3,1400.2 1330.5,1395.9 1330.7,1391.8 1330.9,1388.6 1331.0,1386.8 1331.1,1385.3 1331.2,1384.7 1331.3,1385.6 1331.4,1387.6 1331.5,1389.9 1331.7,1393.9 1331.9,1398.8 1332.0,1404.1 1332.3,1410.8 1332.5,1418.2 1332.7,1426.2 1332.9,1433.6 1333.0,1441.6 1333.2,1449.5 1333.4,1457.1 1333.6,1464.7 1333.8,1471.5 1333.9,1477.2 1334.1,1482.5 1334.3,1488.4 1334.4,1495.3 1334.6,1503.0 1334.7,1507.8 1334.9,1509.7 1335.0,1511.0 1335.1,1511.7 1335.4,1512.4 1335.6,1512.8 1335.8,1513.0 1335.8,1513.0 1336.0,1512.8 1336.3,1512.4 1336.5,1511.7 1336.7,1510.9 1336.9,1509.6 1337.1,1507.9 1337.3,1503.2 1337.6,1496.0 1337.8,1488.7 1338.1,1481.9 1338.3,1474.9 1338.6,1468.2 1338.8,1462.2 1339.1,1456.4 1339.3,1450.3 1339.6,1442.1 1339.9,1433.2 1340.2,1424.7 1340.5,1416.6 1340.7,1408.8 1341.0,1401.6 1341.2,1397.3 1341.4,1393.3 1341.6,1390.1 1341.7,1388.4 1341.8,1386.9 1341.9,1386.2 1342.0,1387.1 1342.1,1389.1 1342.2,1391.4 1342.4,1395.4 1342.6,1400.2 1342.7,1405.5 1342.9,1412.1 1343.2,1419.4 1343.4,1427.2 1343.6,1434.6 1343.7,1442.5 1343.9,1450.3 1344.1,1457.8 1344.3,1465.3 1344.4,1472.0 1344.6,1477.7 1344.8,1482.8 1345.0,1488.7 1345.1,1495.5 1345.3,1503.1 1345.4,1507.9 1345.6,1509.7 1345.7,1511.0 1345.8,1511.7 1346.0,1512.4 1346.3,1512.8 1346.5,1513.0 1346.5,1513.5 1346.7,1513.4 1347.0,1513.1 1347.2,1512.7 1347.4,1512.1 1347.6,1511.3 1347.8,1510.2 1348.0,1507.1 1348.3,1502.5 1348.5,1497.8 1348.8,1493.4 1349.0,1488.9 1349.3,1484.6 1349.5,1480.8 1349.8,1477.1 1350.0,1473.1 1350.3,1467.8 1350.6,1462.1 1350.9,1456.6 1351.1,1451.5 1351.4,1446.4 1351.7,1441.8 1351.9,1439.1 1352.1,1436.5 1352.2,1434.4 1352.4,1433.3 1352.5,1432.3 1352.6,1431.9 1352.7,1432.5 1352.8,1433.8 1352.9,1435.2 1353.1,1437.8 1353.2,1440.9 1353.4,1444.3 1353.6,1448.6 1353.9,1453.2 1354.1,1458.3 1354.2,1463.0 1354.4,1468.1 1354.6,1473.1 1354.8,1478.0 1355.0,1482.8 1355.1,1487.1 1355.3,1490.8 1355.5,1494.1 1355.7,1497.8 1355.8,1502.2 1356.0,1507.1 1356.1,1510.2 1356.2,1511.4 1356.4,1512.2 1356.5,1512.7 1356.7,1513.1 1357.0,1513.4 1357.2,1513.5 1357.2,1512.9 1357.4,1512.7 1357.7,1512.2 1357.9,1511.5 1358.1,1510.6 1358.3,1509.2 1358.4,1507.3 1358.7,1502.1 1358.9,1494.3 1359.2,1486.2 1359.4,1478.7 1359.7,1471.1 1359.9,1463.8 1360.2,1457.2 1360.4,1450.9 1360.7,1444.1 1361.0,1435.1 1361.3,1425.4 1361.5,1416.1 1361.8,1407.2 1362.1,1398.7 1362.4,1390.8 1362.6,1386.1 1362.8,1381.7 1362.9,1378.2 1363.0,1376.3 1363.2,1374.7 1363.3,1374.0 1363.4,1374.9 1363.5,1377.1 1363.6,1379.6 1363.8,1384.0 1363.9,1389.3 1364.1,1395.0 1364.3,1402.3 1364.5,1410.3 1364.8,1418.9 1364.9,1426.9 1365.1,1435.6 1365.3,1444.1 1365.5,1452.4 1365.6,1460.6 1365.8,1468.0 1366.0,1474.2 1366.2,1479.8 1366.4,1486.2 1366.5,1493.7 1366.6,1502.1 1366.8,1507.3 1366.9,1509.3 1367.1,1510.7 1367.2,1511.5 1367.4,1512.2 1367.6,1512.7 1367.9,1512.9 1367.9,1512.6 1368.1,1512.4 1368.4,1511.8 1368.6,1510.9 1368.8,1509.9 1369.0,1508.2 1369.1,1505.9 1369.4,1499.7 1369.6,1490.3 1369.9,1480.8 1370.1,1471.8 1370.4,1462.7 1370.6,1453.9 1370.9,1446.0 1371.1,1438.5 1371.4,1430.4 1371.7,1419.7 1372.0,1408.1 1372.2,1396.9 1372.5,1386.3 1372.8,1376.1 1373.1,1366.7 1373.3,1361.1 1373.5,1355.8 1373.6,1351.6 1373.7,1349.4 1373.8,1347.4 1373.9,1346.6 1374.1,1347.7 1374.2,1350.3 1374.3,1353.3 1374.4,1358.5 1374.6,1364.9 1374.8,1371.7 1375.0,1380.4 1375.2,1389.9 1375.4,1400.2 1375.6,1409.8 1375.8,1420.2 1376.0,1430.4 1376.2,1440.3 1376.3,1450.1 1376.5,1458.9 1376.7,1466.3 1376.9,1473.1 1377.1,1480.8 1377.2,1489.7 1377.3,1499.7 1377.5,1505.9 1377.6,1508.3 1377.8,1510.0 1377.9,1510.9 1378.1,1511.8 1378.3,1512.4 1378.5,1512.6 1378.5,1513.0 1378.8,1512.8 1379.0,1512.4 1379.3,1511.7 1379.5,1510.9 1379.7,1509.6 1379.8,1507.8 1380.1,1503.0 1380.3,1495.7 1380.6,1488.2 1380.8,1481.2 1381.1,1474.1 1381.3,1467.3 1381.6,1461.2 1381.8,1455.4 1382.1,1449.1 1382.4,1440.7 1382.6,1431.7 1382.9,1423.0 1383.2,1414.8 1383.5,1406.8 1383.8,1399.5 1384.0,1395.1 1384.1,1391.1 1384.3,1387.8 1384.4,1386.0 1384.5,1384.5 1384.6,1383.8 1384.7,1384.7 1384.9,1386.8 1385.0,1389.1 1385.1,1393.2 1385.3,1398.1 1385.5,1403.4 1385.7,1410.2 1385.9,1417.6 1386.1,1425.6 1386.3,1433.1 1386.5,1441.1 1386.7,1449.1 1386.8,1456.8 1387.0,1464.3 1387.2,1471.2 1387.4,1477.0 1387.6,1482.2 1387.7,1488.2 1387.9,1495.2 1388.0,1502.9 1388.2,1507.8 1388.3,1509.6 1388.5,1510.9 1388.6,1511.7 1388.8,1512.4 1389.0,1512.8 1389.2,1513.0 1389.2,1513.0 1389.5,1512.8 1389.7,1512.3 1390.0,1511.6 1390.2,1510.8 1390.3,1509.4 1390.5,1507.6 1390.8,1502.6 1391.0,1495.0 1391.3,1487.3 1391.5,1480.1 1391.8,1472.7 1392.0,1465.7 1392.3,1459.4 1392.5,1453.3 1392.8,1446.8 1393.0,1438.2 1393.3,1428.8 1393.6,1419.8 1393.9,1411.3 1394.2,1403.1 1394.5,1395.5 1394.7,1391.0 1394.8,1386.8 1395.0,1383.4 1395.1,1381.6 1395.2,1380.0 1395.3,1379.3 1395.4,1380.2 1395.5,1382.4 1395.7,1384.7 1395.8,1389.0 1396.0,1394.1 1396.2,1399.6 1396.4,1406.6 1396.6,1414.2 1396.8,1422.5 1397.0,1430.3 1397.2,1438.6 1397.4,1446.8 1397.5,1454.8 1397.7,1462.6 1397.9,1469.8 1398.1,1475.7 1398.3,1481.1 1398.4,1487.3 1398.6,1494.5 1398.7,1502.5 1398.9,1507.6 1399.0,1509.5 1399.1,1510.8 1399.3,1511.6 1399.5,1512.3 1399.7,1512.8 1399.9,1513.0 1399.9,1512.6 1400.2,1512.4 1400.4,1511.8 1400.7,1511.0 1400.9,1509.9 1401.0,1508.2 1401.2,1506.0 1401.5,1499.8 1401.7,1490.4 1402.0,1480.9 1402.2,1472.0 1402.5,1462.9 1402.7,1454.2 1403.0,1446.4 1403.2,1438.9 1403.5,1430.8 1403.7,1420.1 1404.0,1408.6 1404.3,1397.4 1404.6,1386.9 1404.9,1376.8 1405.2,1367.4 1405.3,1361.8 1405.5,1356.6 1405.7,1352.4 1405.8,1350.1 1405.9,1348.2 1406.0,1347.3 1406.1,1348.5 1406.2,1351.1 1406.3,1354.0 1406.5,1359.3 1406.7,1365.6 1406.9,1372.4 1407.1,1381.0 1407.3,1390.5 1407.5,1400.8 1407.7,1410.3 1407.9,1420.7 1408.1,1430.8 1408.2,1440.7 1408.4,1450.4 1408.6,1459.2 1408.8,1466.6 1408.9,1473.3 1409.1,1480.9 1409.3,1489.8 1409.4,1499.8 1409.5,1506.0 1409.7,1508.3 1409.8,1510.0 1410.0,1511.0 1410.2,1511.8 1410.4,1512.4 1410.6,1512.6 1410.6,1512.9 1410.9,1512.7 1411.1,1512.2 1411.4,1511.5 1411.5,1510.7 1411.7,1509.2 1411.9,1507.4 1412.1,1502.2 1412.4,1494.5 1412.6,1486.5 1412.9,1479.1 1413.1,1471.5 1413.4,1464.3 1413.6,1457.8 1413.9,1451.6 1414.1,1444.9 1414.4,1436.0 1414.7,1426.4 1415.0,1417.1 1415.3,1408.3 1415.6,1399.9 1415.9,1392.1 1416.0,1387.5 1416.2,1383.1 1416.4,1379.6 1416.5,1377.7 1416.6,1376.1 1416.7,1375.4 1416.8,1376.4 1416.9,1378.5 1417.0,1381.0 1417.2,1385.3 1417.4,1390.6 1417.6,1396.3 1417.8,1403.5 1418.0,1411.3 1418.2,1419.9 1418.4,1427.8 1418.6,1436.4 1418.7,1444.9 1418.9,1453.1 1419.1,1461.1 1419.3,1468.5 1419.5,1474.6 1419.6,1480.2 1419.8,1486.5 1420.0,1494.0 1420.1,1502.2 1420.2,1507.4 1420.4,1509.3 1420.5,1510.7 1420.7,1511.5 1420.9,1512.2 1421.1,1512.7 1421.3,1512.9 1421.3,1512.4 1421.6,1512.2 1421.8,1511.5 1422.1,1510.5 1422.2,1509.4 1422.4,1507.5 1422.6,1504.9 1422.8,1498.0 1423.1,1487.5 1423.3,1476.8 1423.6,1466.8 1423.8,1456.6 1424.1,1446.8 1424.3,1438.0 1424.6,1429.6 1424.8,1420.5 1425.1,1408.5 1425.4,1395.5 1425.7,1383.0 1426.0,1371.2 1426.3,1359.8 1426.5,1349.2 1426.7,1343.0 1426.9,1337.1 1427.1,1332.4 1427.2,1329.8 1427.3,1327.7 1427.4,1326.7 1427.5,1328.0 1427.6,1330.9 1427.7,1334.2 1427.9,1340.1 1428.1,1347.2 1428.3,1354.9 1428.5,1364.6 1428.7,1375.2 1428.9,1386.7 1429.1,1397.5 1429.3,1409.1 1429.4,1420.5 1429.6,1431.6 1429.8,1442.5 1430.0,1452.4 1430.1,1460.7 1430.3,1468.2 1430.5,1476.8 1430.6,1486.8 1430.8,1498.0 1430.9,1504.9 1431.1,1507.6 1431.2,1509.5 1431.4,1510.5 1431.6,1511.5 1431.8,1512.2 1432.0,1512.4 1432.0,1511.8 1432.2,1511.5 1432.5,1510.6 1432.7,1509.3 1432.9,1507.7 1433.1,1505.2 1433.3,1501.8 1433.5,1492.5 1433.8,1478.5 1434.0,1464.2 1434.3,1450.8 1434.5,1437.1 1434.8,1424.0 1435.0,1412.3 1435.3,1401.0 1435.5,1388.9 1435.8,1372.9 1436.1,1355.6 1436.4,1338.8 1436.7,1323.0 1436.9,1307.8 1437.2,1293.7 1437.4,1285.3 1437.6,1277.5 1437.8,1271.1 1437.9,1267.8 1438.0,1264.8 1438.1,1263.6 1438.2,1265.3 1438.3,1269.2 1438.4,1273.6 1438.6,1281.5 1438.8,1291.0 1438.9,1301.2 1439.2,1314.2 1439.4,1328.4 1439.6,1343.8 1439.8,1358.2 1439.9,1373.7 1440.1,1388.9 1440.3,1403.8 1440.5,1418.3 1440.7,1431.6 1440.8,1442.6 1441.0,1452.7 1441.2,1464.2 1441.3,1477.6 1441.5,1492.5 1441.6,1501.8 1441.8,1505.4 1441.9,1507.8 1442.0,1509.3 1442.3,1510.6 1442.5,1511.5 1442.7,1511.8 1442.7,1512.0 1442.9,1511.7 1443.2,1510.8 1443.4,1509.7 1443.6,1508.2 1443.8,1505.9 1444.0,1502.7 1444.2,1494.2 1444.5,1481.2 1444.7,1468.0 1445.0,1455.7 1445.2,1443.0 1445.5,1431.0 1445.7,1420.1 1446.0,1409.7 1446.2,1398.6 1446.5,1383.7 1446.8,1367.7 1447.1,1352.3 1447.4,1337.7 1447.6,1323.6 1447.9,1310.6 1448.1,1302.9 1448.3,1295.6 1448.5,1289.8 1448.6,1286.7 1448.7,1284.0 1448.8,1282.8 1448.9,1284.4 1449.0,1288.0 1449.1,1292.1 1449.3,1299.4 1449.5,1308.1 1449.6,1317.6 1449.8,1329.6 1450.1,1342.7 1450.3,1356.9 1450.5,1370.2 1450.6,1384.5 1450.8,1398.6 1451.0,1412.2 1451.2,1425.7 1451.3,1437.9 1451.5,1448.1 1451.7,1457.4 1451.9,1468.0 1452.0,1480.4 1452.2,1494.1 1452.3,1502.7 1452.5,1506.0 1452.6,1508.3 1452.7,1509.7 1452.9,1510.9 1453.2,1511.7 1453.4,1512.0 1453.4,1511.6 1453.6,1511.2 1453.9,1510.2 1454.1,1508.8 1454.3,1507.2 1454.5,1504.4 1454.7,1500.7 1454.9,1490.6 1455.2,1475.3 1455.4,1459.7 1455.7,1445.1 1455.9,1430.3 1456.2,1416.0 1456.4,1403.2 1456.7,1391.0 1456.9,1377.8 1457.2,1360.3 1457.5,1341.5 1457.8,1323.2 1458.0,1306.0 1458.3,1289.4 1458.6,1274.1 1458.8,1265.0 1459.0,1256.4 1459.1,1249.5 1459.3,1245.9 1459.4,1242.7 1459.5,1241.4 1459.6,1243.2 1459.7,1247.5 1459.8,1252.3 1460.0,1260.9 1460.1,1271.2 1460.3,1282.3 1460.5,1296.5 1460.8,1311.9 1461.0,1328.7 1461.1,1344.3 1461.3,1361.2 1461.5,1377.8 1461.7,1393.9 1461.9,1409.8 1462.0,1424.2 1462.2,1436.3 1462.4,1447.2 1462.6,1459.7 1462.7,1474.3 1462.9,1490.5 1463.0,1500.7 1463.1,1504.6 1463.3,1507.3 1463.4,1508.8 1463.6,1510.2 1463.9,1511.2 1464.1,1511.6 1464.1,1511.5 1464.3,1511.1 1464.6,1510.2 1464.8,1508.7 1465.0,1507.0 1465.2,1504.2 1465.3,1500.4 1465.6,1490.2 1465.8,1474.6 1466.1,1458.7 1466.3,1443.9 1466.6,1428.8 1466.8,1414.3 1467.1,1401.3 1467.3,1388.8 1467.6,1375.4 1467.9,1357.6 1468.2,1338.4 1468.4,1319.9 1468.7,1302.4 1469.0,1285.5 1469.3,1269.9 1469.5,1260.6 1469.7,1251.9 1469.8,1244.9 1469.9,1241.2 1470.1,1237.9 1470.2,1236.5 1470.3,1238.4 1470.4,1242.8 1470.5,1247.7 1470.7,1256.4 1470.8,1266.9 1471.0,1278.2 1471.2,1292.6 1471.4,1308.4 1471.7,1325.4 1471.8,1341.3 1472.0,1358.5 1472.2,1375.4 1472.4,1391.8 1472.5,1407.9 1472.7,1422.6 1472.9,1434.9 1473.1,1446.1 1473.3,1458.7 1473.4,1473.6 1473.5,1490.1 1473.7,1500.4 1473.8,1504.4 1474.0,1507.1 1474.1,1508.7 1474.3,1510.2 1474.5,1511.2 1474.8,1511.5 1474.8,1511.7 1475.0,1511.3 1475.3,1510.4 1475.5,1509.1 1475.7,1507.5 1475.9,1504.8 1476.0,1501.2 1476.3,1491.6 1476.5,1476.9 1476.8,1462.0 1477.0,1448.0 1477.3,1433.8 1477.5,1420.2 1477.8,1407.9 1478.0,1396.2 1478.3,1383.5 1478.6,1366.8 1478.9,1348.7 1479.1,1331.2 1479.4,1314.8 1479.7,1298.8 1480.0,1284.2 1480.2,1275.4 1480.4,1267.2 1480.5,1260.6 1480.6,1257.1 1480.7,1254.1 1480.8,1252.8 1481.0,1254.5 1481.1,1258.6 1481.2,1263.2 1481.3,1271.5 1481.5,1281.3 1481.7,1292.0 1481.9,1305.6 1482.1,1320.4 1482.3,1336.5 1482.5,1351.4 1482.7,1367.6 1482.9,1383.5 1483.1,1399.0 1483.2,1414.2 1483.4,1428.0 1483.6,1439.5 1483.8,1450.0 1484.0,1462.0 1484.1,1476.0 1484.2,1491.5 1484.4,1501.2 1484.5,1505.0 1484.7,1507.6 1484.8,1509.1 1485.0,1510.4 1485.2,1511.3 1485.4,1511.7 1485.4,1511.8 1485.7,1511.4 1485.9,1510.5 1486.2,1509.3 1486.4,1507.7 1486.6,1505.1 1486.7,1501.7 1487.0,1492.4 1487.2,1478.3 1487.5,1463.9 1487.7,1450.5 1488.0,1436.7 1488.2,1423.6 1488.5,1411.8 1488.7,1400.5 1489.0,1388.3 1489.3,1372.2 1489.5,1354.8 1489.8,1338.0 1490.1,1322.1 1490.4,1306.8 1490.7,1292.6 1490.9,1284.2 1491.0,1276.3 1491.2,1270.0 1491.3,1266.6 1491.4,1263.7 1491.5,1262.4 1491.6,1264.1 1491.8,1268.0 1491.9,1272.5 1492.0,1280.4 1492.2,1289.9 1492.4,1300.2 1492.6,1313.2 1492.8,1327.5 1493.0,1343.0 1493.2,1357.4 1493.4,1373.0 1493.6,1388.3 1493.7,1403.2 1493.9,1417.8 1494.1,1431.2 1494.3,1442.3 1494.5,1452.4 1494.6,1463.9 1494.8,1477.4 1494.9,1492.4 1495.1,1501.7 1495.2,1505.3 1495.4,1507.8 1495.5,1509.3 1495.7,1510.6 1495.9,1511.4 1496.1,1511.8 1496.1,1511.3 1496.4,1510.9 1496.6,1509.8 1496.9,1508.3 1497.1,1506.5 1497.2,1503.4 1497.4,1499.4 1497.7,1488.4 1497.9,1471.6 1498.2,1454.5 1498.4,1438.6 1498.7,1422.3 1498.9,1406.7 1499.2,1392.7 1499.4,1379.3 1499.7,1364.9 1499.9,1345.8 1500.2,1325.1 1500.5,1305.1 1500.8,1286.3 1501.1,1268.1 1501.4,1251.4 1501.6,1241.4 1501.7,1232.0 1501.9,1224.5 1502.0,1220.5 1502.1,1217.0 1502.2,1215.5 1502.3,1217.5 1502.4,1222.2 1502.6,1227.5 1502.7,1236.8 1502.9,1248.1 1503.1,1260.3 1503.3,1275.8 1503.5,1292.8 1503.7,1311.1 1503.9,1328.2 1504.1,1346.7 1504.3,1364.9 1504.4,1382.6 1504.6,1399.9 1504.8,1415.7 1505.0,1428.9 1505.2,1440.9 1505.3,1454.5 1505.5,1470.5 1505.6,1488.3 1505.8,1499.4 1505.9,1503.6 1506.0,1506.6 1506.2,1508.3 1506.4,1509.9 1506.6,1510.9 1506.8,1511.3 1506.8,1512.1 1507.1,1511.8 1507.3,1511.0 1507.6,1509.9 1507.8,1508.5 1507.9,1506.3 1508.1,1503.3 1508.4,1495.1 1508.6,1482.8 1508.9,1470.2 1509.1,1458.4 1509.4,1446.4 1509.6,1434.9 1509.9,1424.5 1510.1,1414.6 1510.4,1404.0 1510.6,1389.8 1510.9,1374.6 1511.2,1359.9 1511.5,1346.0 1511.8,1332.5 1512.1,1320.1 1512.2,1312.8 1512.4,1305.9 1512.6,1300.3 1512.7,1297.3 1512.8,1294.8 1512.9,1293.7 1513.0,1295.1 1513.1,1298.6 1513.2,1302.5 1513.4,1309.4 1513.6,1317.8 1513.8,1326.8 1514.0,1338.2 1514.2,1350.7 1514.4,1364.3 1514.6,1376.9 1514.8,1390.6 1515.0,1404.0 1515.1,1417.0 1515.3,1429.8 1515.5,1441.5 1515.7,1451.2 1515.8,1460.1 1516.0,1470.2 1516.2,1482.0 1516.3,1495.1 1516.4,1503.3 1516.6,1506.4 1516.7,1508.6 1516.9,1509.9 1517.1,1511.0 1517.3,1511.8 1517.5,1512.1 1517.5,1512.2 1517.8,1511.9 1518.0,1511.1 1518.3,1510.0 1518.4,1508.7 1518.6,1506.5 1518.8,1503.6 1519.0,1495.7 1519.3,1483.6 1519.5,1471.4 1519.8,1459.9 1520.0,1448.2 1520.3,1437.0 1520.5,1427.0 1520.8,1417.3 1521.0,1407.0 1521.3,1393.2 1521.6,1378.4 1521.9,1364.1 1522.2,1350.5 1522.5,1337.5 1522.8,1325.4 1522.9,1318.3 1523.1,1311.5 1523.3,1306.1 1523.4,1303.2 1523.5,1300.7 1523.6,1299.7 1523.7,1301.1 1523.8,1304.5 1523.9,1308.3 1524.1,1315.0 1524.3,1323.1 1524.5,1331.9 1524.7,1343.0 1524.9,1355.2 1525.1,1368.4 1525.3,1380.6 1525.5,1393.9 1525.6,1407.0 1525.8,1419.7 1526.0,1432.1 1526.2,1443.5 1526.4,1452.9 1526.5,1461.6 1526.7,1471.4 1526.9,1482.9 1527.0,1495.6 1527.1,1503.6 1527.3,1506.6 1527.4,1508.8 1527.6,1510.0 1527.8,1511.1 1528.0,1511.9 1528.2,1512.2 1528.2,1512.5 1528.5,1512.2 1528.7,1511.6 1529.0,1510.7 1529.1,1509.6 1529.3,1507.7 1529.5,1505.3 1529.7,1498.6 1530.0,1488.4 1530.2,1478.1 1530.5,1468.5 1530.7,1458.6 1531.0,1449.2 1531.2,1440.7 1531.5,1432.5 1531.7,1423.8 1532.0,1412.2 1532.3,1399.7 1532.6,1387.6 1532.9,1376.2 1533.2,1365.2 1533.4,1355.1 1533.6,1349.0 1533.8,1343.3 1534.0,1338.8 1534.1,1336.4 1534.2,1334.2 1534.3,1333.3 1534.4,1334.6 1534.5,1337.4 1534.6,1340.6 1534.8,1346.3 1535.0,1353.1 1535.2,1360.5 1535.4,1369.9 1535.6,1380.1 1535.8,1391.2 1536.0,1401.6 1536.2,1412.8 1536.3,1423.8 1536.5,1434.5 1536.7,1445.0 1536.9,1454.6 1537.0,1462.6 1537.2,1469.8 1537.4,1478.1 1537.5,1487.8 1537.7,1498.5 1537.8,1505.3 1538.0,1507.8 1538.1,1509.6 1538.3,1510.7 1538.5,1511.6 1538.7,1512.3 1538.9,1512.5 1538.9,1511.5 1539.1,1511.1 1539.4,1510.2 1539.6,1508.7 1539.8,1507.0 1540.0,1504.2 1540.2,1500.4 1540.4,1490.2 1540.7,1474.6 1540.9,1458.7 1541.2,1443.9 1541.4,1428.8 1541.7,1414.3 1541.9,1401.3 1542.2,1388.8 1542.4,1375.4 1542.7,1357.6 1543.0,1338.4 1543.3,1319.9 1543.6,1302.4 1543.8,1285.5 1544.1,1269.9 1544.3,1260.6 1544.5,1251.9 1544.7,1244.9 1544.8,1241.2 1544.9,1237.9 1545.0,1236.5 1545.1,1238.4 1545.2,1242.8 1545.3,1247.7 1545.5,1256.4 1545.7,1266.9 1545.8,1278.2 1546.1,1292.6 1546.3,1308.4 1546.5,1325.4 1546.7,1341.3 1546.8,1358.5 1547.0,1375.4 1547.2,1391.8 1547.4,1407.9 1547.6,1422.6 1547.7,1434.9 1547.9,1446.1 1548.1,1458.7 1548.2,1473.6 1548.4,1490.1 1548.5,1500.4 1548.7,1504.4 1548.8,1507.1 1548.9,1508.7 1549.2,1510.2 1549.4,1511.2 1549.6,1511.5 1549.6,1512.1 1549.8,1511.8 1550.1,1511.1 1550.3,1510.0 1550.5,1508.6 1550.7,1506.4 1550.9,1503.5 1551.1,1495.5 1551.4,1483.3 1551.6,1470.9 1551.9,1459.4 1552.1,1447.6 1552.4,1436.3 1552.6,1426.1 1552.9,1416.4 1553.1,1405.9 1553.4,1392.0 1553.7,1377.0 1554.0,1362.5 1554.3,1348.9 1554.5,1335.7 1554.8,1323.5 1555.0,1316.3 1555.2,1309.5 1555.4,1304.0 1555.5,1301.1 1555.6,1298.6 1555.7,1297.5 1555.8,1299.0 1555.9,1302.4 1556.0,1306.2 1556.2,1313.0 1556.4,1321.2 1556.5,1330.0 1556.7,1341.3 1557.0,1353.6 1557.2,1366.9 1557.4,1379.3 1557.5,1392.7 1557.7,1405.9 1557.9,1418.7 1558.1,1431.3 1558.2,1442.8 1558.4,1452.3 1558.6,1461.0 1558.8,1470.9 1558.9,1482.5 1559.1,1495.4 1559.2,1503.5 1559.4,1506.6 1559.5,1508.7 1559.6,1510.0 1559.8,1511.1 1560.1,1511.8 1560.3,1512.1 1560.3,1512.2 1560.5,1511.9 1560.8,1511.2 1561.0,1510.1 1561.2,1508.9 1561.4,1506.7 1561.6,1503.9 1561.8,1496.3 1562.1,1484.6 1562.3,1472.8 1562.6,1461.7 1562.8,1450.4 1563.1,1439.5 1563.3,1429.8 1563.6,1420.5 1563.8,1410.5 1564.1,1397.2 1564.4,1382.8 1564.7,1368.9 1564.9,1355.9 1565.2,1343.2 1565.5,1331.6 1565.7,1324.6 1565.9,1318.1 1566.0,1312.9 1566.2,1310.1 1566.3,1307.7 1566.4,1306.6 1566.5,1308.0 1566.6,1311.3 1566.7,1315.0 1566.9,1321.5 1567.0,1329.3 1567.2,1337.8 1567.4,1348.6 1567.7,1360.3 1567.9,1373.1 1568.0,1385.0 1568.2,1397.9 1568.4,1410.5 1568.6,1422.7 1568.8,1434.8 1568.9,1445.8 1569.1,1454.9 1569.3,1463.3 1569.5,1472.8 1569.6,1483.9 1569.8,1496.2 1569.9,1503.9 1570.0,1506.9 1570.2,1509.0 1570.3,1510.1 1570.5,1511.2 1570.8,1511.9 1571.0,1512.2 1571.0,1511.3 1571.2,1510.9 1571.5,1509.8 1571.7,1508.3 1571.9,1506.5 1572.1,1503.5 1572.2,1499.4 1572.5,1488.4 1572.7,1471.7 1573.0,1454.7 1573.2,1438.7 1573.5,1422.5 1573.7,1406.9 1574.0,1393.0 1574.2,1379.6 1574.5,1365.2 1574.8,1346.1 1575.1,1325.5 1575.3,1305.6 1575.6,1286.8 1575.9,1268.6 1576.2,1251.9 1576.4,1241.9 1576.6,1232.6 1576.7,1225.1 1576.8,1221.1 1577.0,1217.6 1577.1,1216.1 1577.2,1218.1 1577.3,1222.8 1577.4,1228.0 1577.6,1237.4 1577.7,1248.7 1577.9,1260.8 1578.1,1276.3 1578.3,1293.2 1578.6,1311.5 1578.7,1328.6 1578.9,1347.1 1579.1,1365.2 1579.3,1382.8 1579.4,1400.1 1579.6,1415.9 1579.8,1429.0 1580.0,1441.0 1580.2,1454.7 1580.3,1470.6 1580.4,1488.3 1580.6,1499.4 1580.7,1503.7 1580.9,1506.6 1581.0,1508.3 1581.2,1509.9 1581.4,1510.9 1581.7,1511.3 1581.7,1511.5 1581.9,1511.2 1582.2,1510.2 1582.4,1508.8 1582.6,1507.1 1582.8,1504.3 1582.9,1500.5 1583.2,1490.3 1583.4,1474.8 1583.7,1459.1 1583.9,1444.3 1584.2,1429.3 1584.4,1414.9 1584.7,1401.9 1584.9,1389.5 1585.2,1376.2 1585.5,1358.5 1585.8,1339.4 1586.0,1321.0 1586.3,1303.6 1586.6,1286.8 1586.9,1271.3 1587.1,1262.0 1587.3,1253.4 1587.4,1246.4 1587.5,1242.7 1587.6,1239.5 1587.8,1238.1 1587.9,1240.0 1588.0,1244.3 1588.1,1249.2 1588.2,1257.8 1588.4,1268.3 1588.6,1279.5 1588.8,1293.9 1589.0,1309.5 1589.2,1326.5 1589.4,1342.3 1589.6,1359.4 1589.8,1376.2 1590.0,1392.5 1590.1,1408.5 1590.3,1423.2 1590.5,1435.3 1590.7,1446.4 1590.9,1459.1 1591.0,1473.8 1591.1,1490.2 1591.3,1500.5 1591.4,1504.5 1591.6,1507.2 1591.7,1508.8 1591.9,1510.2 1592.1,1511.2 1592.3,1511.5 1592.3,1512.3 1592.6,1512.0 1592.8,1511.3 1593.1,1510.3 1593.3,1509.0 1593.5,1507.0 1593.6,1504.3 1593.9,1496.9 1594.1,1485.6 1594.4,1474.1 1594.6,1463.4 1594.9,1452.5 1595.1,1442.0 1595.4,1432.6 1595.6,1423.6 1595.9,1413.9 1596.2,1401.0 1596.4,1387.2 1596.7,1373.7 1597.0,1361.1 1597.3,1348.9 1597.6,1337.6 1597.8,1330.9 1597.9,1324.6 1598.1,1319.5 1598.2,1316.8 1598.3,1314.5 1598.4,1313.5 1598.5,1314.9 1598.7,1318.0 1598.8,1321.5 1598.9,1327.8 1599.1,1335.4 1599.3,1343.6 1599.5,1354.0 1599.7,1365.4 1599.9,1377.8 1600.1,1389.3 1600.3,1401.7 1600.5,1413.9 1600.6,1425.8 1600.8,1437.4 1601.0,1448.0 1601.2,1456.9 1601.4,1465.0 1601.5,1474.1 1601.7,1484.9 1601.8,1496.8 1602.0,1504.3 1602.1,1507.1 1602.3,1509.1 1602.4,1510.3 1602.6,1511.3 1602.8,1512.0 1603.0,1512.3 1603.0,1511.2 1603.3,1510.8 1603.5,1509.7 1603.8,1508.2 1604.0,1506.3 1604.1,1503.2 1604.3,1499.0 1604.6,1487.8 1604.8,1470.7 1605.1,1453.3 1605.3,1437.0 1605.6,1420.4 1605.8,1404.5 1606.1,1390.1 1606.3,1376.5 1606.6,1361.7 1606.8,1342.2 1607.1,1321.1 1607.4,1300.7 1607.7,1281.5 1608.0,1262.9 1608.3,1245.8 1608.5,1235.6 1608.6,1226.1 1608.8,1218.3 1608.9,1214.3 1609.0,1210.7 1609.1,1209.2 1609.2,1211.3 1609.3,1216.0 1609.5,1221.4 1609.6,1231.0 1609.8,1242.5 1610.0,1255.0 1610.2,1270.8 1610.4,1288.1 1610.6,1306.8 1610.8,1324.3 1611.0,1343.2 1611.2,1361.7 1611.3,1379.8 1611.5,1397.5 1611.7,1413.6 1611.9,1427.1 1612.1,1439.3 1612.2,1453.3 1612.4,1469.6 1612.5,1487.7 1612.7,1499.0 1612.8,1503.4 1612.9,1506.4 1613.1,1508.2 1613.3,1509.8 1613.5,1510.8 1613.7,1511.2 1613.7,1511.8 1614.0,1511.5 1614.2,1510.6 1614.5,1509.3 1614.7,1507.8 1614.8,1505.3 1615.0,1501.9 1615.3,1492.7 1615.5,1478.8 1615.8,1464.5 1616.0,1451.3 1616.3,1437.7 1616.5,1424.7 1616.8,1413.1 1617.0,1401.9 1617.3,1389.9 1617.5,1374.0 1617.8,1356.8 1618.1,1340.2 1618.4,1324.5 1618.7,1309.3 1619.0,1295.4 1619.1,1287.1 1619.3,1279.3 1619.5,1273.0 1619.6,1269.7 1619.7,1266.8 1619.8,1265.5 1619.9,1267.2 1620.0,1271.1 1620.1,1275.5 1620.3,1283.3 1620.5,1292.7 1620.7,1302.8 1620.9,1315.7 1621.1,1329.9 1621.3,1345.1 1621.5,1359.4 1621.7,1374.8 1621.9,1389.9 1622.0,1404.6 1622.2,1419.0 1622.4,1432.2 1622.6,1443.2 1622.7,1453.2 1622.9,1464.5 1623.1,1477.9 1623.2,1492.6 1623.3,1501.9 1623.5,1505.4 1623.6,1507.9 1623.8,1509.3 1624.0,1510.6 1624.2,1511.5 1624.4,1511.8 1624.4,1510.0 1624.7,1509.4 1624.9,1507.9 1625.2,1505.8 1625.3,1503.1 1625.5,1498.8 1625.7,1492.9 1625.9,1477.2 1626.2,1453.2 1626.4,1428.8 1626.7,1406.0 1626.9,1382.8 1627.2,1360.5 1627.4,1340.4 1627.7,1321.3 1627.9,1300.7 1628.2,1273.3 1628.5,1243.7 1628.8,1215.2 1629.1,1188.3 1629.4,1162.3 1629.7,1138.3 1629.8,1124.0 1630.0,1110.7 1630.2,1099.8 1630.3,1094.1 1630.4,1089.2 1630.5,1087.0 1630.6,1089.9 1630.7,1096.6 1630.8,1104.1 1631.0,1117.5 1631.2,1133.7 1631.4,1151.1 1631.6,1173.3 1631.8,1197.5 1632.0,1223.8 1632.2,1248.2 1632.4,1274.7 1632.5,1300.7 1632.7,1325.9 1632.9,1350.7 1633.1,1373.3 1633.3,1392.1 1633.4,1409.3 1633.6,1428.8 1633.8,1451.7 1633.9,1477.1 1634.0,1492.9 1634.2,1499.1 1634.3,1503.3 1634.5,1505.8 1634.7,1507.9 1634.9,1509.5 1635.1,1510.0 1635.1,1509.9 1635.4,1509.3 1635.6,1507.7 1635.9,1505.5 1636.0,1502.7 1636.2,1498.2 1636.4,1492.2 1636.6,1475.9 1636.9,1451.2 1637.1,1426.0 1637.4,1402.4 1637.6,1378.3 1637.9,1355.3 1638.1,1334.6 1638.4,1314.7 1638.6,1293.4 1638.9,1265.1 1639.2,1234.6 1639.5,1205.1 1639.8,1177.3 1640.1,1150.4 1640.3,1125.6 1640.5,1110.9 1640.7,1097.0 1640.9,1085.8 1641.0,1079.9 1641.1,1074.8 1641.2,1072.6 1641.3,1075.6 1641.4,1082.5 1641.5,1090.3 1641.7,1104.2 1641.9,1120.8 1642.1,1138.9 1642.3,1161.8 1642.5,1186.8 1642.7,1213.9 1642.9,1239.2 1643.1,1266.6 1643.2,1293.4 1643.4,1319.5 1643.6,1345.2 1643.8,1368.5 1643.9,1388.0 1644.1,1405.8 1644.3,1426.0 1644.4,1449.6 1644.6,1475.8 1644.7,1492.2 1644.9,1498.5 1645.0,1502.9 1645.2,1505.5 1645.4,1507.7 1645.6,1509.3 1645.8,1509.9 1645.8,1510.9 1646.0,1510.4 1646.3,1509.2 1646.5,1507.5 1646.7,1505.4 1646.9,1501.9 1647.1,1497.3 1647.3,1484.7 1647.6,1465.6 1647.8,1446.1 1648.1,1427.9 1648.3,1409.4 1648.6,1391.6 1648.8,1375.6 1649.1,1360.3 1649.3,1343.9 1649.6,1322.0 1649.9,1298.4 1650.2,1275.7 1650.5,1254.2 1650.7,1233.5 1651.0,1214.3 1651.2,1202.9 1651.4,1192.3 1651.6,1183.6 1651.7,1179.1 1651.8,1175.1 1651.9,1173.4 1652.0,1175.7 1652.1,1181.1 1652.2,1187.1 1652.4,1197.8 1652.6,1210.7 1652.7,1224.6 1653.0,1242.2 1653.2,1261.6 1653.4,1282.5 1653.6,1302.0 1653.7,1323.1 1653.9,1343.9 1654.1,1364.0 1654.3,1383.8 1654.5,1401.8 1654.6,1416.8 1654.8,1430.5 1655.0,1446.1 1655.1,1464.4 1655.3,1484.6 1655.4,1497.3 1655.6,1502.1 1655.7,1505.5 1655.8,1507.5 1656.1,1509.2 1656.3,1510.4 1656.5,1510.9 1656.5,1511.0 1656.7,1510.6 1657.0,1509.4 1657.2,1507.7 1657.4,1505.7 1657.6,1502.4 1657.8,1497.9 1658.0,1485.8 1658.3,1467.4 1658.5,1448.7 1658.8,1431.2 1659.0,1413.3 1659.3,1396.2 1659.5,1380.8 1659.8,1366.1 1660.0,1350.3 1660.3,1329.3 1660.6,1306.6 1660.9,1284.7 1661.2,1264.1 1661.4,1244.1 1661.7,1225.7 1661.9,1214.8 1662.1,1204.5 1662.3,1196.2 1662.4,1191.8 1662.5,1188.0 1662.6,1186.3 1662.7,1188.6 1662.8,1193.7 1662.9,1199.5 1663.1,1209.8 1663.3,1222.2 1663.4,1235.5 1663.6,1252.5 1663.9,1271.2 1664.1,1291.3 1664.3,1310.1 1664.4,1330.4 1664.6,1350.3 1664.8,1369.7 1665.0,1388.7 1665.1,1406.1 1665.3,1420.5 1665.5,1433.7 1665.7,1448.7 1665.8,1466.3 1666.0,1485.7 1666.1,1497.9 1666.3,1502.6 1666.4,1505.9 1666.5,1507.7 1666.7,1509.4 1667.0,1510.6 1667.2,1511.0 1667.2,1510.7 1667.4,1510.2 1667.7,1509.0 1667.9,1507.1 1668.1,1504.9 1668.3,1501.3 1668.5,1496.4 1668.7,1483.2 1669.0,1463.1 1669.2,1442.6 1669.5,1423.5 1669.7,1404.0 1670.0,1385.3 1670.2,1368.5 1670.5,1352.4 1670.7,1335.1 1671.0,1312.2 1671.3,1287.4 1671.6,1263.5 1671.8,1240.9 1672.1,1219.1 1672.4,1199.0 1672.6,1187.0 1672.8,1175.8 1672.9,1166.7 1673.1,1161.9 1673.2,1157.8 1673.3,1156.0 1673.4,1158.4 1673.5,1164.0 1673.6,1170.3 1673.8,1181.6 1673.9,1195.1 1674.1,1209.7 1674.3,1228.3 1674.6,1248.6 1674.8,1270.6 1674.9,1291.2 1675.1,1313.4 1675.3,1335.1 1675.5,1356.3 1675.7,1377.1 1675.8,1396.1 1676.0,1411.9 1676.2,1426.3 1676.4,1442.6 1676.5,1461.8 1676.7,1483.1 1676.8,1496.4 1676.9,1501.5 1677.1,1505.1 1677.2,1507.1 1677.4,1509.0 1677.7,1510.2 1677.9,1510.7 1677.9,1511.4 1678.1,1511.0 1678.4,1510.0 1678.6,1508.5 1678.8,1506.7 1679.0,1503.8 1679.1,1499.9 1679.4,1489.2 1679.6,1473.1 1679.9,1456.6 1680.1,1441.2 1680.4,1425.5 1680.6,1410.4 1680.9,1396.9 1681.1,1383.9 1681.4,1370.0 1681.7,1351.5 1682.0,1331.6 1682.2,1312.3 1682.5,1294.1 1682.8,1276.6 1683.1,1260.4 1683.3,1250.7 1683.5,1241.7 1683.6,1234.4 1683.7,1230.5 1683.9,1227.2 1684.0,1225.7 1684.1,1227.7 1684.2,1232.2 1684.3,1237.3 1684.5,1246.3 1684.6,1257.2 1684.8,1269.0 1685.0,1284.0 1685.2,1300.4 1685.5,1318.1 1685.6,1334.6 1685.8,1352.5 1686.0,1370.0 1686.2,1387.1 1686.3,1403.8 1686.5,1419.1 1686.7,1431.8 1686.9,1443.4 1687.1,1456.6 1687.2,1472.0 1687.3,1489.2 1687.5,1499.9 1687.6,1504.0 1687.8,1506.9 1687.9,1508.5 1688.1,1510.0 1688.3,1511.0 1688.6,1511.4 1688.6,1511.2 1688.8,1510.8 1689.1,1509.6 1689.3,1508.0 1689.5,1506.1 1689.7,1502.9 1689.8,1498.7 1690.1,1487.1 1690.3,1469.6 1690.6,1451.8 1690.8,1435.1 1691.1,1418.1 1691.3,1401.8 1691.6,1387.1 1691.8,1373.1 1692.1,1358.0 1692.4,1338.0 1692.7,1316.3 1692.9,1295.5 1693.2,1275.8 1693.5,1256.7 1693.8,1239.2 1694.0,1228.8 1694.2,1219.0 1694.3,1211.1 1694.4,1206.9 1694.5,1203.2 1694.6,1201.7 1694.8,1203.8 1694.9,1208.7 1695.0,1214.2 1695.1,1224.0 1695.3,1235.8 1695.5,1248.6 1695.7,1264.8 1695.9,1282.5 1696.1,1301.7 1696.3,1319.6 1696.5,1339.0 1696.7,1358.0 1696.9,1376.5 1697.0,1394.6 1697.2,1411.1 1697.4,1424.9 1697.6,1437.5 1697.8,1451.8 1697.9,1468.5 1698.0,1487.1 1698.2,1498.7 1698.3,1503.2 1698.5,1506.2 1698.6,1508.0 1698.8,1509.6 1699.0,1510.8 1699.2,1511.2 1699.2,1509.7 1699.5,1509.0 1699.7,1507.4 1700.0,1505.0 1700.2,1502.2 1700.4,1497.4 1700.5,1491.1 1700.8,1474.0 1701.0,1448.0 1701.3,1421.5 1701.5,1396.8 1701.8,1371.5 1702.0,1347.3 1702.3,1325.6 1702.5,1304.8 1702.8,1282.4 1703.1,1252.7 1703.3,1220.6 1703.6,1189.7 1703.9,1160.5 1704.2,1132.2 1704.5,1106.2 1704.7,1090.7 1704.8,1076.2 1705.0,1064.4 1705.1,1058.3 1705.2,1052.8 1705.3,1050.5 1705.4,1053.7 1705.6,1060.9 1705.7,1069.1 1705.8,1083.7 1706.0,1101.2 1706.2,1120.1 1706.4,1144.2 1706.6,1170.5 1706.8,1198.9 1707.0,1225.5 1707.2,1254.2 1707.4,1282.4 1707.5,1309.8 1707.7,1336.7 1707.9,1361.3 1708.1,1381.7 1708.3,1400.4 1708.4,1421.5 1708.6,1446.4 1708.7,1473.9 1708.9,1491.1 1709.0,1497.8 1709.2,1502.4 1709.3,1505.0 1709.5,1507.4 1709.7,1509.0 1709.9,1509.7 1709.9,1509.3 1710.2,1508.6 1710.4,1506.9 1710.7,1504.3 1710.9,1501.2 1711.0,1496.1 1711.2,1489.4 1711.5,1471.0 1711.7,1443.0 1712.0,1414.5 1712.2,1387.9 1712.5,1360.7 1712.7,1334.7 1713.0,1311.2 1713.2,1288.9 1713.5,1264.8 1713.7,1232.8 1714.0,1198.3 1714.3,1165.0 1714.6,1133.6 1714.9,1103.2 1715.2,1075.2 1715.4,1058.5 1715.5,1042.9 1715.7,1030.3 1715.8,1023.6 1715.9,1017.8 1716.0,1015.3 1716.1,1018.7 1716.2,1026.5 1716.4,1035.3 1716.5,1050.9 1716.7,1069.8 1716.9,1090.2 1717.1,1116.0 1717.3,1144.3 1717.5,1175.0 1717.7,1203.6 1717.9,1234.5 1718.1,1264.8 1718.2,1294.3 1718.4,1323.2 1718.6,1349.6 1718.8,1371.6 1719.0,1391.7 1719.1,1414.5 1719.3,1441.2 1719.4,1470.8 1719.6,1489.4 1719.7,1496.5 1719.8,1501.4 1720.0,1504.3 1720.2,1506.9 1720.4,1508.6 1720.6,1509.3 1720.6,1509.6 1720.9,1508.9 1721.1,1507.2 1721.4,1504.8 1721.6,1501.9 1721.7,1497.0 1721.9,1490.6 1722.2,1473.1 1722.4,1446.5 1722.7,1419.4 1722.9,1394.1 1723.2,1368.3 1723.4,1343.5 1723.7,1321.3 1723.9,1300.0 1724.2,1277.1 1724.4,1246.7 1724.7,1213.9 1725.0,1182.3 1725.3,1152.4 1725.6,1123.5 1725.9,1096.9 1726.0,1081.0 1726.2,1066.2 1726.4,1054.2 1726.5,1047.8 1726.6,1042.3 1726.7,1040.0 1726.8,1043.2 1726.9,1050.6 1727.0,1058.9 1727.2,1073.8 1727.4,1091.8 1727.6,1111.1 1727.8,1135.7 1728.0,1162.6 1728.2,1191.7 1728.4,1218.9 1728.6,1248.3 1728.8,1277.1 1728.9,1305.1 1729.1,1332.6 1729.3,1357.8 1729.5,1378.7 1729.6,1397.8 1729.8,1419.4 1730.0,1444.8 1730.1,1473.0 1730.2,1490.6 1730.4,1497.4 1730.5,1502.1 1730.7,1504.8 1730.9,1507.2 1731.1,1508.9 1731.3,1509.6 1731.3,1511.4 1731.6,1511.0 1731.8,1509.9 1732.1,1508.4 1732.2,1506.6 1732.4,1503.6 1732.6,1499.6 1732.8,1488.7 1733.1,1472.2 1733.3,1455.4 1733.6,1439.7 1733.8,1423.6 1734.1,1408.2 1734.3,1394.4 1734.6,1381.2 1734.8,1367.0 1735.1,1348.1 1735.4,1327.8 1735.7,1308.1 1736.0,1289.5 1736.3,1271.6 1736.6,1255.1 1736.7,1245.2 1736.9,1236.0 1737.1,1228.5 1737.2,1224.6 1737.3,1221.2 1737.4,1219.7 1737.5,1221.7 1737.6,1226.3 1737.7,1231.5 1737.9,1240.8 1738.1,1251.9 1738.3,1263.9 1738.5,1279.2 1738.7,1295.9 1738.9,1314.0 1739.1,1330.9 1739.3,1349.1 1739.4,1367.0 1739.6,1384.4 1739.8,1401.5 1740.0,1417.1 1740.2,1430.1 1740.3,1441.9 1740.5,1455.4 1740.7,1471.1 1740.8,1488.6 1740.9,1499.6 1741.1,1503.8 1741.2,1506.7 1741.4,1508.4 1741.6,1509.9 1741.8,1511.0 1742.0,1511.4 1742.0,1510.8 1742.3,1510.4 1742.5,1509.1 1742.8,1507.4 1742.9,1505.3 1743.1,1501.7 1743.3,1497.0 1743.5,1484.3 1743.8,1465.0 1744.0,1445.3 1744.3,1426.9 1744.5,1408.1 1744.8,1390.1 1745.0,1373.9 1745.3,1358.4 1745.5,1341.8 1745.8,1319.6 1746.1,1295.8 1746.4,1272.7 1746.7,1251.0 1747.0,1230.0 1747.2,1210.6 1747.4,1199.1 1747.6,1188.3 1747.8,1179.6 1747.9,1175.0 1748.0,1170.9 1748.1,1169.2 1748.2,1171.5 1748.3,1176.9 1748.4,1183.0 1748.6,1193.9 1748.8,1206.9 1749.0,1221.0 1749.2,1238.9 1749.4,1258.5 1749.6,1279.6 1749.8,1299.4 1750.0,1320.8 1750.1,1341.8 1750.3,1362.1 1750.5,1382.1 1750.7,1400.4 1750.8,1415.6 1751.0,1429.5 1751.2,1445.3 1751.3,1463.7 1751.5,1484.2 1751.6,1497.0 1751.8,1502.0 1751.9,1505.4 1752.1,1507.4 1752.3,1509.2 1752.5,1510.4 1752.7,1510.8 1752.7,1510.0 1752.9,1509.5 1753.2,1507.9 1753.4,1505.8 1753.6,1503.1 1753.8,1498.8 1754.0,1493.0 1754.2,1477.3 1754.5,1453.4 1754.7,1429.0 1755.0,1406.3 1755.2,1383.1 1755.5,1360.8 1755.7,1340.8 1756.0,1321.7 1756.2,1301.2 1756.5,1273.9 1756.8,1244.4 1757.1,1215.9 1757.4,1189.1 1757.6,1163.1 1757.9,1139.2 1758.1,1125.0 1758.3,1111.6 1758.5,1100.8 1758.6,1095.1 1758.7,1090.2 1758.8,1088.0 1758.9,1090.9 1759.0,1097.6 1759.1,1105.1 1759.3,1118.5 1759.5,1134.6 1759.6,1152.0 1759.9,1174.1 1760.1,1198.3 1760.3,1224.4 1760.5,1248.9 1760.6,1275.3 1760.8,1301.2 1761.0,1326.4 1761.2,1351.1 1761.4,1373.6 1761.5,1392.4 1761.7,1409.6 1761.9,1429.0 1762.0,1451.9 1762.2,1477.2 1762.3,1493.0 1762.5,1499.1 1762.6,1503.3 1762.7,1505.8 1763.0,1508.0 1763.2,1509.5 1763.4,1510.0 1763.4,1510.9 1763.6,1510.5 1763.9,1509.3 1764.1,1507.6 1764.3,1505.5 1764.5,1502.1 1764.7,1497.5 1764.9,1485.1 1765.2,1466.3 1765.4,1447.1 1765.7,1429.2 1765.9,1410.9 1766.2,1393.4 1766.4,1377.6 1766.7,1362.6 1766.9,1346.4 1767.2,1324.8 1767.5,1301.6 1767.8,1279.2 1768.1,1258.0 1768.3,1237.6 1768.6,1218.7 1768.8,1207.5 1769.0,1197.0 1769.2,1188.5 1769.3,1184.0 1769.4,1180.1 1769.5,1178.4 1769.6,1180.7 1769.7,1185.9 1769.8,1191.8 1770.0,1202.4 1770.2,1215.1 1770.3,1228.8 1770.5,1246.2 1770.8,1265.3 1771.0,1285.9 1771.2,1305.1 1771.3,1325.9 1771.5,1346.4 1771.7,1366.2 1771.9,1385.7 1772.0,1403.5 1772.2,1418.3 1772.4,1431.8 1772.6,1447.1 1772.7,1465.1 1772.9,1485.0 1773.0,1497.5 1773.2,1502.3 1773.3,1505.6 1773.4,1507.6 1773.6,1509.3 1773.9,1510.5 1774.1,1510.9 1774.1,1509.3 1774.3,1508.6 1774.6,1506.9 1774.8,1504.3 1775.0,1501.2 1775.2,1496.1 1775.4,1489.4 1775.6,1471.0 1775.9,1443.0 1776.1,1414.5 1776.4,1387.9 1776.6,1360.7 1776.9,1334.7 1777.1,1311.2 1777.4,1288.9 1777.6,1264.8 1777.9,1232.8 1778.2,1198.3 1778.5,1165.0 1778.7,1133.6 1779.0,1103.2 1779.3,1075.2 1779.5,1058.5 1779.7,1042.9 1779.8,1030.3 1780.0,1023.6 1780.1,1017.8 1780.2,1015.3 1780.3,1018.7 1780.4,1026.5 1780.5,1035.3 1780.7,1050.9 1780.8,1069.8 1781.0,1090.2 1781.2,1116.0 1781.5,1144.3 1781.7,1175.0 1781.8,1203.6 1782.0,1234.5 1782.2,1264.8 1782.4,1294.3 1782.6,1323.2 1782.7,1349.6 1782.9,1371.6 1783.1,1391.7 1783.3,1414.5 1783.4,1441.2 1783.6,1470.8 1783.7,1489.4 1783.8,1496.5 1784.0,1501.4 1784.1,1504.3 1784.3,1506.9 1784.6,1508.6 1784.8,1509.3 1784.8,1509.8 1785.0,1509.2 1785.3,1507.6 1785.5,1505.3 1785.7,1502.6 1785.9,1498.0 1786.0,1491.9 1786.3,1475.3 1786.5,1450.2 1786.8,1424.6 1787.0,1400.7 1787.3,1376.2 1787.5,1352.8 1787.8,1331.8 1788.0,1311.7 1788.3,1290.1 1788.6,1261.3 1788.9,1230.3 1789.1,1200.4 1789.4,1172.1 1789.7,1144.8 1790.0,1119.6 1790.2,1104.7 1790.4,1090.6 1790.5,1079.3 1790.6,1073.3 1790.8,1068.0 1790.9,1065.8 1791.0,1068.7 1791.1,1075.3 1791.2,1082.8 1791.4,1096.1 1791.5,1112.2 1791.7,1129.5 1791.9,1151.5 1792.1,1175.6 1792.4,1201.6 1792.5,1225.9 1792.7,1252.2 1792.9,1278.0 1793.1,1303.1 1793.2,1327.7 1793.4,1350.2 1793.6,1368.9 1793.8,1386.0 1794.0,1405.4 1794.1,1428.1 1794.2,1453.3 1794.4,1469.0 1794.5,1475.1 1794.7,1479.3 1794.8,1481.8 1795.0,1483.9 1795.2,1485.4 1795.5,1486.0 1795.5,1487.5 1795.7,1487.1 1796.0,1486.1 1796.2,1484.6 1796.4,1482.9 1796.6,1480.1 1796.7,1476.2 1797.0,1465.9 1797.2,1450.2 1797.5,1434.2 1797.7,1419.3 1798.0,1404.0 1798.2,1389.4 1798.5,1376.2 1798.7,1363.7 1799.0,1350.2 1799.3,1332.2 1799.6,1312.9 1799.8,1294.1 1800.1,1276.5 1800.4,1259.4 1800.7,1243.7 1800.9,1234.4 1801.1,1225.6 1801.2,1218.5 1801.3,1214.8 1801.4,1211.5 1801.5,1210.1 1801.7,1211.7 1801.8,1215.6 1801.9,1219.9 1802.0,1227.5 1802.2,1236.8 1802.4,1246.7 1802.6,1259.4 1802.8,1273.2 1803.0,1288.2 1803.2,1302.2 1803.4,1317.3 1803.6,1332.1 1803.8,1346.6 1803.9,1360.7 1804.1,1373.6 1804.3,1384.4 1804.5,1394.2 1804.7,1405.4 1804.8,1418.4 1804.9,1432.9 1805.1,1442.0 1805.2,1445.5 1805.4,1447.9 1805.5,1449.3 1805.7,1450.5 1805.9,1451.4 1806.1,1451.7 1806.1,1450.9 1806.4,1450.5 1806.6,1449.4 1806.9,1447.7 1807.1,1445.7 1807.3,1442.4 1807.4,1438.0 1807.7,1426.1 1807.9,1408.0 1808.2,1389.5 1808.4,1372.2 1808.7,1354.6 1808.9,1337.7 1809.2,1322.6 1809.4,1308.1 1809.7,1292.5 1810.0,1271.7 1810.2,1249.4 1810.5,1227.8 1810.8,1207.4 1811.1,1187.7 1811.4,1169.5 1811.6,1158.8 1811.7,1148.6 1811.9,1140.4 1812.0,1136.1 1812.1,1132.3 1812.2,1130.7 1812.3,1133.2 1812.5,1138.8 1812.6,1145.1 1812.7,1156.4 1812.9,1170.0 1813.1,1184.7 1813.3,1203.3 1813.5,1223.7 1813.7,1245.8 1813.9,1266.4 1814.1,1288.6 1814.3,1310.5 1814.4,1331.7 1814.6,1352.6 1814.8,1371.6 1815.0,1387.5 1815.2,1401.9 1815.3,1418.3 1815.5,1437.6 1815.6,1458.9 1815.8,1472.3 1815.9,1477.4 1816.1,1481.0 1816.2,1483.1 1816.4,1484.9 1816.6,1486.2 1816.8,1486.7 1816.8,1486.0 1817.1,1485.4 1817.3,1483.9 1817.6,1481.8 1817.8,1479.2 1817.9,1474.9 1818.1,1469.1 1818.4,1453.5 1818.6,1429.8 1818.9,1405.6 1819.1,1383.0 1819.4,1359.9 1819.6,1337.9 1819.9,1318.0 1820.1,1299.0 1820.4,1278.6 1820.6,1251.5 1820.9,1222.2 1821.2,1194.0 1821.5,1167.3 1821.8,1141.6 1822.1,1117.8 1822.3,1103.7 1822.4,1090.4 1822.6,1079.7 1822.7,1074.1 1822.8,1069.1 1822.9,1067.0 1823.0,1069.9 1823.1,1076.8 1823.3,1084.4 1823.4,1098.1 1823.6,1114.6 1823.8,1132.3 1824.0,1154.9 1824.2,1179.6 1824.4,1206.3 1824.6,1231.2 1824.8,1258.2 1825.0,1284.6 1825.1,1310.4 1825.3,1335.6 1825.5,1358.6 1825.7,1377.8 1825.9,1395.3 1826.0,1415.2 1826.2,1438.5 1826.3,1464.3 1826.5,1480.5 1826.6,1486.8 1826.7,1491.1 1826.9,1493.6 1827.1,1495.8 1827.3,1497.3 1827.5,1497.9 1827.5,1498.8 1827.8,1498.4 1828.0,1497.1 1828.3,1495.4 1828.5,1493.3 1828.6,1489.7 1828.8,1485.1 1829.1,1472.4 1829.3,1453.1 1829.6,1433.4 1829.8,1415.0 1830.1,1396.2 1830.3,1378.3 1830.6,1362.1 1830.8,1346.6 1831.1,1330.0 1831.3,1308.0 1831.6,1284.1 1831.9,1261.1 1832.2,1239.4 1832.5,1218.5 1832.8,1199.1 1832.9,1187.6 1833.1,1176.8 1833.3,1168.1 1833.4,1163.5 1833.5,1159.5 1833.6,1157.8 1833.7,1160.2 1833.8,1165.8 1833.9,1172.0 1834.1,1183.3 1834.3,1196.7 1834.5,1211.3 1834.7,1229.8 1834.9,1250.0 1835.1,1271.9 1835.3,1292.3 1835.5,1314.4 1835.7,1336.0 1835.8,1357.1 1836.0,1377.8 1836.2,1396.7 1836.4,1412.4 1836.5,1426.7 1836.7,1443.0 1836.9,1462.1 1837.0,1483.2 1837.1,1496.5 1837.3,1501.6 1837.4,1505.1 1837.6,1507.2 1837.8,1509.0 1838.0,1510.3 1838.2,1510.7 1838.2,1511.5 1838.5,1511.2 1838.7,1510.2 1839.0,1508.8 1839.1,1507.1 1839.3,1504.3 1839.5,1500.5 1839.7,1490.3 1840.0,1474.9 1840.2,1459.1 1840.5,1444.4 1840.7,1429.3 1841.0,1415.0 1841.2,1402.0 1841.5,1389.6 1841.7,1376.3 1842.0,1358.6 1842.3,1339.6 1842.6,1321.1 1842.9,1303.8 1843.2,1287.0 1843.5,1271.5 1843.6,1262.3 1843.8,1253.6 1844.0,1246.6 1844.1,1242.9 1844.2,1239.7 1844.3,1238.3 1844.4,1240.1 1844.5,1244.1 1844.6,1248.7 1844.8,1256.8 1845.0,1266.5 1845.2,1277.0 1845.4,1290.4 1845.6,1305.0 1845.8,1320.9 1846.0,1335.7 1846.2,1351.6 1846.3,1367.3 1846.5,1382.5 1846.7,1397.5 1846.9,1411.2 1847.1,1422.5 1847.2,1432.9 1847.4,1444.7 1847.6,1458.5 1847.7,1473.8 1847.8,1483.4 1848.0,1487.1 1848.1,1489.6 1848.3,1491.1 1848.5,1492.4 1848.7,1493.3 1848.9,1493.7 1848.9,1493.3 1849.2,1492.9 1849.4,1491.9 1849.7,1490.4 1849.8,1488.6 1850.0,1485.5 1850.2,1481.5 1850.4,1470.7 1850.7,1454.2 1850.9,1437.3 1851.2,1421.6 1851.4,1405.6 1851.7,1390.2 1851.9,1376.4 1852.2,1363.2 1852.4,1349.0 1852.7,1330.1 1853.0,1309.7 1853.3,1290.1 1853.6,1271.5 1853.9,1253.6 1854.1,1237.0 1854.3,1227.2 1854.5,1218.0 1854.7,1210.5 1854.8,1206.6 1854.9,1203.1 1855.0,1201.7 1855.1,1203.8 1855.2,1208.7 1855.3,1214.2 1855.5,1224.0 1855.7,1235.8 1855.9,1248.6 1856.1,1264.8 1856.3,1282.5 1856.5,1301.7 1856.7,1319.6 1856.9,1339.0 1857.0,1358.0 1857.2,1376.5 1857.4,1394.6 1857.6,1411.1 1857.7,1424.9 1857.9,1437.5 1858.1,1451.8 1858.2,1468.5 1858.4,1487.1 1858.5,1498.7 1858.7,1503.2 1858.8,1506.2 1859.0,1508.0 1859.2,1509.6 1859.4,1510.8 1859.6,1511.2 1859.6,1510.7 1859.8,1510.3 1860.1,1509.0 1860.3,1507.2 1860.5,1505.0 1860.7,1501.3 1860.9,1496.5 1861.1,1483.3 1861.4,1463.4 1861.6,1443.0 1861.9,1424.0 1862.1,1404.5 1862.4,1386.0 1862.6,1369.2 1862.9,1353.2 1863.1,1336.0 1863.4,1313.2 1863.7,1288.6 1864.0,1264.7 1864.3,1242.3 1864.5,1220.6 1864.8,1200.6 1865.0,1188.7 1865.2,1177.5 1865.4,1168.5 1865.5,1163.7 1865.6,1159.6 1865.7,1157.8 1865.8,1160.2 1865.9,1165.8 1866.0,1172.0 1866.2,1183.3 1866.4,1196.7 1866.5,1211.3 1866.8,1229.8 1867.0,1250.0 1867.2,1271.9 1867.4,1292.3 1867.5,1314.4 1867.7,1336.0 1867.9,1357.1 1868.1,1377.8 1868.3,1396.7 1868.4,1412.4 1868.6,1426.7 1868.8,1443.0 1868.9,1462.1 1869.1,1483.2 1869.2,1496.5 1869.4,1501.6 1869.5,1505.1 1869.6,1507.2 1869.9,1509.0 1870.1,1510.3 1870.3,1510.7 1870.3,1511.0 1870.5,1510.5 1870.8,1509.3 1871.0,1507.6 1871.2,1505.5 1871.4,1502.1 1871.6,1497.6 1871.8,1485.3 1872.1,1466.5 1872.3,1447.4 1872.6,1429.6 1872.8,1411.4 1873.1,1394.0 1873.3,1378.3 1873.6,1363.3 1873.8,1347.2 1874.1,1325.7 1874.4,1302.6 1874.7,1280.3 1875.0,1259.3 1875.2,1238.9 1875.5,1220.1 1875.7,1209.0 1875.9,1198.5 1876.1,1190.1 1876.2,1185.6 1876.3,1181.7 1876.4,1180.0 1876.5,1182.2 1876.6,1187.1 1876.7,1192.7 1876.9,1202.6 1877.1,1214.6 1877.2,1227.5 1877.4,1243.9 1877.7,1261.8 1877.9,1281.2 1878.1,1299.3 1878.2,1318.9 1878.4,1338.1 1878.6,1356.8 1878.8,1375.2 1878.9,1391.9 1879.1,1405.8 1879.3,1418.6 1879.5,1433.0 1879.6,1449.9 1879.8,1468.7 1879.9,1480.5 1880.1,1485.0 1880.2,1488.1 1880.3,1489.9 1880.5,1491.6 1880.8,1492.7 1881.0,1493.1 1881.0,1494.0 1881.2,1493.7 1881.5,1492.9 1881.7,1491.7 1881.9,1490.3 1882.1,1488.0 1882.3,1484.8 1882.5,1476.4 1882.8,1463.6 1883.0,1450.6 1883.3,1438.4 1883.5,1425.9 1883.8,1414.0 1884.0,1403.3 1884.3,1393.1 1884.5,1382.0 1884.8,1367.4 1885.1,1351.6 1885.4,1336.3 1885.6,1322.0 1885.9,1308.0 1886.2,1295.2 1886.4,1287.6 1886.6,1280.4 1886.7,1274.7 1886.9,1271.6 1887.0,1268.9 1887.1,1267.8 1887.2,1269.5 1887.3,1273.3 1887.4,1277.7 1887.6,1285.4 1887.7,1294.7 1887.9,1304.8 1888.1,1317.6 1888.4,1331.6 1888.6,1346.7 1888.7,1360.8 1888.9,1376.1 1889.1,1391.1 1889.3,1405.6 1889.5,1419.9 1889.6,1433.0 1889.8,1443.8 1890.0,1453.7 1890.2,1465.0 1890.3,1478.2 1890.5,1492.8 1890.6,1502.0 1890.7,1505.5 1890.9,1507.9 1891.0,1509.4 1891.2,1510.6 1891.5,1511.5 1891.7,1511.8 1891.7,1510.3 1891.9,1509.7 1892.2,1508.3 1892.4,1506.2 1892.6,1503.7 1892.8,1499.6 1892.9,1494.1 1893.2,1479.2 1893.4,1456.5 1893.7,1433.4 1893.9,1411.9 1894.2,1389.8 1894.4,1368.7 1894.7,1349.8 1894.9,1331.6 1895.2,1312.1 1895.5,1286.2 1895.8,1258.2 1896.0,1231.2 1896.3,1205.8 1896.6,1181.2 1896.9,1158.5 1897.1,1145.0 1897.3,1132.3 1897.4,1122.1 1897.5,1116.7 1897.7,1111.9 1897.8,1109.9 1897.9,1112.7 1898.0,1119.0 1898.1,1126.1 1898.3,1138.8 1898.4,1154.1 1898.6,1170.6 1898.8,1191.6 1899.0,1214.5 1899.3,1239.3 1899.4,1262.5 1899.6,1287.5 1899.8,1312.1 1900.0,1336.0 1900.1,1359.4 1900.3,1380.9 1900.5,1398.7 1900.7,1415.0 1900.9,1433.4 1901.0,1455.1 1901.1,1479.1 1901.3,1494.1 1901.4,1499.9 1901.6,1503.9 1901.7,1506.2 1901.9,1508.3 1902.1,1509.7 1902.4,1510.3 1902.4,1509.6 1902.6,1509.0 1902.9,1507.3 1903.1,1504.9 1903.3,1502.1 1903.5,1497.3 1903.6,1490.9 1903.9,1473.7 1904.1,1447.5 1904.4,1420.8 1904.6,1395.8 1904.9,1370.3 1905.1,1345.9 1905.4,1324.0 1905.6,1303.0 1905.9,1280.4 1906.2,1250.5 1906.5,1218.1 1906.7,1186.9 1907.0,1157.4 1907.3,1129.0 1907.6,1102.7 1907.8,1087.1 1908.0,1072.4 1908.1,1060.6 1908.2,1054.3 1908.3,1048.9 1908.4,1046.6 1908.6,1049.6 1908.7,1056.5 1908.8,1064.3 1908.9,1078.3 1909.1,1095.0 1909.3,1113.1 1909.5,1136.1 1909.7,1161.3 1909.9,1188.5 1910.1,1214.0 1910.3,1241.4 1910.5,1268.4 1910.7,1294.6 1910.8,1320.3 1911.0,1343.8 1911.2,1363.4 1911.4,1381.2 1911.6,1401.5 1911.7,1425.3 1911.8,1451.6 1912.0,1468.1 1912.1,1474.4 1912.3,1478.8 1912.4,1481.4 1912.6,1483.7 1912.8,1485.2 1913.0,1485.8 1913.0,1487.1 1913.3,1486.7 1913.5,1485.6 1913.8,1484.0 1914.0,1482.1 1914.2,1478.9 1914.3,1474.6 1914.6,1463.1 1914.8,1445.6 1915.1,1427.7 1915.3,1411.0 1915.6,1394.0 1915.8,1377.7 1916.1,1363.0 1916.3,1349.0 1916.6,1333.9 1916.9,1313.9 1917.1,1292.3 1917.4,1271.4 1917.7,1251.7 1918.0,1232.7 1918.3,1215.1 1918.5,1204.7 1918.6,1194.9 1918.8,1187.0 1918.9,1182.8 1919.0,1179.2 1919.1,1177.6 1919.2,1179.9 1919.4,1185.2 1919.5,1191.1 1919.6,1201.7 1919.8,1214.4 1920.0,1228.1 1920.2,1245.6 1920.4,1264.7 1920.6,1285.4 1920.8,1304.7 1921.0,1325.5 1921.2,1346.0 1921.3,1365.8 1921.5,1385.4 1921.7,1403.2 1921.9,1418.0 1922.1,1431.6 1922.2,1447.0 1922.4,1465.0 1922.5,1485.0 1922.7,1497.5 1922.8,1502.3 1923.0,1505.6 1923.1,1507.6 1923.3,1509.3 1923.5,1510.5 1923.7,1510.9 1923.7,1508.8 1924.0,1508.0 1924.2,1506.1 1924.5,1503.3 1924.7,1499.9 1924.8,1494.3 1925.0,1486.7 1925.3,1466.4 1925.5,1435.5 1925.8,1404.1 1926.0,1374.7 1926.3,1344.6 1926.5,1315.9 1926.8,1290.0 1927.0,1265.3 1927.3,1238.7 1927.5,1203.4 1927.8,1165.3 1928.1,1128.5 1928.4,1093.8 1928.7,1060.2 1929.0,1029.3 1929.2,1010.9 1929.3,993.6 1929.5,979.7 1929.6,972.3 1929.7,965.9 1929.8,963.1 1929.9,966.6 1930.0,974.8 1930.2,984.0 1930.3,1000.3 1930.5,1020.0 1930.7,1041.3 1930.9,1068.3 1931.1,1097.9 1931.3,1129.9 1931.5,1159.7 1931.7,1192.0 1931.9,1223.7 1932.0,1254.5 1932.2,1284.7 1932.4,1312.3 1932.6,1335.2 1932.8,1356.2 1932.9,1380.0 1933.1,1407.9 1933.2,1438.8 1933.4,1458.2 1933.5,1465.7 1933.6,1470.8 1933.8,1473.8 1934.0,1476.5 1934.2,1478.3 1934.4,1479.0 1934.4,1481.6 1934.7,1481.2 1934.9,1480.3 1935.2,1479.0 1935.4,1477.3 1935.5,1474.6 1935.7,1471.0 1936.0,1461.3 1936.2,1446.5 1936.5,1431.5 1936.7,1417.4 1937.0,1403.0 1937.2,1389.2 1937.5,1376.8 1937.7,1365.0 1938.0,1352.3 1938.2,1335.4 1938.5,1317.1 1938.8,1299.5 1939.1,1282.9 1939.4,1266.8 1939.7,1252.0 1939.8,1243.2 1940.0,1234.9 1940.2,1228.2 1940.3,1224.7 1940.4,1221.6 1940.5,1220.3 1940.6,1222.3 1940.7,1226.9 1940.8,1232.1 1941.0,1241.3 1941.2,1252.4 1941.4,1264.4 1941.6,1279.7 1941.8,1296.3 1942.0,1314.4 1942.2,1331.2 1942.4,1349.4 1942.6,1367.3 1942.7,1384.7 1942.9,1401.7 1943.1,1417.3 1943.3,1430.2 1943.4,1442.1 1943.6,1455.5 1943.8,1471.2 1943.9,1488.7 1944.0,1499.6 1944.2,1503.8 1944.3,1506.7 1944.5,1508.4 1944.7,1509.9 1944.9,1511.0 1945.1,1511.4 1949.5,1273.8"/></defs>
<g clip-path="url(#cD)"><use href="#sD" class="th"/><use href="#sD" class="ts"/></g>
<path d="M1202.5 913.1V1527.0H1949.5" fill="none" stroke="#6a6a6a" stroke-width="1.8"/>
<path d="M1202.5 913.1H1949.5V1527.0" fill="none" stroke="#7a7a7a" stroke-width="1.8" stroke-dasharray="7 0.7"/>
<line x1="1192.5" y1="1514.3" x2="1202.5" y2="1514.3" class="t"/>
<text transform="translate(1182.7,1527.2) scale(0.78,1)" text-anchor="end" font-size="37.3">0.0</text>
<line x1="1192.5" y1="1394.1" x2="1202.5" y2="1394.1" class="t"/>
<text transform="translate(1182.7,1407.0) scale(0.78,1)" text-anchor="end" font-size="37.3">0.2</text>
<line x1="1192.5" y1="1273.8" x2="1202.5" y2="1273.8" class="t"/>
<text transform="translate(1182.7,1286.7) scale(0.78,1)" text-anchor="end" font-size="37.3">0.4</text>
<line x1="1192.5" y1="1153.6" x2="1202.5" y2="1153.6" class="t"/>
<text transform="translate(1182.7,1166.5) scale(0.78,1)" text-anchor="end" font-size="37.3">0.6</text>
<line x1="1192.5" y1="1033.3" x2="1202.5" y2="1033.3" class="t"/>
<text transform="translate(1182.7,1046.2) scale(0.78,1)" text-anchor="end" font-size="37.3">0.8</text>
<line x1="1192.5" y1="913.1" x2="1202.5" y2="913.1" class="t"/>
<text transform="translate(1182.7,926.0) scale(0.78,1)" text-anchor="end" font-size="37.3">1.0</text>
<line x1="1212.7" y1="1527.0" x2="1212.7" y2="1535.0" class="t"/>
<text transform="translate(1212.7,1557.3) scale(0.83,1)" text-anchor="middle" font-size="25">1950</text>
<line x1="1266.2" y1="1527.0" x2="1266.2" y2="1535.0" class="t"/>
<text transform="translate(1266.2,1557.3) scale(0.83,1)" text-anchor="middle" font-size="25">1955</text>
<line x1="1319.6" y1="1527.0" x2="1319.6" y2="1535.0" class="t"/>
<text transform="translate(1319.6,1557.3) scale(0.83,1)" text-anchor="middle" font-size="25">1960</text>
<line x1="1373.0" y1="1527.0" x2="1373.0" y2="1535.0" class="t"/>
<text transform="translate(1373.0,1557.3) scale(0.83,1)" text-anchor="middle" font-size="25">1965</text>
<line x1="1426.5" y1="1527.0" x2="1426.5" y2="1535.0" class="t"/>
<text transform="translate(1426.5,1557.3) scale(0.83,1)" text-anchor="middle" font-size="25">1970</text>
<line x1="1480.0" y1="1527.0" x2="1480.0" y2="1535.0" class="t"/>
<text transform="translate(1480.0,1557.3) scale(0.83,1)" text-anchor="middle" font-size="25">1975</text>
<line x1="1533.4" y1="1527.0" x2="1533.4" y2="1535.0" class="t"/>
<text transform="translate(1533.4,1557.3) scale(0.83,1)" text-anchor="middle" font-size="25">1980</text>
<line x1="1586.8" y1="1527.0" x2="1586.8" y2="1535.0" class="t"/>
<text transform="translate(1586.8,1557.3) scale(0.83,1)" text-anchor="middle" font-size="25">1985</text>
<line x1="1640.3" y1="1527.0" x2="1640.3" y2="1535.0" class="t"/>
<text transform="translate(1640.3,1557.3) scale(0.83,1)" text-anchor="middle" font-size="25">1990</text>
<line x1="1693.8" y1="1527.0" x2="1693.8" y2="1535.0" class="t"/>
<text transform="translate(1693.8,1557.3) scale(0.83,1)" text-anchor="middle" font-size="25">1995</text>
<line x1="1747.2" y1="1527.0" x2="1747.2" y2="1535.0" class="t"/>
<text transform="translate(1747.2,1557.3) scale(0.83,1)" text-anchor="middle" font-size="25">2000</text>
<line x1="1800.7" y1="1527.0" x2="1800.7" y2="1535.0" class="t"/>
<text transform="translate(1800.7,1557.3) scale(0.83,1)" text-anchor="middle" font-size="25">2005</text>
<line x1="1854.1" y1="1527.0" x2="1854.1" y2="1535.0" class="t"/>
<text transform="translate(1854.1,1557.3) scale(0.83,1)" text-anchor="middle" font-size="25">2010</text>
<line x1="1907.6" y1="1527.0" x2="1907.6" y2="1535.0" class="t"/>
<text transform="translate(1907.6,1557.3) scale(0.83,1)" text-anchor="middle" font-size="25">2015</text>
<text transform="translate(1102.8,1425.5) rotate(-90)" font-size="41.6">Phosphate [<tspan dx="-1.3" textLength="32.6" lengthAdjust="spacingAndGlyphs" font-size="38" style="font-family:'DejaVu Sans Light','DejaVu Sans',sans-serif;font-style:italic;font-weight:200;stroke:#111;stroke-width:.55">μ</tspan><tspan dx="2.1">mol kg</tspan><tspan dy="-16.2" font-size="19.6">-1</tspan><tspan dy="16.2" dx="-1">]</tspan></text>
<text x="1033.3" y="893.3" font-size="29.5" font-weight="bold">D</text>
</svg></body></html>
